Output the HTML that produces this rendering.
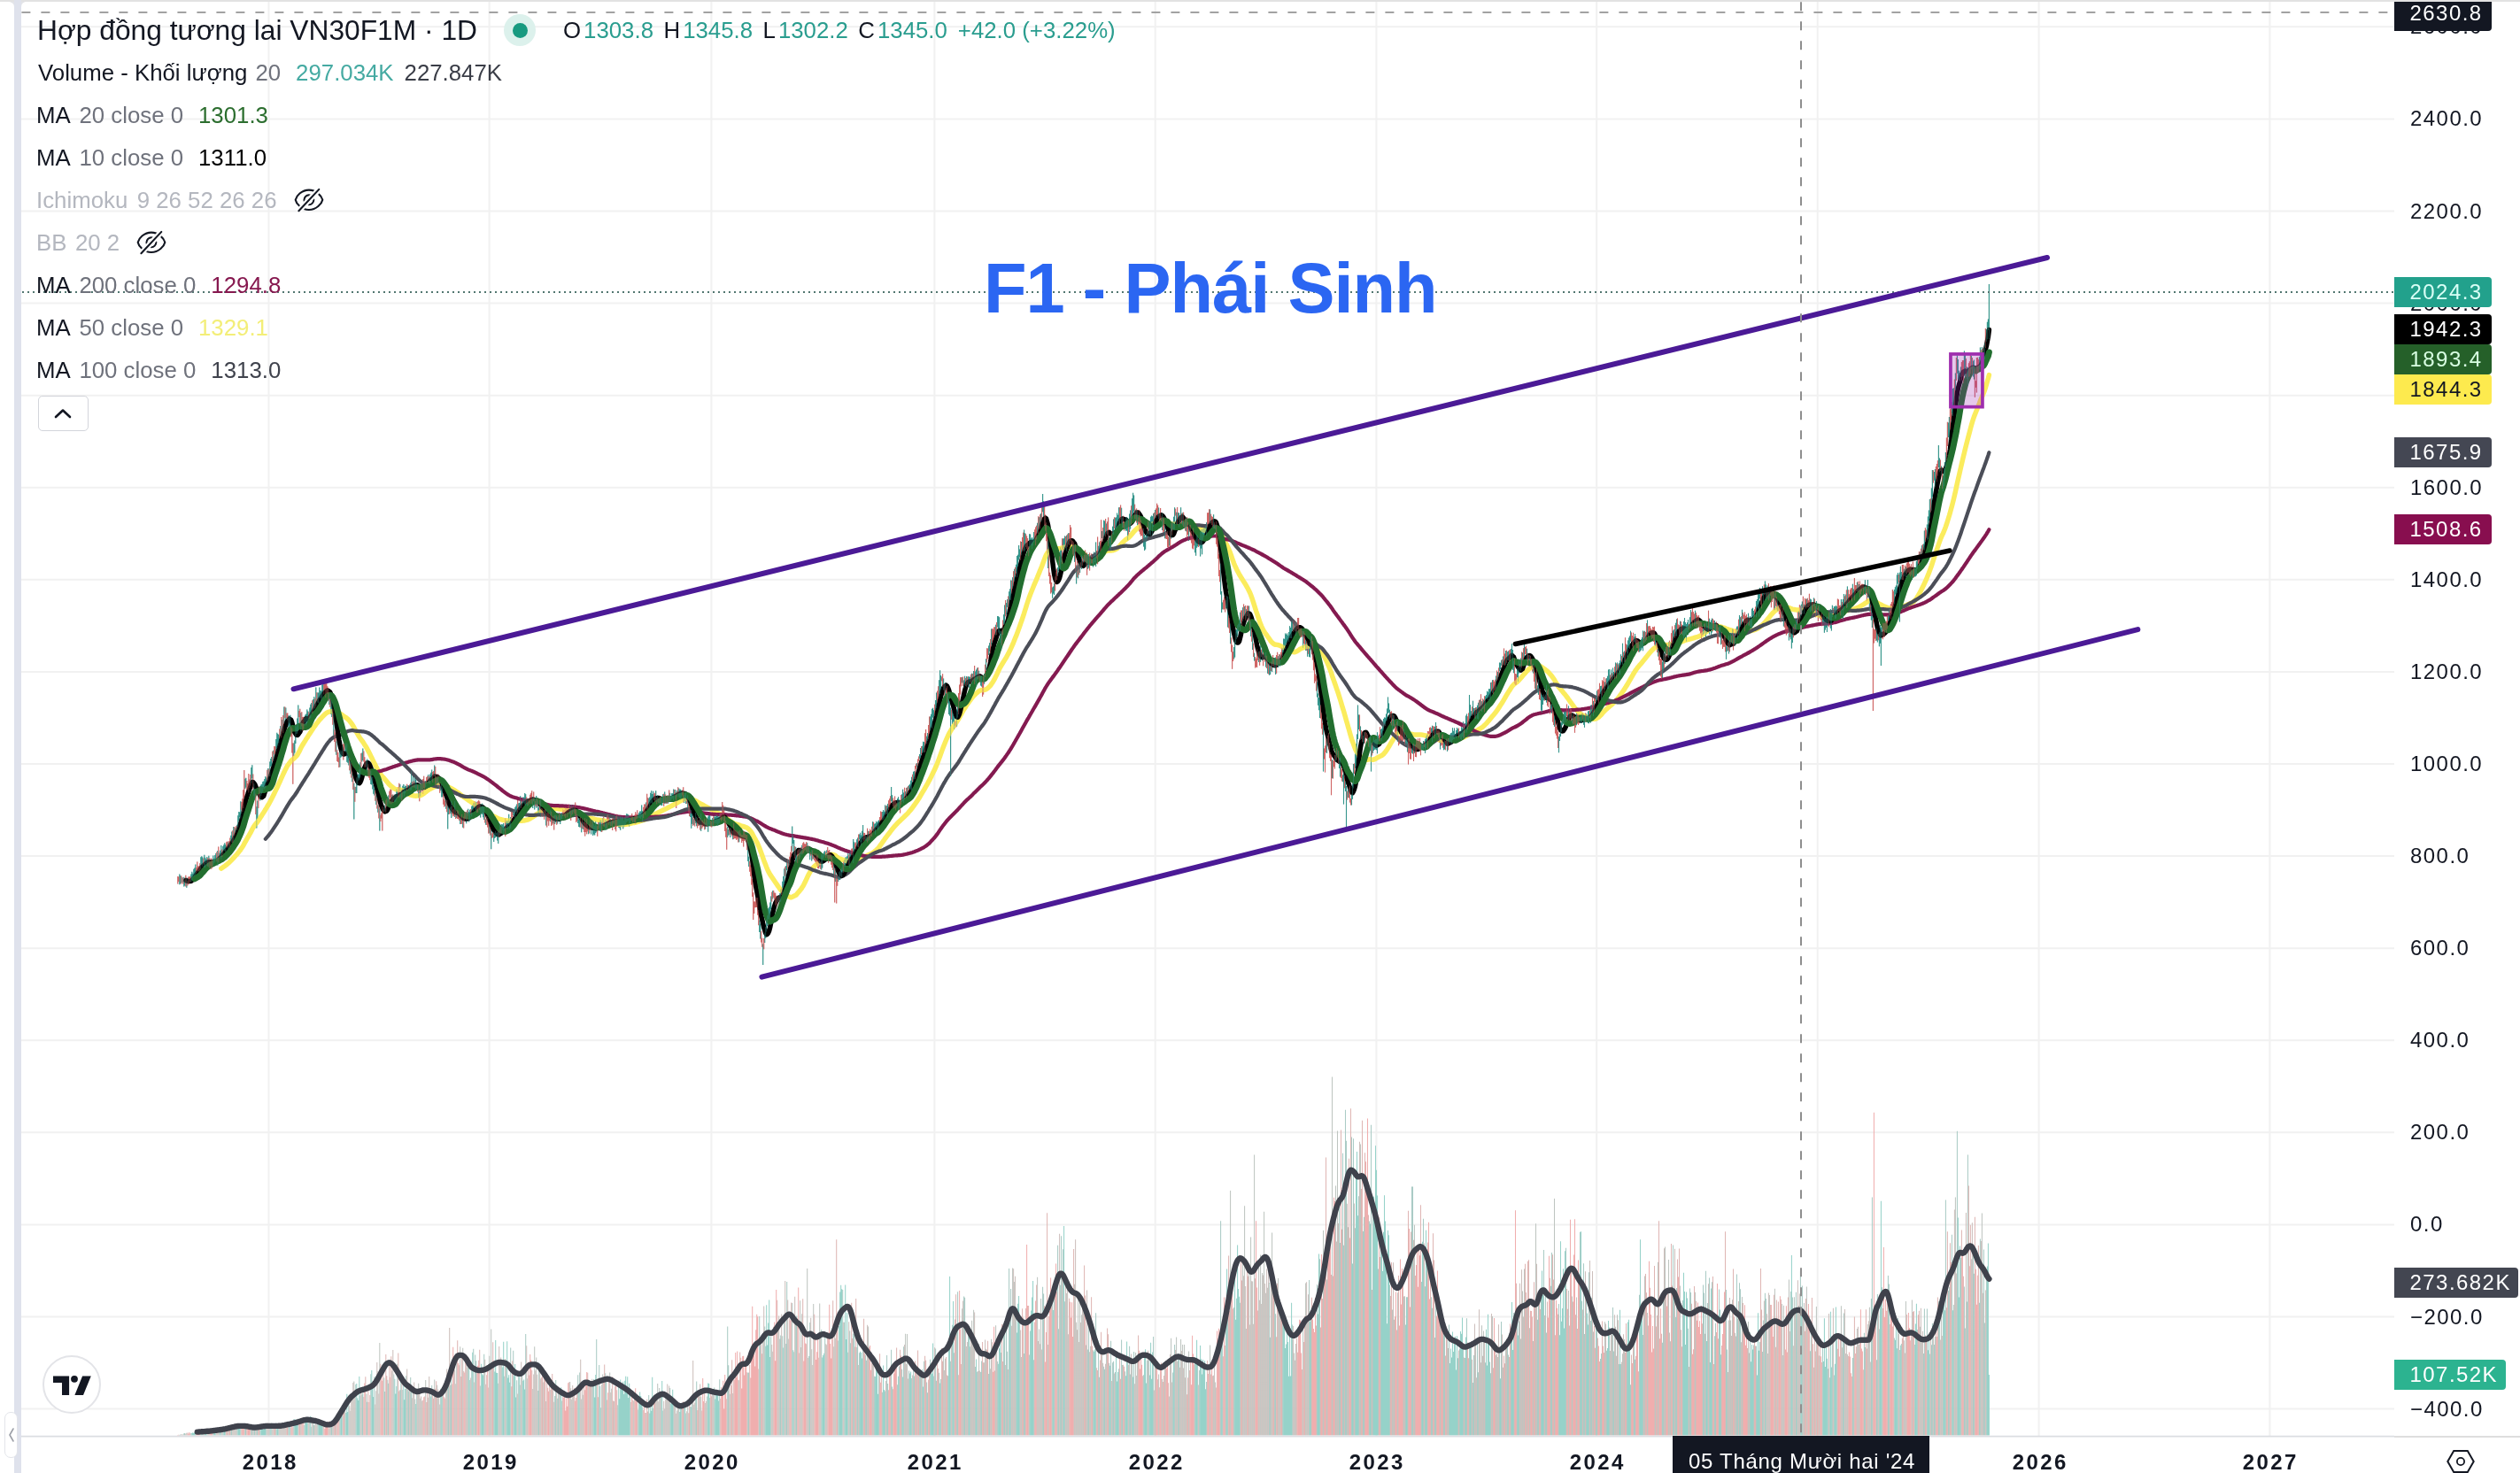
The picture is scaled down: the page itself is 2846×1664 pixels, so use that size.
<!DOCTYPE html>
<html lang="vi">
<head>
<meta charset="utf-8">
<title>Hợp đồng tương lai VN30F1M · 1D</title>
<style>
html,body{margin:0;padding:0;background:#fff;}
body{width:2846px;height:1664px;position:relative;overflow:hidden;font-family:"Liberation Sans",sans-serif;color:#131722;}
.abs{position:absolute;}
.legend,.ax,.lab,.yr,.big,.dt{will-change:transform;}
.topbar{left:0;top:0;width:2846px;height:2px;background:#e2e2e2;}
.leftband{left:16px;top:0;width:8px;height:1664px;background:#dfe2ec;}
svg.chart{position:absolute;left:0;top:0;}
.legend{position:absolute;left:43px;white-space:nowrap;font-size:25.8px;line-height:30px;height:30px;color:#131722;}
.legend span{display:inline-block;}
.g{color:#6f727c;}
.h{color:#b4b7bf;}
.title{font-size:31.75px;}
.ax{position:absolute;left:2721.5px;font-size:24px;line-height:28px;height:28px;letter-spacing:1.45px;color:#131722;white-space:nowrap;}
.lab{position:absolute;left:2704px;width:110px;height:34px;border-radius:0 4px 4px 0;font-size:24px;line-height:34px;letter-spacing:1.45px;color:#fff;white-space:nowrap;box-sizing:border-box;padding-left:17.5px;}
.yr{position:absolute;top:1638px;width:120px;margin-left:-60px;text-align:center;font-size:24px;line-height:28px;font-weight:bold;letter-spacing:2.4px;text-indent:2.4px;color:#131722;}
.big{position:absolute;left:1111.4px;top:281.2px;font-size:79.5px;line-height:90px;font-weight:bold;color:#2b66f2;white-space:nowrap;letter-spacing:-1px;}
</style>
</head>
<body>
<div class="abs topbar"></div>
<div class="abs leftband"></div>
<svg class="abs" style="left:0;top:0;" width="40" height="10" viewBox="0 0 40 10"><path d="M8 1.800Q16 2 16 8V1.800ZM31 1.800Q24 2 24 8V1.800Z" fill="#e3e4e8"/></svg>
<svg class="chart" width="2846" height="1664" viewBox="0 0 2846 1664">
<path d="M303.5 2V1622M552.6 2V1622M803.4 2V1622M1055.4 2V1622M1304.7 2V1622M1554.4 2V1622M1803.2 2V1622M2052.7 2V1622M2302.6 2V1622M2563.4 2V1622M24 1591.6H2704M24 1487.5H2704M24 1383.4H2704M24 1279.3H2704M24 1175.3H2704M24 1071.2H2704M24 967.1H2704M24 863.0H2704M24 758.9H2704M24 654.8H2704M24 550.7H2704M24 446.7H2704M24 342.6H2704M24 238.5H2704M24 134.4H2704M24 30.3H2704" stroke="#f1f1f1" stroke-width="2" fill="none"/>
<g>
<path d="M216.8 1621.5V1619.1M217.8 1621.5V1618.3M218.8 1621.5V1619.0M219.8 1621.5V1618.0M227.8 1621.5V1617.2M231.8 1621.5V1617.8M232.8 1621.5V1617.5M241.8 1621.5V1616.8M242.8 1621.5V1616.0M248.8 1621.5V1616.7M252.8 1621.5V1615.4M253.8 1621.5V1616.1M268.8 1621.5V1610.3M269.8 1621.5V1610.9M270.8 1621.5V1613.1M294.8 1621.5V1613.6M295.8 1621.5V1613.1M296.8 1621.5V1614.5M297.8 1621.5V1614.8M298.8 1621.5V1610.2M299.8 1621.5V1613.0M305.8 1621.5V1612.8M312.8 1621.5V1614.3M313.8 1621.5V1612.7M326.8 1621.5V1611.9M332.8 1621.5V1602.9M333.8 1621.5V1604.0M334.8 1621.5V1608.1M335.8 1621.5V1608.9M344.8 1621.5V1606.9M345.8 1621.5V1602.6M346.8 1621.5V1606.1M350.8 1621.5V1599.7M359.8 1621.5V1604.7M360.8 1621.5V1608.1M361.8 1621.5V1605.9M362.8 1621.5V1610.2M363.8 1621.5V1607.3M384.8 1621.5V1598.3M385.8 1621.5V1600.1M390.8 1621.5V1596.0M391.8 1621.5V1574.7M392.8 1621.5V1595.1M402.8 1621.5V1562.9M403.8 1621.5V1579.4M404.8 1621.5V1582.0M405.8 1621.5V1555.1M419.8 1621.5V1548.0M420.8 1621.5V1562.9M421.8 1621.5V1578.1M445.8 1621.5V1557.7M446.8 1621.5V1574.6M447.8 1621.5V1566.0M455.8 1621.5V1562.2M456.7 1621.5V1581.3M457.7 1621.5V1568.9M469.7 1621.5V1585.9M486.7 1621.5V1577.5M498.7 1621.5V1574.7M529.7 1621.5V1539.7M533.7 1621.5V1527.8M543.7 1621.5V1540.7M544.7 1621.5V1552.6M545.7 1621.5V1553.5M558.7 1621.5V1549.4M559.7 1621.5V1514.1M560.7 1621.5V1550.8M561.7 1621.5V1550.9M567.7 1621.5V1544.5M568.7 1621.5V1515.7M572.7 1621.5V1515.2M573.7 1621.5V1556.4M574.7 1621.5V1553.3M575.7 1621.5V1561.7M580.7 1621.5V1554.3M581.7 1621.5V1541.1M582.7 1621.5V1578.6M586.7 1621.5V1554.3M590.7 1621.5V1559.8M591.7 1621.5V1558.6M592.7 1621.5V1569.5M633.7 1621.5V1567.3M653.7 1621.5V1570.8M670.7 1621.5V1558.1M671.7 1621.5V1578.5M672.7 1621.5V1553.0M677.7 1621.5V1566.1M698.7 1621.5V1565.4M699.7 1621.5V1580.2M700.7 1621.5V1558.5M701.7 1621.5V1568.7M702.7 1621.5V1564.9M703.7 1621.5V1560.8M704.7 1621.5V1575.0M705.7 1621.5V1559.7M706.7 1621.5V1554.7M707.7 1621.5V1566.7M708.7 1621.5V1555.3M709.7 1621.5V1578.9M710.7 1621.5V1562.8M721.7 1621.5V1581.5M722.7 1621.5V1572.4M723.7 1621.5V1576.9M724.7 1621.5V1580.9M733.7 1621.5V1596.6M734.7 1621.5V1583.4M735.7 1621.5V1593.8M736.7 1621.5V1555.7M747.7 1621.5V1559.9M757.7 1621.5V1585.5M758.7 1621.5V1578.5M759.7 1621.5V1569.8M767.7 1621.5V1595.1M768.7 1621.5V1591.5M773.7 1621.5V1586.8M780.7 1621.5V1589.2M799.7 1621.5V1562.4M800.7 1621.5V1562.9M807.7 1621.5V1580.4M808.7 1621.5V1576.1M809.7 1621.5V1572.6M810.7 1621.5V1574.1M811.7 1621.5V1582.6M864.7 1621.5V1520.7M865.7 1621.5V1474.3M866.7 1621.5V1519.6M867.7 1621.5V1494.4M868.7 1621.5V1468.4M869.7 1621.5V1533.1M884.7 1621.5V1522.5M895.7 1621.5V1525.2M928.7 1621.5V1533.5M929.7 1621.5V1531.1M930.7 1621.5V1528.8M947.7 1621.5V1497.9M948.7 1621.5V1459.6M949.7 1621.5V1451.8M950.7 1621.5V1456.3M954.7 1621.5V1451.6M955.7 1621.5V1513.0M956.7 1621.5V1483.0M971.6 1621.5V1526.8M972.6 1621.5V1527.9M973.6 1621.5V1534.5M988.6 1621.5V1555.0M989.6 1621.5V1535.3M990.6 1621.5V1540.8M991.6 1621.5V1574.8M997.6 1621.5V1542.5M998.6 1621.5V1569.9M1014.6 1621.5V1554.8M1019.6 1621.5V1555.4M1027.6 1621.5V1551.6M1028.6 1621.5V1549.6M1042.6 1621.5V1566.4M1051.6 1621.5V1551.2M1052.6 1621.5V1551.7M1053.6 1621.5V1517.5M1061.6 1621.5V1562.4M1071.6 1621.5V1513.7M1072.6 1621.5V1442.0M1076.6 1621.5V1470.0M1094.6 1621.5V1498.2M1102.6 1621.5V1535.4M1127.6 1621.5V1540.7M1128.6 1621.5V1523.2M1129.6 1621.5V1515.0M1140.6 1621.5V1494.0M1148.6 1621.5V1505.4M1149.6 1621.5V1472.7M1150.6 1621.5V1463.9M1163.6 1621.5V1503.4M1164.6 1621.5V1480.5M1165.6 1621.5V1465.6M1166.6 1621.5V1446.9M1189.6 1621.5V1480.1M1201.6 1621.5V1384.9M1235.6 1621.5V1526.7M1236.6 1621.5V1524.4M1253.6 1621.5V1542.8M1260.6 1621.5V1526.5M1261.6 1621.5V1560.4M1262.6 1621.5V1550.1M1271.6 1621.5V1554.3M1272.6 1621.5V1515.5M1279.6 1621.5V1555.6M1292.6 1621.5V1533.9M1293.6 1621.5V1524.3M1294.6 1621.5V1562.6M1298.6 1621.5V1553.4M1299.6 1621.5V1516.7M1300.6 1621.5V1557.8M1301.6 1621.5V1527.5M1325.6 1621.5V1533.3M1350.6 1621.5V1535.7M1351.6 1621.5V1513.7M1355.6 1621.5V1520.1M1356.6 1621.5V1535.2M1357.6 1621.5V1552.4M1358.6 1621.5V1535.9M1359.6 1621.5V1545.2M1360.6 1621.5V1537.2M1361.6 1621.5V1569.2M1379.6 1621.5V1498.4M1385.6 1621.5V1433.6M1394.6 1621.5V1428.3M1395.6 1621.5V1490.7M1396.6 1621.5V1466.8M1397.6 1621.5V1406.4M1398.6 1621.5V1456.1M1399.6 1621.5V1464.8M1449.6 1621.5V1495.5M1450.6 1621.5V1489.6M1451.6 1621.5V1523.1M1452.6 1621.5V1518.5M1453.6 1621.5V1491.1M1454.6 1621.5V1515.9M1455.6 1621.5V1554.8M1456.6 1621.5V1508.5M1457.6 1621.5V1554.6M1458.6 1621.5V1471.7M1479.5 1621.5V1492.8M1488.5 1621.5V1484.4M1489.5 1621.5V1416.6M1527.5 1621.5V1427.5M1531.5 1621.5V1324.5M1532.5 1621.5V1300.9M1533.5 1621.5V1373.3M1547.5 1621.5V1382.6M1551.5 1621.5V1351.7M1552.5 1621.5V1375.8M1553.5 1621.5V1294.2M1554.5 1621.5V1321.8M1555.5 1621.5V1350.5M1560.5 1621.5V1403.6M1561.5 1621.5V1435.9M1562.5 1621.5V1391.7M1563.5 1621.5V1350.3M1564.5 1621.5V1379.6M1565.5 1621.5V1420.7M1566.5 1621.5V1495.2M1567.5 1621.5V1389.9M1568.5 1621.5V1395.2M1588.5 1621.5V1465.3M1606.5 1621.5V1402.7M1610.5 1621.5V1389.8M1637.5 1621.5V1539.9M1638.5 1621.5V1523.5M1639.5 1621.5V1533.4M1640.5 1621.5V1504.6M1641.5 1621.5V1527.0M1642.5 1621.5V1516.8M1643.5 1621.5V1509.8M1644.5 1621.5V1547.5M1645.5 1621.5V1509.3M1649.5 1621.5V1504.1M1650.5 1621.5V1506.8M1651.5 1621.5V1488.4M1655.5 1621.5V1510.5M1660.5 1621.5V1517.2M1678.5 1621.5V1501.8M1679.5 1621.5V1542.4M1680.5 1621.5V1484.8M1681.5 1621.5V1516.9M1682.5 1621.5V1538.4M1694.5 1621.5V1557.3M1707.5 1621.5V1470.9M1708.5 1621.5V1525.0M1714.5 1621.5V1508.5M1741.5 1621.5V1435.6M1742.5 1621.5V1462.5M1761.5 1621.5V1508.3M1762.5 1621.5V1402.3M1763.5 1621.5V1492.8M1764.5 1621.5V1477.9M1765.5 1621.5V1433.3M1766.5 1621.5V1500.4M1767.5 1621.5V1413.3M1785.5 1621.5V1391.2M1792.5 1621.5V1483.4M1793.5 1621.5V1496.6M1815.5 1621.5V1523.0M1816.5 1621.5V1492.1M1829.5 1621.5V1479.7M1838.5 1621.5V1493.6M1839.5 1621.5V1490.7M1840.5 1621.5V1520.3M1852.5 1621.5V1400.2M1853.5 1621.5V1485.8M1854.5 1621.5V1473.8M1901.5 1621.5V1437.7M1902.5 1621.5V1459.0M1903.5 1621.5V1519.0M1904.5 1621.5V1459.4M1905.5 1621.5V1466.5M1927.5 1621.5V1515.1M1931.5 1621.5V1538.9M1932.5 1621.5V1455.5M1942.5 1621.5V1479.4M1977.5 1621.5V1538.2M1978.5 1621.5V1518.9M1979.5 1621.5V1524.6M1984.5 1621.5V1553.6M1985.5 1621.5V1483.2M1986.5 1621.5V1525.7M2023.4 1621.5V1418.1M2034.4 1621.5V1479.0M2059.4 1621.5V1538.1M2060.4 1621.5V1489.2M2061.4 1621.5V1544.0M2062.4 1621.5V1522.8M2063.4 1621.5V1534.7M2067.4 1621.5V1481.8M2068.4 1621.5V1544.5M2072.4 1621.5V1540.7M2073.4 1621.5V1476.4M2123.4 1621.5V1474.1M2124.4 1621.5V1356.8M2140.4 1621.5V1513.8M2141.4 1621.5V1495.9M2142.4 1621.5V1523.2M2146.4 1621.5V1519.8M2163.4 1621.5V1495.5M2164.4 1621.5V1472.8M2177.4 1621.5V1525.2M2178.4 1621.5V1514.0M2195.4 1621.5V1463.7M2196.4 1621.5V1480.2M2205.4 1621.5V1480.3M2211.4 1621.5V1375.4M2212.4 1621.5V1465.5M2213.4 1621.5V1407.5M2244.4 1621.5V1430.5M2245.4 1621.5V1404.6M2246.4 1621.5V1553.0" stroke="#96d2c9" stroke-width="1.04" fill="none"/>
<path d="M202.8 1621.5V1621.0M203.8 1621.5V1620.6M207.8 1621.5V1619.3M208.8 1621.5V1619.1M215.8 1621.5V1618.8M220.8 1621.5V1616.9M226.8 1621.5V1617.7M228.8 1621.5V1617.3M230.8 1621.5V1617.2M233.8 1621.5V1616.4M240.8 1621.5V1616.1M243.8 1621.5V1617.3M247.8 1621.5V1616.6M249.8 1621.5V1614.2M251.8 1621.5V1614.4M254.8 1621.5V1616.4M260.8 1621.5V1612.3M261.8 1621.5V1612.9M267.8 1621.5V1610.8M271.8 1621.5V1611.6M276.8 1621.5V1612.5M277.8 1621.5V1609.8M283.8 1621.5V1612.0M284.8 1621.5V1614.3M286.8 1621.5V1614.3M287.8 1621.5V1612.5M289.8 1621.5V1610.3M290.8 1621.5V1613.5M293.8 1621.5V1615.7M300.8 1621.5V1614.4M304.8 1621.5V1609.6M306.8 1621.5V1607.5M311.8 1621.5V1607.5M314.8 1621.5V1610.7M325.8 1621.5V1611.0M327.8 1621.5V1610.5M331.8 1621.5V1603.3M336.8 1621.5V1602.4M343.8 1621.5V1610.1M347.8 1621.5V1606.1M349.8 1621.5V1605.0M351.8 1621.5V1611.8M353.8 1621.5V1603.4M354.8 1621.5V1610.1M358.8 1621.5V1608.4M364.8 1621.5V1605.1M373.8 1621.5V1611.0M374.8 1621.5V1604.4M383.8 1621.5V1594.3M386.8 1621.5V1599.0M389.8 1621.5V1594.3M393.8 1621.5V1581.7M401.8 1621.5V1564.1M406.8 1621.5V1576.6M408.8 1621.5V1575.3M409.8 1621.5V1573.4M413.8 1621.5V1574.8M414.8 1621.5V1583.7M418.8 1621.5V1552.3M422.8 1621.5V1555.3M433.8 1621.5V1556.4M434.8 1621.5V1572.0M437.8 1621.5V1558.7M438.8 1621.5V1562.8M444.8 1621.5V1552.6M448.8 1621.5V1540.7M451.8 1621.5V1570.3M452.8 1621.5V1554.1M454.8 1621.5V1570.1M458.7 1621.5V1554.2M460.7 1621.5V1569.7M461.7 1621.5V1571.5M463.7 1621.5V1556.0M464.7 1621.5V1565.1M468.7 1621.5V1580.4M470.7 1621.5V1568.4M485.7 1621.5V1570.5M487.7 1621.5V1564.9M497.7 1621.5V1568.7M499.7 1621.5V1566.7M505.7 1621.5V1565.9M506.7 1621.5V1552.9M508.7 1621.5V1564.8M509.7 1621.5V1555.5M528.7 1621.5V1538.3M530.7 1621.5V1559.1M532.7 1621.5V1539.7M534.7 1621.5V1523.8M536.7 1621.5V1530.4M537.7 1621.5V1537.3M542.7 1621.5V1565.4M546.7 1621.5V1529.8M557.7 1621.5V1543.5M562.7 1621.5V1562.8M566.7 1621.5V1539.2M569.7 1621.5V1554.8M571.7 1621.5V1541.1M576.7 1621.5V1522.5M579.7 1621.5V1525.7M583.7 1621.5V1559.2M585.7 1621.5V1551.8M587.7 1621.5V1564.6M589.7 1621.5V1547.7M593.7 1621.5V1507.1M607.7 1621.5V1571.1M608.7 1621.5V1539.4M626.7 1621.5V1577.0M627.7 1621.5V1558.9M629.7 1621.5V1579.7M630.7 1621.5V1573.4M632.7 1621.5V1571.0M634.7 1621.5V1582.6M652.7 1621.5V1553.2M654.7 1621.5V1550.5M669.7 1621.5V1565.0M673.7 1621.5V1512.9M676.7 1621.5V1542.1M678.7 1621.5V1590.2M683.7 1621.5V1551.3M684.7 1621.5V1558.3M697.7 1621.5V1587.3M711.7 1621.5V1571.4M720.7 1621.5V1592.6M725.7 1621.5V1589.5M732.7 1621.5V1576.0M737.7 1621.5V1590.9M746.7 1621.5V1576.8M748.7 1621.5V1593.4M756.7 1621.5V1567.9M760.7 1621.5V1583.0M766.7 1621.5V1584.9M769.7 1621.5V1590.1M772.7 1621.5V1587.6M774.7 1621.5V1596.6M779.7 1621.5V1589.0M781.7 1621.5V1575.8M785.7 1621.5V1577.1M786.7 1621.5V1560.5M798.7 1621.5V1577.4M801.7 1621.5V1579.0M806.7 1621.5V1567.5M812.7 1621.5V1558.3M821.7 1621.5V1498.6M822.7 1621.5V1542.3M844.7 1621.5V1550.7M845.7 1621.5V1550.5M857.7 1621.5V1486.9M858.7 1621.5V1513.7M863.7 1621.5V1498.5M870.7 1621.5V1510.3M880.7 1621.5V1512.5M881.7 1621.5V1508.5M883.7 1621.5V1509.3M885.7 1621.5V1494.3M887.7 1621.5V1518.1M888.7 1621.5V1448.0M894.7 1621.5V1471.9M896.7 1621.5V1527.2M898.7 1621.5V1494.3M899.7 1621.5V1486.6M913.7 1621.5V1532.1M914.7 1621.5V1493.9M927.7 1621.5V1501.9M931.7 1621.5V1505.1M946.7 1621.5V1514.6M951.7 1621.5V1457.0M953.7 1621.5V1493.8M957.7 1621.5V1527.8M959.7 1621.5V1503.4M960.7 1621.5V1517.3M963.7 1621.5V1506.4M964.7 1621.5V1507.2M967.7 1621.5V1522.1M968.6 1621.5V1509.0M970.6 1621.5V1528.2M974.6 1621.5V1521.0M977.6 1621.5V1530.7M978.6 1621.5V1536.7M987.6 1621.5V1554.8M992.6 1621.5V1548.2M996.6 1621.5V1572.8M999.6 1621.5V1571.4M1001.6 1621.5V1530.9M1002.6 1621.5V1563.1M1006.6 1621.5V1524.8M1007.6 1621.5V1566.6M1013.6 1621.5V1564.2M1015.6 1621.5V1543.5M1018.6 1621.5V1546.8M1020.6 1621.5V1521.2M1026.6 1621.5V1548.5M1029.6 1621.5V1557.0M1031.6 1621.5V1547.2M1032.6 1621.5V1554.4M1038.6 1621.5V1550.8M1039.6 1621.5V1554.2M1041.6 1621.5V1546.8M1043.6 1621.5V1537.8M1046.6 1621.5V1561.4M1047.6 1621.5V1573.3M1050.6 1621.5V1535.7M1054.6 1621.5V1554.5M1056.6 1621.5V1523.6M1057.6 1621.5V1559.8M1060.6 1621.5V1550.8M1062.6 1621.5V1557.9M1070.6 1621.5V1554.2M1073.6 1621.5V1537.7M1075.6 1621.5V1496.8M1077.6 1621.5V1528.2M1080.6 1621.5V1502.2M1081.6 1621.5V1459.2M1088.6 1621.5V1464.6M1089.6 1621.5V1465.7M1093.6 1621.5V1507.6M1095.6 1621.5V1521.3M1101.6 1621.5V1543.9M1103.6 1621.5V1549.7M1107.6 1621.5V1550.0M1108.6 1621.5V1537.4M1116.6 1621.5V1552.1M1117.6 1621.5V1531.3M1126.6 1621.5V1538.0M1130.6 1621.5V1528.0M1133.6 1621.5V1506.8M1134.6 1621.5V1504.6M1136.6 1621.5V1491.2M1137.6 1621.5V1526.7M1139.6 1621.5V1433.0M1141.6 1621.5V1455.9M1147.6 1621.5V1478.1M1151.6 1621.5V1488.3M1156.6 1621.5V1528.9M1157.6 1621.5V1496.2M1162.6 1621.5V1530.6M1167.6 1621.5V1536.2M1177.6 1621.5V1453.7M1178.6 1621.5V1461.6M1188.6 1621.5V1459.7M1190.6 1621.5V1462.3M1194.6 1621.5V1406.7M1195.6 1621.5V1501.2M1197.6 1621.5V1451.7M1198.6 1621.5V1396.2M1200.6 1621.5V1411.3M1202.6 1621.5V1470.2M1228.6 1621.5V1524.6M1229.6 1621.5V1492.4M1234.6 1621.5V1525.3M1237.6 1621.5V1483.3M1240.6 1621.5V1514.4M1241.6 1621.5V1555.8M1246.6 1621.5V1543.7M1247.6 1621.5V1546.8M1252.6 1621.5V1539.7M1254.6 1621.5V1514.7M1256.6 1621.5V1539.2M1257.6 1621.5V1537.7M1259.6 1621.5V1550.1M1263.6 1621.5V1546.3M1266.6 1621.5V1513.5M1267.6 1621.5V1542.1M1270.6 1621.5V1549.3M1273.6 1621.5V1535.6M1275.6 1621.5V1520.7M1276.6 1621.5V1552.4M1278.6 1621.5V1541.1M1280.6 1621.5V1527.0M1291.6 1621.5V1553.2M1295.6 1621.5V1536.7M1297.6 1621.5V1534.2M1302.6 1621.5V1510.0M1324.6 1621.5V1550.5M1326.6 1621.5V1519.1M1330.6 1621.5V1529.1M1331.6 1621.5V1529.2M1349.6 1621.5V1533.6M1352.6 1621.5V1538.9M1354.6 1621.5V1548.1M1362.6 1621.5V1561.1M1378.6 1621.5V1379.3M1380.6 1621.5V1492.0M1384.6 1621.5V1485.7M1386.6 1621.5V1478.6M1393.6 1621.5V1477.0M1400.6 1621.5V1471.7M1433.6 1621.5V1448.9M1434.6 1621.5V1510.8M1439.6 1621.5V1449.6M1440.6 1621.5V1484.3M1448.6 1621.5V1485.5M1459.6 1621.5V1496.5M1478.6 1621.5V1445.9M1480.5 1621.5V1485.2M1487.5 1621.5V1451.1M1490.5 1621.5V1422.3M1512.5 1621.5V1360.2M1513.5 1621.5V1404.1M1516.5 1621.5V1302.7M1517.5 1621.5V1406.8M1519.5 1621.5V1253.8M1520.5 1621.5V1288.7M1526.5 1621.5V1284.4M1528.5 1621.5V1286.3M1530.5 1621.5V1387.2M1534.5 1621.5V1351.3M1539.5 1621.5V1391.0M1540.5 1621.5V1374.8M1546.5 1621.5V1379.5M1548.5 1621.5V1270.8M1550.5 1621.5V1356.7M1556.5 1621.5V1433.5M1559.5 1621.5V1406.4M1569.5 1621.5V1451.2M1587.5 1621.5V1496.6M1589.5 1621.5V1465.3M1594.5 1621.5V1340.4M1595.5 1621.5V1340.4M1605.5 1621.5V1448.1M1607.5 1621.5V1376.8M1609.5 1621.5V1453.2M1611.5 1621.5V1418.5M1616.5 1621.5V1465.3M1617.5 1621.5V1477.8M1620.5 1621.5V1510.9M1621.5 1621.5V1452.2M1630.5 1621.5V1506.6M1631.5 1621.5V1493.1M1636.5 1621.5V1496.5M1646.5 1621.5V1534.3M1648.5 1621.5V1523.5M1652.5 1621.5V1520.5M1654.5 1621.5V1534.1M1656.5 1621.5V1489.2M1659.5 1621.5V1517.2M1661.5 1621.5V1521.4M1663.5 1621.5V1561.9M1664.5 1621.5V1531.1M1668.5 1621.5V1518.0M1669.5 1621.5V1550.3M1677.5 1621.5V1539.3M1683.5 1621.5V1551.3M1693.5 1621.5V1525.2M1695.5 1621.5V1493.1M1702.5 1621.5V1515.0M1703.5 1621.5V1530.6M1706.5 1621.5V1515.7M1709.5 1621.5V1483.0M1713.5 1621.5V1485.0M1715.5 1621.5V1492.4M1736.5 1621.5V1490.7M1737.5 1621.5V1473.3M1740.5 1621.5V1467.5M1743.5 1621.5V1412.1M1745.5 1621.5V1457.9M1746.5 1621.5V1505.5M1751.5 1621.5V1452.7M1752.5 1621.5V1415.1M1760.5 1621.5V1472.9M1768.5 1621.5V1409.7M1784.5 1621.5V1391.7M1786.5 1621.5V1469.8M1788.5 1621.5V1427.2M1789.5 1621.5V1507.0M1791.5 1621.5V1457.2M1794.5 1621.5V1437.2M1796.5 1621.5V1491.9M1797.5 1621.5V1466.0M1802.5 1621.5V1500.6M1803.5 1621.5V1501.3M1807.5 1621.5V1534.9M1808.5 1621.5V1528.9M1814.5 1621.5V1525.8M1817.5 1621.5V1499.4M1821.5 1621.5V1477.1M1822.5 1621.5V1526.4M1828.5 1621.5V1541.1M1830.5 1621.5V1540.9M1837.5 1621.5V1518.1M1841.5 1621.5V1564.2M1845.5 1621.5V1511.5M1846.5 1621.5V1535.8M1851.5 1621.5V1462.8M1855.5 1621.5V1508.0M1877.5 1621.5V1516.7M1878.5 1621.5V1462.0M1889.5 1621.5V1406.4M1890.5 1621.5V1456.4M1892.5 1621.5V1487.9M1893.5 1621.5V1455.0M1900.5 1621.5V1469.0M1906.5 1621.5V1500.8M1908.5 1621.5V1455.5M1909.5 1621.5V1459.9M1923.5 1621.5V1451.6M1924.5 1621.5V1460.5M1926.5 1621.5V1435.8M1928.5 1621.5V1471.9M1930.5 1621.5V1443.4M1933.5 1621.5V1448.2M1936.5 1621.5V1509.2M1937.5 1621.5V1494.8M1941.5 1621.5V1456.5M1943.5 1621.5V1530.2M1949.5 1621.5V1457.0M1950.5 1621.5V1524.6M1961.5 1621.5V1439.4M1962.5 1621.5V1489.6M1964.5 1621.5V1449.3M1965.5 1621.5V1456.2M1976.5 1621.5V1505.2M1980.5 1621.5V1519.4M1983.5 1621.5V1520.4M1987.5 1621.5V1516.0M1990.5 1621.5V1527.1M1991.4 1621.5V1491.5M1993.4 1621.5V1460.7M1994.4 1621.5V1467.0M2022.4 1621.5V1459.1M2024.4 1621.5V1465.6M2028.4 1621.5V1459.7M2029.4 1621.5V1483.4M2033.4 1621.5V1436.0M2035.4 1621.5V1452.5M2044.4 1621.5V1526.3M2045.4 1621.5V1493.1M2058.4 1621.5V1523.2M2064.4 1621.5V1546.3M2066.4 1621.5V1556.3M2069.4 1621.5V1514.0M2071.4 1621.5V1553.5M2074.4 1621.5V1507.6M2081.4 1621.5V1511.2M2082.4 1621.5V1483.6M2092.4 1621.5V1534.1M2093.4 1621.5V1515.8M2105.4 1621.5V1505.8M2106.4 1621.5V1521.9M2113.4 1621.5V1467.0M2114.4 1621.5V1352.4M2119.4 1621.5V1536.3M2120.4 1621.5V1462.0M2122.4 1621.5V1501.6M2125.4 1621.5V1454.3M2132.4 1621.5V1440.9M2133.4 1621.5V1450.5M2139.4 1621.5V1511.6M2143.4 1621.5V1489.1M2145.4 1621.5V1525.0M2147.4 1621.5V1518.1M2162.4 1621.5V1518.9M2165.4 1621.5V1501.9M2172.4 1621.5V1529.0M2173.4 1621.5V1478.5M2176.4 1621.5V1478.4M2179.4 1621.5V1529.6M2181.4 1621.5V1519.2M2182.4 1621.5V1495.0M2184.4 1621.5V1518.9M2185.4 1621.5V1509.9M2189.4 1621.5V1470.0M2190.4 1621.5V1482.0M2194.4 1621.5V1463.5M2197.4 1621.5V1355.4M2200.4 1621.5V1458.1M2201.4 1621.5V1453.8M2204.4 1621.5V1394.8M2206.4 1621.5V1474.1M2210.4 1621.5V1277.7M2214.4 1621.5V1421.1M2218.4 1621.5V1453.6M2219.4 1621.5V1500.5M2221.4 1621.5V1470.6M2222.4 1621.5V1304.6M2228.4 1621.5V1414.8M2229.4 1621.5V1438.8M2235.4 1621.5V1471.7M2236.4 1621.5V1399.4M2240.4 1621.5V1411.4M2241.4 1621.5V1494.4M2243.4 1621.5V1440.4" stroke="#aacbc5" stroke-width="1.04" fill="none"/>
<path d="M205.8 1621.5V1620.4M210.8 1621.5V1618.7M235.8 1621.5V1617.8M245.8 1621.5V1615.7M257.8 1621.5V1612.1M263.8 1621.5V1612.9M265.8 1621.5V1608.3M302.8 1621.5V1610.8M308.8 1621.5V1613.8M316.8 1621.5V1608.5M318.8 1621.5V1606.9M320.8 1621.5V1610.0M322.8 1621.5V1610.8M339.8 1621.5V1608.3M356.8 1621.5V1602.6M371.8 1621.5V1613.6M376.8 1621.5V1611.2M379.8 1621.5V1602.3M395.8 1621.5V1593.7M397.8 1621.5V1580.6M399.8 1621.5V1560.5M424.8 1621.5V1571.3M426.8 1621.5V1548.9M428.8 1621.5V1517.1M442.8 1621.5V1548.8M466.7 1621.5V1568.4M472.7 1621.5V1562.7M474.7 1621.5V1579.7M476.7 1621.5V1582.6M480.7 1621.5V1559.0M483.7 1621.5V1578.8M490.7 1621.5V1558.6M493.7 1621.5V1564.7M495.7 1621.5V1576.1M503.7 1621.5V1558.3M513.7 1621.5V1547.5M515.7 1621.5V1539.6M519.7 1621.5V1521.2M522.7 1621.5V1522.7M526.7 1621.5V1540.6M548.7 1621.5V1563.7M552.7 1621.5V1531.8M554.7 1621.5V1501.4M564.7 1621.5V1537.1M595.7 1621.5V1557.2M601.7 1621.5V1569.1M603.7 1621.5V1521.2M605.7 1621.5V1533.4M610.7 1621.5V1557.6M613.7 1621.5V1561.4M616.7 1621.5V1583.1M621.7 1621.5V1570.1M624.7 1621.5V1565.9M643.7 1621.5V1561.1M645.7 1621.5V1580.8M647.7 1621.5V1577.1M656.7 1621.5V1580.5M658.7 1621.5V1575.7M664.7 1621.5V1561.0M667.7 1621.5V1563.7M680.7 1621.5V1552.5M688.7 1621.5V1550.6M690.7 1621.5V1568.7M693.7 1621.5V1583.1M715.7 1621.5V1582.5M729.7 1621.5V1596.0M740.7 1621.5V1583.9M742.7 1621.5V1562.9M744.7 1621.5V1568.0M750.7 1621.5V1591.4M752.7 1621.5V1580.3M754.7 1621.5V1576.3M762.7 1621.5V1582.2M764.7 1621.5V1593.4M776.7 1621.5V1584.0M783.7 1621.5V1586.8M789.7 1621.5V1577.2M791.7 1621.5V1577.7M796.7 1621.5V1585.1M804.7 1621.5V1572.7M824.7 1621.5V1574.8M827.7 1621.5V1573.9M834.7 1621.5V1559.2M861.7 1621.5V1515.3M872.7 1621.5V1526.7M878.7 1621.5V1493.9M890.7 1621.5V1512.4M903.7 1621.5V1469.2M905.7 1621.5V1484.2M911.7 1621.5V1433.0M916.7 1621.5V1524.3M918.7 1621.5V1473.0M925.7 1621.5V1472.4M933.7 1621.5V1519.2M941.7 1621.5V1521.2M943.7 1621.5V1511.7M980.6 1621.5V1498.6M985.6 1621.5V1534.4M1022.6 1621.5V1506.8M1024.6 1621.5V1507.1M1035.6 1621.5V1550.6M1065.6 1621.5V1524.2M1067.6 1621.5V1534.7M1086.6 1621.5V1478.2M1091.6 1621.5V1521.0M1097.6 1621.5V1491.7M1099.6 1621.5V1479.8M1105.6 1621.5V1518.2M1111.6 1621.5V1539.3M1113.6 1621.5V1523.8M1119.6 1621.5V1512.8M1124.6 1621.5V1497.3M1143.6 1621.5V1432.4M1145.6 1621.5V1448.1M1153.6 1621.5V1532.9M1171.6 1621.5V1442.8M1173.6 1621.5V1501.6M1175.6 1621.5V1466.9M1183.6 1621.5V1519.1M1204.6 1621.5V1461.0M1206.6 1621.5V1507.2M1213.6 1621.5V1450.7M1215.6 1621.5V1493.8M1217.6 1621.5V1459.1M1219.6 1621.5V1463.8M1221.6 1621.5V1485.3M1223.6 1621.5V1477.7M1226.6 1621.5V1519.5M1231.6 1621.5V1520.8M1244.6 1621.5V1530.6M1249.6 1621.5V1526.6M1282.6 1621.5V1528.1M1284.6 1621.5V1530.9M1304.6 1621.5V1538.9M1308.6 1621.5V1552.5M1312.6 1621.5V1557.9M1315.6 1621.5V1546.1M1320.6 1621.5V1577.5M1322.6 1621.5V1511.8M1328.6 1621.5V1510.5M1333.6 1621.5V1512.9M1335.6 1621.5V1519.0M1337.6 1621.5V1518.9M1339.6 1621.5V1532.7M1342.6 1621.5V1526.4M1366.6 1621.5V1519.5M1370.6 1621.5V1553.7M1372.6 1621.5V1561.5M1389.6 1621.5V1344.9M1403.6 1621.5V1426.7M1405.6 1621.5V1362.3M1407.6 1621.5V1501.0M1410.6 1621.5V1437.7M1412.6 1621.5V1397.6M1414.6 1621.5V1447.4M1416.6 1621.5V1304.6M1421.6 1621.5V1431.4M1423.6 1621.5V1417.6M1425.6 1621.5V1438.0M1427.6 1621.5V1368.8M1429.6 1621.5V1460.8M1431.6 1621.5V1454.7M1436.6 1621.5V1392.6M1443.6 1621.5V1444.1M1445.6 1621.5V1472.3M1461.6 1621.5V1528.4M1463.6 1621.5V1518.0M1471.6 1621.5V1501.9M1474.6 1621.5V1449.6M1476.6 1621.5V1488.1M1494.5 1621.5V1389.9M1498.5 1621.5V1445.6M1504.5 1621.5V1216.4M1508.5 1621.5V1339.5M1510.5 1621.5V1277.6M1522.5 1621.5V1386.3M1536.5 1621.5V1292.4M1572.5 1621.5V1479.6M1574.5 1621.5V1490.7M1578.5 1621.5V1460.3M1585.5 1621.5V1464.4M1597.5 1621.5V1383.7M1626.5 1621.5V1484.3M1634.5 1621.5V1514.1M1666.5 1621.5V1514.8M1671.5 1621.5V1512.3M1673.5 1621.5V1497.3M1675.5 1621.5V1503.4M1685.5 1621.5V1486.9M1689.5 1621.5V1530.7M1691.5 1621.5V1532.9M1697.5 1621.5V1544.7M1700.5 1621.5V1521.6M1717.5 1621.5V1512.5M1719.5 1621.5V1458.5M1721.5 1621.5V1433.5M1724.5 1621.5V1472.7M1727.5 1621.5V1500.3M1731.5 1621.5V1515.1M1734.5 1621.5V1382.2M1755.5 1621.5V1353.9M1771.5 1621.5V1458.0M1775.5 1621.5V1464.5M1780.5 1621.5V1465.6M1799.5 1621.5V1504.5M1812.5 1621.5V1493.2M1819.5 1621.5V1501.4M1824.5 1621.5V1498.7M1826.5 1621.5V1485.3M1832.5 1621.5V1529.2M1834.5 1621.5V1512.9M1857.5 1621.5V1441.6M1860.5 1621.5V1483.0M1869.5 1621.5V1470.2M1872.5 1621.5V1425.7M1880.5 1621.5V1408.5M1884.5 1621.5V1423.0M1886.5 1621.5V1515.2M1897.5 1621.5V1452.5M1914.5 1621.5V1459.8M1952.5 1621.5V1491.5M1954.5 1621.5V1491.4M1956.5 1621.5V1468.2M1959.5 1621.5V1505.7M1967.5 1621.5V1465.1M1974.5 1621.5V1493.0M1996.4 1621.5V1528.9M1998.4 1621.5V1463.0M2004.4 1621.5V1455.7M2007.4 1621.5V1489.8M2012.4 1621.5V1472.9M2014.4 1621.5V1474.7M2020.4 1621.5V1445.6M2026.4 1621.5V1465.2M2031.4 1621.5V1474.9M2037.4 1621.5V1471.9M2040.4 1621.5V1453.4M2048.4 1621.5V1544.8M2051.4 1621.5V1476.0M2054.4 1621.5V1531.4M2079.4 1621.5V1475.3M2084.4 1621.5V1529.1M2086.4 1621.5V1529.9M2097.4 1621.5V1501.1M2099.4 1621.5V1519.1M2109.4 1621.5V1495.9M2111.4 1621.5V1476.8M2150.4 1621.5V1514.2M2152.4 1621.5V1470.1M2159.4 1621.5V1468.6M2168.4 1621.5V1498.8M2170.4 1621.5V1510.1M2192.4 1621.5V1461.4M2208.4 1621.5V1352.4M2226.4 1621.5V1422.3M2238.4 1621.5V1370.6" stroke="#bec5c0" stroke-width="1.04" fill="none"/>
<path d="M200.8 1621.5V1621.1M212.8 1621.5V1619.6M213.8 1621.5V1618.1M222.8 1621.5V1617.9M223.8 1621.5V1616.3M224.8 1621.5V1618.3M237.8 1621.5V1617.3M238.8 1621.5V1616.5M273.8 1621.5V1613.3M274.8 1621.5V1611.3M279.8 1621.5V1610.7M280.8 1621.5V1613.1M281.8 1621.5V1611.1M329.8 1621.5V1607.5M341.8 1621.5V1608.0M366.8 1621.5V1614.0M367.8 1621.5V1607.8M368.8 1621.5V1609.6M369.8 1621.5V1612.0M381.8 1621.5V1605.0M411.8 1621.5V1562.5M416.8 1621.5V1584.0M430.8 1621.5V1553.5M431.8 1621.5V1559.7M440.8 1621.5V1555.7M478.7 1621.5V1578.2M501.7 1621.5V1578.3M511.7 1621.5V1521.8M517.7 1621.5V1540.1M524.7 1621.5V1550.5M539.7 1621.5V1542.7M540.7 1621.5V1536.8M550.7 1621.5V1544.7M597.7 1621.5V1553.6M598.7 1621.5V1529.9M599.7 1621.5V1536.6M618.7 1621.5V1567.7M619.7 1621.5V1571.7M636.7 1621.5V1578.5M637.7 1621.5V1576.8M638.7 1621.5V1593.4M639.7 1621.5V1579.7M640.7 1621.5V1588.7M641.7 1621.5V1562.2M649.7 1621.5V1582.4M650.7 1621.5V1579.0M660.7 1621.5V1570.2M661.7 1621.5V1564.4M662.7 1621.5V1550.1M686.7 1621.5V1573.2M695.7 1621.5V1560.7M713.7 1621.5V1576.7M717.7 1621.5V1568.2M718.7 1621.5V1582.8M727.7 1621.5V1587.6M793.7 1621.5V1556.9M794.7 1621.5V1583.1M814.7 1621.5V1567.1M815.7 1621.5V1572.9M816.7 1621.5V1559.7M817.7 1621.5V1591.4M818.7 1621.5V1553.1M819.7 1621.5V1572.0M829.7 1621.5V1558.6M830.7 1621.5V1527.9M831.7 1621.5V1556.0M832.7 1621.5V1526.6M836.7 1621.5V1533.8M837.7 1621.5V1568.5M838.7 1621.5V1532.1M839.7 1621.5V1531.8M840.7 1621.5V1553.4M841.7 1621.5V1539.8M842.7 1621.5V1538.5M847.7 1621.5V1556.5M848.7 1621.5V1532.6M849.7 1621.5V1475.7M850.7 1621.5V1525.5M851.7 1621.5V1527.0M852.7 1621.5V1543.5M853.7 1621.5V1502.2M854.7 1621.5V1484.7M855.7 1621.5V1487.2M874.7 1621.5V1493.6M875.7 1621.5V1537.3M876.7 1621.5V1457.1M892.7 1621.5V1491.4M901.7 1621.5V1454.6M907.7 1621.5V1537.6M908.7 1621.5V1499.5M909.7 1621.5V1517.4M920.7 1621.5V1505.6M921.7 1621.5V1536.0M922.7 1621.5V1527.2M923.7 1621.5V1508.3M935.7 1621.5V1507.9M936.7 1621.5V1473.7M937.7 1621.5V1518.1M938.7 1621.5V1534.4M939.7 1621.5V1512.2M982.6 1621.5V1520.0M983.6 1621.5V1547.8M994.6 1621.5V1561.7M1004.6 1621.5V1546.1M1009.6 1621.5V1551.4M1010.6 1621.5V1538.8M1011.6 1621.5V1538.0M1083.6 1621.5V1458.0M1084.6 1621.5V1501.6M1121.6 1621.5V1549.8M1122.6 1621.5V1498.8M1159.6 1621.5V1406.1M1160.6 1621.5V1475.0M1169.6 1621.5V1469.4M1180.6 1621.5V1538.5M1181.6 1621.5V1505.1M1185.6 1621.5V1480.7M1186.6 1621.5V1443.6M1192.6 1621.5V1427.4M1208.6 1621.5V1470.8M1209.6 1621.5V1488.5M1210.6 1621.5V1471.2M1211.6 1621.5V1510.0M1286.6 1621.5V1525.7M1287.6 1621.5V1546.5M1288.6 1621.5V1536.0M1289.6 1621.5V1541.7M1306.6 1621.5V1542.0M1310.6 1621.5V1546.4M1317.6 1621.5V1546.1M1318.6 1621.5V1542.5M1344.6 1621.5V1537.3M1345.6 1621.5V1564.3M1346.6 1621.5V1508.8M1347.6 1621.5V1529.5M1364.6 1621.5V1551.9M1368.6 1621.5V1542.9M1374.6 1621.5V1503.4M1375.6 1621.5V1532.2M1376.6 1621.5V1500.8M1382.6 1621.5V1465.6M1391.6 1621.5V1438.4M1418.6 1621.5V1379.3M1419.6 1621.5V1454.4M1465.6 1621.5V1527.7M1466.6 1621.5V1506.0M1467.6 1621.5V1490.8M1468.6 1621.5V1491.5M1469.6 1621.5V1528.4M1482.5 1621.5V1490.6M1483.5 1621.5V1500.9M1484.5 1621.5V1505.0M1485.5 1621.5V1482.5M1492.5 1621.5V1416.9M1496.5 1621.5V1437.8M1500.5 1621.5V1394.5M1501.5 1621.5V1413.4M1502.5 1621.5V1383.4M1506.5 1621.5V1352.8M1524.5 1621.5V1398.4M1542.5 1621.5V1312.3M1543.5 1621.5V1332.7M1544.5 1621.5V1263.4M1576.5 1621.5V1459.4M1580.5 1621.5V1497.5M1581.5 1621.5V1422.4M1582.5 1621.5V1473.5M1583.5 1621.5V1433.0M1591.5 1621.5V1387.9M1592.5 1621.5V1476.6M1599.5 1621.5V1428.9M1600.5 1621.5V1409.7M1601.5 1621.5V1453.8M1602.5 1621.5V1407.2M1603.5 1621.5V1418.2M1613.5 1621.5V1380.7M1614.5 1621.5V1467.4M1623.5 1621.5V1435.6M1624.5 1621.5V1476.6M1628.5 1621.5V1495.9M1687.5 1621.5V1489.0M1711.5 1621.5V1367.3M1729.5 1621.5V1481.1M1748.5 1621.5V1488.5M1749.5 1621.5V1418.8M1757.5 1621.5V1468.8M1758.5 1621.5V1477.7M1773.5 1621.5V1377.7M1777.5 1621.5V1417.4M1778.5 1621.5V1377.2M1782.5 1621.5V1423.5M1805.5 1621.5V1520.5M1810.5 1621.5V1520.6M1843.5 1621.5V1539.9M1848.5 1621.5V1509.8M1849.5 1621.5V1504.7M1862.5 1621.5V1424.8M1863.5 1621.5V1454.8M1864.5 1621.5V1485.1M1865.5 1621.5V1527.6M1866.5 1621.5V1498.1M1867.5 1621.5V1523.5M1874.5 1621.5V1512.3M1875.5 1621.5V1478.3M1882.5 1621.5V1475.5M1895.5 1621.5V1442.5M1911.5 1621.5V1529.7M1912.5 1621.5V1524.3M1916.5 1621.5V1491.8M1917.5 1621.5V1471.6M1918.5 1621.5V1498.9M1919.5 1621.5V1492.3M1920.5 1621.5V1506.9M1921.5 1621.5V1475.0M1939.5 1621.5V1450.1M1945.5 1621.5V1506.9M1946.5 1621.5V1490.3M1947.5 1621.5V1459.5M1969.5 1621.5V1486.5M1970.5 1621.5V1474.2M1971.5 1621.5V1519.8M1972.5 1621.5V1510.8M2000.4 1621.5V1474.1M2001.4 1621.5V1495.1M2002.4 1621.5V1510.0M2009.4 1621.5V1490.1M2010.4 1621.5V1464.3M2016.4 1621.5V1524.6M2017.4 1621.5V1475.3M2018.4 1621.5V1527.6M2042.4 1621.5V1472.9M2056.4 1621.5V1532.2M2076.4 1621.5V1512.4M2077.4 1621.5V1532.6M2088.4 1621.5V1527.6M2089.4 1621.5V1532.4M2090.4 1621.5V1551.3M2095.4 1621.5V1529.1M2101.4 1621.5V1479.3M2102.4 1621.5V1523.4M2103.4 1621.5V1526.6M2116.4 1621.5V1256.8M2117.4 1621.5V1498.5M2127.4 1621.5V1409.1M2128.4 1621.5V1488.0M2129.4 1621.5V1467.7M2130.4 1621.5V1480.7M2135.4 1621.5V1482.7M2136.4 1621.5V1480.6M2137.4 1621.5V1498.4M2154.4 1621.5V1506.1M2155.4 1621.5V1483.1M2156.4 1621.5V1500.1M2157.4 1621.5V1514.3M2187.4 1621.5V1509.9M2216.4 1621.5V1413.0M2224.4 1621.5V1430.3M2231.4 1621.5V1433.7M2232.4 1621.5V1473.8M2233.4 1621.5V1440.8" stroke="#f0aeae" stroke-width="1.04" fill="none"/>
<path d="M201.8 1621.5V1620.8M211.8 1621.5V1618.5M214.8 1621.5V1619.3M221.8 1621.5V1617.5M225.8 1621.5V1616.6M236.8 1621.5V1617.4M239.8 1621.5V1616.1M255.8 1621.5V1613.2M256.8 1621.5V1613.1M258.8 1621.5V1610.5M259.8 1621.5V1612.6M272.8 1621.5V1612.1M275.8 1621.5V1612.1M278.8 1621.5V1613.6M282.8 1621.5V1612.1M291.8 1621.5V1612.2M292.8 1621.5V1615.0M309.8 1621.5V1611.5M310.8 1621.5V1612.8M323.8 1621.5V1610.6M324.8 1621.5V1610.8M328.8 1621.5V1612.5M330.8 1621.5V1612.3M337.8 1621.5V1606.0M338.8 1621.5V1604.3M340.8 1621.5V1601.5M342.8 1621.5V1604.7M365.8 1621.5V1608.0M370.8 1621.5V1605.8M377.8 1621.5V1606.5M378.8 1621.5V1604.6M380.8 1621.5V1598.2M382.8 1621.5V1597.5M387.8 1621.5V1586.9M388.8 1621.5V1584.6M410.8 1621.5V1577.9M412.8 1621.5V1555.2M415.8 1621.5V1569.4M417.8 1621.5V1575.9M429.8 1621.5V1540.8M432.8 1621.5V1542.6M435.8 1621.5V1530.1M436.8 1621.5V1554.2M439.8 1621.5V1538.3M441.8 1621.5V1532.2M449.8 1621.5V1528.6M450.8 1621.5V1571.4M477.7 1621.5V1581.8M479.7 1621.5V1577.4M481.7 1621.5V1584.1M482.7 1621.5V1573.3M488.7 1621.5V1573.9M489.7 1621.5V1579.7M491.7 1621.5V1568.8M492.7 1621.5V1560.3M500.7 1621.5V1573.0M502.7 1621.5V1579.7M510.7 1621.5V1563.4M512.7 1621.5V1537.1M516.7 1621.5V1514.3M518.7 1621.5V1542.2M520.7 1621.5V1555.0M521.7 1621.5V1533.5M523.7 1621.5V1549.0M525.7 1621.5V1532.8M538.7 1621.5V1550.9M541.7 1621.5V1524.7M549.7 1621.5V1553.3M551.7 1621.5V1567.4M555.7 1621.5V1539.5M556.7 1621.5V1516.3M577.7 1621.5V1566.3M578.7 1621.5V1537.5M596.7 1621.5V1538.4M600.7 1621.5V1548.1M611.7 1621.5V1555.9M612.7 1621.5V1547.2M614.7 1621.5V1549.3M615.7 1621.5V1558.8M617.7 1621.5V1560.8M620.7 1621.5V1557.7M622.7 1621.5V1558.6M623.7 1621.5V1551.9M635.7 1621.5V1578.2M642.7 1621.5V1561.5M648.7 1621.5V1567.9M651.7 1621.5V1567.2M659.7 1621.5V1566.1M663.7 1621.5V1550.8M665.7 1621.5V1564.8M666.7 1621.5V1563.6M674.7 1621.5V1560.7M675.7 1621.5V1578.2M681.7 1621.5V1555.4M682.7 1621.5V1541.6M685.7 1621.5V1581.4M687.7 1621.5V1557.6M691.7 1621.5V1555.3M692.7 1621.5V1582.4M694.7 1621.5V1566.2M696.7 1621.5V1570.2M712.7 1621.5V1584.1M714.7 1621.5V1581.6M716.7 1621.5V1577.6M719.7 1621.5V1579.7M726.7 1621.5V1593.0M728.7 1621.5V1596.1M730.7 1621.5V1580.8M731.7 1621.5V1594.4M738.7 1621.5V1581.6M739.7 1621.5V1582.3M770.7 1621.5V1590.1M771.7 1621.5V1583.3M777.7 1621.5V1596.3M778.7 1621.5V1582.7M787.7 1621.5V1592.9M788.7 1621.5V1575.6M792.7 1621.5V1593.6M795.7 1621.5V1573.2M802.7 1621.5V1567.7M803.7 1621.5V1577.3M813.7 1621.5V1579.9M820.7 1621.5V1580.3M825.7 1621.5V1565.1M826.7 1621.5V1536.3M828.7 1621.5V1558.2M833.7 1621.5V1558.7M835.7 1621.5V1527.4M843.7 1621.5V1550.3M846.7 1621.5V1542.0M856.7 1621.5V1546.4M859.7 1621.5V1518.9M860.7 1621.5V1529.3M873.7 1621.5V1498.8M877.7 1621.5V1468.8M891.7 1621.5V1489.6M893.7 1621.5V1471.6M900.7 1621.5V1489.8M902.7 1621.5V1528.4M906.7 1621.5V1467.2M910.7 1621.5V1518.3M919.7 1621.5V1484.8M924.7 1621.5V1533.8M934.7 1621.5V1505.3M940.7 1621.5V1469.3M944.7 1621.5V1400.2M945.7 1621.5V1489.6M961.7 1621.5V1471.7M962.7 1621.5V1511.9M965.7 1621.5V1521.5M966.7 1621.5V1466.9M975.6 1621.5V1489.8M976.6 1621.5V1529.3M981.6 1621.5V1521.8M984.6 1621.5V1539.7M993.6 1621.5V1529.2M995.6 1621.5V1550.4M1003.6 1621.5V1570.2M1005.6 1621.5V1548.6M1008.6 1621.5V1569.3M1012.6 1621.5V1522.6M1016.6 1621.5V1524.7M1017.6 1621.5V1531.4M1033.6 1621.5V1537.5M1034.6 1621.5V1550.9M1036.6 1621.5V1525.5M1037.6 1621.5V1547.4M1044.6 1621.5V1531.7M1045.6 1621.5V1536.8M1048.6 1621.5V1558.5M1049.6 1621.5V1548.7M1058.6 1621.5V1532.6M1059.6 1621.5V1545.9M1063.6 1621.5V1522.9M1064.6 1621.5V1537.8M1068.6 1621.5V1533.0M1069.6 1621.5V1553.5M1078.6 1621.5V1490.4M1079.6 1621.5V1462.2M1082.6 1621.5V1553.3M1085.6 1621.5V1540.9M1109.6 1621.5V1515.9M1110.6 1621.5V1539.2M1114.6 1621.5V1524.7M1115.6 1621.5V1514.8M1120.6 1621.5V1516.3M1123.6 1621.5V1548.4M1131.6 1621.5V1496.1M1132.6 1621.5V1538.1M1154.6 1621.5V1478.3M1155.6 1621.5V1488.6M1158.6 1621.5V1478.0M1161.6 1621.5V1475.0M1168.6 1621.5V1493.5M1170.6 1621.5V1451.4M1179.6 1621.5V1475.2M1182.6 1621.5V1370.3M1184.6 1621.5V1487.1M1187.6 1621.5V1462.6M1191.6 1621.5V1463.8M1193.6 1621.5V1459.2M1207.6 1621.5V1466.7M1212.6 1621.5V1411.0M1224.6 1621.5V1429.5M1225.6 1621.5V1463.6M1232.6 1621.5V1465.3M1233.6 1621.5V1520.4M1238.6 1621.5V1545.3M1239.6 1621.5V1547.9M1242.6 1621.5V1536.6M1243.6 1621.5V1504.8M1250.6 1621.5V1500.4M1251.6 1621.5V1507.3M1264.6 1621.5V1533.8M1265.6 1621.5V1557.8M1268.6 1621.5V1541.7M1269.6 1621.5V1543.8M1285.6 1621.5V1508.4M1290.6 1621.5V1554.3M1305.6 1621.5V1539.2M1307.6 1621.5V1558.3M1309.6 1621.5V1567.3M1311.6 1621.5V1539.4M1313.6 1621.5V1560.9M1314.6 1621.5V1554.0M1316.6 1621.5V1544.2M1319.6 1621.5V1562.3M1340.6 1621.5V1575.2M1341.6 1621.5V1556.2M1343.6 1621.5V1547.9M1348.6 1621.5V1541.3M1363.6 1621.5V1537.1M1365.6 1621.5V1542.6M1367.6 1621.5V1552.5M1369.6 1621.5V1554.2M1373.6 1621.5V1567.5M1377.6 1621.5V1520.4M1381.6 1621.5V1532.3M1383.6 1621.5V1520.0M1387.6 1621.5V1418.6M1388.6 1621.5V1480.8M1390.6 1621.5V1457.2M1392.6 1621.5V1478.5M1401.6 1621.5V1425.5M1402.6 1621.5V1446.4M1408.6 1621.5V1435.2M1409.6 1621.5V1441.7M1417.6 1621.5V1444.2M1420.6 1621.5V1480.4M1437.6 1621.5V1445.2M1438.6 1621.5V1439.0M1441.6 1621.5V1510.3M1442.6 1621.5V1449.7M1446.6 1621.5V1476.1M1447.6 1621.5V1491.3M1464.6 1621.5V1511.8M1470.6 1621.5V1547.0M1472.6 1621.5V1516.1M1473.6 1621.5V1486.7M1481.5 1621.5V1465.7M1486.5 1621.5V1497.6M1491.5 1621.5V1499.4M1493.5 1621.5V1467.0M1495.5 1621.5V1421.7M1497.5 1621.5V1307.6M1499.5 1621.5V1403.1M1503.5 1621.5V1440.0M1505.5 1621.5V1441.6M1507.5 1621.5V1357.1M1514.5 1621.5V1276.5M1515.5 1621.5V1388.7M1523.5 1621.5V1308.8M1525.5 1621.5V1252.3M1537.5 1621.5V1342.9M1538.5 1621.5V1265.7M1541.5 1621.5V1302.3M1545.5 1621.5V1372.6M1557.5 1621.5V1375.2M1558.5 1621.5V1420.1M1570.5 1621.5V1464.1M1571.5 1621.5V1426.0M1575.5 1621.5V1487.3M1577.5 1621.5V1502.4M1579.5 1621.5V1441.0M1584.5 1621.5V1443.4M1590.5 1621.5V1367.7M1593.5 1621.5V1391.6M1598.5 1621.5V1441.0M1604.5 1621.5V1361.3M1612.5 1621.5V1403.5M1615.5 1621.5V1445.3M1618.5 1621.5V1393.3M1619.5 1621.5V1423.4M1622.5 1621.5V1486.8M1625.5 1621.5V1488.5M1627.5 1621.5V1482.0M1629.5 1621.5V1505.6M1632.5 1621.5V1531.6M1633.5 1621.5V1509.8M1657.5 1621.5V1516.7M1658.5 1621.5V1534.3M1686.5 1621.5V1545.2M1688.5 1621.5V1522.0M1698.5 1621.5V1531.5M1699.5 1621.5V1540.3M1704.5 1621.5V1533.0M1705.5 1621.5V1495.5M1710.5 1621.5V1498.4M1712.5 1621.5V1449.8M1722.5 1621.5V1427.7M1723.5 1621.5V1459.9M1725.5 1621.5V1424.8M1726.5 1621.5V1423.2M1728.5 1621.5V1480.7M1730.5 1621.5V1487.5M1732.5 1621.5V1448.2M1733.5 1621.5V1475.6M1738.5 1621.5V1459.4M1739.5 1621.5V1479.1M1747.5 1621.5V1470.6M1750.5 1621.5V1443.8M1753.5 1621.5V1417.2M1754.5 1621.5V1445.5M1756.5 1621.5V1508.2M1759.5 1621.5V1484.8M1769.5 1621.5V1456.0M1770.5 1621.5V1478.7M1772.5 1621.5V1497.6M1774.5 1621.5V1436.3M1776.5 1621.5V1470.5M1779.5 1621.5V1485.2M1781.5 1621.5V1500.9M1783.5 1621.5V1445.4M1800.5 1621.5V1498.0M1801.5 1621.5V1522.7M1804.5 1621.5V1511.6M1806.5 1621.5V1538.0M1809.5 1621.5V1492.6M1811.5 1621.5V1527.9M1835.5 1621.5V1528.0M1836.5 1621.5V1495.0M1842.5 1621.5V1530.4M1844.5 1621.5V1514.6M1847.5 1621.5V1531.7M1850.5 1621.5V1549.2M1858.5 1621.5V1438.9M1859.5 1621.5V1460.3M1861.5 1621.5V1497.4M1868.5 1621.5V1430.1M1870.5 1621.5V1498.4M1871.5 1621.5V1485.9M1873.5 1621.5V1379.3M1876.5 1621.5V1506.7M1881.5 1621.5V1462.4M1883.5 1621.5V1455.8M1887.5 1621.5V1404.9M1888.5 1621.5V1452.6M1894.5 1621.5V1422.4M1896.5 1621.5V1410.6M1898.5 1621.5V1502.3M1899.5 1621.5V1521.2M1910.5 1621.5V1472.8M1913.5 1621.5V1453.1M1915.5 1621.5V1469.7M1922.5 1621.5V1495.3M1934.5 1621.5V1442.1M1935.5 1621.5V1541.0M1938.5 1621.5V1504.9M1940.5 1621.5V1512.2M1944.5 1621.5V1520.1M1948.5 1621.5V1391.2M1957.5 1621.5V1433.4M1958.5 1621.5V1487.6M1968.5 1621.5V1472.0M1973.5 1621.5V1523.1M1981.5 1621.5V1513.5M1982.5 1621.5V1520.4M1988.5 1621.5V1433.0M1989.5 1621.5V1479.4M1999.4 1621.5V1473.9M2003.4 1621.5V1462.7M2005.4 1621.5V1521.7M2006.4 1621.5V1468.5M2008.4 1621.5V1470.6M2011.4 1621.5V1468.0M2015.4 1621.5V1497.0M2019.4 1621.5V1465.5M2038.4 1621.5V1503.8M2039.4 1621.5V1467.1M2041.4 1621.5V1496.8M2043.4 1621.5V1486.4M2046.4 1621.5V1465.9M2047.4 1621.5V1518.2M2049.4 1621.5V1505.4M2050.4 1621.5V1526.4M2052.4 1621.5V1516.2M2053.4 1621.5V1516.8M2055.4 1621.5V1513.8M2057.4 1621.5V1539.1M2075.4 1621.5V1523.8M2078.4 1621.5V1509.6M2087.4 1621.5V1532.1M2091.4 1621.5V1555.0M2094.4 1621.5V1487.4M2096.4 1621.5V1521.2M2100.4 1621.5V1517.5M2104.4 1621.5V1547.2M2107.4 1621.5V1479.2M2108.4 1621.5V1523.4M2115.4 1621.5V1500.5M2118.4 1621.5V1493.4M2126.4 1621.5V1478.1M2131.4 1621.5V1472.3M2134.4 1621.5V1496.0M2138.4 1621.5V1491.5M2148.4 1621.5V1511.8M2149.4 1621.5V1506.0M2153.4 1621.5V1485.1M2158.4 1621.5V1506.1M2160.4 1621.5V1482.0M2161.4 1621.5V1481.1M2166.4 1621.5V1485.2M2167.4 1621.5V1480.8M2174.4 1621.5V1508.4M2175.4 1621.5V1512.8M2186.4 1621.5V1503.0M2188.4 1621.5V1465.5M2198.4 1621.5V1477.2M2199.4 1621.5V1391.3M2202.4 1621.5V1404.2M2203.4 1621.5V1425.7M2215.4 1621.5V1389.4M2217.4 1621.5V1441.8M2223.4 1621.5V1339.6M2225.4 1621.5V1383.7M2230.4 1621.5V1374.8M2234.4 1621.5V1406.9" stroke="#dfb6b4" stroke-width="1.04" fill="none"/>
<path d="M204.8 1621.5V1620.3M206.8 1621.5V1620.4M209.8 1621.5V1619.7M229.8 1621.5V1617.1M234.8 1621.5V1616.9M244.8 1621.5V1618.5M246.8 1621.5V1617.4M250.8 1621.5V1616.5M262.8 1621.5V1612.2M264.8 1621.5V1613.7M266.8 1621.5V1614.9M285.8 1621.5V1614.1M288.8 1621.5V1611.2M301.8 1621.5V1607.5M303.8 1621.5V1611.9M307.8 1621.5V1614.2M315.8 1621.5V1609.8M317.8 1621.5V1610.2M319.8 1621.5V1611.7M321.8 1621.5V1608.0M348.8 1621.5V1601.4M352.8 1621.5V1603.0M355.8 1621.5V1609.6M357.8 1621.5V1609.4M372.8 1621.5V1605.3M375.8 1621.5V1608.6M394.8 1621.5V1588.2M396.8 1621.5V1578.6M398.8 1621.5V1561.9M400.8 1621.5V1578.2M407.8 1621.5V1572.8M423.8 1621.5V1586.6M425.8 1621.5V1538.9M427.8 1621.5V1574.6M443.8 1621.5V1525.0M453.8 1621.5V1553.8M459.7 1621.5V1546.5M462.7 1621.5V1563.9M465.7 1621.5V1579.2M467.7 1621.5V1561.6M471.7 1621.5V1570.1M473.7 1621.5V1572.7M475.7 1621.5V1577.4M484.7 1621.5V1554.9M494.7 1621.5V1569.4M496.7 1621.5V1586.4M504.7 1621.5V1546.4M507.7 1621.5V1500.0M514.7 1621.5V1563.2M527.7 1621.5V1544.4M531.7 1621.5V1556.5M535.7 1621.5V1561.5M547.7 1621.5V1535.7M553.7 1621.5V1547.8M563.7 1621.5V1520.9M565.7 1621.5V1533.4M570.7 1621.5V1535.0M584.7 1621.5V1574.5M588.7 1621.5V1538.4M594.7 1621.5V1520.2M602.7 1621.5V1552.4M604.7 1621.5V1548.3M606.7 1621.5V1552.7M609.7 1621.5V1542.5M625.7 1621.5V1583.7M628.7 1621.5V1573.7M631.7 1621.5V1567.5M644.7 1621.5V1568.2M646.7 1621.5V1565.1M655.7 1621.5V1535.7M657.7 1621.5V1566.5M668.7 1621.5V1557.7M679.7 1621.5V1564.1M689.7 1621.5V1572.9M741.7 1621.5V1574.2M743.7 1621.5V1583.2M745.7 1621.5V1576.0M749.7 1621.5V1582.7M751.7 1621.5V1580.4M753.7 1621.5V1563.4M755.7 1621.5V1565.4M761.7 1621.5V1583.7M763.7 1621.5V1596.7M765.7 1621.5V1586.0M775.7 1621.5V1594.2M782.7 1621.5V1537.1M784.7 1621.5V1584.5M790.7 1621.5V1563.5M797.7 1621.5V1582.8M805.7 1621.5V1572.5M823.7 1621.5V1555.0M862.7 1621.5V1475.5M871.7 1621.5V1519.1M879.7 1621.5V1486.6M882.7 1621.5V1484.5M886.7 1621.5V1447.1M889.7 1621.5V1468.5M897.7 1621.5V1464.8M904.7 1621.5V1522.1M912.7 1621.5V1534.1M915.7 1621.5V1488.7M917.7 1621.5V1541.9M926.7 1621.5V1508.8M932.7 1621.5V1518.3M942.7 1621.5V1504.6M952.7 1621.5V1493.7M958.7 1621.5V1493.3M969.6 1621.5V1542.0M979.6 1621.5V1496.8M986.6 1621.5V1537.6M1000.6 1621.5V1560.0M1021.6 1621.5V1519.1M1023.6 1621.5V1540.9M1025.6 1621.5V1557.6M1030.6 1621.5V1553.4M1040.6 1621.5V1553.9M1055.6 1621.5V1522.2M1066.6 1621.5V1548.0M1074.6 1621.5V1518.6M1087.6 1621.5V1469.5M1090.6 1621.5V1502.9M1092.6 1621.5V1516.0M1096.6 1621.5V1511.0M1098.6 1621.5V1508.3M1100.6 1621.5V1482.5M1104.6 1621.5V1548.9M1106.6 1621.5V1548.4M1112.6 1621.5V1513.4M1118.6 1621.5V1546.2M1125.6 1621.5V1518.4M1135.6 1621.5V1541.9M1138.6 1621.5V1547.1M1142.6 1621.5V1497.7M1144.6 1621.5V1433.2M1146.6 1621.5V1441.7M1152.6 1621.5V1502.6M1172.6 1621.5V1515.1M1174.6 1621.5V1518.3M1176.6 1621.5V1524.4M1196.6 1621.5V1393.7M1199.6 1621.5V1442.5M1203.6 1621.5V1450.0M1205.6 1621.5V1449.4M1214.6 1621.5V1400.2M1216.6 1621.5V1502.2M1218.6 1621.5V1516.0M1220.6 1621.5V1494.1M1222.6 1621.5V1468.8M1227.6 1621.5V1457.6M1230.6 1621.5V1527.2M1245.6 1621.5V1539.8M1248.6 1621.5V1540.8M1255.6 1621.5V1560.0M1258.6 1621.5V1551.4M1274.6 1621.5V1541.7M1277.6 1621.5V1529.5M1281.6 1621.5V1563.3M1283.6 1621.5V1553.9M1296.6 1621.5V1525.8M1303.6 1621.5V1570.5M1321.6 1621.5V1530.1M1323.6 1621.5V1561.6M1327.6 1621.5V1525.0M1329.6 1621.5V1538.0M1332.6 1621.5V1544.8M1334.6 1621.5V1526.1M1336.6 1621.5V1545.6M1338.6 1621.5V1556.3M1353.6 1621.5V1564.5M1371.6 1621.5V1543.2M1404.6 1621.5V1441.3M1406.6 1621.5V1453.0M1411.6 1621.5V1496.5M1413.6 1621.5V1447.3M1415.6 1621.5V1495.7M1422.6 1621.5V1468.8M1424.6 1621.5V1472.9M1426.6 1621.5V1440.4M1428.6 1621.5V1450.1M1430.6 1621.5V1433.5M1432.6 1621.5V1428.9M1435.6 1621.5V1449.1M1444.6 1621.5V1464.7M1460.6 1621.5V1498.0M1462.6 1621.5V1536.8M1475.6 1621.5V1448.3M1477.6 1621.5V1462.2M1509.5 1621.5V1402.5M1511.5 1621.5V1381.9M1518.5 1621.5V1338.4M1521.5 1621.5V1359.8M1529.5 1621.5V1359.4M1535.5 1621.5V1289.7M1549.5 1621.5V1456.9M1573.5 1621.5V1426.3M1586.5 1621.5V1464.3M1596.5 1621.5V1400.7M1608.5 1621.5V1404.5M1635.5 1621.5V1523.1M1647.5 1621.5V1525.6M1653.5 1621.5V1533.5M1662.5 1621.5V1535.8M1665.5 1621.5V1495.5M1667.5 1621.5V1556.2M1670.5 1621.5V1479.2M1672.5 1621.5V1539.3M1674.5 1621.5V1531.8M1676.5 1621.5V1516.0M1684.5 1621.5V1484.1M1690.5 1621.5V1529.0M1692.5 1621.5V1496.3M1696.5 1621.5V1507.4M1701.5 1621.5V1513.0M1716.5 1621.5V1449.8M1718.5 1621.5V1434.3M1720.5 1621.5V1487.4M1735.5 1621.5V1427.8M1744.5 1621.5V1485.9M1787.5 1621.5V1479.6M1790.5 1621.5V1436.2M1795.5 1621.5V1424.1M1798.5 1621.5V1436.1M1813.5 1621.5V1495.6M1818.5 1621.5V1526.0M1820.5 1621.5V1507.7M1823.5 1621.5V1485.3M1825.5 1621.5V1531.8M1827.5 1621.5V1491.3M1831.5 1621.5V1538.5M1833.5 1621.5V1507.2M1856.5 1621.5V1480.1M1879.5 1621.5V1410.3M1885.5 1621.5V1505.5M1891.5 1621.5V1410.8M1907.5 1621.5V1544.0M1925.5 1621.5V1506.8M1929.5 1621.5V1450.2M1951.5 1621.5V1550.0M1953.5 1621.5V1465.9M1955.5 1621.5V1509.0M1960.5 1621.5V1509.6M1963.5 1621.5V1470.0M1966.5 1621.5V1516.3M1975.5 1621.5V1528.4M1992.4 1621.5V1469.5M1995.4 1621.5V1484.3M1997.4 1621.5V1460.4M2013.4 1621.5V1531.1M2021.4 1621.5V1503.9M2025.4 1621.5V1520.2M2027.4 1621.5V1480.1M2030.4 1621.5V1446.2M2032.4 1621.5V1461.5M2036.4 1621.5V1479.7M2065.4 1621.5V1483.9M2070.4 1621.5V1477.7M2080.4 1621.5V1522.3M2083.4 1621.5V1478.9M2085.4 1621.5V1510.4M2098.4 1621.5V1498.7M2110.4 1621.5V1492.3M2112.4 1621.5V1538.4M2121.4 1621.5V1474.6M2144.4 1621.5V1507.1M2151.4 1621.5V1528.5M2169.4 1621.5V1477.7M2171.4 1621.5V1503.8M2180.4 1621.5V1511.3M2183.4 1621.5V1510.1M2191.4 1621.5V1513.4M2193.4 1621.5V1509.1M2207.4 1621.5V1366.4M2209.4 1621.5V1438.4M2220.4 1621.5V1369.9M2227.4 1621.5V1381.3M2237.4 1621.5V1401.9M2239.4 1621.5V1460.7M2242.4 1621.5V1457.6" stroke="#cdbfbc" stroke-width="1.04" fill="none"/>
</g>
<path d="M222.8 1617.6L223.8 1617.6L224.8 1617.5L225.8 1617.4L226.8 1617.4L227.8 1617.3L228.8 1617.2L229.8 1617.1L230.8 1617.1L231.8 1617.0L232.8 1616.9L233.8 1616.8L234.8 1616.7L235.8 1616.7L236.8 1616.6L237.8 1616.5L238.8 1616.4L239.8 1616.3L240.8 1616.1L241.8 1616.0L242.8 1615.9L243.8 1615.8L244.8 1615.7L245.8 1615.5L246.8 1615.4L247.8 1615.3L248.8 1615.2L249.8 1615.0L250.8 1614.9L251.8 1614.7L252.8 1614.5L253.8 1614.3L254.8 1614.1L255.8 1613.8L256.8 1613.6L257.8 1613.4L258.8 1613.1L259.8 1612.9L260.8 1612.7L261.8 1612.4L262.8 1612.2L263.8 1612.0L264.8 1611.7L265.8 1611.5L266.8 1611.3L267.8 1611.2L268.8 1611.0L269.8 1610.9L270.8 1610.9L271.8 1610.9L272.8 1610.9L273.8 1610.9L274.8 1610.9L275.8 1610.9L276.8 1611.0L277.8 1611.1L278.8 1611.2L279.8 1611.4L280.8 1611.6L281.8 1611.8L282.8 1612.0L283.8 1612.2L284.8 1612.4L285.8 1612.5L286.8 1612.5L287.8 1612.6L288.8 1612.5L289.8 1612.4L290.8 1612.3L291.8 1612.1L292.8 1612.0L293.8 1611.8L294.8 1611.7L295.8 1611.5L296.8 1611.4L297.8 1611.2L298.8 1611.1L299.8 1611.0L300.8 1610.9L301.8 1610.9L302.8 1610.9L303.8 1610.9L304.8 1610.9L305.8 1610.9L306.8 1610.9L307.8 1610.9L308.8 1610.9L309.8 1610.9L310.8 1610.9L311.8 1610.9L312.8 1610.9L313.8 1610.9L314.8 1610.8L315.8 1610.8L316.8 1610.7L317.8 1610.6L318.8 1610.4L319.8 1610.3L320.8 1610.1L321.8 1609.9L322.8 1609.6L323.8 1609.4L324.8 1609.2L325.8 1609.0L326.8 1608.8L327.8 1608.6L328.8 1608.3L329.8 1608.1L330.8 1607.9L331.8 1607.7L332.8 1607.4L333.8 1607.2L334.8 1606.9L335.8 1606.6L336.8 1606.3L337.8 1606.0L338.8 1605.7L339.8 1605.4L340.8 1605.0L341.8 1604.7L342.8 1604.4L343.8 1604.1L344.8 1604.0L345.8 1603.8L346.8 1603.8L347.8 1603.8L348.8 1603.9L349.8 1604.0L350.8 1604.2L351.8 1604.3L352.8 1604.5L353.8 1604.6L354.8 1604.8L355.8 1605.0L356.8 1605.2L357.8 1605.5L358.8 1605.8L359.8 1606.1L360.8 1606.5L361.8 1606.9L362.8 1607.3L363.8 1607.6L364.8 1608.0L365.8 1608.4L366.8 1608.8L367.8 1609.1L368.8 1609.3L369.8 1609.4L370.8 1609.4L371.8 1609.4L372.8 1609.2L373.8 1608.9L374.8 1608.5L375.8 1608.0L376.8 1607.2L377.8 1606.2L378.8 1605.1L379.8 1603.7L380.8 1602.2L381.8 1600.6L382.8 1599.0L383.8 1597.4L384.8 1595.8L385.8 1594.1L386.8 1592.5L387.8 1590.9L388.8 1589.2L389.8 1587.5L390.8 1585.9L391.8 1584.3L392.8 1582.8L393.8 1581.4L394.8 1580.1L395.8 1579.0L396.8 1577.9L397.8 1577.0L398.8 1576.2L399.8 1575.3L400.8 1574.4L401.8 1573.6L402.8 1572.9L403.8 1572.2L404.8 1571.7L405.8 1571.2L406.8 1570.8L407.8 1570.4L408.8 1570.2L409.8 1569.9L410.8 1569.6L411.8 1569.3L412.8 1568.9L413.8 1568.6L414.8 1568.2L415.8 1567.8L416.8 1567.3L417.8 1566.8L418.8 1566.3L419.8 1565.8L420.8 1565.2L421.8 1564.3L422.8 1563.3L423.8 1562.0L424.8 1560.6L425.8 1559.0L426.8 1557.1L427.8 1555.3L428.8 1553.5L429.8 1551.7L430.8 1549.9L431.8 1548.1L432.8 1546.3L433.8 1544.5L434.8 1542.9L435.8 1541.6L436.8 1540.6L437.8 1539.9L438.8 1539.5L439.8 1539.3L440.8 1539.6L441.8 1540.3L442.8 1541.1L443.8 1542.1L444.8 1543.3L445.8 1544.7L446.8 1546.2L447.8 1547.8L448.8 1549.5L449.8 1551.1L450.8 1552.8L451.8 1554.5L452.8 1556.2L453.8 1557.8L454.8 1559.3L455.8 1560.7L456.7 1561.9L457.7 1562.9L458.7 1563.9L459.7 1564.7L460.7 1565.5L461.7 1566.3L462.7 1567.1L463.7 1567.9L464.7 1568.7L465.7 1569.5L466.7 1570.3L467.7 1570.9L468.7 1571.5L469.7 1571.8L470.7 1572.0L471.7 1572.0L472.7 1571.9L473.7 1571.6L474.7 1571.3L475.7 1571.0L476.7 1570.7L477.7 1570.5L478.7 1570.4L479.7 1570.4L480.7 1570.4L481.7 1570.5L482.7 1570.7L483.7 1570.9L484.7 1571.1L485.7 1571.4L486.7 1571.7L487.7 1572.1L488.7 1572.6L489.7 1573.2L490.7 1573.8L491.7 1574.5L492.7 1575.2L493.7 1575.5L494.7 1575.7L495.7 1575.5L496.7 1575.1L497.7 1574.5L498.7 1573.5L499.7 1572.3L500.7 1570.9L501.7 1569.2L502.7 1567.3L503.7 1565.1L504.7 1562.6L505.7 1559.9L506.7 1556.9L507.7 1553.8L508.7 1550.7L509.7 1547.5L510.7 1544.4L511.7 1541.3L512.7 1538.6L513.7 1536.3L514.7 1534.5L515.7 1533.0L516.7 1531.8L517.7 1531.2L518.7 1531.0L519.7 1530.9L520.7 1530.9L521.7 1531.1L522.7 1531.4L523.7 1532.1L524.7 1533.0L525.7 1534.2L526.7 1535.5L527.7 1537.1L528.7 1538.8L529.7 1540.6L530.7 1542.1L531.7 1543.4L532.7 1544.4L533.7 1545.3L534.7 1545.9L535.7 1546.4L536.7 1546.9L537.7 1547.4L538.7 1547.7L539.7 1547.9L540.7 1548.1L541.7 1548.1L542.7 1548.1L543.7 1547.9L544.7 1547.8L545.7 1547.6L546.7 1547.4L547.7 1547.0L548.7 1546.6L549.7 1546.2L550.7 1545.6L551.7 1545.0L552.7 1544.4L553.7 1543.7L554.7 1543.1L555.7 1542.4L556.7 1541.8L557.7 1541.2L558.7 1540.7L559.7 1540.1L560.7 1539.7L561.7 1539.4L562.7 1539.2L563.7 1539.0L564.7 1539.0L565.7 1539.0L566.7 1539.1L567.7 1539.3L568.7 1539.4L569.7 1539.6L570.7 1539.9L571.7 1540.3L572.7 1541.0L573.7 1541.8L574.7 1542.8L575.7 1544.0L576.7 1545.4L577.7 1546.7L578.7 1547.8L579.7 1548.8L580.7 1549.7L581.7 1550.3L582.7 1550.9L583.7 1551.2L584.7 1551.6L585.7 1551.9L586.7 1551.9L587.7 1551.8L588.7 1551.3L589.7 1550.7L590.7 1549.8L591.7 1548.7L592.7 1547.3L593.7 1546.0L594.7 1544.8L595.7 1543.7L596.7 1542.9L597.7 1542.2L598.7 1541.8L599.7 1541.5L600.7 1541.4L601.7 1541.4L602.7 1541.4L603.7 1541.4L604.7 1541.5L605.7 1541.9L606.7 1542.4L607.7 1543.1L608.7 1544.0L609.7 1545.1L610.7 1546.4L611.7 1547.8L612.7 1549.3L613.7 1550.7L614.7 1552.1L615.7 1553.6L616.7 1555.1L617.7 1556.6L618.7 1558.1L619.7 1559.6L620.7 1561.0L621.7 1562.3L622.7 1563.5L623.7 1564.7L624.7 1565.7L625.7 1566.7L626.7 1567.5L627.7 1568.3L628.7 1569.2L629.7 1569.9L630.7 1570.7L631.7 1571.4L632.7 1572.1L633.7 1572.7L634.7 1573.3L635.7 1573.9L636.7 1574.4L637.7 1575.0L638.7 1575.5L639.7 1575.9L640.7 1576.1L641.7 1576.1L642.7 1576.0L643.7 1575.7L644.7 1575.3L645.7 1574.7L646.7 1574.1L647.7 1573.6L648.7 1573.0L649.7 1572.3L650.7 1571.5L651.7 1570.7L652.7 1569.8L653.7 1568.8L654.7 1567.7L655.7 1566.5L656.7 1565.4L657.7 1564.2L658.7 1563.2L659.7 1562.4L660.7 1561.9L661.7 1561.6L662.7 1561.6L663.7 1561.9L664.7 1562.4L665.7 1562.9L666.7 1563.2L667.7 1563.3L668.7 1563.3L669.7 1563.1L670.7 1562.8L671.7 1562.3L672.7 1561.9L673.7 1561.5L674.7 1561.1L675.7 1560.7L676.7 1560.3L677.7 1559.9L678.7 1559.6L679.7 1559.3L680.7 1559.0L681.7 1558.7L682.7 1558.4L683.7 1558.1L684.7 1557.9L685.7 1557.8L686.7 1557.8L687.7 1558.0L688.7 1558.3L689.7 1558.7L690.7 1559.2L691.7 1559.7L692.7 1560.3L693.7 1560.9L694.7 1561.5L695.7 1562.1L696.7 1562.6L697.7 1563.2L698.7 1563.8L699.7 1564.5L700.7 1565.1L701.7 1565.7L702.7 1566.3L703.7 1567.0L704.7 1567.6L705.7 1568.2L706.7 1568.9L707.7 1569.6L708.7 1570.3L709.7 1571.1L710.7 1571.9L711.7 1572.7L712.7 1573.5L713.7 1574.4L714.7 1575.3L715.7 1576.1L716.7 1577.0L717.7 1577.8L718.7 1578.7L719.7 1579.5L720.7 1580.3L721.7 1581.2L722.7 1582.0L723.7 1582.8L724.7 1583.7L725.7 1584.4L726.7 1585.1L727.7 1585.8L728.7 1586.4L729.7 1587.0L730.7 1587.3L731.7 1587.3L732.7 1587.0L733.7 1586.5L734.7 1585.6L735.7 1584.6L736.7 1583.2L737.7 1581.9L738.7 1580.7L739.7 1579.6L740.7 1578.6L741.7 1577.8L742.7 1577.1L743.7 1576.5L744.7 1575.9L745.7 1575.4L746.7 1575.0L747.7 1574.8L748.7 1574.8L749.7 1575.0L750.7 1575.4L751.7 1576.0L752.7 1576.7L753.7 1577.5L754.7 1578.2L755.7 1579.0L756.7 1579.8L757.7 1580.6L758.7 1581.5L759.7 1582.3L760.7 1583.2L761.7 1584.2L762.7 1585.1L763.7 1586.0L764.7 1586.8L765.7 1587.4L766.7 1587.9L767.7 1588.2L768.7 1588.3L769.7 1588.2L770.7 1587.9L771.7 1587.6L772.7 1587.2L773.7 1586.9L774.7 1586.5L775.7 1586.0L776.7 1585.3L777.7 1584.6L778.7 1583.7L779.7 1582.8L780.7 1581.7L781.7 1580.5L782.7 1579.4L783.7 1578.2L784.7 1577.1L785.7 1576.2L786.7 1575.3L787.7 1574.5L788.7 1573.8L789.7 1573.2L790.7 1572.8L791.7 1572.3L792.7 1571.9L793.7 1571.5L794.7 1571.1L795.7 1570.8L796.7 1570.7L797.7 1570.6L798.7 1570.6L799.7 1570.8L800.7 1571.0L801.7 1571.3L802.7 1571.6L803.7 1571.9L804.7 1572.1L805.7 1572.4L806.7 1572.6L807.7 1572.8L808.7 1573.0L809.7 1573.2L810.7 1573.4L811.7 1573.5L812.7 1573.6L813.7 1573.8L814.7 1573.7L815.7 1573.3L816.7 1572.5L817.7 1571.3L818.7 1569.7L819.7 1567.8L820.7 1565.6L821.7 1563.4L822.7 1561.5L823.7 1559.7L824.7 1558.1L825.7 1556.7L826.7 1555.5L827.7 1554.4L828.7 1553.2L829.7 1551.9L830.7 1550.6L831.7 1549.1L832.7 1547.6L833.7 1546.0L834.7 1544.5L835.7 1543.1L836.7 1542.1L837.7 1541.3L838.7 1540.8L839.7 1540.6L840.7 1540.7L841.7 1540.7L842.7 1540.3L843.7 1539.4L844.7 1538.1L845.7 1536.2L846.7 1534.0L847.7 1531.3L848.7 1528.3L849.7 1525.8L850.7 1523.5L851.7 1521.6L852.7 1520.0L853.7 1518.8L854.7 1517.8L855.7 1517.2L856.7 1516.5L857.7 1515.7L858.7 1514.8L859.7 1513.7L860.7 1512.5L861.7 1511.1L862.7 1509.6L863.7 1508.2L864.7 1507.0L865.7 1506.2L866.7 1505.6L867.7 1505.4L868.7 1505.5L869.7 1505.9L870.7 1506.0L871.7 1505.9L872.7 1505.5L873.7 1504.7L874.7 1503.7L875.7 1502.5L876.7 1500.9L877.7 1499.4L878.7 1497.9L879.7 1496.5L880.7 1495.2L881.7 1494.0L882.7 1492.8L883.7 1491.6L884.7 1490.5L885.7 1489.4L886.7 1488.3L887.7 1487.1L888.7 1486.0L889.7 1485.2L890.7 1484.8L891.7 1484.8L892.7 1485.2L893.7 1486.0L894.7 1487.2L895.7 1488.7L896.7 1490.2L897.7 1491.5L898.7 1492.6L899.7 1493.6L900.7 1494.4L901.7 1495.0L902.7 1495.7L903.7 1496.8L904.7 1498.1L905.7 1499.8L906.7 1501.9L907.7 1503.8L908.7 1505.5L909.7 1506.7L910.7 1507.4L911.7 1507.5L912.7 1507.4L913.7 1507.0L914.7 1506.7L915.7 1506.8L916.7 1507.3L917.7 1508.0L918.7 1509.0L919.7 1509.8L920.7 1510.3L921.7 1510.5L922.7 1510.4L923.7 1510.0L924.7 1509.3L925.7 1508.5L926.7 1507.9L927.7 1507.5L928.7 1507.2L929.7 1507.2L930.7 1507.3L931.7 1507.7L932.7 1508.0L933.7 1508.4L934.7 1508.8L935.7 1509.2L936.7 1509.5L937.7 1509.5L938.7 1508.9L939.7 1507.8L940.7 1506.2L941.7 1504.1L942.7 1501.5L943.7 1498.3L944.7 1495.2L945.7 1492.0L946.7 1489.2L947.7 1486.6L948.7 1484.4L949.7 1482.6L950.7 1481.0L951.7 1479.8L952.7 1478.9L953.7 1478.1L954.7 1477.2L955.7 1476.4L956.7 1475.9L957.7 1476.1L958.7 1477.0L959.7 1478.7L960.7 1481.1L961.7 1484.3L962.7 1488.1L963.7 1492.1L964.7 1496.1L965.7 1499.9L966.7 1503.5L967.7 1506.7L968.6 1509.6L969.6 1512.0L970.6 1514.2L971.6 1516.1L972.6 1517.7L973.6 1519.1L974.6 1520.4L975.6 1521.7L976.6 1523.1L977.6 1524.4L978.6 1525.7L979.6 1527.1L980.6 1528.4L981.6 1529.7L982.6 1531.1L983.6 1532.4L984.6 1533.7L985.6 1535.1L986.6 1536.6L987.6 1538.2L988.6 1539.8L989.6 1541.5L990.6 1543.3L991.6 1545.1L992.6 1546.9L993.6 1548.7L994.6 1550.2L995.6 1551.4L996.6 1552.4L997.6 1553.0L998.6 1553.3L999.6 1553.4L1000.6 1553.2L1001.6 1552.9L1002.6 1552.3L1003.6 1551.6L1004.6 1550.7L1005.6 1549.5L1006.6 1548.2L1007.6 1546.7L1008.6 1545.1L1009.6 1543.7L1010.6 1542.4L1011.6 1541.3L1012.6 1540.3L1013.6 1539.5L1014.6 1538.8L1015.6 1538.3L1016.6 1537.7L1017.6 1537.1L1018.6 1536.6L1019.6 1536.0L1020.6 1535.5L1021.6 1534.9L1022.6 1534.6L1023.6 1534.6L1024.6 1534.9L1025.6 1535.5L1026.6 1536.4L1027.6 1537.6L1028.6 1539.1L1029.6 1540.7L1030.6 1542.1L1031.6 1543.5L1032.6 1544.8L1033.6 1545.9L1034.6 1547.0L1035.6 1547.9L1036.6 1548.8L1037.6 1549.7L1038.6 1550.6L1039.6 1551.4L1040.6 1552.3L1041.6 1553.1L1042.6 1553.5L1043.6 1553.7L1044.6 1553.5L1045.6 1553.0L1046.6 1552.2L1047.6 1551.1L1048.6 1549.8L1049.6 1548.4L1050.6 1547.1L1051.6 1545.7L1052.6 1544.2L1053.6 1542.7L1054.6 1541.2L1055.6 1539.6L1056.6 1538.0L1057.6 1536.3L1058.6 1534.6L1059.6 1533.0L1060.6 1531.6L1061.6 1530.2L1062.6 1529.1L1063.6 1528.0L1064.6 1527.1L1065.6 1526.4L1066.6 1525.7L1067.6 1525.0L1068.6 1524.2L1069.6 1523.1L1070.6 1521.6L1071.6 1519.8L1072.6 1517.7L1073.6 1515.2L1074.6 1512.4L1075.6 1509.4L1076.6 1506.7L1077.6 1504.4L1078.6 1502.4L1079.6 1500.8L1080.6 1499.5L1081.6 1498.6L1082.6 1498.0L1083.6 1497.4L1084.6 1496.8L1085.6 1496.3L1086.6 1495.9L1087.6 1495.8L1088.6 1496.1L1089.6 1496.7L1090.6 1497.7L1091.6 1499.0L1092.6 1500.7L1093.6 1502.5L1094.6 1504.4L1095.6 1506.2L1096.6 1508.1L1097.6 1510.1L1098.6 1512.1L1099.6 1514.1L1100.6 1516.2L1101.6 1518.4L1102.6 1520.5L1103.6 1522.7L1104.6 1524.7L1105.6 1526.3L1106.6 1527.6L1107.6 1528.5L1108.6 1529.1L1109.6 1529.3L1110.6 1529.3L1111.6 1529.4L1112.6 1529.6L1113.6 1530.0L1114.6 1530.5L1115.6 1531.3L1116.6 1531.9L1117.6 1532.2L1118.6 1531.9L1119.6 1531.2L1120.6 1530.0L1121.6 1528.3L1122.6 1526.2L1123.6 1523.8L1124.6 1521.5L1125.6 1519.2L1126.6 1517.0L1127.6 1514.7L1128.6 1512.6L1129.6 1510.5L1130.6 1508.4L1131.6 1506.4L1132.6 1504.4L1133.6 1502.4L1134.6 1500.2L1135.6 1497.8L1136.6 1495.1L1137.6 1492.2L1138.6 1489.0L1139.6 1485.6L1140.6 1482.6L1141.6 1480.3L1142.6 1478.8L1143.6 1478.2L1144.6 1478.5L1145.6 1479.6L1146.6 1481.5L1147.6 1483.7L1148.6 1485.6L1149.6 1487.4L1150.6 1488.9L1151.6 1490.3L1152.6 1491.4L1153.6 1492.4L1154.6 1493.2L1155.6 1493.8L1156.6 1494.2L1157.6 1494.3L1158.6 1494.2L1159.6 1493.9L1160.6 1493.3L1161.6 1492.5L1162.6 1491.6L1163.6 1490.7L1164.6 1489.8L1165.6 1489.0L1166.6 1488.1L1167.6 1487.4L1168.6 1486.8L1169.6 1486.4L1170.6 1486.2L1171.6 1486.2L1172.6 1486.3L1173.6 1486.6L1174.6 1486.9L1175.6 1487.3L1176.6 1487.3L1177.6 1486.9L1178.6 1486.1L1179.6 1485.0L1180.6 1483.5L1181.6 1481.6L1182.6 1479.3L1183.6 1477.0L1184.6 1474.6L1185.6 1472.1L1186.6 1469.4L1187.6 1466.5L1188.6 1463.4L1189.6 1460.1L1190.6 1456.5L1191.6 1453.0L1192.6 1449.6L1193.6 1446.5L1194.6 1443.5L1195.6 1441.0L1196.6 1439.4L1197.6 1438.7L1198.6 1438.6L1199.6 1439.1L1200.6 1440.4L1201.6 1442.2L1202.6 1444.4L1203.6 1446.6L1204.6 1448.7L1205.6 1450.8L1206.6 1452.9L1207.6 1454.7L1208.6 1456.4L1209.6 1457.7L1210.6 1458.8L1211.6 1459.7L1212.6 1460.3L1213.6 1460.6L1214.6 1460.8L1215.6 1461.3L1216.6 1462.0L1217.6 1463.0L1218.6 1464.2L1219.6 1465.7L1220.6 1467.4L1221.6 1469.4L1222.6 1471.5L1223.6 1473.7L1224.6 1476.1L1225.6 1478.6L1226.6 1481.2L1227.6 1484.0L1228.6 1487.0L1229.6 1490.0L1230.6 1493.1L1231.6 1496.3L1232.6 1499.6L1233.6 1503.1L1234.6 1506.6L1235.6 1510.2L1236.6 1513.6L1237.6 1516.6L1238.6 1519.2L1239.6 1521.5L1240.6 1523.4L1241.6 1525.0L1242.6 1526.0L1243.6 1526.6L1244.6 1527.1L1245.6 1527.2L1246.6 1527.1L1247.6 1526.8L1248.6 1526.2L1249.6 1525.7L1250.6 1525.4L1251.6 1525.3L1252.6 1525.3L1253.6 1525.6L1254.6 1526.0L1255.6 1526.6L1256.6 1527.2L1257.6 1527.9L1258.6 1528.6L1259.6 1529.2L1260.6 1529.7L1261.6 1530.3L1262.6 1530.8L1263.6 1531.3L1264.6 1531.7L1265.6 1532.1L1266.6 1532.6L1267.6 1533.0L1268.6 1533.4L1269.6 1533.9L1270.6 1534.3L1271.6 1534.8L1272.6 1535.2L1273.6 1535.7L1274.6 1536.2L1275.6 1536.7L1276.6 1537.2L1277.6 1537.7L1278.6 1537.9L1279.6 1537.9L1280.6 1537.7L1281.6 1537.3L1282.6 1536.7L1283.6 1535.8L1284.6 1534.8L1285.6 1533.8L1286.6 1532.9L1287.6 1532.1L1288.6 1531.5L1289.6 1531.0L1290.6 1530.7L1291.6 1530.6L1292.6 1530.7L1293.6 1530.8L1294.6 1531.0L1295.6 1531.2L1296.6 1531.6L1297.6 1532.1L1298.6 1532.8L1299.6 1533.6L1300.6 1534.6L1301.6 1535.8L1302.6 1537.0L1303.6 1538.3L1304.6 1539.5L1305.6 1540.8L1306.6 1542.0L1307.6 1543.2L1308.6 1544.0L1309.6 1544.5L1310.6 1544.8L1311.6 1544.7L1312.6 1544.4L1313.6 1543.7L1314.6 1542.9L1315.6 1542.1L1316.6 1541.3L1317.6 1540.4L1318.6 1539.7L1319.6 1538.9L1320.6 1538.1L1321.6 1537.4L1322.6 1536.7L1323.6 1535.9L1324.6 1535.2L1325.6 1534.5L1326.6 1533.8L1327.6 1533.2L1328.6 1532.8L1329.6 1532.6L1330.6 1532.5L1331.6 1532.6L1332.6 1532.9L1333.6 1533.3L1334.6 1533.7L1335.6 1534.2L1336.6 1534.6L1337.6 1535.0L1338.6 1535.3L1339.6 1535.6L1340.6 1535.8L1341.6 1536.0L1342.6 1536.1L1343.6 1536.1L1344.6 1536.1L1345.6 1536.1L1346.6 1536.2L1347.6 1536.3L1348.6 1536.5L1349.6 1536.9L1350.6 1537.3L1351.6 1537.8L1352.6 1538.5L1353.6 1539.1L1354.6 1539.8L1355.6 1540.5L1356.6 1541.1L1357.6 1541.8L1358.6 1542.5L1359.6 1543.1L1360.6 1543.6L1361.6 1544.1L1362.6 1544.3L1363.6 1544.5L1364.6 1544.5L1365.6 1544.4L1366.6 1544.2L1367.6 1543.8L1368.6 1542.9L1369.6 1541.6L1370.6 1539.8L1371.6 1537.7L1372.6 1535.1L1373.6 1532.0L1374.6 1528.8L1375.6 1525.3L1376.6 1521.6L1377.6 1517.7L1378.6 1513.6L1379.6 1509.2L1380.6 1504.6L1381.6 1499.8L1382.6 1494.9L1383.6 1489.8L1384.6 1484.6L1385.6 1479.1L1386.6 1473.5L1387.6 1467.8L1388.6 1461.8L1389.6 1455.9L1390.6 1450.4L1391.6 1445.2L1392.6 1440.5L1393.6 1436.1L1394.6 1432.2L1395.6 1428.7L1396.6 1426.2L1397.6 1424.1L1398.6 1422.7L1399.6 1421.7L1400.6 1421.3L1401.6 1421.5L1402.6 1422.1L1403.6 1422.9L1404.6 1423.9L1405.6 1425.1L1406.6 1426.6L1407.6 1428.3L1408.6 1430.2L1409.6 1432.3L1410.6 1434.4L1411.6 1435.8L1412.6 1436.6L1413.6 1436.8L1414.6 1436.5L1415.6 1435.5L1416.6 1434.0L1417.6 1432.2L1418.6 1430.6L1419.6 1429.2L1420.6 1427.9L1421.6 1426.8L1422.6 1425.9L1423.6 1425.1L1424.6 1424.1L1425.6 1422.9L1426.6 1421.4L1427.6 1420.4L1428.6 1420.0L1429.6 1420.2L1430.6 1421.0L1431.6 1422.7L1432.6 1425.2L1433.6 1428.9L1434.6 1433.0L1435.6 1437.6L1436.6 1442.4L1437.6 1447.5L1438.6 1452.5L1439.6 1457.3L1440.6 1461.8L1441.6 1465.8L1442.6 1469.3L1443.6 1472.4L1444.6 1475.2L1445.6 1478.0L1446.6 1480.8L1447.6 1483.6L1448.6 1486.4L1449.6 1489.2L1450.6 1492.0L1451.6 1494.8L1452.6 1497.5L1453.6 1499.9L1454.6 1502.1L1455.6 1504.0L1456.6 1505.6L1457.6 1507.0L1458.6 1508.0L1459.6 1508.6L1460.6 1508.8L1461.6 1508.7L1462.6 1508.3L1463.6 1507.6L1464.6 1506.5L1465.6 1505.3L1466.6 1504.0L1467.6 1502.6L1468.6 1501.1L1469.6 1499.4L1470.6 1497.6L1471.6 1495.8L1472.6 1494.0L1473.6 1492.5L1474.6 1491.3L1475.6 1490.3L1476.6 1489.5L1477.6 1489.0L1478.6 1488.4L1479.5 1487.5L1480.5 1486.3L1481.5 1484.7L1482.5 1482.9L1483.5 1480.7L1484.5 1478.2L1485.5 1475.7L1486.5 1473.2L1487.5 1470.3L1488.5 1467.0L1489.5 1463.4L1490.5 1459.5L1491.5 1455.2L1492.5 1450.4L1493.5 1445.1L1494.5 1439.4L1495.5 1433.3L1496.5 1427.0L1497.5 1420.5L1498.5 1414.1L1499.5 1407.9L1500.5 1402.0L1501.5 1396.6L1502.5 1391.5L1503.5 1386.9L1504.5 1382.7L1505.5 1378.6L1506.5 1374.6L1507.5 1370.7L1508.5 1367.0L1509.5 1363.8L1510.5 1361.0L1511.5 1358.7L1512.5 1356.7L1513.5 1355.2L1514.5 1354.2L1515.5 1352.9L1516.5 1350.9L1517.5 1348.0L1518.5 1344.3L1519.5 1339.8L1520.5 1335.4L1521.5 1331.1L1522.5 1327.3L1523.5 1324.5L1524.5 1322.7L1525.5 1321.8L1526.5 1321.9L1527.5 1322.4L1528.5 1323.2L1529.5 1324.3L1530.5 1325.7L1531.5 1327.3L1532.5 1328.6L1533.5 1329.3L1534.5 1329.4L1535.5 1329.0L1536.5 1328.6L1537.5 1328.3L1538.5 1328.4L1539.5 1329.3L1540.5 1330.8L1541.5 1333.2L1542.5 1336.3L1543.5 1339.5L1544.5 1342.8L1545.5 1346.0L1546.5 1349.3L1547.5 1352.5L1548.5 1355.8L1549.5 1359.2L1550.5 1362.6L1551.5 1366.1L1552.5 1369.7L1553.5 1373.5L1554.5 1377.6L1555.5 1381.9L1556.5 1386.4L1557.5 1391.1L1558.5 1395.9L1559.5 1400.5L1560.5 1404.8L1561.5 1408.8L1562.5 1412.6L1563.5 1416.1L1564.5 1419.3L1565.5 1422.7L1566.5 1426.2L1567.5 1430.0L1568.5 1434.1L1569.5 1437.9L1570.5 1441.6L1571.5 1445.0L1572.5 1447.9L1573.5 1450.3L1574.5 1452.3L1575.5 1453.5L1576.5 1454.5L1577.5 1455.0L1578.5 1454.9L1579.5 1454.4L1580.5 1453.3L1581.5 1451.6L1582.5 1449.8L1583.5 1447.7L1584.5 1445.5L1585.5 1443.1L1586.5 1440.6L1587.5 1438.0L1588.5 1435.2L1589.5 1432.3L1590.5 1429.2L1591.5 1426.0L1592.5 1423.0L1593.5 1420.3L1594.5 1418.0L1595.5 1416.0L1596.5 1414.4L1597.5 1413.0L1598.5 1412.0L1599.5 1411.2L1600.5 1410.3L1601.5 1409.5L1602.5 1408.7L1603.5 1408.3L1604.5 1408.3L1605.5 1408.7L1606.5 1409.5L1607.5 1410.8L1608.5 1412.4L1609.5 1414.4L1610.5 1416.7L1611.5 1419.4L1612.5 1422.5L1613.5 1426.1L1614.5 1430.1L1615.5 1434.5L1616.5 1439.3L1617.5 1444.0L1618.5 1448.7L1619.5 1453.1L1620.5 1457.5L1621.5 1461.6L1622.5 1465.8L1623.5 1470.1L1624.5 1474.7L1625.5 1479.4L1626.5 1484.2L1627.5 1488.6L1628.5 1492.8L1629.5 1496.5L1630.5 1499.7L1631.5 1502.4L1632.5 1504.6L1633.5 1506.4L1634.5 1508.0L1635.5 1509.5L1636.5 1510.7L1637.5 1511.8L1638.5 1512.7L1639.5 1513.3L1640.5 1513.8L1641.5 1514.2L1642.5 1514.7L1643.5 1515.1L1644.5 1515.5L1645.5 1516.1L1646.5 1516.7L1647.5 1517.4L1648.5 1518.2L1649.5 1519.0L1650.5 1519.9L1651.5 1520.6L1652.5 1521.2L1653.5 1521.5L1654.5 1521.6L1655.5 1521.5L1656.5 1521.2L1657.5 1520.8L1658.5 1520.4L1659.5 1519.9L1660.5 1519.5L1661.5 1519.1L1662.5 1518.6L1663.5 1518.0L1664.5 1517.5L1665.5 1516.9L1666.5 1516.3L1667.5 1515.6L1668.5 1514.9L1669.5 1514.3L1670.5 1513.7L1671.5 1513.3L1672.5 1513.0L1673.5 1512.9L1674.5 1512.9L1675.5 1513.0L1676.5 1513.3L1677.5 1513.6L1678.5 1513.9L1679.5 1514.2L1680.5 1514.5L1681.5 1515.0L1682.5 1515.7L1683.5 1516.5L1684.5 1517.4L1685.5 1518.5L1686.5 1519.8L1687.5 1521.1L1688.5 1522.4L1689.5 1523.6L1690.5 1524.5L1691.5 1525.1L1692.5 1525.3L1693.5 1525.3L1694.5 1524.9L1695.5 1524.2L1696.5 1523.4L1697.5 1522.6L1698.5 1521.7L1699.5 1520.7L1700.5 1519.6L1701.5 1518.4L1702.5 1517.0L1703.5 1515.6L1704.5 1514.1L1705.5 1512.4L1706.5 1510.2L1707.5 1507.4L1708.5 1504.1L1709.5 1500.1L1710.5 1496.0L1711.5 1491.8L1712.5 1487.8L1713.5 1484.4L1714.5 1481.6L1715.5 1479.4L1716.5 1478.0L1717.5 1477.0L1718.5 1476.2L1719.5 1475.6L1720.5 1475.2L1721.5 1474.9L1722.5 1474.7L1723.5 1474.2L1724.5 1473.5L1725.5 1472.5L1726.5 1471.2L1727.5 1470.4L1728.5 1470.1L1729.5 1470.3L1730.5 1471.2L1731.5 1472.3L1732.5 1473.2L1733.5 1473.8L1734.5 1473.4L1735.5 1472.2L1736.5 1470.0L1737.5 1467.0L1738.5 1463.7L1739.5 1461.1L1740.5 1459.2L1741.5 1457.9L1742.5 1457.4L1743.5 1457.5L1744.5 1458.4L1745.5 1459.8L1746.5 1461.1L1747.5 1462.2L1748.5 1463.1L1749.5 1463.9L1750.5 1464.5L1751.5 1464.9L1752.5 1465.1L1753.5 1465.3L1754.5 1465.2L1755.5 1464.8L1756.5 1464.1L1757.5 1463.2L1758.5 1462.0L1759.5 1460.5L1760.5 1458.8L1761.5 1457.2L1762.5 1455.5L1763.5 1453.6L1764.5 1451.5L1765.5 1449.2L1766.5 1446.7L1767.5 1444.2L1768.5 1441.8L1769.5 1439.5L1770.5 1437.4L1771.5 1435.6L1772.5 1434.1L1773.5 1433.2L1774.5 1432.8L1775.5 1433.0L1776.5 1433.6L1777.5 1434.8L1778.5 1436.5L1779.5 1438.5L1780.5 1440.5L1781.5 1442.4L1782.5 1444.2L1783.5 1445.9L1784.5 1447.4L1785.5 1448.8L1786.5 1450.3L1787.5 1452.0L1788.5 1453.9L1789.5 1455.9L1790.5 1458.2L1791.5 1460.7L1792.5 1463.3L1793.5 1466.1L1794.5 1469.0L1795.5 1471.9L1796.5 1474.9L1797.5 1478.0L1798.5 1481.1L1799.5 1484.3L1800.5 1487.3L1801.5 1490.2L1802.5 1493.0L1803.5 1495.5L1804.5 1497.9L1805.5 1500.1L1806.5 1501.8L1807.5 1503.3L1808.5 1504.4L1809.5 1505.3L1810.5 1505.9L1811.5 1506.2L1812.5 1506.2L1813.5 1506.2L1814.5 1506.0L1815.5 1505.8L1816.5 1505.4L1817.5 1504.9L1818.5 1504.3L1819.5 1503.8L1820.5 1503.5L1821.5 1503.6L1822.5 1504.0L1823.5 1504.8L1824.5 1505.9L1825.5 1507.3L1826.5 1508.9L1827.5 1510.6L1828.5 1512.3L1829.5 1514.1L1830.5 1515.9L1831.5 1517.8L1832.5 1519.7L1833.5 1521.3L1834.5 1522.5L1835.5 1523.3L1836.5 1523.6L1837.5 1523.6L1838.5 1523.2L1839.5 1522.4L1840.5 1521.4L1841.5 1520.0L1842.5 1518.2L1843.5 1516.0L1844.5 1513.5L1845.5 1510.5L1846.5 1507.1L1847.5 1503.5L1848.5 1499.8L1849.5 1496.1L1850.5 1492.2L1851.5 1488.3L1852.5 1484.7L1853.5 1481.4L1854.5 1478.6L1855.5 1476.2L1856.5 1474.3L1857.5 1472.8L1858.5 1471.8L1859.5 1470.9L1860.5 1470.0L1861.5 1469.2L1862.5 1468.4L1863.5 1467.9L1864.5 1467.7L1865.5 1467.9L1866.5 1468.4L1867.5 1469.2L1868.5 1470.3L1869.5 1471.7L1870.5 1472.7L1871.5 1473.2L1872.5 1473.2L1873.5 1472.6L1874.5 1471.4L1875.5 1469.7L1876.5 1467.5L1877.5 1465.2L1878.5 1463.2L1879.5 1461.5L1880.5 1460.1L1881.5 1459.1L1882.5 1458.4L1883.5 1458.0L1884.5 1457.8L1885.5 1457.7L1886.5 1457.5L1887.5 1457.4L1888.5 1457.7L1889.5 1458.5L1890.5 1459.9L1891.5 1461.9L1892.5 1464.4L1893.5 1467.4L1894.5 1470.7L1895.5 1473.6L1896.5 1476.0L1897.5 1478.0L1898.5 1479.6L1899.5 1480.6L1900.5 1481.2L1901.5 1481.7L1902.5 1482.2L1903.5 1482.7L1904.5 1483.2L1905.5 1483.7L1906.5 1484.1L1907.5 1484.3L1908.5 1484.3L1909.5 1484.2L1910.5 1484.0L1911.5 1483.5L1912.5 1482.9L1913.5 1482.3L1914.5 1481.7L1915.5 1481.0L1916.5 1480.4L1917.5 1479.8L1918.5 1479.3L1919.5 1479.0L1920.5 1478.8L1921.5 1478.8L1922.5 1479.0L1923.5 1479.3L1924.5 1479.8L1925.5 1480.3L1926.5 1480.8L1927.5 1481.3L1928.5 1481.8L1929.5 1482.3L1930.5 1482.8L1931.5 1483.4L1932.5 1484.1L1933.5 1484.8L1934.5 1485.6L1935.5 1486.4L1936.5 1487.3L1937.5 1488.1L1938.5 1489.0L1939.5 1489.9L1940.5 1490.8L1941.5 1491.6L1942.5 1492.1L1943.5 1492.0L1944.5 1491.5L1945.5 1490.6L1946.5 1489.2L1947.5 1487.3L1948.5 1485.0L1949.5 1482.7L1950.5 1480.3L1951.5 1478.5L1952.5 1477.3L1953.5 1476.6L1954.5 1476.4L1955.5 1476.7L1956.5 1477.6L1957.5 1479.0L1958.5 1480.3L1959.5 1481.5L1960.5 1482.6L1961.5 1483.5L1962.5 1484.3L1963.5 1485.0L1964.5 1485.9L1965.5 1487.1L1966.5 1488.8L1967.5 1490.9L1968.5 1493.5L1969.5 1496.6L1970.5 1499.9L1971.5 1503.0L1972.5 1505.6L1973.5 1507.7L1974.5 1509.5L1975.5 1510.8L1976.5 1511.6L1977.5 1512.3L1978.5 1512.9L1979.5 1513.4L1980.5 1513.6L1981.5 1513.4L1982.5 1513.0L1983.5 1512.2L1984.5 1511.1L1985.5 1509.8L1986.5 1508.3L1987.5 1506.8L1988.5 1505.3L1989.5 1504.0L1990.5 1502.8L1991.4 1501.6L1992.4 1500.6L1993.4 1499.7L1994.4 1498.9L1995.4 1498.1L1996.4 1497.3L1997.4 1496.6L1998.4 1495.8L1999.4 1495.0L2000.4 1494.2L2001.4 1493.5L2002.4 1493.0L2003.4 1492.6L2004.4 1492.4L2005.4 1492.5L2006.4 1492.7L2007.4 1493.1L2008.4 1493.7L2009.4 1494.3L2010.4 1494.8L2011.4 1495.4L2012.4 1495.7L2013.4 1495.8L2014.4 1495.5L2015.4 1494.9L2016.4 1494.1L2017.4 1492.9L2018.4 1491.4L2019.4 1489.8L2020.4 1488.2L2021.4 1486.7L2022.4 1485.1L2023.4 1483.8L2024.4 1482.7L2025.4 1481.8L2026.4 1481.1L2027.4 1480.6L2028.4 1480.3L2029.4 1480.1L2030.4 1479.9L2031.4 1479.9L2032.4 1480.0L2033.4 1480.5L2034.4 1481.1L2035.4 1482.1L2036.4 1483.2L2037.4 1484.7L2038.4 1486.3L2039.4 1487.9L2040.4 1489.7L2041.4 1491.5L2042.4 1493.5L2043.4 1495.5L2044.4 1497.6L2045.4 1499.8L2046.4 1501.9L2047.4 1504.0L2048.4 1506.0L2049.4 1507.8L2050.4 1509.6L2051.4 1511.2L2052.4 1512.8L2053.4 1514.3L2054.4 1515.8L2055.4 1517.2L2056.4 1518.3L2057.4 1519.1L2058.4 1519.6L2059.4 1519.8L2060.4 1519.8L2061.4 1519.5L2062.4 1519.0L2063.4 1518.5L2064.4 1517.9L2065.4 1517.3L2066.4 1516.5L2067.4 1515.7L2068.4 1514.7L2069.4 1513.7L2070.4 1512.5L2071.4 1511.3L2072.4 1510.4L2073.4 1509.7L2074.4 1509.3L2075.4 1509.1L2076.4 1509.2L2077.4 1509.5L2078.4 1510.1L2079.4 1510.7L2080.4 1511.4L2081.4 1512.0L2082.4 1512.7L2083.4 1513.5L2084.4 1514.2L2085.4 1515.0L2086.4 1515.8L2087.4 1516.4L2088.4 1516.9L2089.4 1517.1L2090.4 1517.2L2091.4 1517.1L2092.4 1516.9L2093.4 1516.4L2094.4 1516.0L2095.4 1515.6L2096.4 1515.2L2097.4 1514.8L2098.4 1514.4L2099.4 1514.2L2100.4 1514.0L2101.4 1513.8L2102.4 1513.7L2103.4 1513.7L2104.4 1513.7L2105.4 1513.7L2106.4 1513.7L2107.4 1513.7L2108.4 1513.7L2109.4 1513.7L2110.4 1513.5L2111.4 1511.9L2112.4 1508.8L2113.4 1504.5L2114.4 1499.9L2115.4 1495.0L2116.4 1489.8L2117.4 1484.6L2118.4 1480.5L2119.4 1477.5L2120.4 1475.4L2121.4 1473.3L2122.4 1471.0L2123.4 1468.7L2124.4 1466.4L2125.4 1464.0L2126.4 1462.1L2127.4 1460.6L2128.4 1459.5L2129.4 1458.9L2130.4 1459.3L2131.4 1460.9L2132.4 1463.7L2133.4 1467.2L2134.4 1471.3L2135.4 1475.6L2136.4 1480.0L2137.4 1484.0L2138.4 1487.4L2139.4 1490.3L2140.4 1492.5L2141.4 1494.2L2142.4 1496.0L2143.4 1497.7L2144.4 1499.5L2145.4 1501.2L2146.4 1502.9L2147.4 1504.3L2148.4 1505.3L2149.4 1506.1L2150.4 1506.6L2151.4 1506.9L2152.4 1506.8L2153.4 1506.5L2154.4 1506.2L2155.4 1505.9L2156.4 1505.6L2157.4 1505.5L2158.4 1505.5L2159.4 1505.7L2160.4 1506.0L2161.4 1506.5L2162.4 1507.2L2163.4 1508.0L2164.4 1508.9L2165.4 1509.7L2166.4 1510.6L2167.4 1511.4L2168.4 1512.0L2169.4 1512.6L2170.4 1512.9L2171.4 1513.1L2172.4 1513.2L2173.4 1513.1L2174.4 1513.0L2175.4 1512.8L2176.4 1512.5L2177.4 1512.0L2178.4 1511.3L2179.4 1510.4L2180.4 1509.2L2181.4 1507.7L2182.4 1506.1L2183.4 1504.3L2184.4 1502.2L2185.4 1499.8L2186.4 1497.1L2187.4 1494.0L2188.4 1490.7L2189.4 1487.0L2190.4 1483.0L2191.4 1478.8L2192.4 1474.6L2193.4 1470.3L2194.4 1466.0L2195.4 1461.5L2196.4 1457.4L2197.4 1453.6L2198.4 1450.2L2199.4 1447.1L2200.4 1444.4L2201.4 1442.0L2202.4 1440.0L2203.4 1438.0L2204.4 1436.0L2205.4 1433.7L2206.4 1431.1L2207.4 1428.3L2208.4 1425.1L2209.4 1422.1L2210.4 1419.5L2211.4 1417.3L2212.4 1415.8L2213.4 1415.0L2214.4 1415.0L2215.4 1415.4L2216.4 1415.7L2217.4 1415.5L2218.4 1414.8L2219.4 1413.7L2220.4 1412.1L2221.4 1410.4L2222.4 1408.9L2223.4 1408.0L2224.4 1407.5L2225.4 1407.5L2226.4 1408.1L2227.4 1409.3L2228.4 1411.0L2229.4 1413.1L2230.4 1415.4L2231.4 1418.0L2232.4 1420.5L2233.4 1423.0L2234.4 1425.3L2235.4 1427.3L2236.4 1428.9L2237.4 1430.2L2238.4 1431.4L2239.4 1432.8L2240.4 1434.4L2241.4 1436.1L2242.4 1438.0L2243.4 1440.1L2244.4 1441.9L2245.4 1443.5L2246.4 1444.7" stroke="#3f424c" stroke-width="6.4" fill="none" stroke-linejoin="round" stroke-linecap="round"/>
<path d="M202.8 987.4V999.3M203.8 989.2V998.2M205.8 991.2V997.0M207.8 990.8V1001.6M208.8 994.4V1000.4M210.8 991.5V1002.7M215.8 987.6V997.0M216.8 984.8V994.8M217.8 986.8V991.0M218.8 981.8V989.5M219.8 980.4V989.5M220.8 976.6V988.1M226.8 968.3V981.8M227.8 967.2V977.3M228.8 968.5V979.1M230.8 965.7V980.1M231.8 968.7V979.9M232.8 970.6V975.1M233.8 968.1V978.1M235.8 966.8V979.7M240.8 966.5V977.8M241.8 969.7V975.2M242.8 966.1V973.7M243.8 963.9V971.1M245.8 961.1V977.4M247.8 963.5V968.7M248.8 960.7V968.0M249.8 955.1V970.5M251.8 956.1V964.6M252.8 954.3V960.5M253.8 952.3V961.4M254.8 954.3V962.3M257.8 951.2V958.7M260.8 943.8V950.3M261.8 939.6V952.2M263.8 934.1V950.6M265.8 935.2V940.4M267.8 931.7V937.5M268.8 921.3V934.5M269.8 917.0V927.1M270.8 917.4V923.0M271.8 905.2V924.5M276.8 879.7V891.0M277.8 878.8V889.6M283.8 867.0V884.7M284.8 864.2V879.3M286.8 885.3V899.2M287.8 891.6V903.6M289.8 911.2V935.4M290.8 904.5V925.1M293.8 888.0V904.5M294.8 886.4V899.0M295.8 885.7V895.7M296.8 883.1V894.6M297.8 882.4V890.8M298.8 880.1V891.6M299.8 877.1V889.9M300.8 878.5V884.1M302.8 867.9V881.4M304.8 860.4V877.2M305.8 857.0V866.1M306.8 855.0V865.0M308.8 847.7V860.0M311.8 835.0V849.3M312.8 827.7V845.0M313.8 829.0V842.7M314.8 830.1V839.6M316.8 820.0V830.3M318.8 813.0V826.3M320.8 798.5V817.1M322.8 799.5V813.2M325.8 808.1V821.6M326.8 809.1V819.9M327.8 807.8V827.6M331.8 839.5V854.2M332.8 836.4V850.6M333.8 819.0V840.0M334.8 820.7V829.1M335.8 811.6V828.6M336.8 796.5V825.1M339.8 805.3V826.2M343.8 810.8V819.7M344.8 807.6V815.9M345.8 806.5V819.5M346.8 801.4V816.7M347.8 803.4V815.2M349.8 799.6V811.9M350.8 795.7V811.2M351.8 794.1V805.9M353.8 789.9V802.2M354.8 787.0V800.9M356.8 776.4V797.7M358.8 782.5V793.7M359.8 782.4V794.3M360.8 776.6V789.0M361.8 779.9V788.1M362.8 780.7V791.8M363.8 773.5V788.8M364.8 768.6V780.9M371.8 783.3V796.1M373.8 790.5V806.9M374.8 792.6V810.1M376.8 805.6V830.8M379.8 837.4V852.8M383.8 849.3V866.5M384.8 847.3V855.8M385.8 848.4V854.7M386.8 841.9V853.6M389.8 839.4V848.8M390.8 841.8V850.1M391.8 839.6V860.8M392.8 850.5V861.7M393.8 854.2V864.4M395.8 860.1V874.3M397.8 873.7V883.3M399.8 884.7V925.5M401.8 888.9V896.1M402.8 878.3V895.9M403.8 874.5V887.3M404.8 874.8V881.9M405.8 869.2V881.1M406.8 861.3V878.6M408.8 850.5V860.5M409.8 845.5V859.0M413.8 859.0V866.8M414.8 857.6V872.3M418.8 870.8V886.0M419.8 877.1V886.5M420.8 877.7V891.4M421.8 887.1V896.7M422.8 890.9V898.5M424.8 898.4V909.1M426.8 909.5V917.8M428.8 913.4V938.4M433.8 911.8V916.9M434.8 909.4V916.6M437.8 901.2V909.7M438.8 898.4V905.6M442.8 897.7V906.0M444.8 898.5V904.4M445.8 897.6V906.3M446.8 897.8V905.8M447.8 891.4V903.7M448.8 893.5V900.8M451.8 886.0V901.6M452.8 892.7V902.9M454.8 887.8V900.8M455.8 886.0V896.4M456.7 889.1V899.9M457.7 887.6V896.3M458.7 888.1V892.7M460.7 887.2V890.6M461.7 886.9V892.8M463.7 884.4V892.9M464.7 870.4V892.3M466.7 876.9V889.4M468.7 877.7V890.2M469.7 880.7V892.2M470.7 884.8V891.5M472.7 886.9V901.1M474.7 886.5V899.5M476.7 883.9V892.8M480.7 882.0V889.0M483.7 875.0V884.7M485.7 874.7V885.9M486.7 872.7V880.9M487.7 869.6V882.0M490.7 864.5V877.2M493.7 878.9V885.0M495.7 883.1V890.6M497.7 888.2V893.2M498.7 885.9V900.4M499.7 889.6V900.2M503.7 903.0V913.8M505.7 910.2V936.4M506.7 911.4V920.0M508.7 911.5V918.7M509.7 904.5V923.9M513.7 904.8V922.9M515.7 918.1V924.1M519.7 921.5V931.0M522.7 924.2V934.7M526.7 916.9V930.3M528.7 913.8V921.6M529.7 917.0V928.4M530.7 914.7V926.8M532.7 910.7V922.5M533.7 909.6V915.5M534.7 907.2V916.4M536.7 907.1V915.3M537.7 905.8V915.1M542.7 908.5V923.6M543.7 911.3V918.9M544.7 907.7V920.0M545.7 911.2V923.3M546.7 911.7V926.1M548.7 925.4V931.8M552.7 930.9V941.3M554.7 936.6V959.2M557.7 940.3V950.9M558.7 941.0V946.9M559.7 938.8V945.9M560.7 941.1V943.8M561.7 940.1V949.6M562.7 939.6V953.1M564.7 930.9V943.5M566.7 931.1V941.2M567.7 931.4V937.8M568.7 930.0V941.9M569.7 933.4V938.6M571.7 927.2V936.5M572.7 927.1V934.1M573.7 927.0V937.0M574.7 919.8V932.0M575.7 927.5V937.4M576.7 922.9V935.7M579.7 915.7V921.1M580.7 915.8V922.7M581.7 911.9V923.7M582.7 910.6V916.9M583.7 908.4V920.0M585.7 907.3V914.8M586.7 906.9V915.3M587.7 899.3V912.7M589.7 904.7V910.1M590.7 900.5V908.0M591.7 900.7V906.9M592.7 895.9V908.8M593.7 897.2V910.1M595.7 901.9V910.7M601.7 900.1V913.0M603.7 901.2V914.5M605.7 899.0V912.7M607.7 904.1V919.6M608.7 912.3V919.5M610.7 903.3V922.5M613.7 915.2V922.1M616.7 914.4V932.5M621.7 915.3V928.2M624.7 922.5V930.3M626.7 920.5V930.9M627.7 920.6V929.0M629.7 923.1V930.4M630.7 921.3V926.6M632.7 920.0V931.0M633.7 920.1V925.2M634.7 918.0V925.4M643.7 908.9V919.2M645.7 908.9V921.2M647.7 909.9V917.4M652.7 920.8V930.1M653.7 925.5V934.1M654.7 924.0V934.5M656.7 928.3V940.2M658.7 928.1V936.9M664.7 935.0V942.2M667.7 931.6V942.4M669.7 926.5V943.9M670.7 930.8V942.4M671.7 932.8V943.4M672.7 927.5V941.1M673.7 932.3V939.5M676.7 929.0V935.3M677.7 926.7V938.8M678.7 926.3V939.5M680.7 924.3V932.7M683.7 926.2V936.4M684.7 927.1V937.6M688.7 923.6V929.9M690.7 926.1V933.0M693.7 923.6V930.7M697.7 923.2V933.1M698.7 925.2V934.7M699.7 926.3V935.4M700.7 922.0V937.7M701.7 924.4V933.5M702.7 922.3V933.7M703.7 923.3V936.3M704.7 926.8V934.1M705.7 923.0V932.4M706.7 921.2V931.3M707.7 919.3V928.9M708.7 919.7V927.9M709.7 920.6V927.3M710.7 923.4V933.6M711.7 922.9V929.9M715.7 922.7V928.4M720.7 919.9V923.7M721.7 918.0V923.8M722.7 916.4V924.3M723.7 916.5V925.0M724.7 909.4V922.7M725.7 916.2V928.3M729.7 906.4V913.4M732.7 901.8V908.6M733.7 900.4V911.1M734.7 895.7V907.6M735.7 893.2V906.7M736.7 896.9V907.8M737.7 893.8V901.7M740.7 893.3V905.5M742.7 898.4V905.9M744.7 902.4V907.8M746.7 900.6V910.0M747.7 901.2V910.0M748.7 897.2V906.6M750.7 894.6V908.0M752.7 900.9V907.8M754.7 898.4V907.5M756.7 895.8V905.2M757.7 899.2V904.7M758.7 896.3V902.7M759.7 896.3V901.9M760.7 891.5V904.3M762.7 891.9V902.5M764.7 892.9V900.2M766.7 890.4V900.5M767.7 891.7V901.4M768.7 891.7V903.9M769.7 893.6V900.9M772.7 898.1V907.0M773.7 895.7V904.8M774.7 894.4V908.0M776.7 898.4V913.5M779.7 917.6V923.0M780.7 914.9V935.8M781.7 919.0V930.8M783.7 925.3V931.8M785.7 917.9V930.1M786.7 922.9V933.2M789.7 926.3V932.6M791.7 918.9V938.8M796.7 929.3V936.4M798.7 925.3V933.1M799.7 922.6V939.7M800.7 921.0V931.4M801.7 920.9V932.7M804.7 924.1V933.2M806.7 921.1V929.9M807.7 923.0V932.7M808.7 920.0V929.7M809.7 920.5V931.3M810.7 921.6V932.8M811.7 922.7V930.7M812.7 919.1V929.7M821.7 933.7V945.9M822.7 937.0V943.8M824.7 935.0V946.1M827.7 938.5V948.2M834.7 939.6V951.3M844.7 951.3V973.1M845.7 967.8V979.1M857.7 1039.5V1052.9M858.7 1043.4V1060.5M861.7 1066.4V1090.1M863.7 1053.6V1064.9M864.7 1046.9V1059.7M865.7 1038.5V1052.5M866.7 1034.2V1046.1M867.7 1026.3V1038.2M868.7 1024.5V1038.8M869.7 1019.5V1034.4M870.7 1012.4V1027.2M872.7 1006.2V1015.5M878.7 1012.5V1019.3M880.7 1009.2V1018.5M881.7 1004.7V1018.6M883.7 995.8V1009.4M884.7 989.9V1003.5M885.7 981.3V998.6M887.7 978.1V991.3M888.7 974.9V983.1M890.7 970.9V977.7M894.7 933.6V961.5M895.7 943.7V953.0M896.7 948.9V966.4M898.7 957.0V972.4M899.7 965.6V974.3M903.7 958.4V968.6M905.7 954.7V965.6M911.7 952.3V963.2M913.7 955.7V963.9M914.7 961.5V971.2M916.7 960.0V972.6M918.7 966.3V970.3M925.7 971.6V979.2M927.7 964.5V982.4M928.7 965.1V980.5M929.7 964.6V970.0M930.7 962.3V968.5M931.7 961.1V966.6M933.7 960.4V967.0M941.7 975.8V988.5M943.7 980.7V996.1M946.7 990.7V995.9M947.7 984.9V994.0M948.7 983.9V994.1M949.7 982.6V989.6M950.7 980.2V991.3M951.7 976.3V985.8M953.7 971.1V979.1M954.7 968.6V979.5M955.7 968.5V973.5M956.7 967.3V975.7M957.7 964.2V971.6M959.7 963.0V980.5M960.7 961.1V967.8M963.7 947.9V975.0M964.7 951.2V962.4M967.7 948.3V956.3M968.6 946.4V956.7M970.6 942.6V948.3M971.6 940.7V951.5M972.6 943.6V955.3M973.6 938.7V951.2M974.6 932.1V948.4M977.6 943.1V949.3M978.6 944.9V950.2M980.6 938.8V950.1M985.6 928.2V938.7M987.6 930.7V937.9M988.6 930.2V942.9M989.6 927.7V934.9M990.6 928.9V936.1M991.6 927.5V938.0M992.6 926.5V936.7M996.6 917.0V926.3M997.6 914.9V925.9M998.6 916.8V924.4M999.6 909.4V920.8M1001.6 909.9V919.7M1002.6 907.9V923.5M1006.6 889.1V905.2M1007.6 898.2V907.6M1013.6 902.0V910.5M1014.6 900.2V914.8M1015.6 903.4V912.8M1018.6 897.2V906.0M1019.6 891.7V905.1M1020.6 895.4V906.9M1022.6 894.0V899.2M1024.6 889.4V896.9M1026.6 887.0V891.5M1027.6 885.7V890.7M1028.6 881.7V892.4M1029.6 877.7V892.8M1031.6 871.8V883.2M1032.6 871.2V880.3M1035.6 862.1V866.4M1038.6 852.0V857.2M1039.6 845.0V855.7M1041.6 842.7V851.2M1042.6 837.8V850.1M1043.6 838.3V850.0M1046.6 831.7V840.2M1047.6 828.0V837.0M1050.6 809.4V825.5M1051.6 806.8V821.6M1052.6 800.7V822.9M1053.6 799.8V810.6M1054.6 802.3V809.3M1056.6 791.1V802.7M1057.6 782.5V800.1M1060.6 768.2V787.0M1061.6 757.2V784.0M1062.6 763.0V779.3M1065.6 766.4V779.6M1067.6 771.0V786.4M1070.6 783.5V794.2M1071.6 790.9V807.1M1072.6 793.1V808.5M1073.6 799.4V876.7M1075.6 802.1V817.8M1076.6 805.8V815.4M1077.6 809.0V824.1M1080.6 801.7V820.5M1081.6 797.6V810.6M1086.6 765.3V771.2M1088.6 768.5V777.2M1089.6 763.8V773.6M1091.6 764.0V775.8M1093.6 764.3V775.2M1094.6 764.4V776.7M1095.6 764.8V770.5M1097.6 760.7V773.0M1099.6 758.1V768.6M1101.6 758.6V770.3M1102.6 756.6V775.3M1103.6 754.6V767.8M1105.6 757.8V764.9M1107.6 763.3V774.5M1108.6 763.0V775.5M1111.6 761.0V772.7M1113.6 744.2V756.7M1116.6 729.4V740.1M1117.6 726.2V735.9M1119.6 710.6V728.3M1124.6 705.7V717.9M1126.6 696.0V708.6M1127.6 696.3V714.5M1128.6 697.3V716.0M1129.6 712.4V726.1M1130.6 713.1V734.5M1133.6 694.2V705.0M1134.6 683.6V705.4M1136.6 681.0V694.5M1137.6 677.1V685.8M1139.6 668.3V685.8M1140.6 665.2V676.3M1141.6 655.5V678.1M1143.6 652.2V664.0M1145.6 642.8V657.2M1147.6 637.7V646.3M1148.6 628.0V652.2M1149.6 626.7V640.0M1150.6 616.0V632.6M1151.6 620.5V629.5M1153.6 612.1V627.3M1156.6 598.6V623.0M1157.6 602.2V621.7M1162.6 603.2V624.5M1163.6 603.6V616.0M1164.6 608.4V616.2M1165.6 606.9V619.9M1166.6 608.7V616.4M1167.6 601.0V612.6M1171.6 590.8V602.1M1173.6 584.2V598.2M1175.6 580.1V589.9M1177.6 558.1V578.3M1178.6 566.3V583.5M1183.6 611.2V642.0M1188.6 663.6V675.7M1189.6 662.6V670.6M1190.6 658.7V671.9M1194.6 641.0V649.9M1195.6 633.3V645.1M1197.6 618.3V643.6M1198.6 620.5V635.2M1200.6 608.5V620.4M1201.6 608.3V619.1M1202.6 605.5V621.3M1204.6 604.7V622.5M1206.6 602.3V614.9M1213.6 616.4V634.8M1215.6 638.6V659.5M1217.6 637.6V653.3M1219.6 635.4V647.0M1221.6 626.8V643.0M1223.6 629.4V635.6M1226.6 626.7V640.5M1228.6 626.2V642.8M1229.6 625.9V641.5M1231.6 628.1V639.0M1234.6 629.2V640.6M1235.6 623.6V637.9M1236.6 626.8V635.2M1237.6 612.5V639.9M1240.6 616.8V628.9M1241.6 612.4V627.3M1244.6 600.0V607.9M1246.6 587.7V609.2M1247.6 588.6V605.1M1249.6 591.5V602.7M1252.6 606.6V613.9M1253.6 609.1V619.1M1254.6 604.9V622.2M1256.6 594.7V603.1M1257.6 586.4V603.9M1259.6 584.8V597.4M1260.6 584.5V597.5M1261.6 579.6V595.9M1262.6 581.7V588.6M1263.6 573.2V594.2M1266.6 573.8V591.0M1267.6 584.4V596.3M1270.6 592.2V597.8M1271.6 585.6V599.7M1272.6 583.9V599.4M1273.6 585.3V610.3M1275.6 580.6V601.1M1276.6 576.4V597.4M1278.6 563.1V586.2M1279.6 556.8V581.7M1280.6 559.5V577.7M1282.6 575.7V587.4M1284.6 577.0V593.3M1291.6 596.8V617.6M1292.6 604.0V621.9M1293.6 606.6V620.6M1294.6 603.0V611.5M1295.6 599.5V609.5M1297.6 588.5V606.4M1298.6 589.7V603.5M1299.6 583.7V605.8M1300.6 582.6V591.3M1301.6 583.3V604.3M1302.6 579.9V595.0M1304.6 576.0V585.2M1308.6 573.4V586.5M1312.6 579.7V599.1M1315.6 592.8V608.2M1320.6 606.1V616.4M1322.6 591.1V608.6M1324.6 589.4V598.0M1325.6 583.8V598.3M1326.6 573.3V597.8M1328.6 578.8V591.9M1330.6 579.1V587.1M1331.6 579.5V595.6M1333.6 573.3V590.4M1335.6 579.2V593.5M1337.6 589.9V596.9M1339.6 584.8V600.3M1342.6 593.1V611.1M1349.6 611.0V624.2M1350.6 609.3V627.8M1351.6 603.6V618.7M1352.6 604.8V617.3M1354.6 607.7V616.7M1355.6 601.0V628.5M1356.6 597.9V619.5M1357.6 598.4V626.2M1358.6 597.0V609.8M1359.6 596.1V606.5M1360.6 596.3V603.6M1361.6 594.1V601.3M1362.6 590.2V605.3M1366.6 575.5V591.7M1370.6 581.3V597.0M1372.6 592.5V598.1M1378.6 636.5V671.5M1379.6 668.1V692.0M1380.6 680.6V688.2M1384.6 677.9V687.4M1385.6 673.1V686.1M1386.6 673.9V708.4M1389.6 704.4V727.2M1393.6 731.0V744.4M1394.6 723.2V742.5M1395.6 711.4V727.3M1396.6 711.0V722.1M1397.6 706.3V718.6M1398.6 704.6V713.2M1399.6 701.4V708.4M1400.6 691.8V712.7M1403.6 686.3V702.1M1405.6 685.0V695.9M1407.6 688.2V698.9M1410.6 684.6V703.7M1412.6 702.0V718.9M1414.6 714.1V733.9M1416.6 737.8V746.6M1421.6 735.6V748.1M1423.6 729.3V747.8M1425.6 732.2V746.2M1427.6 737.6V745.3M1429.6 736.8V753.6M1431.6 746.1V760.8M1433.6 748.3V762.7M1434.6 752.1V761.9M1436.6 743.1V759.1M1439.6 744.3V754.1M1440.6 742.6V762.0M1443.6 741.2V754.0M1445.6 739.4V752.7M1448.6 732.1V741.0M1449.6 721.4V737.1M1450.6 721.8V730.0M1451.6 715.5V733.3M1452.6 716.8V727.0M1453.6 715.4V725.5M1454.6 717.8V723.7M1455.6 714.1V725.2M1456.6 707.2V720.8M1457.6 709.0V720.9M1458.6 702.1V721.1M1459.6 700.8V712.2M1461.6 703.6V711.9M1463.6 702.5V718.0M1471.6 712.7V731.8M1474.6 723.4V734.7M1476.6 726.0V741.7M1478.6 731.2V742.1M1479.5 725.2V742.6M1480.5 718.4V733.0M1487.5 770.6V787.5M1488.5 783.4V796.8M1489.5 788.0V802.2M1490.5 787.8V811.0M1494.5 818.6V871.6M1498.5 834.6V851.0M1504.5 858.1V879.2M1508.5 852.3V860.8M1510.5 846.8V852.9M1512.5 856.8V868.0M1513.5 855.7V877.5M1516.5 875.5V883.2M1517.5 872.4V908.6M1519.5 883.2V893.9M1520.5 888.1V934.0M1522.5 891.2V901.1M1526.5 897.2V909.4M1527.5 885.2V902.7M1528.5 863.0V890.6M1530.5 851.4V867.8M1531.5 840.4V865.4M1532.5 829.4V850.7M1533.5 796.6V835.0M1534.5 807.5V823.9M1536.5 820.4V835.9M1539.5 831.0V838.2M1540.5 826.8V840.0M1546.5 833.4V844.2M1547.5 830.3V847.9M1548.5 838.9V871.6M1550.5 837.7V850.7M1551.5 832.4V848.1M1552.5 836.0V846.7M1553.5 834.7V846.4M1554.5 834.9V847.3M1555.5 827.3V851.2M1556.5 831.3V838.5M1559.5 824.1V831.3M1560.5 822.9V837.2M1561.5 819.8V832.7M1562.5 812.0V825.5M1563.5 810.5V818.4M1564.5 810.8V820.1M1565.5 806.4V814.9M1566.5 800.4V813.9M1567.5 787.4V806.1M1568.5 794.5V805.0M1569.5 801.8V811.8M1572.5 806.2V825.2M1574.5 808.0V822.1M1578.5 814.0V837.4M1585.5 823.6V835.4M1587.5 832.1V841.8M1588.5 830.2V842.0M1589.5 834.7V849.5M1594.5 844.9V850.6M1595.5 840.3V851.5M1597.5 840.9V850.9M1605.5 840.2V847.3M1606.5 840.2V845.9M1607.5 837.1V847.6M1609.5 835.0V850.8M1610.5 831.8V845.3M1611.5 829.9V838.0M1616.5 822.6V827.1M1617.5 819.7V838.5M1620.5 820.7V831.4M1621.5 815.9V829.5M1626.5 834.2V846.5M1630.5 837.9V847.3M1631.5 836.4V846.5M1634.5 835.5V848.8M1636.5 834.0V838.5M1637.5 829.8V840.8M1638.5 828.3V838.0M1639.5 827.8V840.9M1640.5 822.3V836.3M1641.5 825.8V835.1M1642.5 822.5V834.8M1643.5 829.1V833.0M1644.5 825.1V834.1M1645.5 821.9V829.9M1646.5 823.5V829.8M1648.5 826.0V832.3M1649.5 825.7V835.1M1650.5 821.3V836.0M1651.5 822.4V832.2M1652.5 815.3V834.7M1654.5 817.1V828.0M1655.5 808.6V819.8M1656.5 806.4V827.6M1659.5 785.1V815.4M1660.5 796.2V811.9M1661.5 803.2V808.9M1663.5 791.7V807.8M1664.5 800.1V807.6M1666.5 799.3V811.9M1668.5 796.8V811.9M1669.5 793.8V812.6M1671.5 790.6V802.9M1673.5 792.2V803.9M1675.5 790.5V800.4M1677.5 786.6V796.9M1678.5 785.1V790.1M1679.5 780.7V789.1M1680.5 781.7V791.2M1681.5 778.2V788.0M1682.5 778.2V791.1M1683.5 771.1V788.5M1685.5 768.2V782.8M1689.5 763.5V777.8M1691.5 758.9V767.7M1693.5 748.6V758.3M1694.5 748.7V755.9M1695.5 745.7V751.7M1697.5 741.6V751.7M1700.5 735.0V750.9M1702.5 736.3V745.9M1703.5 735.4V746.2M1706.5 732.9V744.3M1707.5 727.3V739.6M1708.5 733.9V756.8M1709.5 746.8V760.2M1713.5 754.5V765.2M1714.5 756.6V770.1M1715.5 744.6V760.5M1717.5 743.5V758.3M1719.5 737.2V746.4M1721.5 723.9V742.5M1724.5 732.7V747.1M1727.5 739.9V747.1M1731.5 749.7V760.5M1734.5 759.9V779.2M1736.5 774.2V782.3M1737.5 767.5V784.8M1740.5 782.4V802.4M1741.5 785.5V805.2M1742.5 787.4V795.9M1743.5 784.5V791.2M1745.5 784.6V790.2M1746.5 773.7V793.6M1751.5 796.5V803.3M1752.5 795.1V806.1M1755.5 808.4V820.8M1760.5 832.1V850.2M1761.5 829.2V837.1M1762.5 816.8V832.1M1763.5 815.7V826.9M1764.5 813.1V819.3M1765.5 807.8V816.9M1766.5 803.7V818.9M1767.5 803.6V813.1M1768.5 802.8V815.9M1771.5 797.6V813.1M1775.5 806.5V817.0M1780.5 805.5V819.2M1784.5 809.8V815.5M1785.5 808.6V816.9M1786.5 805.6V816.7M1788.5 807.4V818.7M1789.5 808.4V821.8M1791.5 806.2V815.1M1792.5 807.7V813.4M1793.5 803.6V817.1M1794.5 803.0V817.2M1796.5 796.8V816.4M1797.5 796.3V807.1M1799.5 791.9V809.1M1802.5 787.1V792.6M1803.5 780.6V790.8M1807.5 774.9V784.0M1808.5 774.8V789.7M1812.5 770.6V778.8M1814.5 766.2V773.8M1815.5 763.8V778.3M1816.5 756.6V778.1M1817.5 756.1V769.6M1819.5 756.4V769.0M1821.5 754.6V766.6M1822.5 759.0V764.7M1824.5 748.6V760.6M1826.5 748.5V761.4M1828.5 749.1V759.2M1829.5 746.3V762.3M1830.5 739.3V751.4M1832.5 726.8V750.9M1834.5 735.6V748.0M1837.5 728.6V742.2M1838.5 723.4V738.1M1839.5 720.6V731.8M1840.5 718.4V733.0M1841.5 712.7V724.7M1845.5 719.5V724.9M1846.5 716.1V726.5M1851.5 728.3V736.4M1852.5 724.9V735.5M1853.5 722.2V734.4M1854.5 720.0V732.3M1855.5 712.5V735.2M1857.5 712.8V725.8M1860.5 700.4V718.3M1869.5 722.7V729.9M1872.5 732.8V741.5M1877.5 747.5V765.9M1878.5 738.2V758.2M1880.5 733.2V749.8M1884.5 725.5V743.1M1886.5 725.7V739.4M1889.5 712.4V726.5M1890.5 711.1V718.0M1892.5 703.7V718.8M1893.5 699.4V718.6M1897.5 701.7V715.2M1900.5 706.0V717.9M1901.5 701.9V721.6M1902.5 698.0V718.8M1903.5 703.0V716.9M1904.5 705.1V724.6M1905.5 703.3V714.1M1906.5 700.1V717.1M1908.5 697.2V709.4M1909.5 689.1V709.9M1914.5 689.8V705.4M1923.5 710.8V717.0M1924.5 704.8V716.0M1926.5 708.8V719.9M1927.5 702.1V715.2M1928.5 706.9V713.2M1930.5 698.8V716.5M1931.5 704.3V711.8M1932.5 700.4V717.8M1933.5 698.6V714.5M1936.5 700.9V712.3M1937.5 703.1V712.9M1941.5 708.6V717.3M1942.5 706.2V720.3M1943.5 714.0V728.2M1949.5 729.2V744.8M1950.5 730.5V736.1M1952.5 717.6V738.6M1954.5 714.8V728.1M1956.5 710.4V727.4M1959.5 714.5V729.4M1961.5 707.8V716.4M1962.5 707.4V721.8M1964.5 694.9V716.7M1965.5 697.3V708.2M1967.5 688.8V705.1M1974.5 692.8V706.7M1976.5 696.0V708.2M1977.5 699.0V709.3M1978.5 687.7V709.7M1979.5 686.8V697.1M1980.5 690.0V698.0M1983.5 679.0V697.2M1984.5 676.9V686.0M1985.5 668.1V687.8M1986.5 671.2V696.5M1987.5 663.9V676.2M1990.5 662.3V673.1M1991.4 666.3V680.3M1993.4 656.5V671.3M1994.4 660.5V678.1M1996.4 661.5V677.0M1998.4 664.0V676.2M2004.4 670.4V689.2M2007.4 676.9V690.3M2012.4 690.5V702.1M2014.4 694.6V707.5M2020.4 706.3V723.5M2022.4 710.7V722.2M2023.4 715.3V732.5M2024.4 708.4V726.0M2026.4 705.0V715.4M2028.4 700.1V712.5M2029.4 700.0V706.0M2031.4 690.1V698.2M2033.4 686.4V698.6M2034.4 682.8V695.7M2035.4 679.6V693.4M2037.4 682.8V693.6M2040.4 676.5V686.2M2044.4 676.6V691.5M2045.4 677.2V690.7M2048.4 675.4V684.9M2051.4 679.0V694.5M2054.4 682.7V697.4M2058.4 696.5V706.4M2059.4 694.0V705.5M2060.4 696.8V714.8M2061.4 698.8V711.5M2062.4 697.5V708.9M2063.4 696.4V714.1M2064.4 697.2V706.3M2066.4 691.5V701.8M2067.4 687.9V709.8M2068.4 691.1V712.6M2069.4 683.8V697.0M2071.4 684.9V692.5M2072.4 685.3V699.1M2073.4 684.1V698.7M2074.4 685.0V692.4M2079.4 677.1V695.3M2081.4 676.9V700.4M2082.4 671.0V688.6M2084.4 671.6V683.1M2086.4 662.4V686.2M2092.4 659.7V674.9M2093.4 665.5V674.1M2097.4 657.7V668.4M2099.4 660.1V668.0M2105.4 661.5V667.2M2106.4 655.2V671.9M2109.4 655.1V675.1M2111.4 665.2V690.4M2113.4 683.8V700.6M2114.4 691.9V708.9M2119.4 709.5V723.6M2120.4 715.9V725.4M2122.4 714.3V730.3M2123.4 706.0V726.7M2124.4 708.4V751.9M2125.4 709.0V718.3M2132.4 695.0V701.1M2133.4 687.4V700.9M2139.4 666.1V682.5M2140.4 663.2V671.6M2141.4 661.5V671.9M2142.4 649.4V670.1M2143.4 647.1V659.4M2145.4 646.8V702.5M2146.4 639.8V655.0M2147.4 646.0V654.6M2150.4 642.8V651.1M2152.4 640.3V652.4M2159.4 645.2V655.0M2162.4 640.8V651.5M2163.4 642.7V651.2M2164.4 634.0V650.2M2165.4 631.4V642.7M2168.4 623.5V632.6M2170.4 616.3V633.0M2172.4 614.5V621.2M2173.4 599.5V621.6M2176.4 592.5V610.5M2177.4 583.6V609.1M2178.4 576.4V588.6M2179.4 563.9V585.3M2181.4 551.4V576.8M2182.4 530.9V561.2M2184.4 533.1V542.7M2185.4 530.1V550.1M2189.4 503.0V528.0M2190.4 517.6V533.4M2192.4 526.4V536.9M2194.4 538.8V555.0M2195.4 529.0V549.2M2196.4 522.0V542.4M2197.4 510.9V527.7M2200.4 477.5V493.9M2201.4 471.0V497.2M2204.4 454.2V467.0M2205.4 438.9V470.1M2206.4 438.3V459.2M2208.4 421.5V441.0M2210.4 401.4V421.8M2211.4 405.9V428.5M2212.4 418.7V430.0M2213.4 420.9V430.6M2214.4 414.5V425.9M2218.4 396.5V424.6M2219.4 399.2V425.9M2221.4 414.4V428.1M2222.4 415.2V435.8M2226.4 401.9V417.4M2228.4 407.8V425.5M2229.4 406.5V428.5M2235.4 403.2V417.4M2236.4 392.5V413.8M2238.4 392.1V413.8M2240.4 394.1V407.9M2241.4 387.7V406.1M2243.4 372.0V385.9M2244.4 363.7V383.3M2245.4 360.6V373.0M2246.4 321.0V383.1" stroke="#35968c" stroke-width="1.1" fill="none"/>
<path d="M200.8 990.1V998.6M201.8 990.4V995.9M204.8 989.4V998.4M206.8 991.4V998.8M209.8 988.7V1001.4M211.8 995.4V1000.5M212.8 990.4V999.0M213.8 990.4V998.1M214.8 989.9V996.1M221.8 980.1V986.3M222.8 973.4V984.1M223.8 978.4V984.7M224.8 978.4V984.0M225.8 975.2V983.4M229.8 969.7V976.5M234.8 968.9V978.9M236.8 969.3V981.2M237.8 972.9V978.4M238.8 969.4V981.7M239.8 971.7V979.7M244.8 962.6V973.3M246.8 956.5V974.4M250.8 959.6V968.2M255.8 951.2V958.0M256.8 950.5V956.9M258.8 950.0V955.3M259.8 946.6V957.1M262.8 938.3V952.0M264.8 933.9V944.3M266.8 932.9V937.4M272.8 906.0V914.7M273.8 902.2V917.0M274.8 892.3V913.0M275.8 870.0V901.1M278.8 882.0V892.3M279.8 885.1V892.5M280.8 874.1V895.5M281.8 880.5V890.2M282.8 874.9V887.6M285.8 874.6V891.4M288.8 896.6V920.1M291.8 896.6V913.1M292.8 888.8V902.7M301.8 869.7V882.7M303.8 868.5V877.2M307.8 848.7V860.2M309.8 843.1V852.2M310.8 843.2V850.6M315.8 823.4V833.8M317.8 810.0V833.4M319.8 808.0V828.2M321.8 798.4V811.1M323.8 805.5V811.2M324.8 805.6V813.5M328.8 820.6V832.3M329.8 822.6V850.4M330.8 839.6V885.8M337.8 803.1V810.1M338.8 800.7V818.1M340.8 804.3V820.5M341.8 810.0V825.9M342.8 809.8V823.6M348.8 804.3V812.0M352.8 791.3V805.9M355.8 789.1V799.9M357.8 782.3V792.4M365.8 769.2V784.5M366.8 772.0V780.1M367.8 772.2V788.0M368.8 767.8V783.2M369.8 775.3V783.6M370.8 777.8V791.4M372.8 789.7V798.7M375.8 800.8V818.8M377.8 824.4V838.0M378.8 827.5V849.3M380.8 847.2V860.1M381.8 850.0V860.9M382.8 855.6V867.0M387.8 840.5V858.5M388.8 839.6V846.9M394.8 855.8V870.3M396.8 862.5V878.6M398.8 877.4V892.1M400.8 888.7V905.8M407.8 851.0V866.6M410.8 848.4V860.4M411.8 855.2V866.7M412.8 859.4V866.5M415.8 863.4V877.2M416.8 868.0V878.7M417.8 868.7V881.2M423.8 892.6V904.8M425.8 901.5V913.5M427.8 909.6V924.4M429.8 920.7V927.9M430.8 918.4V924.6M431.8 911.1V938.4M432.8 914.5V918.6M435.8 903.8V918.0M436.8 902.1V909.2M439.8 893.7V907.7M440.8 891.5V900.8M441.8 892.0V908.4M443.8 897.6V907.1M449.8 889.1V901.4M450.8 884.8V900.2M453.8 891.1V904.5M459.7 885.7V893.6M462.7 886.2V890.9M465.7 882.9V889.4M467.7 882.5V889.5M471.7 886.7V894.6M473.7 892.1V905.2M475.7 885.3V895.2M477.7 880.0V896.9M478.7 876.7V890.2M479.7 882.6V892.8M481.7 877.9V885.0M482.7 876.8V881.9M484.7 877.1V884.5M488.7 871.9V883.9M489.7 870.9V876.8M491.7 865.9V886.6M492.7 876.3V884.8M494.7 874.3V888.8M496.7 883.9V895.7M500.7 896.6V908.7M501.7 903.0V911.6M502.7 904.5V910.4M504.7 903.8V917.3M507.7 912.8V919.8M510.7 911.1V919.8M511.7 914.6V922.3M512.7 913.5V921.6M514.7 915.4V925.1M516.7 915.0V924.9M517.7 916.3V925.3M518.7 920.3V927.0M520.7 922.4V931.0M521.7 919.8V930.8M523.7 922.5V935.5M524.7 917.7V927.5M525.7 916.9V925.1M527.7 915.3V926.2M531.7 914.1V919.8M535.7 905.0V912.0M538.7 906.4V918.1M539.7 905.3V917.7M540.7 904.1V913.4M541.7 905.5V915.2M547.7 918.7V929.4M549.7 921.9V931.9M550.7 924.2V934.5M551.7 928.6V941.6M553.7 933.9V943.5M555.7 941.4V946.8M556.7 940.4V946.1M563.7 937.4V945.9M565.7 933.9V941.7M570.7 924.3V944.7M577.7 916.5V928.0M578.7 917.4V923.0M584.7 904.0V917.8M588.7 903.6V912.7M594.7 900.5V908.3M596.7 902.1V909.6M597.7 902.2V906.7M598.7 897.8V908.1M599.7 895.8V904.1M600.7 893.2V907.9M602.7 894.5V905.3M604.7 904.6V910.8M606.7 902.3V911.3M609.7 903.9V917.7M611.7 912.9V922.1M612.7 913.5V922.5M614.7 915.3V925.7M615.7 913.7V921.2M617.7 918.4V934.4M618.7 917.7V927.4M619.7 918.4V932.7M620.7 920.6V927.2M622.7 916.7V933.0M623.7 921.6V931.8M625.7 921.5V937.5M628.7 921.4V931.8M631.7 918.5V926.0M635.7 914.2V922.1M636.7 915.0V920.3M637.7 914.6V922.4M638.7 911.9V924.4M639.7 912.9V917.9M640.7 913.5V923.4M641.7 910.5V916.6M642.7 908.8V919.7M644.7 910.9V927.0M646.7 911.4V919.9M648.7 912.1V918.9M649.7 906.6V921.9M650.7 914.6V929.1M651.7 919.9V927.7M655.7 923.0V934.6M657.7 924.7V935.9M659.7 929.0V940.0M660.7 924.1V944.6M661.7 929.9V939.9M662.7 925.3V942.3M663.7 932.4V939.3M665.7 931.1V941.3M666.7 925.5V937.4M668.7 927.3V936.3M674.7 933.1V944.8M675.7 928.3V937.4M679.7 928.5V939.9M681.7 922.6V933.5M682.7 927.9V933.8M685.7 920.7V935.6M686.7 920.2V929.7M687.7 923.1V932.1M689.7 925.0V933.5M691.7 924.8V938.0M692.7 924.0V930.5M694.7 924.4V936.9M695.7 922.1V939.3M696.7 919.8V934.1M712.7 921.1V926.9M713.7 919.0V927.0M714.7 921.8V929.2M716.7 920.7V929.3M717.7 917.2V930.8M718.7 919.7V925.3M719.7 915.2V924.5M726.7 911.8V924.2M727.7 908.6V918.7M728.7 908.5V920.5M730.7 896.8V914.9M731.7 901.2V913.5M738.7 896.5V904.0M739.7 895.7V906.1M741.7 900.9V908.5M743.7 901.7V906.9M745.7 899.2V907.1M749.7 896.8V910.8M751.7 897.6V907.7M753.7 898.5V907.8M755.7 892.6V905.7M761.7 892.1V898.2M763.7 894.7V913.0M765.7 889.3V897.1M770.7 892.4V898.6M771.7 889.2V906.2M775.7 901.8V908.0M777.7 906.7V918.4M778.7 910.2V922.1M782.7 923.3V932.7M784.7 924.6V933.4M787.7 923.8V935.4M788.7 926.7V933.1M790.7 924.2V937.4M792.7 926.5V936.1M793.7 926.8V934.3M794.7 928.7V933.3M795.7 924.6V937.3M797.7 924.7V934.0M802.7 927.0V933.4M803.7 928.0V934.4M805.7 922.4V932.7M813.7 917.7V925.8M814.7 918.3V927.8M815.7 906.1V926.2M816.7 909.7V921.5M817.7 915.3V928.1M818.7 920.8V938.9M819.7 927.1V945.8M820.7 935.5V959.7M823.7 934.8V942.7M825.7 935.9V942.7M826.7 938.1V944.6M828.7 929.6V948.0M829.7 937.3V947.1M830.7 938.2V947.3M831.7 938.7V948.9M832.7 940.1V947.6M833.7 938.7V951.5M835.7 937.8V947.3M836.7 941.4V947.2M837.7 943.1V952.1M838.7 943.1V950.1M839.7 938.7V956.5M840.7 938.9V949.9M841.7 941.9V946.9M842.7 943.1V950.9M843.7 943.0V960.2M846.7 972.9V984.7M847.7 977.3V989.9M848.7 979.6V999.6M849.7 993.0V1012.9M850.7 1008.2V1039.0M851.7 1018.4V1031.9M852.7 1018.4V1025.2M853.7 1014.1V1025.0M854.7 1014.0V1024.9M855.7 1014.1V1033.8M856.7 1028.0V1045.2M859.7 1051.7V1064.6M860.7 1059.7V1069.8M862.7 1059.9V1072.2M871.7 1007.7V1018.6M873.7 1005.9V1013.9M874.7 1008.5V1016.2M875.7 1008.8V1022.4M876.7 1011.8V1024.3M877.7 1013.2V1021.8M879.7 1012.0V1018.9M882.7 1003.2V1011.1M886.7 979.3V989.4M889.7 970.8V981.4M891.7 967.7V977.9M892.7 962.8V974.7M893.7 955.8V968.4M897.7 956.1V970.0M900.7 960.6V975.1M901.7 959.6V965.7M902.7 959.2V970.8M904.7 956.9V964.8M906.7 952.4V964.5M907.7 951.3V963.3M908.7 953.2V961.0M909.7 953.5V960.1M910.7 951.1V962.3M912.7 955.2V963.6M915.7 962.8V966.6M917.7 960.5V970.6M919.7 963.8V971.9M920.7 969.0V973.4M921.7 964.0V976.1M922.7 966.9V978.0M923.7 965.4V981.0M924.7 972.3V981.3M926.7 973.7V981.8M932.7 962.5V968.9M934.7 956.9V969.5M935.7 961.0V974.7M936.7 960.1V970.4M937.7 964.1V970.2M938.7 965.1V976.8M939.7 968.2V980.2M940.7 972.8V982.9M942.7 981.4V1019.4M944.7 987.9V1020.5M945.7 992.5V1000.7M952.7 972.4V985.8M958.7 965.4V976.9M961.7 958.8V966.4M962.7 958.4V965.8M965.7 952.6V957.8M966.7 951.4V959.8M969.6 942.5V957.2M975.6 940.8V950.3M976.6 941.1V948.6M979.6 935.8V951.6M981.6 939.1V949.2M982.6 936.6V947.3M983.6 938.1V944.4M984.6 933.8V945.1M986.6 928.7V939.4M993.6 923.1V929.3M994.6 916.5V927.3M995.6 917.3V926.7M1000.6 910.6V919.9M1003.6 904.2V915.1M1004.6 902.2V912.1M1005.6 899.2V909.3M1008.6 901.5V911.0M1009.6 904.2V913.7M1010.6 899.5V912.9M1011.6 904.5V915.5M1012.6 906.9V911.6M1016.6 903.7V918.6M1017.6 897.9V908.7M1021.6 889.8V903.1M1023.6 889.9V901.3M1025.6 887.9V895.8M1030.6 874.8V882.3M1033.6 865.0V880.4M1034.6 862.7V868.4M1036.6 857.5V865.2M1037.6 854.4V859.9M1040.6 843.0V851.9M1044.6 828.2V849.8M1045.6 823.9V840.3M1048.6 819.0V835.2M1049.6 809.6V828.8M1055.6 795.7V808.9M1058.6 780.4V794.3M1059.6 775.3V789.4M1063.6 764.5V769.2M1064.6 761.2V775.8M1066.6 773.0V785.4M1068.6 776.9V783.0M1069.6 775.0V795.3M1074.6 801.9V812.8M1078.6 814.6V819.7M1079.6 814.5V821.6M1082.6 782.9V806.9M1083.6 773.5V792.6M1084.6 765.3V784.4M1085.6 764.9V775.2M1087.6 764.6V774.7M1090.6 765.9V775.1M1092.6 764.6V773.7M1096.6 761.8V772.2M1098.6 761.1V769.7M1100.6 752.1V773.0M1104.6 753.9V767.3M1106.6 761.2V770.1M1109.6 769.7V787.1M1110.6 763.5V784.5M1112.6 750.7V764.8M1114.6 732.3V748.3M1115.6 732.6V744.3M1118.6 721.9V738.3M1120.6 710.0V725.4M1121.6 710.8V722.8M1122.6 708.5V719.9M1123.6 708.2V716.4M1125.6 703.0V717.2M1131.6 711.6V729.1M1132.6 700.6V717.1M1135.6 678.1V696.2M1138.6 673.6V687.9M1142.6 655.7V670.6M1144.6 645.2V662.3M1146.6 640.8V649.9M1152.6 611.4V632.9M1154.6 607.1V623.1M1155.6 601.7V621.7M1158.6 603.2V617.9M1159.6 605.5V620.0M1160.6 608.0V621.9M1161.6 617.0V628.3M1168.6 598.2V609.5M1169.6 595.5V616.2M1170.6 593.7V609.5M1172.6 583.2V603.2M1174.6 581.3V597.3M1176.6 568.3V588.4M1179.6 568.9V593.1M1180.6 581.4V599.5M1181.6 590.3V611.2M1182.6 601.9V625.3M1184.6 625.9V651.1M1185.6 646.8V659.4M1186.6 649.7V670.4M1187.6 658.1V669.2M1191.6 651.3V667.5M1192.6 645.6V655.8M1193.6 642.4V655.1M1196.6 628.5V639.3M1199.6 608.3V637.0M1203.6 605.9V619.4M1205.6 603.5V617.8M1207.6 602.2V616.2M1208.6 593.1V611.4M1209.6 595.7V614.6M1210.6 610.2V616.8M1211.6 611.0V626.5M1212.6 612.5V627.7M1214.6 614.6V645.9M1216.6 633.8V652.2M1218.6 637.2V649.2M1220.6 635.3V641.6M1222.6 628.1V638.9M1224.6 627.0V635.5M1225.6 621.6V635.1M1227.6 624.5V649.8M1230.6 624.5V644.6M1232.6 625.4V636.4M1233.6 628.8V636.4M1238.6 621.9V630.7M1239.6 606.6V637.3M1242.6 611.1V623.1M1243.6 587.2V621.6M1245.6 595.9V612.1M1248.6 586.1V606.4M1250.6 589.3V603.9M1251.6 584.6V616.7M1255.6 599.9V613.4M1258.6 584.3V596.9M1264.6 573.1V593.3M1265.6 570.6V586.7M1268.6 582.8V596.0M1269.6 589.4V599.5M1274.6 587.6V605.4M1277.6 571.2V592.9M1281.6 569.7V586.2M1283.6 574.4V590.5M1285.6 584.4V592.6M1286.6 575.9V600.4M1287.6 584.6V603.6M1288.6 587.6V605.8M1289.6 593.5V605.0M1290.6 597.0V611.1M1296.6 588.4V602.9M1303.6 579.0V592.7M1305.6 574.4V584.8M1306.6 568.7V581.1M1307.6 570.7V583.4M1309.6 579.5V589.8M1310.6 573.9V587.6M1311.6 583.5V589.1M1313.6 583.9V601.2M1314.6 585.9V600.4M1316.6 601.1V608.4M1317.6 601.6V608.9M1318.6 600.1V617.9M1319.6 606.4V620.1M1321.6 599.5V617.3M1323.6 589.8V604.6M1327.6 574.7V582.4M1329.6 572.9V592.8M1332.6 582.6V591.9M1334.6 579.8V592.0M1336.6 578.7V595.2M1338.6 585.6V599.5M1340.6 584.3V608.7M1341.6 589.9V603.9M1343.6 593.2V600.8M1344.6 592.9V610.2M1345.6 600.0V613.6M1346.6 606.6V619.5M1347.6 596.4V620.4M1348.6 608.4V616.2M1353.6 608.8V618.1M1363.6 579.3V595.7M1364.6 579.2V592.0M1365.6 575.3V591.5M1367.6 580.7V590.9M1368.6 583.2V593.1M1369.6 583.9V594.8M1371.6 590.2V597.1M1373.6 588.9V614.8M1374.6 600.8V617.6M1375.6 607.2V631.2M1376.6 625.9V650.9M1377.6 643.9V657.3M1381.6 677.8V688.5M1382.6 674.4V688.3M1383.6 675.7V691.5M1387.6 695.7V709.5M1388.6 698.1V714.9M1390.6 720.2V736.6M1391.6 728.7V755.8M1392.6 736.2V746.9M1401.6 689.6V702.8M1402.6 689.5V707.0M1404.6 682.5V699.4M1406.6 684.0V701.0M1408.6 684.3V696.0M1409.6 684.4V701.5M1411.6 693.2V711.3M1413.6 711.4V724.7M1415.6 726.8V742.1M1417.6 742.0V754.5M1418.6 743.8V753.4M1419.6 733.2V754.1M1420.6 736.8V746.0M1422.6 735.7V751.7M1424.6 733.8V742.1M1426.6 737.6V752.2M1428.6 740.7V747.6M1430.6 740.7V755.0M1432.6 749.4V761.4M1435.6 747.7V757.9M1437.6 740.0V752.3M1438.6 744.4V753.6M1441.6 740.0V760.7M1442.6 736.8V752.3M1444.6 739.0V750.4M1446.6 736.7V744.3M1447.6 731.6V744.8M1460.6 701.0V713.8M1462.6 701.3V713.2M1464.6 703.7V713.7M1465.6 698.1V710.9M1466.6 697.9V715.4M1467.6 709.5V718.3M1468.6 709.5V719.8M1469.6 709.4V719.7M1470.6 712.6V719.5M1472.6 713.2V727.1M1473.6 715.5V729.7M1475.6 724.0V735.0M1477.6 731.0V738.7M1481.5 718.9V739.3M1482.5 724.2V745.5M1483.5 738.4V757.2M1484.5 748.4V771.8M1485.5 761.6V769.6M1486.5 763.5V780.4M1491.5 796.5V811.6M1492.5 805.5V823.2M1493.5 816.7V829.8M1495.5 845.6V857.4M1496.5 842.4V872.6M1497.5 833.6V849.9M1499.5 830.8V840.9M1500.5 828.1V845.8M1501.5 839.0V856.2M1502.5 849.7V859.7M1503.5 852.2V898.2M1505.5 858.9V879.6M1506.5 859.4V866.2M1507.5 853.0V868.4M1509.5 845.0V858.6M1511.5 847.9V862.0M1514.5 866.4V879.0M1515.5 869.0V882.6M1518.5 875.8V890.2M1521.5 893.7V903.5M1523.5 889.6V901.4M1524.5 887.5V906.6M1525.5 902.1V909.4M1529.5 862.4V873.9M1535.5 807.4V826.1M1537.5 824.9V834.8M1538.5 826.6V838.5M1541.5 827.2V839.7M1542.5 826.6V833.9M1543.5 828.0V834.2M1544.5 829.8V838.8M1545.5 836.1V843.5M1549.5 839.2V853.4M1557.5 829.7V836.7M1558.5 821.3V837.5M1570.5 804.1V810.6M1571.5 803.6V819.5M1573.5 807.2V820.3M1575.5 817.7V830.7M1576.5 821.3V829.4M1577.5 815.4V833.4M1579.5 830.9V842.2M1580.5 831.8V840.5M1581.5 819.7V837.2M1582.5 821.6V836.5M1583.5 819.0V837.6M1584.5 814.5V837.2M1586.5 827.4V841.4M1590.5 834.7V863.5M1591.5 834.2V850.9M1592.5 838.9V857.4M1593.5 842.2V857.8M1596.5 840.1V859.9M1598.5 841.2V855.1M1599.5 835.3V855.2M1600.5 837.3V847.2M1601.5 834.2V846.5M1602.5 837.5V847.6M1603.5 833.9V848.4M1604.5 840.3V853.3M1608.5 837.6V844.0M1612.5 825.9V845.8M1613.5 826.3V829.6M1614.5 821.9V832.5M1615.5 821.6V832.2M1618.5 820.2V827.8M1619.5 820.8V834.1M1622.5 820.1V829.4M1623.5 825.0V830.2M1624.5 824.8V832.9M1625.5 824.6V839.0M1627.5 836.8V842.5M1628.5 830.5V841.5M1629.5 829.2V844.8M1632.5 836.9V847.3M1633.5 834.5V843.1M1635.5 833.9V847.3M1647.5 822.5V833.5M1653.5 819.1V833.7M1657.5 809.2V824.2M1658.5 805.5V820.8M1662.5 798.4V808.7M1665.5 799.9V811.4M1667.5 799.0V806.7M1670.5 790.8V804.9M1672.5 784.2V803.2M1674.5 789.2V801.2M1676.5 786.2V804.7M1684.5 770.7V781.4M1686.5 767.9V784.2M1687.5 769.8V780.2M1688.5 767.8V779.5M1690.5 757.5V769.3M1692.5 754.4V764.8M1696.5 744.9V754.0M1698.5 732.4V751.0M1699.5 738.6V752.0M1701.5 734.7V748.8M1704.5 734.6V746.9M1705.5 733.7V747.0M1710.5 743.5V772.4M1711.5 761.1V773.9M1712.5 761.5V773.6M1716.5 750.0V753.7M1718.5 736.6V754.3M1720.5 732.2V745.3M1722.5 731.1V739.1M1723.5 729.8V739.9M1725.5 737.7V751.9M1726.5 740.0V746.1M1728.5 740.8V751.1M1729.5 744.1V755.5M1730.5 750.7V758.6M1732.5 751.8V770.1M1733.5 759.4V778.0M1735.5 755.5V779.1M1738.5 777.7V789.9M1739.5 778.0V791.0M1744.5 786.6V791.5M1747.5 780.2V797.2M1748.5 778.3V798.8M1749.5 786.9V792.6M1750.5 787.8V806.5M1753.5 797.6V815.5M1754.5 803.4V818.9M1756.5 814.6V828.5M1757.5 820.8V830.8M1758.5 816.4V834.4M1759.5 826.6V845.1M1769.5 795.6V808.9M1770.5 802.6V813.5M1772.5 803.7V813.9M1773.5 800.2V811.6M1774.5 801.1V814.7M1776.5 808.7V818.7M1777.5 805.9V817.8M1778.5 809.8V827.8M1779.5 809.4V821.7M1781.5 806.3V817.5M1782.5 806.5V818.9M1783.5 810.1V817.2M1787.5 805.4V812.8M1790.5 805.6V815.3M1795.5 802.2V811.2M1798.5 787.6V805.1M1800.5 788.4V804.7M1801.5 789.1V792.9M1804.5 778.9V791.5M1805.5 778.5V794.6M1806.5 771.8V786.8M1809.5 768.3V785.5M1810.5 769.6V777.8M1811.5 764.9V782.9M1813.5 766.6V775.6M1818.5 762.5V771.4M1820.5 760.5V768.6M1823.5 753.3V767.2M1825.5 749.4V766.3M1827.5 750.4V757.6M1831.5 740.9V748.2M1833.5 736.7V742.0M1835.5 720.3V747.4M1836.5 727.4V736.7M1842.5 714.5V724.8M1843.5 718.2V730.3M1844.5 714.8V735.4M1847.5 719.1V727.8M1848.5 721.8V732.1M1849.5 722.9V732.1M1850.5 723.8V736.6M1856.5 713.4V726.5M1858.5 713.9V724.6M1859.5 704.1V723.1M1861.5 707.6V719.7M1862.5 707.2V715.0M1863.5 707.3V715.7M1864.5 709.8V718.5M1865.5 711.4V721.9M1866.5 708.0V720.9M1867.5 708.6V725.0M1868.5 707.7V728.5M1870.5 726.6V732.6M1871.5 725.6V736.9M1873.5 735.4V746.1M1874.5 736.8V751.1M1875.5 744.3V764.3M1876.5 744.4V767.0M1879.5 739.5V755.3M1881.5 731.0V746.0M1882.5 726.7V738.9M1883.5 731.1V742.4M1885.5 723.7V736.7M1887.5 715.2V731.0M1888.5 707.5V727.3M1891.5 706.2V720.9M1894.5 698.5V710.4M1895.5 705.6V711.5M1896.5 706.2V716.6M1898.5 702.1V715.5M1899.5 705.6V716.7M1907.5 705.0V711.3M1910.5 691.4V703.4M1911.5 686.9V707.4M1912.5 691.2V701.5M1913.5 693.5V707.4M1915.5 692.0V708.9M1916.5 694.8V705.0M1917.5 696.4V709.3M1918.5 694.9V708.1M1919.5 702.0V712.6M1920.5 702.3V716.3M1921.5 702.9V722.8M1922.5 707.0V718.1M1925.5 704.2V714.7M1929.5 689.7V713.3M1934.5 698.9V713.1M1935.5 700.8V709.9M1938.5 702.4V714.5M1939.5 704.5V727.1M1940.5 708.5V727.3M1944.5 713.8V727.4M1945.5 723.3V732.9M1946.5 721.7V730.7M1947.5 717.1V730.8M1948.5 717.9V736.2M1951.5 725.8V734.9M1953.5 722.8V736.3M1955.5 717.7V725.6M1957.5 711.1V734.5M1958.5 717.2V729.2M1960.5 710.3V718.3M1963.5 699.7V716.6M1966.5 696.2V706.2M1968.5 692.0V699.1M1969.5 694.5V704.2M1970.5 691.4V713.2M1971.5 695.7V703.8M1972.5 694.1V706.4M1973.5 697.9V704.1M1975.5 698.0V706.5M1981.5 688.4V696.6M1982.5 685.4V692.6M1988.5 665.9V683.2M1989.5 669.8V687.4M1992.4 660.6V671.8M1995.4 664.7V674.7M1997.4 659.1V678.3M1999.4 662.0V672.9M2000.4 662.4V686.3M2001.4 667.7V679.9M2002.4 664.9V675.4M2003.4 661.5V689.4M2005.4 667.5V684.5M2006.4 673.9V688.4M2008.4 683.3V689.9M2009.4 683.2V693.7M2010.4 682.8V700.9M2011.4 682.4V702.4M2013.4 686.9V700.2M2015.4 702.4V708.8M2016.4 701.1V714.3M2017.4 698.9V717.6M2018.4 706.8V715.9M2019.4 708.4V714.5M2021.4 709.7V719.7M2025.4 707.7V720.2M2027.4 705.4V714.2M2030.4 691.0V705.1M2032.4 683.2V703.3M2036.4 673.7V688.8M2038.4 675.8V686.0M2039.4 676.7V687.6M2041.4 675.7V686.3M2042.4 678.3V686.0M2043.4 670.8V684.7M2046.4 680.0V689.7M2047.4 679.9V695.1M2049.4 676.4V689.7M2050.4 684.6V697.2M2052.4 687.2V692.8M2053.4 684.3V701.8M2055.4 693.8V698.7M2056.4 695.3V700.6M2057.4 692.3V707.2M2065.4 691.7V708.2M2070.4 686.9V694.3M2075.4 676.4V694.0M2076.4 677.2V690.2M2077.4 683.9V691.6M2078.4 683.7V695.4M2080.4 679.9V689.4M2083.4 673.4V683.0M2085.4 666.4V686.9M2087.4 666.3V681.3M2088.4 671.2V680.6M2089.4 666.3V674.9M2090.4 664.4V677.8M2091.4 664.3V679.6M2094.4 652.9V678.2M2095.4 661.1V670.5M2096.4 661.0V668.2M2098.4 656.8V669.2M2100.4 656.6V675.0M2101.4 660.9V671.1M2102.4 659.7V668.2M2103.4 659.8V664.9M2104.4 660.1V672.2M2107.4 661.1V670.6M2108.4 665.1V679.1M2110.4 662.9V673.8M2112.4 683.6V695.1M2115.4 699.7V803.1M2116.4 710.5V726.6M2117.4 711.1V721.4M2118.4 712.1V724.0M2121.4 716.1V723.3M2126.4 703.5V722.2M2127.4 704.3V719.6M2128.4 703.9V719.6M2129.4 703.3V712.0M2130.4 701.7V714.8M2131.4 695.0V710.3M2134.4 688.1V695.4M2135.4 682.3V699.3M2136.4 679.9V694.2M2137.4 666.0V687.3M2138.4 667.9V685.5M2144.4 649.0V658.1M2148.4 638.0V655.0M2149.4 638.0V655.2M2151.4 638.7V646.7M2153.4 636.4V648.4M2154.4 630.7V646.7M2155.4 631.1V646.8M2156.4 636.8V649.3M2157.4 639.8V651.4M2158.4 637.3V649.3M2160.4 634.4V651.6M2161.4 641.1V652.3M2166.4 632.0V637.2M2167.4 623.1V638.8M2169.4 619.7V628.7M2171.4 614.9V625.1M2174.4 596.2V610.9M2175.4 598.6V607.2M2180.4 563.3V579.0M2183.4 531.3V545.5M2186.4 527.1V540.2M2187.4 524.1V544.4M2188.4 520.3V537.7M2191.4 519.5V531.9M2193.4 527.7V552.0M2198.4 494.5V520.2M2199.4 476.8V504.1M2202.4 462.2V485.0M2203.4 449.5V474.4M2207.4 428.6V458.0M2209.4 404.0V429.9M2215.4 409.0V429.5M2216.4 407.1V425.3M2217.4 406.9V432.9M2220.4 404.9V425.8M2223.4 410.2V425.8M2224.4 408.2V425.2M2225.4 400.8V422.3M2227.4 404.0V422.9M2230.4 416.3V448.8M2231.4 430.2V437.8M2232.4 404.0V443.6M2233.4 403.7V420.9M2234.4 405.9V421.0M2237.4 395.2V418.3M2239.4 393.8V407.8M2242.4 371.0V393.1" stroke="#cf6565" stroke-width="1.1" fill="none"/>
<path d="M249.8 981.1L250.8 980.5L251.8 979.8L252.8 979.1L253.8 978.4L254.8 977.6L255.8 976.9L256.8 976.0L257.8 975.1L258.8 974.3L259.8 973.3L260.8 972.3L261.8 971.3L262.8 970.2L263.8 969.2L264.8 968.1L265.8 966.9L266.8 965.9L267.8 964.8L268.8 963.6L269.8 962.3L270.8 961.1L271.8 959.6L272.8 958.2L273.8 956.7L274.8 955.1L275.8 953.2L276.8 951.4L277.8 949.6L278.8 947.9L279.8 946.2L280.8 944.5L281.8 942.7L282.8 940.9L283.8 938.9L284.8 936.9L285.8 935.2L286.8 933.5L287.8 932.0L288.8 930.8L289.8 929.7L290.8 928.4L291.8 927.0L292.8 925.5L293.8 924.0L294.8 922.4L295.8 920.9L296.8 919.3L297.8 917.8L298.8 916.2L299.8 914.5L300.8 912.9L301.8 911.2L302.8 909.5L303.8 907.8L304.8 906.0L305.8 904.1L306.8 902.2L307.8 900.2L308.8 898.2L309.8 896.2L310.8 894.1L311.8 892.1L312.8 889.9L313.8 887.9L314.8 885.7L315.8 883.5L316.8 881.3L317.8 879.0L318.8 876.9L319.8 874.7L320.8 872.5L321.8 870.4L322.8 868.4L323.8 866.5L324.8 864.7L325.8 863.4L326.8 862.0L327.8 860.8L328.8 859.5L329.8 858.5L330.8 857.7L331.8 857.0L332.8 856.1L333.8 855.1L334.8 854.1L335.8 852.8L336.8 851.0L337.8 849.2L338.8 847.2L339.8 845.0L340.8 843.2L341.8 841.4L342.8 839.9L343.8 838.2L344.8 836.6L345.8 834.9L346.8 833.5L347.8 831.8L348.8 830.3L349.8 828.8L350.8 827.2L351.8 825.7L352.8 824.1L353.8 822.6L354.8 821.2L355.8 819.8L356.8 818.4L357.8 817.1L358.8 815.9L359.8 814.6L360.8 813.3L361.8 812.2L362.8 811.2L363.8 810.0L364.8 809.0L365.8 808.0L366.8 807.0L367.8 806.2L368.8 805.4L369.8 804.8L370.8 804.4L371.8 804.1L372.8 803.8L373.8 803.7L374.8 803.6L375.8 803.5L376.8 803.9L377.8 804.0L378.8 804.4L379.8 804.6L380.8 804.7L381.8 804.9L382.8 805.4L383.8 806.0L384.8 806.5L385.8 807.1L386.8 808.1L387.8 808.8L388.8 809.4L389.8 810.1L390.8 810.7L391.8 811.5L392.8 812.4L393.8 813.3L394.8 814.4L395.8 815.7L396.8 817.0L397.8 818.4L398.8 820.0L399.8 821.9L400.8 823.8L401.8 825.7L402.8 827.4L403.8 829.1L404.8 830.8L405.8 832.5L406.8 834.0L407.8 835.4L408.8 836.7L409.8 838.0L410.8 839.6L411.8 841.2L412.8 842.7L413.8 844.4L414.8 846.2L415.8 848.1L416.8 850.1L417.8 852.0L418.8 854.1L419.8 856.1L420.8 858.2L421.8 860.2L422.8 862.2L423.8 864.2L424.8 866.2L425.8 868.1L426.8 869.8L427.8 871.5L428.8 873.1L429.8 874.6L430.8 875.9L431.8 877.1L432.8 878.1L433.8 879.3L434.8 880.6L435.8 881.7L436.8 882.8L437.8 884.0L438.8 885.2L439.8 886.2L440.8 887.2L441.8 888.2L442.8 889.0L443.8 889.8L444.8 890.5L445.8 891.1L446.8 891.6L447.8 891.9L448.8 892.1L449.8 892.0L450.8 892.0L451.8 892.0L452.8 892.3L453.8 892.6L454.8 892.8L455.8 893.2L456.7 893.7L457.7 894.4L458.7 895.1L459.7 895.9L460.7 896.5L461.7 897.0L462.7 897.6L463.7 898.1L464.7 898.3L465.7 898.6L466.7 898.8L467.7 899.0L468.7 899.1L469.7 899.2L470.7 899.1L471.7 899.1L472.7 899.1L473.7 899.0L474.7 898.6L475.7 898.2L476.7 897.8L477.7 897.1L478.7 896.3L479.7 895.5L480.7 894.8L481.7 894.0L482.7 893.3L483.7 892.6L484.7 891.9L485.7 891.4L486.7 890.8L487.7 890.3L488.7 889.7L489.7 889.3L490.7 888.7L491.7 888.3L492.7 887.9L493.7 887.6L494.7 887.3L495.7 886.9L496.7 886.7L497.7 886.6L498.7 886.6L499.7 886.7L500.7 887.0L501.7 887.2L502.7 887.4L503.7 887.7L504.7 888.1L505.7 888.7L506.7 889.1L507.7 889.6L508.7 890.1L509.7 890.7L510.7 891.2L511.7 891.8L512.7 892.4L513.7 893.0L514.7 893.7L515.7 894.4L516.7 895.1L517.7 895.8L518.7 896.6L519.7 897.4L520.7 898.2L521.7 899.0L522.7 899.6L523.7 900.2L524.7 900.9L525.7 901.6L526.7 902.2L527.7 903.0L528.7 903.7L529.7 904.4L530.7 905.1L531.7 905.8L532.7 906.4L533.7 907.1L534.7 907.7L535.7 908.3L536.7 909.1L537.7 909.6L538.7 910.4L539.7 911.2L540.7 911.9L541.7 912.5L542.7 913.2L543.7 913.8L544.7 914.4L545.7 915.0L546.7 915.6L547.7 916.4L548.7 917.1L549.7 917.6L550.7 918.2L551.7 918.7L552.7 919.3L553.7 919.9L554.7 920.6L555.7 921.1L556.7 921.6L557.7 922.1L558.7 922.6L559.7 923.2L560.7 923.7L561.7 924.2L562.7 924.7L563.7 925.1L564.7 925.4L565.7 925.8L566.7 926.0L567.7 926.2L568.7 926.5L569.7 926.7L570.7 926.8L571.7 926.8L572.7 926.9L573.7 927.0L574.7 927.1L575.7 927.3L576.7 927.4L577.7 927.4L578.7 927.4L579.7 927.3L580.7 927.4L581.7 927.3L582.7 927.4L583.7 927.3L584.7 927.3L585.7 927.4L586.7 927.3L587.7 927.3L588.7 927.3L589.7 927.2L590.7 927.1L591.7 927.0L592.7 926.7L593.7 926.5L594.7 926.3L595.7 926.1L596.7 925.7L597.7 925.3L598.7 924.7L599.7 924.1L600.7 923.6L601.7 922.9L602.7 922.2L603.7 921.6L604.7 920.8L605.7 920.1L606.7 919.4L607.7 918.8L608.7 918.2L609.7 917.6L610.7 917.1L611.7 916.6L612.7 916.1L613.7 915.7L614.7 915.4L615.7 914.9L616.7 914.8L617.7 914.6L618.7 914.3L619.7 914.1L620.7 913.9L621.7 913.7L622.7 913.6L623.7 913.6L624.7 913.4L625.7 913.3L626.7 913.4L627.7 913.4L628.7 913.5L629.7 913.6L630.7 913.8L631.7 913.9L632.7 914.1L633.7 914.3L634.7 914.4L635.7 914.6L636.7 914.7L637.7 915.0L638.7 915.1L639.7 915.3L640.7 915.5L641.7 915.7L642.7 915.9L643.7 916.2L644.7 916.4L645.7 916.6L646.7 916.8L647.7 917.0L648.7 917.3L649.7 917.7L650.7 918.0L651.7 918.4L652.7 918.9L653.7 919.4L654.7 919.8L655.7 920.3L656.7 920.8L657.7 921.2L658.7 921.6L659.7 922.0L660.7 922.4L661.7 922.7L662.7 923.0L663.7 923.3L664.7 923.8L665.7 924.1L666.7 924.2L667.7 924.5L668.7 924.6L669.7 924.9L670.7 925.2L671.7 925.5L672.7 925.7L673.7 925.9L674.7 926.1L675.7 926.2L676.7 926.3L677.7 926.4L678.7 926.6L679.7 926.8L680.7 926.9L681.7 927.1L682.7 927.2L683.7 927.4L684.7 927.7L685.7 927.9L686.7 928.0L687.7 928.1L688.7 928.4L689.7 928.6L690.7 929.0L691.7 929.3L692.7 929.5L693.7 929.8L694.7 930.1L695.7 930.3L696.7 930.6L697.7 930.8L698.7 931.2L699.7 931.3L700.7 931.5L701.7 931.5L702.7 931.5L703.7 931.6L704.7 931.5L705.7 931.4L706.7 931.3L707.7 931.1L708.7 930.9L709.7 930.8L710.7 930.6L711.7 930.4L712.7 930.2L713.7 929.9L714.7 929.6L715.7 929.5L716.7 929.4L717.7 929.2L718.7 928.9L719.7 928.6L720.7 928.3L721.7 928.0L722.7 927.7L723.7 927.3L724.7 927.0L725.7 926.7L726.7 926.4L727.7 926.1L728.7 925.6L729.7 925.2L730.7 924.7L731.7 924.2L732.7 923.7L733.7 923.2L734.7 922.5L735.7 922.1L736.7 921.5L737.7 921.0L738.7 920.5L739.7 919.8L740.7 919.3L741.7 918.8L742.7 918.3L743.7 917.8L744.7 917.3L745.7 916.9L746.7 916.3L747.7 915.8L748.7 915.3L749.7 914.8L750.7 914.3L751.7 913.9L752.7 913.4L753.7 912.8L754.7 912.3L755.7 911.7L756.7 911.2L757.7 910.8L758.7 910.3L759.7 909.7L760.7 909.2L761.7 908.6L762.7 908.1L763.7 907.6L764.7 907.0L765.7 906.3L766.7 905.7L767.7 905.1L768.7 904.7L769.7 904.1L770.7 903.6L771.7 903.2L772.7 902.8L773.7 902.4L774.7 902.0L775.7 901.8L776.7 901.6L777.7 901.5L778.7 901.7L779.7 901.9L780.7 902.3L781.7 902.7L782.7 903.2L783.7 903.7L784.7 904.2L785.7 904.7L786.7 905.3L787.7 905.9L788.7 906.5L789.7 907.1L790.7 907.7L791.7 908.2L792.7 908.7L793.7 909.3L794.7 909.8L795.7 910.4L796.7 910.9L797.7 911.5L798.7 912.0L799.7 912.5L800.7 913.0L801.7 913.5L802.7 914.1L803.7 914.6L804.7 915.1L805.7 915.7L806.7 916.2L807.7 916.7L808.7 917.2L809.7 917.7L810.7 918.3L811.7 918.9L812.7 919.4L813.7 919.9L814.7 920.5L815.7 920.9L816.7 921.3L817.7 921.9L818.7 922.6L819.7 923.4L820.7 924.4L821.7 925.2L822.7 925.9L823.7 926.8L824.7 927.5L825.7 928.2L826.7 928.9L827.7 929.5L828.7 930.0L829.7 930.4L830.7 930.8L831.7 931.1L832.7 931.4L833.7 931.8L834.7 932.0L835.7 932.4L836.7 932.8L837.7 933.1L838.7 933.5L839.7 933.7L840.7 934.0L841.7 934.3L842.7 934.7L843.7 935.1L844.7 935.9L845.7 936.8L846.7 937.8L847.7 938.9L848.7 940.3L849.7 941.9L850.7 943.9L851.7 945.8L852.7 947.6L853.7 949.5L854.7 951.3L855.7 953.3L856.7 955.6L857.7 958.0L858.7 960.7L859.7 963.4L860.7 966.2L861.7 969.1L862.7 971.9L863.7 974.5L864.7 977.1L865.7 979.7L866.7 982.1L867.7 984.2L868.7 986.2L869.7 987.9L870.7 989.4L871.7 990.9L872.7 992.2L873.7 993.7L874.7 995.2L875.7 996.7L876.7 998.2L877.7 999.6L878.7 1001.1L879.7 1002.5L880.7 1004.0L881.7 1005.3L882.7 1006.6L883.7 1007.6L884.7 1008.6L885.7 1009.5L886.7 1010.3L887.7 1011.0L888.7 1011.5L889.7 1012.2L890.7 1012.7L891.7 1013.3L892.7 1013.7L893.7 1013.7L894.7 1013.3L895.7 1012.8L896.7 1012.3L897.7 1011.8L898.7 1011.3L899.7 1010.5L900.7 1009.1L901.7 1007.9L902.7 1006.8L903.7 1005.5L904.7 1004.4L905.7 1002.9L906.7 1001.3L907.7 999.6L908.7 997.6L909.7 995.5L910.7 993.3L911.7 991.1L912.7 989.0L913.7 987.1L914.7 985.4L915.7 983.8L916.7 982.3L917.7 981.1L918.7 979.8L919.7 978.7L920.7 977.8L921.7 977.0L922.7 976.2L923.7 975.5L924.7 974.8L925.7 974.1L926.7 973.2L927.7 972.4L928.7 971.4L929.7 970.4L930.7 969.4L931.7 968.5L932.7 967.7L933.7 967.0L934.7 966.4L935.7 966.0L936.7 965.6L937.7 965.4L938.7 965.3L939.7 965.3L940.7 965.4L941.7 965.6L942.7 966.1L943.7 966.8L944.7 967.7L945.7 968.6L946.7 969.3L947.7 969.8L948.7 970.2L949.7 970.5L950.7 970.9L951.7 971.3L952.7 971.5L953.7 971.8L954.7 972.1L955.7 972.4L956.7 972.5L957.7 972.7L958.7 973.0L959.7 973.2L960.7 973.4L961.7 973.5L962.7 973.5L963.7 973.4L964.7 973.2L965.7 973.1L966.7 972.9L967.7 972.6L968.6 972.3L969.6 971.8L970.6 971.3L971.6 970.7L972.6 970.3L973.6 969.6L974.6 968.9L975.6 968.3L976.6 967.7L977.6 967.2L978.6 966.8L979.6 966.3L980.6 966.0L981.6 965.5L982.6 965.0L983.6 964.6L984.6 964.0L985.6 963.4L986.6 962.7L987.6 962.0L988.6 961.2L989.6 960.3L990.6 959.4L991.6 958.4L992.6 957.2L993.6 955.8L994.6 954.4L995.6 953.0L996.6 951.6L997.6 950.2L998.6 948.8L999.6 947.3L1000.6 946.0L1001.6 944.6L1002.6 943.3L1003.6 942.0L1004.6 940.7L1005.6 939.4L1006.6 938.0L1007.6 936.7L1008.6 935.5L1009.6 934.3L1010.6 933.2L1011.6 932.1L1012.6 931.0L1013.6 930.0L1014.6 928.9L1015.6 928.0L1016.6 927.1L1017.6 926.1L1018.6 925.1L1019.6 924.2L1020.6 923.3L1021.6 922.3L1022.6 921.3L1023.6 920.4L1024.6 919.4L1025.6 918.3L1026.6 917.1L1027.6 915.9L1028.6 914.8L1029.6 913.5L1030.6 912.2L1031.6 910.8L1032.6 909.5L1033.6 908.0L1034.6 906.6L1035.6 905.2L1036.6 903.6L1037.6 902.1L1038.6 900.6L1039.6 898.9L1040.6 897.2L1041.6 895.4L1042.6 893.8L1043.6 892.1L1044.6 890.3L1045.6 888.6L1046.6 886.9L1047.6 885.1L1048.6 883.2L1049.6 881.4L1050.6 879.4L1051.6 877.5L1052.6 875.4L1053.6 873.3L1054.6 871.3L1055.6 869.2L1056.6 867.0L1057.6 864.7L1058.6 862.3L1059.6 859.6L1060.6 856.9L1061.6 854.2L1062.6 851.4L1063.6 848.6L1064.6 845.9L1065.6 843.2L1066.6 840.7L1067.6 838.2L1068.6 835.8L1069.6 833.5L1070.6 831.3L1071.6 829.3L1072.6 827.4L1073.6 825.7L1074.6 824.0L1075.6 822.3L1076.6 820.8L1077.6 819.4L1078.6 818.0L1079.6 816.7L1080.6 815.3L1081.6 813.8L1082.6 812.1L1083.6 810.4L1084.6 808.5L1085.6 806.6L1086.6 804.8L1087.6 803.1L1088.6 801.4L1089.6 799.9L1090.6 798.4L1091.6 796.8L1092.6 795.3L1093.6 794.0L1094.6 792.6L1095.6 791.2L1096.6 789.9L1097.6 788.6L1098.6 787.3L1099.6 786.2L1100.6 785.1L1101.6 784.2L1102.6 783.3L1103.6 782.4L1104.6 781.5L1105.6 780.8L1106.6 780.2L1107.6 779.9L1108.6 779.6L1109.6 779.6L1110.6 779.6L1111.6 779.4L1112.6 779.1L1113.6 778.7L1114.6 778.1L1115.6 777.4L1116.6 776.4L1117.6 775.5L1118.6 774.4L1119.6 772.9L1120.6 771.5L1121.6 769.9L1122.6 768.1L1123.6 766.3L1124.6 764.3L1125.6 762.3L1126.6 760.1L1127.6 757.8L1128.6 755.8L1129.6 753.8L1130.6 752.2L1131.6 750.5L1132.6 748.8L1133.6 747.2L1134.6 745.6L1135.6 744.0L1136.6 742.3L1137.6 740.5L1138.6 738.7L1139.6 736.7L1140.6 734.7L1141.6 732.6L1142.6 730.4L1143.6 728.1L1144.6 725.8L1145.6 723.3L1146.6 720.8L1147.6 718.4L1148.6 715.8L1149.6 713.1L1150.6 710.4L1151.6 707.6L1152.6 704.6L1153.6 701.9L1154.6 698.9L1155.6 695.8L1156.6 692.8L1157.6 689.5L1158.6 686.4L1159.6 683.0L1160.6 680.0L1161.6 677.1L1162.6 674.2L1163.6 671.5L1164.6 668.9L1165.6 666.4L1166.6 664.0L1167.6 661.5L1168.6 659.1L1169.6 656.9L1170.6 654.5L1171.6 652.1L1172.6 649.5L1173.6 647.1L1174.6 644.6L1175.6 642.2L1176.6 639.7L1177.6 637.0L1178.6 634.3L1179.6 631.6L1180.6 628.9L1181.6 626.7L1182.6 625.1L1183.6 623.6L1184.6 622.7L1185.6 622.0L1186.6 621.6L1187.6 621.3L1188.6 621.0L1189.6 621.0L1190.6 620.8L1191.6 620.6L1192.6 620.4L1193.6 620.2L1194.6 620.0L1195.6 619.8L1196.6 619.6L1197.6 619.4L1198.6 619.1L1199.6 618.9L1200.6 618.6L1201.6 618.3L1202.6 618.1L1203.6 618.0L1204.6 617.9L1205.6 618.1L1206.6 618.0L1207.6 617.9L1208.6 617.8L1209.6 617.8L1210.6 617.7L1211.6 617.6L1212.6 618.0L1213.6 618.3L1214.6 618.8L1215.6 619.5L1216.6 620.3L1217.6 620.9L1218.6 621.6L1219.6 622.3L1220.6 623.1L1221.6 623.8L1222.6 624.7L1223.6 625.5L1224.6 626.4L1225.6 627.3L1226.6 628.6L1227.6 629.8L1228.6 630.8L1229.6 631.7L1230.6 632.6L1231.6 633.1L1232.6 633.3L1233.6 633.3L1234.6 633.0L1235.6 632.6L1236.6 631.9L1237.6 631.0L1238.6 630.2L1239.6 629.3L1240.6 628.5L1241.6 627.8L1242.6 627.2L1243.6 626.3L1244.6 625.5L1245.6 624.8L1246.6 624.1L1247.6 623.5L1248.6 622.9L1249.6 622.5L1250.6 622.1L1251.6 622.0L1252.6 622.1L1253.6 622.1L1254.6 622.1L1255.6 621.9L1256.6 621.7L1257.6 621.5L1258.6 621.1L1259.6 620.7L1260.6 620.2L1261.6 619.6L1262.6 618.8L1263.6 617.9L1264.6 616.7L1265.6 615.4L1266.6 614.2L1267.6 613.1L1268.6 612.1L1269.6 611.2L1270.6 610.3L1271.6 609.4L1272.6 608.8L1273.6 608.1L1274.6 607.4L1275.6 606.4L1276.6 605.3L1277.6 604.2L1278.6 603.1L1279.6 601.8L1280.6 600.5L1281.6 599.5L1282.6 598.5L1283.6 597.5L1284.6 596.6L1285.6 595.8L1286.6 595.1L1287.6 594.5L1288.6 593.9L1289.6 593.4L1290.6 593.1L1291.6 592.9L1292.6 592.8L1293.6 593.0L1294.6 593.0L1295.6 593.0L1296.6 592.9L1297.6 593.0L1298.6 593.0L1299.6 592.8L1300.6 592.6L1301.6 592.3L1302.6 591.8L1303.6 591.2L1304.6 590.6L1305.6 590.1L1306.6 589.6L1307.6 589.3L1308.6 589.2L1309.6 589.0L1310.6 588.9L1311.6 588.9L1312.6 589.1L1313.6 589.3L1314.6 589.6L1315.6 590.1L1316.6 590.3L1317.6 590.7L1318.6 591.1L1319.6 591.5L1320.6 591.8L1321.6 592.1L1322.6 592.2L1323.6 592.0L1324.6 592.2L1325.6 592.2L1326.6 592.1L1327.6 592.2L1328.6 592.3L1329.6 592.7L1330.6 593.0L1331.6 593.2L1332.6 593.3L1333.6 593.2L1334.6 593.2L1335.6 593.1L1336.6 593.0L1337.6 593.2L1338.6 593.1L1339.6 592.9L1340.6 592.6L1341.6 592.5L1342.6 592.2L1343.6 592.0L1344.6 591.9L1345.6 592.2L1346.6 592.5L1347.6 592.7L1348.6 593.0L1349.6 593.6L1350.6 594.1L1351.6 594.5L1352.6 595.1L1353.6 595.6L1354.6 596.3L1355.6 597.0L1356.6 597.7L1357.6 598.3L1358.6 598.6L1359.6 599.0L1360.6 599.3L1361.6 599.5L1362.6 599.5L1363.6 599.5L1364.6 599.2L1365.6 598.8L1366.6 598.5L1367.6 598.1L1368.6 597.6L1369.6 597.1L1370.6 596.8L1371.6 596.6L1372.6 596.5L1373.6 596.7L1374.6 597.0L1375.6 597.8L1376.6 599.2L1377.6 600.5L1378.6 602.3L1379.6 604.3L1380.6 606.3L1381.6 608.1L1382.6 610.0L1383.6 612.1L1384.6 614.0L1385.6 615.9L1386.6 618.0L1387.6 620.2L1388.6 622.5L1389.6 625.1L1390.6 628.0L1391.6 630.9L1392.6 633.7L1393.6 636.5L1394.6 638.9L1395.6 641.0L1396.6 643.2L1397.6 645.2L1398.6 647.0L1399.6 648.8L1400.6 650.5L1401.6 652.2L1402.6 653.8L1403.6 655.4L1404.6 657.0L1405.6 658.5L1406.6 660.1L1407.6 661.9L1408.6 663.7L1409.6 665.4L1410.6 667.4L1411.6 669.5L1412.6 672.0L1413.6 674.7L1414.6 677.6L1415.6 680.7L1416.6 683.9L1417.6 687.1L1418.6 690.3L1419.6 693.2L1420.6 696.2L1421.6 699.2L1422.6 702.1L1423.6 704.8L1424.6 707.3L1425.6 709.6L1426.6 711.5L1427.6 713.4L1428.6 714.9L1429.6 716.2L1430.6 717.5L1431.6 719.0L1432.6 720.4L1433.6 721.8L1434.6 723.3L1435.6 724.7L1436.6 725.7L1437.6 726.7L1438.6 727.5L1439.6 728.0L1440.6 728.3L1441.6 728.3L1442.6 728.4L1443.6 728.6L1444.6 729.0L1445.6 729.4L1446.6 729.9L1447.6 730.5L1448.6 731.0L1449.6 731.4L1450.6 732.0L1451.6 732.5L1452.6 733.1L1453.6 733.7L1454.6 734.3L1455.6 734.8L1456.6 735.2L1457.6 735.7L1458.6 736.1L1459.6 736.4L1460.6 736.6L1461.6 736.7L1462.6 736.5L1463.6 736.2L1464.6 735.8L1465.6 735.1L1466.6 734.5L1467.6 733.8L1468.6 733.1L1469.6 732.6L1470.6 732.1L1471.6 731.7L1472.6 731.2L1473.6 731.0L1474.6 730.7L1475.6 730.4L1476.6 730.2L1477.6 730.1L1478.6 730.1L1479.5 729.7L1480.5 729.1L1481.5 728.6L1482.5 728.4L1483.5 728.4L1484.5 728.5L1485.5 728.8L1486.5 729.4L1487.5 730.1L1488.5 730.9L1489.5 731.9L1490.5 732.9L1491.5 734.1L1492.5 735.6L1493.5 737.1L1494.5 739.2L1495.5 741.4L1496.5 743.5L1497.5 745.5L1498.5 747.6L1499.5 749.8L1500.5 752.1L1501.5 754.7L1502.5 757.3L1503.5 760.2L1504.5 763.3L1505.5 766.3L1506.5 769.2L1507.5 772.0L1508.5 774.9L1509.5 777.8L1510.5 780.6L1511.5 783.7L1512.5 786.8L1513.5 790.0L1514.5 793.3L1515.5 796.7L1516.5 800.1L1517.5 803.3L1518.5 806.8L1519.5 810.3L1520.5 813.9L1521.5 817.3L1522.5 820.9L1523.5 824.3L1524.5 827.9L1525.5 831.4L1526.5 834.8L1527.5 837.8L1528.5 840.3L1529.5 843.1L1530.5 845.9L1531.5 848.2L1532.5 850.0L1533.5 851.3L1534.5 852.3L1535.5 853.4L1536.5 854.4L1537.5 855.4L1538.5 856.2L1539.5 856.9L1540.5 857.5L1541.5 858.0L1542.5 858.2L1543.5 858.4L1544.5 858.2L1545.5 857.9L1546.5 857.8L1547.5 857.8L1548.5 857.9L1549.5 858.2L1550.5 858.2L1551.5 858.0L1552.5 857.7L1553.5 857.2L1554.5 856.6L1555.5 856.0L1556.5 855.4L1557.5 855.0L1558.5 854.4L1559.5 853.9L1560.5 853.5L1561.5 852.8L1562.5 851.9L1563.5 850.7L1564.5 849.6L1565.5 848.2L1566.5 846.7L1567.5 845.1L1568.5 843.5L1569.5 841.8L1570.5 840.0L1571.5 838.4L1572.5 836.8L1573.5 835.1L1574.5 833.4L1575.5 831.7L1576.5 830.2L1577.5 829.0L1578.5 828.3L1579.5 827.7L1580.5 827.2L1581.5 826.8L1582.5 826.8L1583.5 826.9L1584.5 827.2L1585.5 827.4L1586.5 827.6L1587.5 827.7L1588.5 827.8L1589.5 828.0L1590.5 828.3L1591.5 828.5L1592.5 828.9L1593.5 829.2L1594.5 829.5L1595.5 829.6L1596.5 829.8L1597.5 829.9L1598.5 829.9L1599.5 829.9L1600.5 829.9L1601.5 829.9L1602.5 829.9L1603.5 829.9L1604.5 829.9L1605.5 830.1L1606.5 830.2L1607.5 830.4L1608.5 830.6L1609.5 830.9L1610.5 831.0L1611.5 831.3L1612.5 831.5L1613.5 831.8L1614.5 832.1L1615.5 832.4L1616.5 832.8L1617.5 833.4L1618.5 833.8L1619.5 834.2L1620.5 834.6L1621.5 834.8L1622.5 835.1L1623.5 835.4L1624.5 835.6L1625.5 835.8L1626.5 836.1L1627.5 836.4L1628.5 836.5L1629.5 836.6L1630.5 836.7L1631.5 837.0L1632.5 837.2L1633.5 837.5L1634.5 837.8L1635.5 837.8L1636.5 837.8L1637.5 837.7L1638.5 837.7L1639.5 837.4L1640.5 837.2L1641.5 837.0L1642.5 836.6L1643.5 836.2L1644.5 835.8L1645.5 835.5L1646.5 835.0L1647.5 834.7L1648.5 834.3L1649.5 834.0L1650.5 833.7L1651.5 833.4L1652.5 833.0L1653.5 832.7L1654.5 832.1L1655.5 831.5L1656.5 831.1L1657.5 830.6L1658.5 829.9L1659.5 829.3L1660.5 828.8L1661.5 828.2L1662.5 827.6L1663.5 827.1L1664.5 826.6L1665.5 826.2L1666.5 825.8L1667.5 825.4L1668.5 825.0L1669.5 824.3L1670.5 823.8L1671.5 823.2L1672.5 822.5L1673.5 821.9L1674.5 821.2L1675.5 820.3L1676.5 819.4L1677.5 818.4L1678.5 817.4L1679.5 816.3L1680.5 815.1L1681.5 814.0L1682.5 812.8L1683.5 811.6L1684.5 810.3L1685.5 809.1L1686.5 807.9L1687.5 806.7L1688.5 805.5L1689.5 804.2L1690.5 802.8L1691.5 801.4L1692.5 799.9L1693.5 798.4L1694.5 796.8L1695.5 795.3L1696.5 793.7L1697.5 792.1L1698.5 790.3L1699.5 788.6L1700.5 786.8L1701.5 785.1L1702.5 783.5L1703.5 781.9L1704.5 780.3L1705.5 778.9L1706.5 777.2L1707.5 775.6L1708.5 774.5L1709.5 773.3L1710.5 772.5L1711.5 771.8L1712.5 771.1L1713.5 770.3L1714.5 769.3L1715.5 768.3L1716.5 767.2L1717.5 766.1L1718.5 764.9L1719.5 763.7L1720.5 762.5L1721.5 761.4L1722.5 760.3L1723.5 759.0L1724.5 758.0L1725.5 757.0L1726.5 756.0L1727.5 755.2L1728.5 754.3L1729.5 753.7L1730.5 753.1L1731.5 752.5L1732.5 752.1L1733.5 752.0L1734.5 751.8L1735.5 751.8L1736.5 751.9L1737.5 752.0L1738.5 752.2L1739.5 752.5L1740.5 753.1L1741.5 753.8L1742.5 754.5L1743.5 755.2L1744.5 755.9L1745.5 756.7L1746.5 757.6L1747.5 758.2L1748.5 759.2L1749.5 760.2L1750.5 761.4L1751.5 762.6L1752.5 763.8L1753.5 765.1L1754.5 766.5L1755.5 768.0L1756.5 769.8L1757.5 771.5L1758.5 773.0L1759.5 774.9L1760.5 776.3L1761.5 777.5L1762.5 778.7L1763.5 779.8L1764.5 780.9L1765.5 782.2L1766.5 783.4L1767.5 784.6L1768.5 785.9L1769.5 787.2L1770.5 788.5L1771.5 790.0L1772.5 791.4L1773.5 792.9L1774.5 794.1L1775.5 795.5L1776.5 796.9L1777.5 798.3L1778.5 799.7L1779.5 800.9L1780.5 802.1L1781.5 803.2L1782.5 804.3L1783.5 805.0L1784.5 806.0L1785.5 806.7L1786.5 807.4L1787.5 808.0L1788.5 808.5L1789.5 809.1L1790.5 809.5L1791.5 809.8L1792.5 810.3L1793.5 810.7L1794.5 811.1L1795.5 811.5L1796.5 811.6L1797.5 812.0L1798.5 812.2L1799.5 812.3L1800.5 812.2L1801.5 812.0L1802.5 811.8L1803.5 811.3L1804.5 810.7L1805.5 810.1L1806.5 809.2L1807.5 808.3L1808.5 807.3L1809.5 806.0L1810.5 804.8L1811.5 803.7L1812.5 802.7L1813.5 801.8L1814.5 800.9L1815.5 800.0L1816.5 799.1L1817.5 798.3L1818.5 797.4L1819.5 796.6L1820.5 795.7L1821.5 794.7L1822.5 793.9L1823.5 792.9L1824.5 792.0L1825.5 790.9L1826.5 789.6L1827.5 788.4L1828.5 787.2L1829.5 785.8L1830.5 784.5L1831.5 783.1L1832.5 781.5L1833.5 780.1L1834.5 778.6L1835.5 777.0L1836.5 775.4L1837.5 773.9L1838.5 772.1L1839.5 770.4L1840.5 768.7L1841.5 766.9L1842.5 765.1L1843.5 763.5L1844.5 761.7L1845.5 760.0L1846.5 758.4L1847.5 756.9L1848.5 755.5L1849.5 754.1L1850.5 752.9L1851.5 751.7L1852.5 750.6L1853.5 749.4L1854.5 748.2L1855.5 746.9L1856.5 745.7L1857.5 744.5L1858.5 743.2L1859.5 741.9L1860.5 740.7L1861.5 739.4L1862.5 738.2L1863.5 737.1L1864.5 735.9L1865.5 734.8L1866.5 733.9L1867.5 732.9L1868.5 732.1L1869.5 731.5L1870.5 730.8L1871.5 730.2L1872.5 729.7L1873.5 729.4L1874.5 729.2L1875.5 729.1L1876.5 729.1L1877.5 729.1L1878.5 728.9L1879.5 728.9L1880.5 728.8L1881.5 728.6L1882.5 728.5L1883.5 728.4L1884.5 728.3L1885.5 728.2L1886.5 728.1L1887.5 727.8L1888.5 727.7L1889.5 727.5L1890.5 727.3L1891.5 727.1L1892.5 726.8L1893.5 726.4L1894.5 726.1L1895.5 725.9L1896.5 725.7L1897.5 725.4L1898.5 725.1L1899.5 724.8L1900.5 724.3L1901.5 724.0L1902.5 723.5L1903.5 723.3L1904.5 722.9L1905.5 722.7L1906.5 722.4L1907.5 722.2L1908.5 721.9L1909.5 721.8L1910.5 721.4L1911.5 721.1L1912.5 720.8L1913.5 720.5L1914.5 720.2L1915.5 719.9L1916.5 719.6L1917.5 719.3L1918.5 718.9L1919.5 718.5L1920.5 718.0L1921.5 717.6L1922.5 717.1L1923.5 716.6L1924.5 715.7L1925.5 714.9L1926.5 714.1L1927.5 713.2L1928.5 712.5L1929.5 711.7L1930.5 711.1L1931.5 710.5L1932.5 710.0L1933.5 709.3L1934.5 708.9L1935.5 708.4L1936.5 708.0L1937.5 707.8L1938.5 707.5L1939.5 707.6L1940.5 707.5L1941.5 707.6L1942.5 707.8L1943.5 708.1L1944.5 708.4L1945.5 708.8L1946.5 709.1L1947.5 709.3L1948.5 709.7L1949.5 710.2L1950.5 710.6L1951.5 710.9L1952.5 711.3L1953.5 711.6L1954.5 711.8L1955.5 712.1L1956.5 712.5L1957.5 712.7L1958.5 713.1L1959.5 713.4L1960.5 713.7L1961.5 714.0L1962.5 714.3L1963.5 714.5L1964.5 714.5L1965.5 714.6L1966.5 714.6L1967.5 714.5L1968.5 714.4L1969.5 714.2L1970.5 714.1L1971.5 713.8L1972.5 713.5L1973.5 713.2L1974.5 713.1L1975.5 713.0L1976.5 712.8L1977.5 712.6L1978.5 712.3L1979.5 712.1L1980.5 711.8L1981.5 711.5L1982.5 711.1L1983.5 710.7L1984.5 710.2L1985.5 709.7L1986.5 709.0L1987.5 708.2L1988.5 707.6L1989.5 706.6L1990.5 705.8L1991.4 704.9L1992.4 703.9L1993.4 702.9L1994.4 701.7L1995.4 700.6L1996.4 699.3L1997.4 698.3L1998.4 697.0L1999.4 695.6L2000.4 694.4L2001.4 693.3L2002.4 692.2L2003.4 691.3L2004.4 690.3L2005.4 689.6L2006.4 688.7L2007.4 688.1L2008.4 687.3L2009.4 686.8L2010.4 686.4L2011.4 686.1L2012.4 685.7L2013.4 685.5L2014.4 685.6L2015.4 685.6L2016.4 685.6L2017.4 686.0L2018.4 686.3L2019.4 686.4L2020.4 686.7L2021.4 687.0L2022.4 687.4L2023.4 687.9L2024.4 688.2L2025.4 688.4L2026.4 688.5L2027.4 688.7L2028.4 688.9L2029.4 689.0L2030.4 689.0L2031.4 689.1L2032.4 689.1L2033.4 689.3L2034.4 689.5L2035.4 689.5L2036.4 689.8L2037.4 690.1L2038.4 690.2L2039.4 690.3L2040.4 690.5L2041.4 690.8L2042.4 691.1L2043.4 691.4L2044.4 691.8L2045.4 692.0L2046.4 692.5L2047.4 692.7L2048.4 693.0L2049.4 693.4L2050.4 693.7L2051.4 694.1L2052.4 694.5L2053.4 694.7L2054.4 695.1L2055.4 695.5L2056.4 695.8L2057.4 696.0L2058.4 696.3L2059.4 696.5L2060.4 696.8L2061.4 696.9L2062.4 697.2L2063.4 697.3L2064.4 697.2L2065.4 697.1L2066.4 696.9L2067.4 696.6L2068.4 696.3L2069.4 695.9L2070.4 695.4L2071.4 694.9L2072.4 694.4L2073.4 693.7L2074.4 693.2L2075.4 692.7L2076.4 692.2L2077.4 691.8L2078.4 691.5L2079.4 691.1L2080.4 690.9L2081.4 690.7L2082.4 690.4L2083.4 690.2L2084.4 690.0L2085.4 689.8L2086.4 689.6L2087.4 689.5L2088.4 689.3L2089.4 689.1L2090.4 689.0L2091.4 688.7L2092.4 688.5L2093.4 688.3L2094.4 687.8L2095.4 687.5L2096.4 687.0L2097.4 686.6L2098.4 686.2L2099.4 685.7L2100.4 685.2L2101.4 684.7L2102.4 684.1L2103.4 683.5L2104.4 682.9L2105.4 682.2L2106.4 681.5L2107.4 680.9L2108.4 680.2L2109.4 679.5L2110.4 678.8L2111.4 678.6L2112.4 678.3L2113.4 678.3L2114.4 678.3L2115.4 678.8L2116.4 679.2L2117.4 679.4L2118.4 679.9L2119.4 680.4L2120.4 681.0L2121.4 681.6L2122.4 682.1L2123.4 682.6L2124.4 683.2L2125.4 683.7L2126.4 684.3L2127.4 684.7L2128.4 685.1L2129.4 685.6L2130.4 686.0L2131.4 686.3L2132.4 686.7L2133.4 686.9L2134.4 687.2L2135.4 687.5L2136.4 687.6L2137.4 687.6L2138.4 687.6L2139.4 687.6L2140.4 687.5L2141.4 687.5L2142.4 687.1L2143.4 686.8L2144.4 686.6L2145.4 686.3L2146.4 686.0L2147.4 685.8L2148.4 685.4L2149.4 685.1L2150.4 684.7L2151.4 684.3L2152.4 683.9L2153.4 683.5L2154.4 682.9L2155.4 682.6L2156.4 682.1L2157.4 681.6L2158.4 681.2L2159.4 680.8L2160.4 680.3L2161.4 679.4L2162.4 678.5L2163.4 677.4L2164.4 676.1L2165.4 674.3L2166.4 672.7L2167.4 671.0L2168.4 669.2L2169.4 667.4L2170.4 665.3L2171.4 663.3L2172.4 661.2L2173.4 659.1L2174.4 656.9L2175.4 654.7L2176.4 652.3L2177.4 649.8L2178.4 647.3L2179.4 644.6L2180.4 641.9L2181.4 639.1L2182.4 635.9L2183.4 632.9L2184.4 629.8L2185.4 626.8L2186.4 623.9L2187.4 621.0L2188.4 618.0L2189.4 615.0L2190.4 612.1L2191.4 609.3L2192.4 606.9L2193.4 604.7L2194.4 602.6L2195.4 600.2L2196.4 597.8L2197.4 595.1L2198.4 592.2L2199.4 589.0L2200.4 585.8L2201.4 582.5L2202.4 578.9L2203.4 575.3L2204.4 571.7L2205.4 567.9L2206.4 563.9L2207.4 559.7L2208.4 555.3L2209.4 550.7L2210.4 546.1L2211.4 541.7L2212.4 537.3L2213.4 532.8L2214.4 528.5L2215.4 524.1L2216.4 519.8L2217.4 515.7L2218.4 511.6L2219.4 507.3L2220.4 503.3L2221.4 499.5L2222.4 495.6L2223.4 491.7L2224.4 488.0L2225.4 484.1L2226.4 480.4L2227.4 477.0L2228.4 473.8L2229.4 470.8L2230.4 468.2L2231.4 465.7L2232.4 463.3L2233.4 460.7L2234.4 458.2L2235.4 455.7L2236.4 453.0L2237.4 450.6L2238.4 448.3L2239.4 445.9L2240.4 443.6L2241.4 440.8L2242.4 437.8L2243.4 434.3L2244.4 430.8L2245.4 427.5L2246.4 423.6" stroke="#fbec5d" stroke-width="5.5" fill="none" stroke-linejoin="round" stroke-linecap="round"/>
<path d="M424.8 872.4L425.8 872.1L426.8 871.8L427.8 871.5L428.8 871.2L429.8 871.0L430.8 870.7L431.8 870.4L432.8 870.1L433.8 869.8L434.8 869.5L435.8 869.2L436.8 868.9L437.8 868.5L438.8 868.1L439.8 867.8L440.8 867.4L441.8 867.0L442.8 866.7L443.8 866.3L444.8 866.0L445.8 865.7L446.8 865.3L447.8 865.0L448.8 864.7L449.8 864.3L450.8 864.0L451.8 863.6L452.8 863.3L453.8 863.0L454.8 862.7L455.8 862.4L456.7 862.1L457.7 861.8L458.7 861.5L459.7 861.2L460.7 860.9L461.7 860.6L462.7 860.3L463.7 860.1L464.7 859.8L465.7 859.6L466.7 859.3L467.7 859.1L468.7 858.9L469.7 858.7L470.7 858.6L471.7 858.4L472.7 858.4L473.7 858.3L474.7 858.3L475.7 858.3L476.7 858.4L477.7 858.3L478.7 858.3L479.7 858.3L480.7 858.3L481.7 858.3L482.7 858.3L483.7 858.3L484.7 858.3L485.7 858.3L486.7 858.2L487.7 858.1L488.7 857.9L489.7 857.6L490.7 857.5L491.7 857.3L492.7 857.3L493.7 857.2L494.7 857.2L495.7 857.2L496.7 857.2L497.7 857.2L498.7 857.3L499.7 857.4L500.7 857.5L501.7 857.6L502.7 857.8L503.7 858.0L504.7 858.2L505.7 858.5L506.7 858.8L507.7 859.1L508.7 859.5L509.7 859.8L510.7 860.2L511.7 860.5L512.7 860.9L513.7 861.4L514.7 861.8L515.7 862.3L516.7 862.8L517.7 863.3L518.7 863.8L519.7 864.4L520.7 865.0L521.7 865.6L522.7 866.2L523.7 866.8L524.7 867.3L525.7 867.9L526.7 868.4L527.7 868.9L528.7 869.4L529.7 869.8L530.7 870.1L531.7 870.5L532.7 870.8L533.7 871.3L534.7 871.7L535.7 872.1L536.7 872.7L537.7 873.2L538.7 873.7L539.7 874.2L540.7 874.6L541.7 875.1L542.7 875.6L543.7 876.1L544.7 876.6L545.7 877.2L546.7 877.7L547.7 878.3L548.7 878.9L549.7 879.6L550.7 880.2L551.7 880.9L552.7 881.6L553.7 882.3L554.7 883.1L555.7 883.8L556.7 884.6L557.7 885.4L558.7 886.1L559.7 886.9L560.7 887.7L561.7 888.5L562.7 889.3L563.7 890.1L564.7 890.9L565.7 891.7L566.7 892.5L567.7 893.3L568.7 894.1L569.7 894.8L570.7 895.6L571.7 896.3L572.7 897.0L573.7 897.6L574.7 898.2L575.7 898.8L576.7 899.3L577.7 899.7L578.7 900.1L579.7 900.5L580.7 900.8L581.7 901.1L582.7 901.3L583.7 901.6L584.7 901.9L585.7 902.2L586.7 902.5L587.7 902.8L588.7 903.1L589.7 903.4L590.7 903.7L591.7 904.0L592.7 904.2L593.7 904.4L594.7 904.6L595.7 904.8L596.7 904.9L597.7 905.0L598.7 905.1L599.7 905.1L600.7 905.2L601.7 905.2L602.7 905.3L603.7 905.4L604.7 905.6L605.7 905.7L606.7 906.0L607.7 906.2L608.7 906.5L609.7 906.8L610.7 907.1L611.7 907.4L612.7 907.7L613.7 908.0L614.7 908.2L615.7 908.4L616.7 908.7L617.7 908.9L618.7 909.1L619.7 909.3L620.7 909.5L621.7 909.7L622.7 909.8L623.7 909.9L624.7 910.0L625.7 910.1L626.7 910.2L627.7 910.2L628.7 910.2L629.7 910.2L630.7 910.2L631.7 910.3L632.7 910.3L633.7 910.3L634.7 910.4L635.7 910.4L636.7 910.5L637.7 910.6L638.7 910.6L639.7 910.7L640.7 910.8L641.7 910.9L642.7 910.9L643.7 911.0L644.7 911.1L645.7 911.1L646.7 911.2L647.7 911.3L648.7 911.4L649.7 911.5L650.7 911.7L651.7 911.8L652.7 912.0L653.7 912.1L654.7 912.3L655.7 912.5L656.7 912.7L657.7 912.9L658.7 913.1L659.7 913.4L660.7 913.6L661.7 913.8L662.7 914.0L663.7 914.3L664.7 914.6L665.7 914.8L666.7 915.0L667.7 915.3L668.7 915.5L669.7 915.8L670.7 916.0L671.7 916.2L672.7 916.5L673.7 916.7L674.7 916.9L675.7 917.1L676.7 917.3L677.7 917.6L678.7 917.8L679.7 918.0L680.7 918.3L681.7 918.5L682.7 918.8L683.7 919.0L684.7 919.3L685.7 919.5L686.7 919.8L687.7 920.0L688.7 920.3L689.7 920.6L690.7 920.9L691.7 921.1L692.7 921.3L693.7 921.6L694.7 921.8L695.7 922.0L696.7 922.2L697.7 922.4L698.7 922.5L699.7 922.7L700.7 922.8L701.7 922.9L702.7 923.0L703.7 923.1L704.7 923.2L705.7 923.2L706.7 923.3L707.7 923.3L708.7 923.3L709.7 923.4L710.7 923.4L711.7 923.5L712.7 923.5L713.7 923.5L714.7 923.5L715.7 923.6L716.7 923.6L717.7 923.6L718.7 923.6L719.7 923.6L720.7 923.5L721.7 923.5L722.7 923.5L723.7 923.4L724.7 923.4L725.7 923.4L726.7 923.4L727.7 923.3L728.7 923.3L729.7 923.2L730.7 923.2L731.7 923.1L732.7 923.1L733.7 923.0L734.7 923.0L735.7 923.0L736.7 922.9L737.7 922.9L738.7 922.8L739.7 922.7L740.7 922.7L741.7 922.7L742.7 922.6L743.7 922.6L744.7 922.5L745.7 922.4L746.7 922.4L747.7 922.2L748.7 922.1L749.7 922.0L750.7 921.8L751.7 921.7L752.7 921.5L753.7 921.3L754.7 921.1L755.7 920.9L756.7 920.7L757.7 920.5L758.7 920.3L759.7 920.0L760.7 919.8L761.7 919.6L762.7 919.3L763.7 919.1L764.7 918.9L765.7 918.7L766.7 918.5L767.7 918.3L768.7 918.1L769.7 917.9L770.7 917.7L771.7 917.6L772.7 917.4L773.7 917.3L774.7 917.2L775.7 917.0L776.7 916.9L777.7 916.9L778.7 916.9L779.7 916.9L780.7 916.9L781.7 917.0L782.7 917.1L783.7 917.2L784.7 917.2L785.7 917.3L786.7 917.4L787.7 917.5L788.7 917.6L789.7 917.7L790.7 917.9L791.7 918.0L792.7 918.1L793.7 918.3L794.7 918.4L795.7 918.5L796.7 918.7L797.7 918.8L798.7 918.9L799.7 919.1L800.7 919.2L801.7 919.3L802.7 919.5L803.7 919.6L804.7 919.7L805.7 919.8L806.7 919.9L807.7 919.9L808.7 920.0L809.7 920.1L810.7 920.1L811.7 920.1L812.7 920.2L813.7 920.2L814.7 920.2L815.7 920.2L816.7 920.1L817.7 920.2L818.7 920.2L819.7 920.3L820.7 920.4L821.7 920.5L822.7 920.5L823.7 920.6L824.7 920.7L825.7 920.7L826.7 920.8L827.7 920.9L828.7 921.0L829.7 921.1L830.7 921.2L831.7 921.3L832.7 921.4L833.7 921.5L834.7 921.6L835.7 921.8L836.7 921.9L837.7 922.0L838.7 922.2L839.7 922.3L840.7 922.5L841.7 922.6L842.7 922.8L843.7 923.0L844.7 923.3L845.7 923.6L846.7 923.9L847.7 924.3L848.7 924.7L849.7 925.1L850.7 925.7L851.7 926.2L852.7 926.6L853.7 927.1L854.7 927.5L855.7 928.0L856.7 928.6L857.7 929.1L858.7 929.8L859.7 930.4L860.7 931.1L861.7 931.7L862.7 932.4L863.7 933.0L864.7 933.5L865.7 934.1L866.7 934.6L867.7 935.1L868.7 935.6L869.7 936.0L870.7 936.4L871.7 936.8L872.7 937.2L873.7 937.5L874.7 937.9L875.7 938.3L876.7 938.8L877.7 939.2L878.7 939.6L879.7 940.0L880.7 940.4L881.7 940.8L882.7 941.2L883.7 941.6L884.7 941.9L885.7 942.2L886.7 942.5L887.7 942.7L888.7 943.0L889.7 943.2L890.7 943.4L891.7 943.7L892.7 943.8L893.7 944.0L894.7 944.1L895.7 944.2L896.7 944.3L897.7 944.5L898.7 944.7L899.7 944.9L900.7 945.1L901.7 945.3L902.7 945.4L903.7 945.6L904.7 945.8L905.7 945.9L906.7 946.1L907.7 946.3L908.7 946.4L909.7 946.6L910.7 946.7L911.7 946.9L912.7 947.1L913.7 947.3L914.7 947.5L915.7 947.7L916.7 947.8L917.7 948.1L918.7 948.3L919.7 948.5L920.7 948.8L921.7 949.1L922.7 949.3L923.7 949.6L924.7 949.9L925.7 950.2L926.7 950.5L927.7 950.8L928.7 951.0L929.7 951.3L930.7 951.6L931.7 951.9L932.7 952.2L933.7 952.5L934.7 952.8L935.7 953.1L936.7 953.5L937.7 953.8L938.7 954.2L939.7 954.6L940.7 955.0L941.7 955.4L942.7 955.8L943.7 956.2L944.7 956.7L945.7 957.1L946.7 957.6L947.7 958.0L948.7 958.4L949.7 958.9L950.7 959.2L951.7 959.6L952.7 960.0L953.7 960.4L954.7 960.7L955.7 961.1L956.7 961.4L957.7 961.7L958.7 962.1L959.7 962.4L960.7 962.8L961.7 963.1L962.7 963.4L963.7 963.7L964.7 964.0L965.7 964.4L966.7 964.7L967.7 964.9L968.6 965.2L969.6 965.5L970.6 965.7L971.6 965.9L972.6 966.2L973.6 966.4L974.6 966.6L975.6 966.8L976.6 967.0L977.6 967.2L978.6 967.3L979.6 967.4L980.6 967.5L981.6 967.6L982.6 967.7L983.6 967.7L984.6 967.8L985.6 967.8L986.6 967.9L987.6 967.9L988.6 967.9L989.6 967.9L990.6 967.9L991.6 967.9L992.6 967.9L993.6 967.9L994.6 967.8L995.6 967.8L996.6 967.7L997.6 967.7L998.6 967.6L999.6 967.6L1000.6 967.5L1001.6 967.4L1002.6 967.3L1003.6 967.2L1004.6 967.1L1005.6 967.0L1006.6 966.9L1007.6 966.8L1008.6 966.7L1009.6 966.6L1010.6 966.5L1011.6 966.4L1012.6 966.3L1013.6 966.3L1014.6 966.2L1015.6 966.2L1016.6 966.1L1017.6 966.0L1018.6 965.8L1019.6 965.7L1020.6 965.4L1021.6 965.2L1022.6 965.0L1023.6 964.8L1024.6 964.6L1025.6 964.3L1026.6 964.0L1027.6 963.8L1028.6 963.5L1029.6 963.2L1030.6 962.9L1031.6 962.5L1032.6 962.2L1033.6 961.8L1034.6 961.4L1035.6 961.0L1036.6 960.6L1037.6 960.1L1038.6 959.6L1039.6 959.2L1040.6 958.7L1041.6 958.2L1042.6 957.7L1043.6 957.1L1044.6 956.4L1045.6 955.7L1046.6 955.0L1047.6 954.2L1048.6 953.4L1049.6 952.4L1050.6 951.4L1051.6 950.3L1052.6 949.3L1053.6 948.2L1054.6 947.1L1055.6 946.0L1056.6 944.7L1057.6 943.4L1058.6 942.1L1059.6 940.7L1060.6 939.2L1061.6 937.7L1062.6 936.2L1063.6 934.8L1064.6 933.4L1065.6 932.0L1066.6 930.8L1067.6 929.5L1068.6 928.2L1069.6 927.0L1070.6 925.9L1071.6 924.8L1072.6 923.8L1073.6 922.8L1074.6 921.8L1075.6 920.7L1076.6 919.7L1077.6 918.7L1078.6 917.7L1079.6 916.8L1080.6 915.7L1081.6 914.7L1082.6 913.6L1083.6 912.5L1084.6 911.4L1085.6 910.3L1086.6 909.2L1087.6 908.2L1088.6 907.1L1089.6 906.1L1090.6 905.1L1091.6 904.1L1092.6 903.1L1093.6 902.2L1094.6 901.3L1095.6 900.4L1096.6 899.4L1097.6 898.4L1098.6 897.4L1099.6 896.3L1100.6 895.4L1101.6 894.4L1102.6 893.4L1103.6 892.4L1104.6 891.4L1105.6 890.4L1106.6 889.4L1107.6 888.5L1108.6 887.6L1109.6 886.7L1110.6 885.8L1111.6 884.8L1112.6 883.8L1113.6 882.7L1114.6 881.6L1115.6 880.4L1116.6 879.3L1117.6 878.1L1118.6 876.9L1119.6 875.6L1120.6 874.3L1121.6 873.1L1122.6 871.8L1123.6 870.5L1124.6 869.1L1125.6 867.8L1126.6 866.4L1127.6 865.1L1128.6 863.8L1129.6 862.6L1130.6 861.4L1131.6 860.2L1132.6 858.8L1133.6 857.6L1134.6 856.2L1135.6 854.8L1136.6 853.4L1137.6 851.9L1138.6 850.5L1139.6 849.0L1140.6 847.4L1141.6 845.8L1142.6 844.2L1143.6 842.5L1144.6 840.8L1145.6 839.0L1146.6 837.3L1147.6 835.5L1148.6 833.8L1149.6 832.0L1150.6 830.2L1151.6 828.5L1152.6 826.7L1153.6 824.9L1154.6 823.1L1155.6 821.3L1156.6 819.5L1157.6 817.7L1158.6 815.9L1159.6 814.1L1160.6 812.4L1161.6 810.7L1162.6 808.9L1163.6 807.2L1164.6 805.5L1165.6 803.8L1166.6 802.0L1167.6 800.3L1168.6 798.6L1169.6 796.9L1170.6 795.1L1171.6 793.4L1172.6 791.6L1173.6 789.9L1174.6 788.1L1175.6 786.3L1176.6 784.4L1177.6 782.5L1178.6 780.7L1179.6 778.9L1180.6 777.1L1181.6 775.5L1182.6 773.9L1183.6 772.3L1184.6 770.9L1185.6 769.5L1186.6 768.1L1187.6 766.8L1188.6 765.4L1189.6 764.1L1190.6 762.8L1191.6 761.4L1192.6 760.0L1193.6 758.6L1194.6 757.2L1195.6 755.7L1196.6 754.3L1197.6 752.8L1198.6 751.4L1199.6 749.9L1200.6 748.4L1201.6 746.9L1202.6 745.4L1203.6 743.9L1204.6 742.4L1205.6 741.0L1206.6 739.5L1207.6 738.0L1208.6 736.5L1209.6 735.0L1210.6 733.5L1211.6 732.1L1212.6 730.7L1213.6 729.3L1214.6 727.9L1215.6 726.6L1216.6 725.3L1217.6 724.0L1218.6 722.7L1219.6 721.4L1220.6 720.1L1221.6 718.8L1222.6 717.5L1223.6 716.1L1224.6 714.8L1225.6 713.5L1226.6 712.3L1227.6 711.0L1228.6 709.7L1229.6 708.5L1230.6 707.2L1231.6 706.0L1232.6 704.8L1233.6 703.6L1234.6 702.5L1235.6 701.3L1236.6 700.1L1237.6 699.0L1238.6 697.8L1239.6 696.7L1240.6 695.6L1241.6 694.5L1242.6 693.3L1243.6 692.1L1244.6 691.0L1245.6 689.8L1246.6 688.6L1247.6 687.4L1248.6 686.3L1249.6 685.2L1250.6 684.0L1251.6 683.0L1252.6 682.0L1253.6 681.1L1254.6 680.1L1255.6 679.1L1256.6 678.2L1257.6 677.2L1258.6 676.2L1259.6 675.3L1260.6 674.4L1261.6 673.4L1262.6 672.5L1263.6 671.6L1264.6 670.6L1265.6 669.7L1266.6 668.7L1267.6 667.7L1268.6 666.8L1269.6 665.8L1270.6 664.9L1271.6 663.8L1272.6 662.8L1273.6 661.8L1274.6 660.7L1275.6 659.6L1276.6 658.4L1277.6 657.2L1278.6 656.0L1279.6 654.7L1280.6 653.5L1281.6 652.4L1282.6 651.4L1283.6 650.4L1284.6 649.5L1285.6 648.6L1286.6 647.7L1287.6 646.8L1288.6 646.0L1289.6 645.1L1290.6 644.3L1291.6 643.5L1292.6 642.7L1293.6 641.9L1294.6 641.1L1295.6 640.2L1296.6 639.4L1297.6 638.5L1298.6 637.7L1299.6 636.8L1300.6 635.9L1301.6 635.1L1302.6 634.2L1303.6 633.3L1304.6 632.4L1305.6 631.5L1306.6 630.5L1307.6 629.6L1308.6 628.6L1309.6 627.6L1310.6 626.7L1311.6 625.8L1312.6 625.0L1313.6 624.2L1314.6 623.5L1315.6 622.8L1316.6 622.2L1317.6 621.6L1318.6 621.0L1319.6 620.5L1320.6 619.9L1321.6 619.4L1322.6 618.8L1323.6 618.2L1324.6 617.6L1325.6 617.0L1326.6 616.4L1327.6 615.8L1328.6 615.1L1329.6 614.5L1330.6 613.7L1331.6 613.1L1332.6 612.5L1333.6 611.9L1334.6 611.4L1335.6 610.9L1336.6 610.4L1337.6 610.0L1338.6 609.6L1339.6 609.1L1340.6 608.8L1341.6 608.4L1342.6 608.1L1343.6 607.8L1344.6 607.6L1345.6 607.4L1346.6 607.3L1347.6 607.1L1348.6 607.0L1349.6 606.9L1350.6 606.9L1351.6 606.8L1352.6 606.8L1353.6 606.7L1354.6 606.7L1355.6 606.7L1356.6 606.8L1357.6 606.7L1358.6 606.7L1359.6 606.6L1360.6 606.5L1361.6 606.4L1362.6 606.3L1363.6 606.2L1364.6 606.1L1365.6 605.9L1366.6 605.8L1367.6 605.7L1368.6 605.6L1369.6 605.5L1370.6 605.5L1371.6 605.5L1372.6 605.5L1373.6 605.6L1374.6 605.7L1375.6 606.0L1376.6 606.3L1377.6 606.7L1378.6 607.1L1379.6 607.6L1380.6 608.1L1381.6 608.5L1382.6 608.8L1383.6 609.0L1384.6 609.2L1385.6 609.3L1386.6 609.5L1387.6 609.7L1388.6 609.9L1389.6 610.2L1390.6 610.6L1391.6 611.0L1392.6 611.5L1393.6 611.9L1394.6 612.3L1395.6 612.7L1396.6 613.2L1397.6 613.6L1398.6 614.0L1399.6 614.4L1400.6 614.8L1401.6 615.3L1402.6 615.7L1403.6 616.1L1404.6 616.5L1405.6 616.9L1406.6 617.3L1407.6 617.7L1408.6 618.2L1409.6 618.5L1410.6 619.0L1411.6 619.4L1412.6 619.9L1413.6 620.3L1414.6 620.8L1415.6 621.2L1416.6 621.7L1417.6 622.2L1418.6 622.8L1419.6 623.3L1420.6 623.8L1421.6 624.3L1422.6 624.9L1423.6 625.4L1424.6 626.0L1425.6 626.5L1426.6 627.0L1427.6 627.6L1428.6 628.1L1429.6 628.7L1430.6 629.3L1431.6 629.9L1432.6 630.6L1433.6 631.2L1434.6 631.8L1435.6 632.4L1436.6 633.0L1437.6 633.6L1438.6 634.2L1439.6 634.9L1440.6 635.5L1441.6 636.1L1442.6 636.8L1443.6 637.5L1444.6 638.2L1445.6 638.9L1446.6 639.6L1447.6 640.3L1448.6 641.0L1449.6 641.7L1450.6 642.3L1451.6 642.9L1452.6 643.4L1453.6 644.0L1454.6 644.5L1455.6 645.1L1456.6 645.7L1457.6 646.3L1458.6 646.9L1459.6 647.5L1460.6 648.1L1461.6 648.7L1462.6 649.3L1463.6 649.9L1464.6 650.5L1465.6 651.2L1466.6 651.8L1467.6 652.4L1468.6 653.0L1469.6 653.6L1470.6 654.2L1471.6 654.9L1472.6 655.5L1473.6 656.1L1474.6 656.8L1475.6 657.5L1476.6 658.3L1477.6 659.1L1478.6 659.9L1479.5 660.7L1480.5 661.5L1481.5 662.2L1482.5 663.0L1483.5 663.9L1484.5 664.8L1485.5 665.6L1486.5 666.5L1487.5 667.5L1488.5 668.5L1489.5 669.5L1490.5 670.5L1491.5 671.4L1492.5 672.5L1493.5 673.5L1494.5 674.8L1495.5 676.0L1496.5 677.3L1497.5 678.5L1498.5 679.7L1499.5 680.9L1500.5 682.2L1501.5 683.5L1502.5 684.8L1503.5 686.2L1504.5 687.7L1505.5 689.2L1506.5 690.6L1507.5 692.0L1508.5 693.3L1509.5 694.7L1510.5 696.0L1511.5 697.4L1512.5 698.7L1513.5 700.1L1514.5 701.5L1515.5 702.8L1516.5 704.2L1517.5 705.6L1518.5 706.9L1519.5 708.3L1520.5 709.7L1521.5 711.2L1522.5 712.7L1523.5 714.2L1524.5 715.7L1525.5 717.3L1526.5 718.9L1527.5 720.5L1528.5 721.9L1529.5 723.3L1530.5 724.7L1531.5 726.0L1532.5 727.2L1533.5 728.4L1534.5 729.5L1535.5 730.7L1536.5 731.9L1537.5 733.1L1538.5 734.3L1539.5 735.5L1540.5 736.7L1541.5 737.8L1542.5 739.0L1543.5 740.1L1544.5 741.3L1545.5 742.4L1546.5 743.6L1547.5 744.7L1548.5 745.9L1549.5 747.0L1550.5 748.2L1551.5 749.3L1552.5 750.5L1553.5 751.6L1554.5 752.8L1555.5 753.9L1556.5 755.0L1557.5 756.1L1558.5 757.3L1559.5 758.4L1560.5 759.5L1561.5 760.7L1562.5 761.8L1563.5 762.9L1564.5 764.1L1565.5 765.2L1566.5 766.3L1567.5 767.3L1568.5 768.4L1569.5 769.5L1570.5 770.6L1571.5 771.6L1572.5 772.7L1573.5 773.8L1574.5 774.8L1575.5 775.8L1576.5 776.7L1577.5 777.6L1578.5 778.4L1579.5 779.2L1580.5 779.9L1581.5 780.6L1582.5 781.4L1583.5 782.1L1584.5 782.8L1585.5 783.6L1586.5 784.3L1587.5 785.0L1588.5 785.6L1589.5 786.2L1590.5 786.7L1591.5 787.2L1592.5 787.8L1593.5 788.3L1594.5 789.0L1595.5 789.6L1596.5 790.2L1597.5 790.9L1598.5 791.6L1599.5 792.3L1600.5 793.0L1601.5 793.8L1602.5 794.5L1603.5 795.2L1604.5 796.0L1605.5 796.8L1606.5 797.5L1607.5 798.3L1608.5 799.0L1609.5 799.8L1610.5 800.4L1611.5 801.1L1612.5 801.6L1613.5 802.2L1614.5 802.7L1615.5 803.1L1616.5 803.5L1617.5 803.9L1618.5 804.3L1619.5 804.7L1620.5 805.2L1621.5 805.6L1622.5 806.0L1623.5 806.4L1624.5 806.9L1625.5 807.3L1626.5 807.8L1627.5 808.3L1628.5 808.8L1629.5 809.3L1630.5 809.7L1631.5 810.2L1632.5 810.6L1633.5 811.0L1634.5 811.4L1635.5 811.9L1636.5 812.3L1637.5 812.7L1638.5 813.1L1639.5 813.6L1640.5 814.0L1641.5 814.4L1642.5 814.8L1643.5 815.3L1644.5 815.7L1645.5 816.1L1646.5 816.5L1647.5 817.0L1648.5 817.5L1649.5 818.0L1650.5 818.5L1651.5 819.0L1652.5 819.5L1653.5 820.0L1654.5 820.5L1655.5 820.9L1656.5 821.5L1657.5 822.0L1658.5 822.5L1659.5 823.0L1660.5 823.5L1661.5 824.0L1662.5 824.4L1663.5 824.9L1664.5 825.4L1665.5 825.9L1666.5 826.3L1667.5 826.8L1668.5 827.3L1669.5 827.7L1670.5 828.1L1671.5 828.4L1672.5 828.8L1673.5 829.2L1674.5 829.5L1675.5 829.8L1676.5 830.1L1677.5 830.4L1678.5 830.6L1679.5 830.9L1680.5 831.2L1681.5 831.5L1682.5 831.7L1683.5 831.8L1684.5 831.9L1685.5 831.9L1686.5 831.9L1687.5 831.9L1688.5 831.8L1689.5 831.7L1690.5 831.5L1691.5 831.2L1692.5 830.9L1693.5 830.6L1694.5 830.1L1695.5 829.6L1696.5 829.1L1697.5 828.6L1698.5 828.1L1699.5 827.7L1700.5 827.1L1701.5 826.6L1702.5 826.0L1703.5 825.4L1704.5 824.7L1705.5 824.1L1706.5 823.5L1707.5 822.9L1708.5 822.4L1709.5 821.9L1710.5 821.5L1711.5 821.0L1712.5 820.5L1713.5 820.0L1714.5 819.4L1715.5 818.8L1716.5 818.1L1717.5 817.5L1718.5 816.8L1719.5 816.0L1720.5 815.2L1721.5 814.4L1722.5 813.6L1723.5 812.8L1724.5 812.0L1725.5 811.2L1726.5 810.4L1727.5 809.7L1728.5 809.1L1729.5 808.6L1730.5 808.0L1731.5 807.6L1732.5 807.2L1733.5 807.0L1734.5 806.8L1735.5 806.5L1736.5 806.3L1737.5 806.0L1738.5 805.8L1739.5 805.6L1740.5 805.4L1741.5 805.2L1742.5 805.0L1743.5 804.8L1744.5 804.5L1745.5 804.3L1746.5 804.0L1747.5 803.7L1748.5 803.4L1749.5 803.2L1750.5 802.9L1751.5 802.7L1752.5 802.5L1753.5 802.4L1754.5 802.2L1755.5 802.1L1756.5 802.1L1757.5 802.0L1758.5 802.0L1759.5 802.1L1760.5 802.1L1761.5 802.2L1762.5 802.2L1763.5 802.2L1764.5 802.3L1765.5 802.3L1766.5 802.3L1767.5 802.4L1768.5 802.4L1769.5 802.4L1770.5 802.4L1771.5 802.4L1772.5 802.3L1773.5 802.3L1774.5 802.2L1775.5 802.2L1776.5 802.1L1777.5 802.1L1778.5 802.0L1779.5 801.9L1780.5 801.7L1781.5 801.7L1782.5 801.6L1783.5 801.5L1784.5 801.5L1785.5 801.4L1786.5 801.2L1787.5 801.1L1788.5 801.0L1789.5 800.8L1790.5 800.6L1791.5 800.5L1792.5 800.3L1793.5 800.1L1794.5 799.9L1795.5 799.7L1796.5 799.5L1797.5 799.3L1798.5 799.0L1799.5 798.8L1800.5 798.5L1801.5 798.3L1802.5 798.0L1803.5 797.7L1804.5 797.4L1805.5 797.1L1806.5 796.8L1807.5 796.5L1808.5 796.2L1809.5 795.9L1810.5 795.6L1811.5 795.3L1812.5 795.0L1813.5 794.7L1814.5 794.4L1815.5 794.2L1816.5 793.9L1817.5 793.6L1818.5 793.3L1819.5 793.0L1820.5 792.7L1821.5 792.3L1822.5 792.0L1823.5 791.7L1824.5 791.3L1825.5 790.9L1826.5 790.5L1827.5 790.1L1828.5 789.6L1829.5 789.2L1830.5 788.7L1831.5 788.2L1832.5 787.7L1833.5 787.2L1834.5 786.7L1835.5 786.1L1836.5 785.6L1837.5 785.1L1838.5 784.6L1839.5 784.1L1840.5 783.5L1841.5 783.0L1842.5 782.4L1843.5 781.9L1844.5 781.4L1845.5 780.9L1846.5 780.3L1847.5 779.8L1848.5 779.3L1849.5 778.8L1850.5 778.3L1851.5 777.8L1852.5 777.4L1853.5 776.9L1854.5 776.4L1855.5 776.0L1856.5 775.5L1857.5 775.0L1858.5 774.5L1859.5 774.0L1860.5 773.6L1861.5 773.1L1862.5 772.7L1863.5 772.2L1864.5 771.8L1865.5 771.4L1866.5 770.9L1867.5 770.5L1868.5 770.1L1869.5 769.7L1870.5 769.4L1871.5 769.1L1872.5 768.8L1873.5 768.5L1874.5 768.3L1875.5 768.1L1876.5 767.9L1877.5 767.7L1878.5 767.5L1879.5 767.3L1880.5 767.1L1881.5 766.9L1882.5 766.6L1883.5 766.4L1884.5 766.2L1885.5 765.9L1886.5 765.7L1887.5 765.4L1888.5 765.2L1889.5 764.9L1890.5 764.6L1891.5 764.4L1892.5 764.2L1893.5 763.9L1894.5 763.7L1895.5 763.5L1896.5 763.3L1897.5 763.2L1898.5 763.0L1899.5 762.8L1900.5 762.7L1901.5 762.6L1902.5 762.4L1903.5 762.3L1904.5 762.1L1905.5 761.9L1906.5 761.8L1907.5 761.6L1908.5 761.4L1909.5 761.1L1910.5 760.8L1911.5 760.4L1912.5 760.1L1913.5 759.8L1914.5 759.5L1915.5 759.2L1916.5 759.0L1917.5 758.8L1918.5 758.6L1919.5 758.4L1920.5 758.3L1921.5 758.1L1922.5 758.0L1923.5 757.9L1924.5 757.7L1925.5 757.6L1926.5 757.4L1927.5 757.3L1928.5 757.1L1929.5 756.8L1930.5 756.6L1931.5 756.4L1932.5 756.1L1933.5 755.7L1934.5 755.4L1935.5 755.1L1936.5 754.7L1937.5 754.4L1938.5 754.0L1939.5 753.6L1940.5 753.2L1941.5 752.8L1942.5 752.5L1943.5 752.1L1944.5 751.8L1945.5 751.5L1946.5 751.2L1947.5 750.9L1948.5 750.6L1949.5 750.3L1950.5 750.0L1951.5 749.7L1952.5 749.3L1953.5 748.9L1954.5 748.4L1955.5 747.9L1956.5 747.4L1957.5 746.9L1958.5 746.4L1959.5 745.8L1960.5 745.2L1961.5 744.6L1962.5 744.0L1963.5 743.5L1964.5 742.9L1965.5 742.3L1966.5 741.8L1967.5 741.3L1968.5 740.7L1969.5 740.2L1970.5 739.7L1971.5 739.1L1972.5 738.6L1973.5 738.0L1974.5 737.5L1975.5 737.0L1976.5 736.4L1977.5 735.8L1978.5 735.2L1979.5 734.6L1980.5 734.0L1981.5 733.4L1982.5 732.8L1983.5 732.1L1984.5 731.5L1985.5 730.8L1986.5 730.1L1987.5 729.4L1988.5 728.7L1989.5 728.0L1990.5 727.3L1991.4 726.6L1992.4 725.9L1993.4 725.2L1994.4 724.5L1995.4 723.8L1996.4 723.1L1997.4 722.5L1998.4 721.8L1999.4 721.2L2000.4 720.6L2001.4 720.0L2002.4 719.4L2003.4 718.9L2004.4 718.3L2005.4 717.8L2006.4 717.3L2007.4 716.9L2008.4 716.4L2009.4 716.0L2010.4 715.6L2011.4 715.2L2012.4 714.8L2013.4 714.4L2014.4 714.1L2015.4 713.7L2016.4 713.4L2017.4 713.2L2018.4 712.9L2019.4 712.6L2020.4 712.4L2021.4 712.2L2022.4 711.9L2023.4 711.8L2024.4 711.6L2025.4 711.3L2026.4 711.1L2027.4 710.9L2028.4 710.6L2029.4 710.4L2030.4 710.2L2031.4 709.9L2032.4 709.7L2033.4 709.4L2034.4 709.2L2035.4 708.9L2036.4 708.7L2037.4 708.5L2038.4 708.3L2039.4 708.0L2040.4 707.8L2041.4 707.6L2042.4 707.4L2043.4 707.2L2044.4 707.0L2045.4 706.8L2046.4 706.6L2047.4 706.4L2048.4 706.2L2049.4 706.0L2050.4 705.8L2051.4 705.6L2052.4 705.4L2053.4 705.2L2054.4 705.1L2055.4 705.0L2056.4 704.8L2057.4 704.7L2058.4 704.7L2059.4 704.6L2060.4 704.6L2061.4 704.5L2062.4 704.5L2063.4 704.4L2064.4 704.4L2065.4 704.3L2066.4 704.2L2067.4 704.1L2068.4 703.9L2069.4 703.8L2070.4 703.5L2071.4 703.3L2072.4 703.1L2073.4 702.9L2074.4 702.6L2075.4 702.2L2076.4 701.9L2077.4 701.6L2078.4 701.3L2079.4 701.0L2080.4 700.7L2081.4 700.4L2082.4 700.2L2083.4 699.9L2084.4 699.6L2085.4 699.3L2086.4 699.1L2087.4 698.9L2088.4 698.6L2089.4 698.4L2090.4 698.2L2091.4 698.0L2092.4 697.8L2093.4 697.7L2094.4 697.4L2095.4 697.2L2096.4 697.0L2097.4 696.7L2098.4 696.5L2099.4 696.2L2100.4 696.0L2101.4 695.7L2102.4 695.5L2103.4 695.3L2104.4 695.1L2105.4 694.8L2106.4 694.6L2107.4 694.4L2108.4 694.2L2109.4 694.1L2110.4 693.9L2111.4 693.9L2112.4 693.9L2113.4 693.9L2114.4 693.9L2115.4 694.0L2116.4 694.1L2117.4 694.1L2118.4 694.2L2119.4 694.2L2120.4 694.3L2121.4 694.3L2122.4 694.4L2123.4 694.4L2124.4 694.4L2125.4 694.4L2126.4 694.4L2127.4 694.4L2128.4 694.4L2129.4 694.4L2130.4 694.4L2131.4 694.4L2132.4 694.3L2133.4 694.3L2134.4 694.2L2135.4 694.1L2136.4 694.0L2137.4 693.8L2138.4 693.7L2139.4 693.4L2140.4 693.2L2141.4 693.0L2142.4 692.7L2143.4 692.4L2144.4 692.0L2145.4 691.6L2146.4 691.2L2147.4 690.8L2148.4 690.4L2149.4 690.0L2150.4 689.5L2151.4 689.1L2152.4 688.7L2153.4 688.2L2154.4 687.8L2155.4 687.4L2156.4 687.0L2157.4 686.7L2158.4 686.3L2159.4 685.9L2160.4 685.6L2161.4 685.2L2162.4 684.9L2163.4 684.6L2164.4 684.3L2165.4 683.9L2166.4 683.6L2167.4 683.3L2168.4 682.9L2169.4 682.5L2170.4 682.1L2171.4 681.7L2172.4 681.3L2173.4 680.9L2174.4 680.4L2175.4 679.9L2176.4 679.3L2177.4 678.7L2178.4 678.2L2179.4 677.6L2180.4 677.0L2181.4 676.3L2182.4 675.5L2183.4 674.8L2184.4 674.1L2185.4 673.4L2186.4 672.7L2187.4 672.0L2188.4 671.2L2189.4 670.5L2190.4 669.7L2191.4 669.1L2192.4 668.4L2193.4 667.8L2194.4 667.2L2195.4 666.5L2196.4 665.8L2197.4 665.0L2198.4 664.2L2199.4 663.3L2200.4 662.3L2201.4 661.3L2202.4 660.3L2203.4 659.2L2204.4 658.1L2205.4 657.0L2206.4 655.8L2207.4 654.5L2208.4 653.2L2209.4 651.8L2210.4 650.4L2211.4 649.1L2212.4 647.7L2213.4 646.4L2214.4 644.9L2215.4 643.5L2216.4 642.0L2217.4 640.6L2218.4 639.1L2219.4 637.6L2220.4 636.1L2221.4 634.7L2222.4 633.2L2223.4 631.7L2224.4 630.2L2225.4 628.6L2226.4 627.1L2227.4 625.7L2228.4 624.3L2229.4 622.9L2230.4 621.6L2231.4 620.3L2232.4 618.9L2233.4 617.5L2234.4 616.1L2235.4 614.8L2236.4 613.3L2237.4 612.0L2238.4 610.6L2239.4 609.2L2240.4 607.8L2241.4 606.3L2242.4 604.8L2243.4 603.3L2244.4 601.7L2245.4 600.1L2246.4 598.3" stroke="#841a50" stroke-width="4.2" fill="none" stroke-linejoin="round" stroke-linecap="round"/>
<path d="M299.8 947.8L300.8 946.7L301.8 945.5L302.8 944.3L303.8 943.1L304.8 941.8L305.8 940.5L306.8 939.1L307.8 937.7L308.8 936.2L309.8 934.7L310.8 933.2L311.8 931.7L312.8 930.1L313.8 928.5L314.8 926.9L315.8 925.2L316.8 923.6L317.8 921.9L318.8 920.3L319.8 918.5L320.8 916.8L321.8 915.0L322.8 913.3L323.8 911.6L324.8 909.9L325.8 908.3L326.8 906.7L327.8 905.2L328.8 903.7L329.8 902.4L330.8 901.1L331.8 899.8L332.8 898.5L333.8 897.0L334.8 895.5L335.8 894.0L336.8 892.3L337.8 890.6L338.8 889.0L339.8 887.4L340.8 885.8L341.8 884.2L342.8 882.7L343.8 881.1L344.8 879.5L345.8 877.9L346.8 876.4L347.8 874.8L348.8 873.3L349.8 871.6L350.8 870.0L351.8 868.4L352.8 866.8L353.8 865.2L354.8 863.6L355.8 862.0L356.8 860.3L357.8 858.6L358.8 857.0L359.8 855.4L360.8 853.7L361.8 852.1L362.8 850.6L363.8 848.9L364.8 847.4L365.8 845.8L366.8 844.2L367.8 842.6L368.8 841.1L369.8 839.8L370.8 838.4L371.8 837.3L372.8 836.1L373.8 835.1L374.8 834.2L375.8 833.5L376.8 832.9L377.8 832.4L378.8 832.0L379.8 831.5L380.8 831.2L381.8 831.0L382.8 830.8L383.8 830.6L384.8 830.3L385.8 830.0L386.8 829.5L387.8 829.0L388.8 828.3L389.8 827.6L390.8 826.9L391.8 826.5L392.8 826.1L393.8 825.8L394.8 825.5L395.8 825.3L396.8 825.2L397.8 825.1L398.8 825.2L399.8 825.4L400.8 825.5L401.8 825.7L402.8 825.8L403.8 825.8L404.8 826.0L405.8 826.1L406.8 826.2L407.8 826.2L408.8 826.3L409.8 826.3L410.8 826.4L411.8 826.7L412.8 826.9L413.8 827.2L414.8 827.6L415.8 828.0L416.8 828.5L417.8 829.1L418.8 829.8L419.8 830.5L420.8 831.3L421.8 832.2L422.8 833.0L423.8 834.0L424.8 834.9L425.8 835.8L426.8 836.8L427.8 837.7L428.8 838.8L429.8 839.6L430.8 840.3L431.8 841.0L432.8 841.8L433.8 842.7L434.8 843.6L435.8 844.4L436.8 845.4L437.8 846.4L438.8 847.3L439.8 848.1L440.8 849.0L441.8 849.8L442.8 850.7L443.8 851.6L444.8 852.5L445.8 853.4L446.8 854.3L447.8 855.2L448.8 856.1L449.8 857.0L450.8 857.9L451.8 858.8L452.8 859.9L453.8 860.8L454.8 861.8L455.8 862.8L456.7 863.9L457.7 864.9L458.7 865.9L459.7 867.0L460.7 868.0L461.7 869.1L462.7 870.1L463.7 871.2L464.7 872.3L465.7 873.4L466.7 874.4L467.7 875.5L468.7 876.6L469.7 877.6L470.7 878.7L471.7 879.6L472.7 880.7L473.7 881.6L474.7 882.4L475.7 883.2L476.7 883.8L477.7 884.3L478.7 884.7L479.7 885.1L480.7 885.3L481.7 885.6L482.7 885.7L483.7 886.0L484.7 886.3L485.7 886.6L486.7 886.8L487.7 887.1L488.7 887.5L489.7 887.7L490.7 888.0L491.7 888.2L492.7 888.4L493.7 888.7L494.7 888.9L495.7 889.0L496.7 889.2L497.7 889.3L498.7 889.4L499.7 889.4L500.7 889.5L501.7 889.6L502.7 889.8L503.7 890.1L504.7 890.5L505.7 890.9L506.7 891.4L507.7 892.0L508.7 892.6L509.7 893.3L510.7 893.9L511.7 894.4L512.7 895.0L513.7 895.5L514.7 896.0L515.7 896.5L516.7 897.0L517.7 897.4L518.7 897.8L519.7 898.3L520.7 898.7L521.7 899.0L522.7 899.4L523.7 899.6L524.7 899.8L525.7 899.9L526.7 900.0L527.7 900.0L528.7 900.0L529.7 900.0L530.7 899.9L531.7 899.9L532.7 899.9L533.7 899.9L534.7 899.8L535.7 899.9L536.7 899.9L537.7 900.0L538.7 900.1L539.7 900.2L540.7 900.3L541.7 900.4L542.7 900.6L543.7 900.7L544.7 900.8L545.7 901.0L546.7 901.2L547.7 901.5L548.7 901.8L549.7 902.2L550.7 902.6L551.7 903.0L552.7 903.4L553.7 903.8L554.7 904.3L555.7 904.9L556.7 905.3L557.7 905.9L558.7 906.4L559.7 906.9L560.7 907.5L561.7 908.0L562.7 908.5L563.7 909.1L564.7 909.6L565.7 910.1L566.7 910.6L567.7 911.0L568.7 911.6L569.7 912.1L570.7 912.5L571.7 912.9L572.7 913.2L573.7 913.6L574.7 914.0L575.7 914.4L576.7 914.8L577.7 915.2L578.7 915.5L579.7 915.9L580.7 916.2L581.7 916.6L582.7 916.9L583.7 917.2L584.7 917.5L585.7 917.9L586.7 918.2L587.7 918.5L588.7 918.8L589.7 919.2L590.7 919.5L591.7 919.8L592.7 920.0L593.7 920.2L594.7 920.4L595.7 920.5L596.7 920.7L597.7 920.8L598.7 920.9L599.7 920.9L600.7 920.9L601.7 920.8L602.7 920.8L603.7 920.8L604.7 920.7L605.7 920.6L606.7 920.5L607.7 920.4L608.7 920.4L609.7 920.4L610.7 920.4L611.7 920.4L612.7 920.4L613.7 920.4L614.7 920.4L615.7 920.3L616.7 920.4L617.7 920.4L618.7 920.4L619.7 920.4L620.7 920.4L621.7 920.3L622.7 920.2L623.7 920.3L624.7 920.3L625.7 920.3L626.7 920.4L627.7 920.4L628.7 920.5L629.7 920.5L630.7 920.6L631.7 920.6L632.7 920.7L633.7 920.8L634.7 920.9L635.7 921.0L636.7 921.0L637.7 921.2L638.7 921.2L639.7 921.2L640.7 921.3L641.7 921.3L642.7 921.3L643.7 921.3L644.7 921.3L645.7 921.3L646.7 921.2L647.7 921.1L648.7 921.0L649.7 920.9L650.7 920.8L651.7 920.7L652.7 920.6L653.7 920.5L654.7 920.3L655.7 920.2L656.7 920.1L657.7 920.0L658.7 919.9L659.7 919.8L660.7 919.7L661.7 919.6L662.7 919.5L663.7 919.5L664.7 919.6L665.7 919.5L666.7 919.5L667.7 919.5L668.7 919.5L669.7 919.5L670.7 919.5L671.7 919.6L672.7 919.7L673.7 919.7L674.7 919.8L675.7 919.8L676.7 919.8L677.7 919.9L678.7 920.1L679.7 920.2L680.7 920.3L681.7 920.5L682.7 920.7L683.7 920.9L684.7 921.1L685.7 921.2L686.7 921.4L687.7 921.6L688.7 921.7L689.7 922.0L690.7 922.2L691.7 922.5L692.7 922.7L693.7 923.0L694.7 923.2L695.7 923.4L696.7 923.7L697.7 923.9L698.7 924.2L699.7 924.5L700.7 924.8L701.7 925.0L702.7 925.2L703.7 925.5L704.7 925.7L705.7 925.9L706.7 926.1L707.7 926.2L708.7 926.3L709.7 926.4L710.7 926.5L711.7 926.6L712.7 926.6L713.7 926.6L714.7 926.7L715.7 926.8L716.7 926.8L717.7 926.8L718.7 926.8L719.7 926.8L720.7 926.7L721.7 926.7L722.7 926.7L723.7 926.6L724.7 926.6L725.7 926.5L726.7 926.4L727.7 926.3L728.7 926.1L729.7 926.0L730.7 925.8L731.7 925.6L732.7 925.5L733.7 925.3L734.7 925.1L735.7 925.0L736.7 924.7L737.7 924.5L738.7 924.4L739.7 924.2L740.7 924.1L741.7 924.0L742.7 923.9L743.7 923.8L744.7 923.7L745.7 923.6L746.7 923.5L747.7 923.3L748.7 923.2L749.7 923.1L750.7 922.9L751.7 922.7L752.7 922.4L753.7 922.2L754.7 921.9L755.7 921.6L756.7 921.2L757.7 920.9L758.7 920.6L759.7 920.3L760.7 919.9L761.7 919.5L762.7 919.2L763.7 918.7L764.7 918.3L765.7 917.9L766.7 917.5L767.7 917.1L768.7 916.8L769.7 916.4L770.7 916.0L771.7 915.6L772.7 915.2L773.7 914.8L774.7 914.5L775.7 914.2L776.7 914.0L777.7 913.8L778.7 913.7L779.7 913.6L780.7 913.5L781.7 913.5L782.7 913.5L783.7 913.4L784.7 913.4L785.7 913.4L786.7 913.4L787.7 913.4L788.7 913.5L789.7 913.5L790.7 913.5L791.7 913.5L792.7 913.5L793.7 913.6L794.7 913.5L795.7 913.6L796.7 913.6L797.7 913.7L798.7 913.6L799.7 913.7L800.7 913.6L801.7 913.7L802.7 913.7L803.7 913.7L804.7 913.7L805.7 913.7L806.7 913.7L807.7 913.7L808.7 913.7L809.7 913.7L810.7 913.7L811.7 913.7L812.7 913.7L813.7 913.7L814.7 913.7L815.7 913.6L816.7 913.5L817.7 913.5L818.7 913.6L819.7 913.8L820.7 914.0L821.7 914.2L822.7 914.4L823.7 914.6L824.7 914.8L825.7 915.0L826.7 915.2L827.7 915.5L828.7 915.8L829.7 916.2L830.7 916.5L831.7 916.9L832.7 917.3L833.7 917.7L834.7 918.1L835.7 918.6L836.7 919.0L837.7 919.5L838.7 920.0L839.7 920.4L840.7 920.8L841.7 921.3L842.7 921.7L843.7 922.2L844.7 922.9L845.7 923.6L846.7 924.4L847.7 925.2L848.7 926.1L849.7 927.2L850.7 928.5L851.7 929.6L852.7 930.8L853.7 932.0L854.7 933.2L855.7 934.5L856.7 935.9L857.7 937.4L858.7 938.9L859.7 940.5L860.7 942.2L861.7 944.0L862.7 945.6L863.7 947.2L864.7 948.8L865.7 950.3L866.7 951.7L867.7 953.0L868.7 954.4L869.7 955.7L870.7 956.9L871.7 958.0L872.7 959.1L873.7 960.3L874.7 961.3L875.7 962.4L876.7 963.5L877.7 964.6L878.7 965.5L879.7 966.5L880.7 967.4L881.7 968.2L882.7 969.0L883.7 969.7L884.7 970.3L885.7 970.9L886.7 971.5L887.7 972.0L888.7 972.5L889.7 973.0L890.7 973.4L891.7 973.8L892.7 974.2L893.7 974.4L894.7 974.6L895.7 974.8L896.7 975.0L897.7 975.4L898.7 975.8L899.7 976.2L900.7 976.5L901.7 976.8L902.7 977.2L903.7 977.5L904.7 977.8L905.7 978.1L906.7 978.4L907.7 978.8L908.7 979.1L909.7 979.5L910.7 979.7L911.7 980.1L912.7 980.4L913.7 980.8L914.7 981.2L915.7 981.7L916.7 982.2L917.7 982.6L918.7 983.0L919.7 983.3L920.7 983.6L921.7 983.9L922.7 984.2L923.7 984.6L924.7 985.0L925.7 985.4L926.7 985.7L927.7 986.0L928.7 986.2L929.7 986.5L930.7 986.7L931.7 986.9L932.7 987.1L933.7 987.3L934.7 987.5L935.7 987.7L936.7 988.0L937.7 988.2L938.7 988.4L939.7 988.7L940.7 989.1L941.7 989.5L942.7 989.9L943.7 990.3L944.7 990.5L945.7 990.7L946.7 990.8L947.7 990.8L948.7 990.7L949.7 990.5L950.7 990.0L951.7 989.6L952.7 989.2L953.7 988.7L954.7 988.2L955.7 987.6L956.7 986.9L957.7 986.1L958.7 985.3L959.7 984.4L960.7 983.3L961.7 982.3L962.7 981.3L963.7 980.3L964.7 979.3L965.7 978.5L966.7 977.6L967.7 976.8L968.6 976.0L969.6 975.2L970.6 974.5L971.6 973.9L972.6 973.3L973.6 972.5L974.6 971.9L975.6 971.2L976.6 970.4L977.6 969.8L978.6 969.1L979.6 968.4L980.6 967.7L981.6 967.0L982.6 966.4L983.6 965.8L984.6 965.2L985.6 964.7L986.6 964.2L987.6 963.7L988.6 963.2L989.6 962.8L990.6 962.4L991.6 962.0L992.6 961.6L993.6 961.3L994.6 961.1L995.6 960.8L996.6 960.4L997.6 960.0L998.6 959.5L999.6 958.9L1000.6 958.5L1001.6 958.0L1002.6 957.4L1003.6 956.9L1004.6 956.4L1005.6 955.9L1006.6 955.3L1007.6 954.7L1008.6 954.2L1009.6 953.8L1010.6 953.3L1011.6 952.8L1012.6 952.2L1013.6 951.7L1014.6 951.1L1015.6 950.6L1016.6 950.0L1017.6 949.3L1018.6 948.7L1019.6 948.0L1020.6 947.3L1021.6 946.5L1022.6 945.8L1023.6 945.0L1024.6 944.1L1025.6 943.3L1026.6 942.4L1027.6 941.5L1028.6 940.8L1029.6 939.9L1030.6 939.1L1031.6 938.2L1032.6 937.3L1033.6 936.3L1034.6 935.3L1035.6 934.3L1036.6 933.2L1037.6 932.1L1038.6 930.9L1039.6 929.6L1040.6 928.3L1041.6 926.9L1042.6 925.5L1043.6 924.0L1044.6 922.4L1045.6 920.8L1046.6 919.2L1047.6 917.6L1048.6 916.0L1049.6 914.3L1050.6 912.7L1051.6 911.1L1052.6 909.4L1053.6 907.7L1054.6 906.0L1055.6 904.3L1056.6 902.5L1057.6 900.7L1058.6 898.9L1059.6 897.0L1060.6 895.1L1061.6 893.1L1062.6 891.2L1063.6 889.3L1064.6 887.4L1065.6 885.6L1066.6 883.9L1067.6 882.2L1068.6 880.4L1069.6 878.8L1070.6 877.3L1071.6 875.8L1072.6 874.4L1073.6 873.0L1074.6 871.7L1075.6 870.3L1076.6 869.0L1077.6 867.7L1078.6 866.4L1079.6 865.1L1080.6 863.7L1081.6 862.3L1082.6 860.8L1083.6 859.2L1084.6 857.5L1085.6 855.9L1086.6 854.2L1087.6 852.6L1088.6 851.0L1089.6 849.4L1090.6 847.8L1091.6 846.1L1092.6 844.6L1093.6 843.0L1094.6 841.5L1095.6 839.9L1096.6 838.4L1097.6 836.8L1098.6 835.3L1099.6 833.8L1100.6 832.3L1101.6 830.8L1102.6 829.4L1103.6 827.9L1104.6 826.4L1105.6 825.0L1106.6 823.6L1107.6 822.3L1108.6 820.9L1109.6 819.6L1110.6 818.3L1111.6 816.8L1112.6 815.3L1113.6 813.6L1114.6 812.0L1115.6 810.3L1116.6 808.6L1117.6 806.8L1118.6 805.1L1119.6 803.2L1120.6 801.4L1121.6 799.6L1122.6 797.8L1123.6 796.0L1124.6 794.1L1125.6 792.3L1126.6 790.4L1127.6 788.6L1128.6 786.9L1129.6 785.3L1130.6 783.7L1131.6 782.1L1132.6 780.4L1133.6 778.8L1134.6 777.1L1135.6 775.3L1136.6 773.6L1137.6 771.8L1138.6 770.1L1139.6 768.3L1140.6 766.5L1141.6 764.7L1142.6 762.9L1143.6 761.0L1144.6 759.2L1145.6 757.3L1146.6 755.4L1147.6 753.5L1148.6 751.6L1149.6 749.7L1150.6 747.7L1151.6 745.9L1152.6 744.0L1153.6 742.1L1154.6 740.2L1155.6 738.3L1156.6 736.5L1157.6 734.7L1158.6 733.0L1159.6 731.3L1160.6 729.8L1161.6 728.3L1162.6 726.7L1163.6 725.1L1164.6 723.5L1165.6 721.9L1166.6 720.2L1167.6 718.5L1168.6 716.8L1169.6 714.9L1170.6 713.0L1171.6 711.0L1172.6 708.8L1173.6 706.7L1174.6 704.4L1175.6 702.2L1176.6 699.9L1177.6 697.4L1178.6 695.0L1179.6 692.7L1180.6 690.5L1181.6 688.6L1182.6 686.9L1183.6 685.4L1184.6 684.2L1185.6 683.0L1186.6 682.0L1187.6 680.9L1188.6 679.9L1189.6 678.8L1190.6 677.7L1191.6 676.6L1192.6 675.4L1193.6 674.1L1194.6 672.9L1195.6 671.6L1196.6 670.2L1197.6 668.9L1198.6 667.5L1199.6 666.0L1200.6 664.5L1201.6 663.0L1202.6 661.4L1203.6 660.0L1204.6 658.4L1205.6 656.9L1206.6 655.4L1207.6 653.7L1208.6 652.1L1209.6 650.4L1210.6 648.8L1211.6 647.4L1212.6 646.1L1213.6 644.9L1214.6 643.9L1215.6 642.9L1216.6 642.1L1217.6 641.2L1218.6 640.4L1219.6 639.6L1220.6 638.8L1221.6 638.0L1222.6 637.1L1223.6 636.3L1224.6 635.5L1225.6 634.8L1226.6 634.1L1227.6 633.4L1228.6 632.6L1229.6 631.6L1230.6 630.7L1231.6 629.9L1232.6 629.2L1233.6 628.5L1234.6 627.9L1235.6 627.3L1236.6 626.7L1237.6 626.1L1238.6 625.6L1239.6 625.1L1240.6 624.7L1241.6 624.2L1242.6 623.8L1243.6 623.2L1244.6 622.7L1245.6 622.3L1246.6 621.8L1247.6 621.4L1248.6 621.0L1249.6 620.7L1250.6 620.4L1251.6 620.2L1252.6 620.1L1253.6 620.1L1254.6 620.0L1255.6 620.0L1256.6 619.8L1257.6 619.7L1258.6 619.4L1259.6 619.2L1260.6 618.9L1261.6 618.6L1262.6 618.4L1263.6 618.1L1264.6 617.8L1265.6 617.4L1266.6 617.2L1267.6 617.0L1268.6 616.9L1269.6 616.8L1270.6 616.7L1271.6 616.6L1272.6 616.7L1273.6 616.8L1274.6 616.9L1275.6 616.9L1276.6 617.0L1277.6 617.0L1278.6 617.0L1279.6 616.8L1280.6 616.6L1281.6 616.3L1282.6 615.9L1283.6 615.4L1284.6 614.8L1285.6 614.2L1286.6 613.5L1287.6 612.7L1288.6 612.0L1289.6 611.4L1290.6 610.8L1291.6 610.4L1292.6 610.0L1293.6 609.6L1294.6 609.2L1295.6 608.9L1296.6 608.5L1297.6 608.2L1298.6 608.0L1299.6 607.7L1300.6 607.4L1301.6 607.2L1302.6 607.0L1303.6 606.6L1304.6 606.3L1305.6 606.0L1306.6 605.7L1307.6 605.4L1308.6 605.2L1309.6 604.9L1310.6 604.6L1311.6 604.2L1312.6 603.9L1313.6 603.6L1314.6 603.1L1315.6 602.7L1316.6 602.3L1317.6 601.9L1318.6 601.6L1319.6 601.4L1320.6 601.1L1321.6 600.8L1322.6 600.5L1323.6 600.1L1324.6 599.8L1325.6 599.3L1326.6 598.7L1327.6 598.2L1328.6 597.7L1329.6 597.3L1330.6 596.8L1331.6 596.3L1332.6 595.9L1333.6 595.4L1334.6 594.9L1335.6 594.5L1336.6 594.1L1337.6 593.8L1338.6 593.5L1339.6 593.2L1340.6 592.8L1341.6 592.7L1342.6 592.5L1343.6 592.5L1344.6 592.5L1345.6 592.6L1346.6 592.7L1347.6 592.8L1348.6 593.0L1349.6 593.2L1350.6 593.4L1351.6 593.4L1352.6 593.4L1353.6 593.4L1354.6 593.4L1355.6 593.5L1356.6 593.7L1357.6 593.8L1358.6 593.9L1359.6 594.0L1360.6 594.1L1361.6 594.2L1362.6 594.3L1363.6 594.4L1364.6 594.4L1365.6 594.4L1366.6 594.4L1367.6 594.4L1368.6 594.4L1369.6 594.3L1370.6 594.3L1371.6 594.4L1372.6 594.4L1373.6 594.4L1374.6 594.6L1375.6 595.0L1376.6 595.7L1377.6 596.4L1378.6 597.3L1379.6 598.5L1380.6 599.6L1381.6 600.6L1382.6 601.7L1383.6 602.7L1384.6 603.6L1385.6 604.5L1386.6 605.5L1387.6 606.7L1388.6 607.8L1389.6 609.0L1390.6 610.3L1391.6 611.7L1392.6 612.9L1393.6 614.2L1394.6 615.4L1395.6 616.6L1396.6 617.8L1397.6 618.9L1398.6 620.0L1399.6 621.2L1400.6 622.3L1401.6 623.4L1402.6 624.4L1403.6 625.5L1404.6 626.6L1405.6 627.8L1406.6 628.9L1407.6 630.1L1408.6 631.2L1409.6 632.2L1410.6 633.3L1411.6 634.5L1412.6 635.8L1413.6 637.1L1414.6 638.4L1415.6 639.8L1416.6 641.2L1417.6 642.6L1418.6 643.9L1419.6 645.2L1420.6 646.5L1421.6 647.9L1422.6 649.3L1423.6 650.7L1424.6 652.2L1425.6 653.7L1426.6 655.4L1427.6 657.0L1428.6 658.6L1429.6 660.2L1430.6 661.9L1431.6 663.5L1432.6 665.2L1433.6 667.0L1434.6 668.6L1435.6 670.3L1436.6 671.9L1437.6 673.4L1438.6 675.0L1439.6 676.6L1440.6 678.1L1441.6 679.6L1442.6 681.0L1443.6 682.5L1444.6 683.9L1445.6 685.2L1446.6 686.5L1447.6 687.8L1448.6 689.0L1449.6 690.1L1450.6 691.2L1451.6 692.4L1452.6 693.4L1453.6 694.5L1454.6 695.7L1455.6 696.7L1456.6 697.7L1457.6 698.8L1458.6 699.9L1459.6 700.9L1460.6 702.0L1461.6 703.1L1462.6 704.2L1463.6 705.5L1464.6 706.7L1465.6 707.9L1466.6 709.2L1467.6 710.4L1468.6 711.7L1469.6 712.9L1470.6 714.1L1471.6 715.4L1472.6 716.7L1473.6 717.9L1474.6 719.0L1475.6 720.0L1476.6 720.9L1477.6 721.8L1478.6 722.5L1479.5 722.9L1480.5 723.3L1481.5 723.8L1482.5 724.4L1483.5 725.1L1484.5 725.9L1485.5 726.8L1486.5 727.6L1487.5 728.4L1488.5 729.2L1489.5 729.9L1490.5 730.6L1491.5 731.2L1492.5 732.0L1493.5 732.9L1494.5 734.1L1495.5 735.4L1496.5 736.7L1497.5 738.0L1498.5 739.3L1499.5 740.6L1500.5 742.1L1501.5 743.6L1502.5 745.2L1503.5 746.9L1504.5 748.8L1505.5 750.6L1506.5 752.2L1507.5 753.8L1508.5 755.5L1509.5 757.1L1510.5 758.6L1511.5 760.2L1512.5 761.6L1513.5 763.1L1514.5 764.5L1515.5 765.9L1516.5 767.3L1517.5 768.6L1518.5 770.0L1519.5 771.5L1520.5 773.0L1521.5 774.5L1522.5 776.1L1523.5 777.7L1524.5 779.3L1525.5 780.9L1526.5 782.5L1527.5 784.0L1528.5 785.2L1529.5 786.4L1530.5 787.5L1531.5 788.4L1532.5 789.2L1533.5 789.8L1534.5 790.4L1535.5 791.1L1536.5 791.9L1537.5 792.7L1538.5 793.5L1539.5 794.4L1540.5 795.2L1541.5 796.1L1542.5 796.9L1543.5 797.8L1544.5 798.7L1545.5 799.7L1546.5 800.6L1547.5 801.7L1548.5 802.8L1549.5 804.0L1550.5 805.1L1551.5 806.3L1552.5 807.5L1553.5 808.7L1554.5 809.9L1555.5 811.1L1556.5 812.3L1557.5 813.5L1558.5 814.7L1559.5 815.9L1560.5 817.1L1561.5 818.2L1562.5 819.3L1563.5 820.3L1564.5 821.4L1565.5 822.5L1566.5 823.4L1567.5 824.2L1568.5 825.1L1569.5 826.1L1570.5 827.0L1571.5 827.9L1572.5 828.8L1573.5 829.7L1574.5 830.6L1575.5 831.6L1576.5 832.5L1577.5 833.4L1578.5 834.3L1579.5 835.4L1580.5 836.5L1581.5 837.5L1582.5 838.4L1583.5 839.1L1584.5 839.7L1585.5 840.4L1586.5 841.0L1587.5 841.5L1588.5 842.0L1589.5 842.5L1590.5 842.9L1591.5 843.2L1592.5 843.6L1593.5 843.8L1594.5 843.8L1595.5 843.8L1596.5 843.8L1597.5 843.8L1598.5 843.9L1599.5 844.0L1600.5 844.0L1601.5 843.9L1602.5 843.8L1603.5 843.5L1604.5 843.2L1605.5 843.0L1606.5 842.8L1607.5 842.7L1608.5 842.5L1609.5 842.4L1610.5 842.3L1611.5 842.0L1612.5 841.7L1613.5 841.3L1614.5 840.8L1615.5 840.3L1616.5 839.8L1617.5 839.2L1618.5 838.6L1619.5 838.0L1620.5 837.3L1621.5 836.6L1622.5 835.9L1623.5 835.2L1624.5 834.5L1625.5 833.8L1626.5 833.2L1627.5 832.7L1628.5 832.4L1629.5 832.2L1630.5 831.9L1631.5 831.9L1632.5 832.0L1633.5 832.2L1634.5 832.5L1635.5 832.6L1636.5 832.7L1637.5 832.7L1638.5 832.7L1639.5 832.7L1640.5 832.7L1641.5 832.7L1642.5 832.7L1643.5 832.7L1644.5 832.6L1645.5 832.5L1646.5 832.4L1647.5 832.3L1648.5 832.1L1649.5 832.0L1650.5 831.8L1651.5 831.6L1652.5 831.4L1653.5 831.3L1654.5 831.0L1655.5 830.8L1656.5 830.7L1657.5 830.5L1658.5 830.3L1659.5 830.1L1660.5 829.9L1661.5 829.7L1662.5 829.6L1663.5 829.5L1664.5 829.4L1665.5 829.3L1666.5 829.3L1667.5 829.4L1668.5 829.4L1669.5 829.3L1670.5 829.2L1671.5 829.0L1672.5 828.8L1673.5 828.6L1674.5 828.4L1675.5 828.1L1676.5 827.8L1677.5 827.4L1678.5 826.9L1679.5 826.4L1680.5 825.9L1681.5 825.5L1682.5 825.0L1683.5 824.6L1684.5 824.0L1685.5 823.5L1686.5 822.8L1687.5 822.2L1688.5 821.6L1689.5 820.8L1690.5 820.0L1691.5 819.2L1692.5 818.2L1693.5 817.3L1694.5 816.3L1695.5 815.4L1696.5 814.4L1697.5 813.4L1698.5 812.3L1699.5 811.3L1700.5 810.2L1701.5 809.2L1702.5 808.2L1703.5 807.3L1704.5 806.2L1705.5 805.2L1706.5 804.1L1707.5 803.1L1708.5 802.2L1709.5 801.3L1710.5 800.7L1711.5 800.0L1712.5 799.4L1713.5 798.7L1714.5 798.0L1715.5 797.3L1716.5 796.5L1717.5 795.7L1718.5 794.9L1719.5 794.0L1720.5 793.2L1721.5 792.3L1722.5 791.4L1723.5 790.4L1724.5 789.6L1725.5 788.7L1726.5 787.7L1727.5 786.8L1728.5 785.9L1729.5 785.0L1730.5 784.1L1731.5 783.2L1732.5 782.5L1733.5 781.8L1734.5 781.0L1735.5 780.4L1736.5 779.9L1737.5 779.3L1738.5 778.9L1739.5 778.4L1740.5 778.0L1741.5 777.6L1742.5 777.2L1743.5 776.8L1744.5 776.4L1745.5 776.0L1746.5 775.6L1747.5 775.2L1748.5 774.7L1749.5 774.4L1750.5 774.1L1751.5 773.8L1752.5 773.6L1753.5 773.5L1754.5 773.4L1755.5 773.5L1756.5 773.5L1757.5 773.6L1758.5 773.8L1759.5 774.1L1760.5 774.4L1761.5 774.7L1762.5 774.9L1763.5 775.0L1764.5 775.1L1765.5 775.3L1766.5 775.3L1767.5 775.4L1768.5 775.4L1769.5 775.5L1770.5 775.5L1771.5 775.7L1772.5 775.8L1773.5 775.9L1774.5 776.1L1775.5 776.2L1776.5 776.5L1777.5 776.7L1778.5 777.0L1779.5 777.3L1780.5 777.6L1781.5 777.8L1782.5 778.2L1783.5 778.5L1784.5 778.9L1785.5 779.3L1786.5 779.6L1787.5 780.0L1788.5 780.4L1789.5 780.8L1790.5 781.3L1791.5 781.8L1792.5 782.4L1793.5 782.9L1794.5 783.5L1795.5 784.1L1796.5 784.6L1797.5 785.1L1798.5 785.7L1799.5 786.3L1800.5 786.8L1801.5 787.3L1802.5 787.8L1803.5 788.2L1804.5 788.6L1805.5 789.0L1806.5 789.5L1807.5 789.9L1808.5 790.2L1809.5 790.5L1810.5 790.5L1811.5 790.6L1812.5 790.7L1813.5 790.8L1814.5 790.9L1815.5 791.1L1816.5 791.2L1817.5 791.4L1818.5 791.7L1819.5 791.9L1820.5 792.1L1821.5 792.4L1822.5 792.7L1823.5 792.9L1824.5 793.0L1825.5 793.2L1826.5 793.3L1827.5 793.3L1828.5 793.4L1829.5 793.4L1830.5 793.3L1831.5 793.2L1832.5 792.9L1833.5 792.6L1834.5 792.3L1835.5 791.9L1836.5 791.4L1837.5 790.9L1838.5 790.3L1839.5 789.8L1840.5 789.1L1841.5 788.3L1842.5 787.7L1843.5 787.1L1844.5 786.4L1845.5 785.7L1846.5 785.0L1847.5 784.5L1848.5 783.8L1849.5 783.2L1850.5 782.6L1851.5 781.8L1852.5 781.2L1853.5 780.3L1854.5 779.5L1855.5 778.5L1856.5 777.5L1857.5 776.4L1858.5 775.3L1859.5 773.9L1860.5 772.7L1861.5 771.5L1862.5 770.4L1863.5 769.4L1864.5 768.4L1865.5 767.4L1866.5 766.5L1867.5 765.6L1868.5 764.8L1869.5 764.0L1870.5 763.3L1871.5 762.5L1872.5 761.8L1873.5 761.2L1874.5 760.6L1875.5 760.0L1876.5 759.4L1877.5 758.7L1878.5 758.0L1879.5 757.3L1880.5 756.6L1881.5 755.9L1882.5 755.0L1883.5 754.3L1884.5 753.4L1885.5 752.6L1886.5 751.7L1887.5 750.8L1888.5 749.9L1889.5 748.9L1890.5 748.0L1891.5 747.0L1892.5 746.0L1893.5 744.9L1894.5 743.9L1895.5 742.9L1896.5 742.0L1897.5 741.2L1898.5 740.3L1899.5 739.4L1900.5 738.6L1901.5 737.9L1902.5 737.0L1903.5 736.3L1904.5 735.6L1905.5 734.8L1906.5 734.1L1907.5 733.4L1908.5 732.6L1909.5 731.8L1910.5 731.1L1911.5 730.3L1912.5 729.5L1913.5 728.8L1914.5 728.1L1915.5 727.4L1916.5 726.8L1917.5 726.1L1918.5 725.5L1919.5 725.0L1920.5 724.4L1921.5 723.9L1922.5 723.4L1923.5 723.0L1924.5 722.5L1925.5 722.0L1926.5 721.6L1927.5 721.2L1928.5 720.7L1929.5 720.3L1930.5 719.9L1931.5 719.6L1932.5 719.3L1933.5 718.9L1934.5 718.6L1935.5 718.3L1936.5 718.1L1937.5 717.8L1938.5 717.6L1939.5 717.5L1940.5 717.4L1941.5 717.4L1942.5 717.3L1943.5 717.2L1944.5 717.3L1945.5 717.3L1946.5 717.4L1947.5 717.4L1948.5 717.4L1949.5 717.5L1950.5 717.5L1951.5 717.5L1952.5 717.4L1953.5 717.4L1954.5 717.4L1955.5 717.4L1956.5 717.4L1957.5 717.4L1958.5 717.5L1959.5 717.6L1960.5 717.6L1961.5 717.6L1962.5 717.6L1963.5 717.5L1964.5 717.4L1965.5 717.2L1966.5 717.1L1967.5 716.9L1968.5 716.6L1969.5 716.4L1970.5 716.0L1971.5 715.7L1972.5 715.3L1973.5 714.9L1974.5 714.4L1975.5 713.9L1976.5 713.4L1977.5 712.9L1978.5 712.4L1979.5 711.9L1980.5 711.4L1981.5 711.0L1982.5 710.5L1983.5 710.0L1984.5 709.5L1985.5 709.0L1986.5 708.5L1987.5 708.0L1988.5 707.5L1989.5 707.1L1990.5 706.7L1991.4 706.2L1992.4 705.8L1993.4 705.5L1994.4 705.1L1995.4 704.7L1996.4 704.2L1997.4 703.8L1998.4 703.3L1999.4 702.9L2000.4 702.5L2001.4 702.1L2002.4 701.7L2003.4 701.4L2004.4 701.1L2005.4 700.8L2006.4 700.6L2007.4 700.4L2008.4 700.2L2009.4 700.1L2010.4 700.1L2011.4 700.1L2012.4 700.0L2013.4 700.0L2014.4 700.0L2015.4 700.1L2016.4 700.1L2017.4 700.2L2018.4 700.3L2019.4 700.3L2020.4 700.4L2021.4 700.4L2022.4 700.5L2023.4 700.6L2024.4 700.7L2025.4 700.7L2026.4 700.6L2027.4 700.6L2028.4 700.6L2029.4 700.6L2030.4 700.4L2031.4 700.3L2032.4 700.1L2033.4 700.0L2034.4 699.8L2035.4 699.6L2036.4 699.4L2037.4 699.1L2038.4 698.9L2039.4 698.5L2040.4 698.2L2041.4 697.9L2042.4 697.5L2043.4 697.1L2044.4 696.7L2045.4 696.3L2046.4 695.9L2047.4 695.5L2048.4 695.0L2049.4 694.5L2050.4 694.1L2051.4 693.7L2052.4 693.3L2053.4 693.0L2054.4 692.7L2055.4 692.5L2056.4 692.2L2057.4 692.1L2058.4 691.8L2059.4 691.7L2060.4 691.6L2061.4 691.5L2062.4 691.4L2063.4 691.4L2064.4 691.4L2065.4 691.3L2066.4 691.3L2067.4 691.3L2068.4 691.3L2069.4 691.1L2070.4 691.0L2071.4 691.0L2072.4 690.9L2073.4 690.8L2074.4 690.7L2075.4 690.5L2076.4 690.3L2077.4 690.2L2078.4 690.2L2079.4 690.0L2080.4 689.9L2081.4 689.9L2082.4 689.8L2083.4 689.7L2084.4 689.7L2085.4 689.6L2086.4 689.7L2087.4 689.8L2088.4 689.7L2089.4 689.7L2090.4 689.7L2091.4 689.8L2092.4 689.8L2093.4 689.8L2094.4 689.8L2095.4 689.8L2096.4 689.8L2097.4 689.7L2098.4 689.6L2099.4 689.6L2100.4 689.5L2101.4 689.4L2102.4 689.3L2103.4 689.1L2104.4 689.0L2105.4 688.8L2106.4 688.6L2107.4 688.4L2108.4 688.3L2109.4 688.0L2110.4 687.8L2111.4 687.8L2112.4 687.8L2113.4 687.8L2114.4 687.7L2115.4 687.9L2116.4 688.0L2117.4 688.0L2118.4 688.1L2119.4 688.1L2120.4 688.2L2121.4 688.2L2122.4 688.3L2123.4 688.2L2124.4 688.2L2125.4 688.2L2126.4 688.2L2127.4 688.2L2128.4 688.3L2129.4 688.3L2130.4 688.5L2131.4 688.5L2132.4 688.5L2133.4 688.6L2134.4 688.6L2135.4 688.6L2136.4 688.6L2137.4 688.5L2138.4 688.5L2139.4 688.3L2140.4 688.2L2141.4 688.1L2142.4 687.8L2143.4 687.6L2144.4 687.2L2145.4 686.9L2146.4 686.5L2147.4 686.2L2148.4 685.8L2149.4 685.4L2150.4 685.0L2151.4 684.5L2152.4 684.1L2153.4 683.6L2154.4 683.0L2155.4 682.4L2156.4 681.9L2157.4 681.3L2158.4 680.8L2159.4 680.3L2160.4 679.7L2161.4 679.1L2162.4 678.5L2163.4 678.0L2164.4 677.3L2165.4 676.7L2166.4 676.1L2167.4 675.4L2168.4 674.7L2169.4 674.1L2170.4 673.4L2171.4 672.6L2172.4 671.9L2173.4 671.1L2174.4 670.2L2175.4 669.4L2176.4 668.5L2177.4 667.5L2178.4 666.5L2179.4 665.4L2180.4 664.2L2181.4 663.0L2182.4 661.6L2183.4 660.2L2184.4 658.8L2185.4 657.4L2186.4 656.0L2187.4 654.6L2188.4 653.1L2189.4 651.6L2190.4 650.1L2191.4 648.7L2192.4 647.4L2193.4 646.1L2194.4 645.0L2195.4 643.6L2196.4 642.3L2197.4 640.8L2198.4 639.2L2199.4 637.5L2200.4 635.7L2201.4 633.8L2202.4 631.8L2203.4 629.8L2204.4 627.8L2205.4 625.6L2206.4 623.4L2207.4 621.1L2208.4 618.7L2209.4 616.2L2210.4 613.6L2211.4 611.0L2212.4 608.3L2213.4 605.6L2214.4 602.8L2215.4 599.7L2216.4 596.7L2217.4 593.8L2218.4 590.9L2219.4 587.9L2220.4 584.8L2221.4 581.9L2222.4 578.9L2223.4 575.9L2224.4 573.0L2225.4 569.9L2226.4 566.9L2227.4 564.0L2228.4 561.1L2229.4 558.3L2230.4 555.6L2231.4 553.0L2232.4 550.1L2233.4 547.3L2234.4 544.6L2235.4 541.8L2236.4 539.0L2237.4 536.4L2238.4 533.7L2239.4 531.0L2240.4 528.4L2241.4 525.6L2242.4 522.9L2243.4 520.1L2244.4 517.3L2245.4 514.4L2246.4 511.2" stroke="#4b4e58" stroke-width="4.2" fill="none" stroke-linejoin="round" stroke-linecap="round"/>
<path d="M209.8 994.5L210.8 995.0L211.8 995.3L212.8 995.5L213.8 995.5L214.8 995.4L215.8 995.3L216.8 994.5L217.8 993.4L218.8 992.2L219.8 991.1L220.8 989.5L221.8 988.0L222.8 986.5L223.8 985.4L224.8 984.1L225.8 982.6L226.8 981.1L227.8 979.8L228.8 978.9L229.8 978.0L230.8 977.1L231.8 976.1L232.8 975.4L233.8 974.6L234.8 974.3L235.8 973.8L236.8 974.0L237.8 974.1L238.8 974.0L239.8 973.9L240.8 974.1L241.8 974.0L242.8 973.6L243.8 973.3L244.8 972.8L245.8 971.9L246.8 971.2L247.8 970.1L248.8 968.9L249.8 968.1L250.8 966.9L251.8 965.4L252.8 964.4L253.8 963.2L254.8 961.6L255.8 960.8L256.8 959.3L257.8 958.1L258.8 957.3L259.8 955.4L260.8 954.0L261.8 952.7L262.8 951.2L263.8 949.3L264.8 947.6L265.8 945.6L266.8 944.0L267.8 942.0L268.8 939.0L269.8 936.3L270.8 933.4L271.8 930.0L272.8 926.5L273.8 923.0L274.8 919.1L275.8 914.0L276.8 908.5L277.8 903.8L278.8 900.3L279.8 897.4L280.8 894.0L281.8 891.4L282.8 888.6L283.8 885.6L284.8 883.4L285.8 883.6L286.8 884.8L287.8 886.0L288.8 888.5L289.8 891.2L290.8 893.7L291.8 895.4L292.8 896.9L293.8 898.9L294.8 900.2L295.8 900.7L296.8 900.0L297.8 899.1L298.8 896.0L299.8 892.2L300.8 889.2L301.8 886.6L302.8 884.4L303.8 882.4L304.8 879.7L305.8 876.5L306.8 873.7L307.8 870.3L308.8 867.0L309.8 863.7L310.8 860.4L311.8 857.2L312.8 853.4L313.8 849.4L314.8 846.3L315.8 842.8L316.8 839.5L317.8 835.8L318.8 832.6L319.8 829.2L320.8 825.1L321.8 821.4L322.8 818.8L323.8 816.1L324.8 814.1L325.8 813.3L326.8 812.1L327.8 812.8L328.8 813.3L329.8 816.2L330.8 820.2L331.8 824.4L332.8 827.3L333.8 828.9L334.8 830.2L335.8 830.4L336.8 829.7L337.8 828.0L338.8 826.9L339.8 824.0L340.8 821.1L341.8 817.7L342.8 815.4L343.8 814.3L344.8 812.8L345.8 811.6L346.8 812.3L347.8 812.2L348.8 811.7L349.8 810.9L350.8 809.2L351.8 807.7L352.8 805.8L353.8 804.3L354.8 802.5L355.8 800.9L356.8 798.5L357.8 796.5L358.8 794.9L359.8 792.9L360.8 791.1L361.8 789.6L362.8 788.5L363.8 786.6L364.8 785.2L365.8 783.8L366.8 782.5L367.8 781.7L368.8 780.3L369.8 780.0L370.8 780.3L371.8 781.2L372.8 782.0L373.8 784.4L374.8 787.2L375.8 791.0L376.8 796.4L377.8 801.7L378.8 808.3L379.8 815.0L380.8 821.8L381.8 828.5L382.8 835.4L383.8 840.6L384.8 845.0L385.8 848.4L386.8 850.6L387.8 851.9L388.8 851.9L389.8 851.6L390.8 850.9L391.8 850.6L392.8 850.3L393.8 850.8L394.8 852.2L395.8 854.3L396.8 856.9L397.8 860.4L398.8 864.8L399.8 870.1L400.8 874.7L401.8 878.4L402.8 880.9L403.8 883.0L404.8 884.4L405.8 884.8L406.8 883.7L407.8 881.4L408.8 878.2L409.8 873.4L410.8 870.0L411.8 867.1L412.8 864.8L413.8 862.9L414.8 862.0L415.8 861.8L416.8 862.7L417.8 864.8L418.8 867.3L419.8 870.6L420.8 873.6L421.8 876.4L422.8 879.8L423.8 883.9L424.8 887.4L425.8 891.3L426.8 895.0L427.8 898.9L428.8 903.3L429.8 907.3L430.8 910.4L431.8 912.7L432.8 914.9L433.8 915.9L434.8 916.9L435.8 916.3L436.8 916.0L437.8 914.5L438.8 912.2L439.8 909.6L440.8 907.5L441.8 906.1L442.8 904.5L443.8 903.2L444.8 901.7L445.8 901.5L446.8 900.8L447.8 899.9L448.8 899.5L449.8 899.2L450.8 898.4L451.8 897.8L452.8 897.6L453.8 897.1L454.8 896.2L455.8 894.9L456.7 894.3L457.7 894.0L458.7 893.2L459.7 892.8L460.7 892.6L461.7 892.0L462.7 891.0L463.7 890.2L464.7 889.5L465.7 889.2L466.7 888.2L467.7 887.8L468.7 887.1L469.7 886.9L470.7 886.9L471.7 886.8L472.7 887.6L473.7 888.4L474.7 888.9L475.7 889.3L476.7 889.7L477.7 889.0L478.7 889.4L479.7 889.1L480.7 888.5L481.7 887.6L482.7 885.9L483.7 884.3L484.7 883.4L485.7 882.1L486.7 880.9L487.7 880.7L488.7 879.5L489.7 878.4L490.7 877.1L491.7 877.2L492.7 877.4L493.7 877.8L494.7 878.3L495.7 879.1L496.7 880.5L497.7 881.7L498.7 883.9L499.7 886.4L500.7 889.8L501.7 892.4L502.7 895.1L503.7 897.7L504.7 900.4L505.7 903.6L506.7 906.3L507.7 908.8L508.7 911.0L509.7 912.6L510.7 913.8L511.7 915.1L512.7 916.1L513.7 917.0L514.7 917.7L515.7 918.0L516.7 918.2L517.7 918.8L518.7 919.5L519.7 920.8L520.7 921.6L521.7 922.5L522.7 923.7L523.7 924.4L524.7 924.7L525.7 925.0L526.7 925.2L527.7 924.8L528.7 924.5L529.7 924.0L530.7 923.1L531.7 921.7L532.7 920.0L533.7 918.9L534.7 917.5L535.7 916.0L536.7 915.1L537.7 914.0L538.7 913.1L539.7 912.1L540.7 911.3L541.7 910.9L542.7 911.2L543.7 911.2L544.7 911.7L545.7 912.5L546.7 913.3L547.7 915.3L548.7 917.2L549.7 918.8L550.7 921.0L551.7 923.4L552.7 925.7L553.7 928.3L554.7 931.1L555.7 933.8L556.7 935.9L557.7 937.4L558.7 938.8L559.7 940.2L560.7 941.4L561.7 942.4L562.7 942.7L563.7 942.7L564.7 942.0L565.7 941.5L566.7 940.5L567.7 939.6L568.7 939.0L569.7 938.4L570.7 937.4L571.7 935.8L572.7 934.7L573.7 933.7L574.7 933.2L575.7 932.6L576.7 931.9L577.7 930.7L578.7 928.9L579.7 927.3L580.7 925.7L581.7 924.1L582.7 922.4L583.7 920.5L584.7 918.7L585.7 916.6L586.7 915.1L587.7 913.6L588.7 912.5L589.7 911.2L590.7 910.0L591.7 909.2L592.7 908.0L593.7 907.2L594.7 906.6L595.7 905.8L596.7 905.1L597.7 905.0L598.7 904.1L599.7 903.6L600.7 903.3L601.7 903.2L602.7 903.2L603.7 903.7L604.7 903.8L605.7 904.0L606.7 904.4L607.7 905.2L608.7 906.7L609.7 907.6L610.7 909.1L611.7 910.5L612.7 912.3L613.7 913.4L614.7 914.5L615.7 915.8L616.7 917.6L617.7 918.4L618.7 919.5L619.7 920.6L620.7 921.2L621.7 921.5L622.7 921.9L623.7 923.0L624.7 923.5L625.7 924.6L626.7 924.7L627.7 925.0L628.7 924.9L629.7 925.1L630.7 925.1L631.7 925.3L632.7 924.9L633.7 924.3L634.7 923.8L635.7 922.6L636.7 921.8L637.7 921.4L638.7 920.4L639.7 919.7L640.7 918.7L641.7 917.7L642.7 917.3L643.7 916.5L644.7 916.3L645.7 915.8L646.7 915.5L647.7 914.9L648.7 915.0L649.7 915.3L650.7 915.9L651.7 917.2L652.7 918.2L653.7 919.7L654.7 921.1L655.7 922.9L656.7 924.6L657.7 926.2L658.7 928.1L659.7 929.3L660.7 930.9L661.7 931.7L662.7 932.4L663.7 933.3L664.7 934.1L665.7 934.4L666.7 934.4L667.7 934.8L668.7 934.8L669.7 935.4L670.7 935.2L671.7 935.4L672.7 935.9L673.7 935.6L674.7 935.4L675.7 935.3L676.7 935.1L677.7 934.6L678.7 934.9L679.7 934.3L680.7 933.9L681.7 933.3L682.7 932.5L683.7 931.9L684.7 931.6L685.7 931.0L686.7 930.4L687.7 930.1L688.7 929.0L689.7 929.0L690.7 928.9L691.7 928.7L692.7 928.3L693.7 928.3L694.7 928.2L695.7 928.0L696.7 928.5L697.7 928.6L698.7 929.1L699.7 928.8L700.7 928.6L701.7 928.4L702.7 928.4L703.7 928.6L704.7 928.3L705.7 928.6L706.7 928.0L707.7 927.5L708.7 926.9L709.7 926.7L710.7 926.4L711.7 926.3L712.7 925.9L713.7 925.2L714.7 924.7L715.7 924.7L716.7 924.9L717.7 925.0L718.7 924.6L719.7 924.3L720.7 923.8L721.7 923.4L722.7 923.3L723.7 922.7L724.7 922.4L725.7 921.5L726.7 920.4L727.7 919.5L728.7 918.4L729.7 917.0L730.7 915.7L731.7 914.2L732.7 912.7L733.7 911.3L734.7 909.1L735.7 907.5L736.7 905.7L737.7 904.3L738.7 903.3L739.7 902.3L740.7 901.8L741.7 901.6L742.7 901.4L743.7 901.4L744.7 901.8L745.7 901.9L746.7 902.6L747.7 902.9L748.7 903.3L749.7 903.6L750.7 903.8L751.7 903.7L752.7 903.6L753.7 903.4L754.7 903.3L755.7 902.8L756.7 902.5L757.7 902.2L758.7 901.7L759.7 901.5L760.7 900.7L761.7 900.0L762.7 899.6L763.7 899.1L764.7 898.4L765.7 897.8L766.7 897.2L767.7 896.8L768.7 896.5L769.7 896.2L770.7 896.0L771.7 896.4L772.7 896.6L773.7 896.6L774.7 897.5L775.7 898.7L776.7 899.9L777.7 901.5L778.7 903.8L779.7 906.1L780.7 909.1L781.7 911.9L782.7 914.8L783.7 917.9L784.7 920.1L785.7 922.3L786.7 924.3L787.7 926.0L788.7 927.1L789.7 928.2L790.7 929.0L791.7 928.9L792.7 928.9L793.7 929.4L794.7 929.8L795.7 930.5L796.7 930.8L797.7 930.8L798.7 930.8L799.7 930.6L800.7 930.1L801.7 930.4L802.7 930.3L803.7 930.2L804.7 929.6L805.7 929.1L806.7 928.7L807.7 928.4L808.7 927.5L809.7 927.3L810.7 927.4L811.7 926.8L812.7 926.1L813.7 925.4L814.7 925.3L815.7 923.9L816.7 922.8L817.7 922.7L818.7 923.5L819.7 924.8L820.7 926.4L821.7 927.8L822.7 929.5L823.7 931.3L824.7 932.7L825.7 935.3L826.7 937.8L827.7 939.8L828.7 940.8L829.7 941.1L830.7 941.0L831.7 941.6L832.7 941.9L833.7 942.5L834.7 942.9L835.7 943.3L836.7 943.6L837.7 943.8L838.7 944.6L839.7 944.9L840.7 945.1L841.7 945.0L842.7 945.4L843.7 946.3L844.7 949.0L845.7 952.2L846.7 956.0L847.7 960.0L848.7 964.9L849.7 971.4L850.7 979.8L851.7 987.7L852.7 995.0L853.7 1001.8L854.7 1006.5L855.7 1011.8L856.7 1017.8L857.7 1023.7L858.7 1029.5L859.7 1034.6L860.7 1038.6L861.7 1043.4L862.7 1047.6L863.7 1050.8L864.7 1054.1L865.7 1055.7L866.7 1055.2L867.7 1053.8L868.7 1051.4L869.7 1047.6L870.7 1042.4L871.7 1036.7L872.7 1031.3L873.7 1027.0L874.7 1023.3L875.7 1020.3L876.7 1018.4L877.7 1016.6L878.7 1015.0L879.7 1014.1L880.7 1014.1L881.7 1013.9L882.7 1013.6L883.7 1012.0L884.7 1010.1L885.7 1007.4L886.7 1004.1L887.7 1000.8L888.7 997.0L889.7 993.0L890.7 988.7L891.7 985.1L892.7 981.0L893.7 977.1L894.7 972.3L895.7 968.6L896.7 965.9L897.7 964.1L898.7 963.4L899.7 962.9L900.7 961.9L901.7 960.6L902.7 960.5L903.7 960.7L904.7 962.1L905.7 962.7L906.7 962.9L907.7 962.5L908.7 961.2L909.7 960.1L910.7 959.2L911.7 959.1L912.7 958.8L913.7 958.9L914.7 959.4L915.7 960.1L916.7 960.4L917.7 961.4L918.7 962.4L919.7 963.5L920.7 965.2L921.7 966.4L922.7 967.4L923.7 968.9L924.7 970.2L925.7 971.5L926.7 972.9L927.7 973.2L928.7 973.1L929.7 972.7L930.7 972.0L931.7 971.2L932.7 970.8L933.7 969.2L934.7 968.2L935.7 966.9L936.7 966.0L937.7 965.7L938.7 966.3L939.7 967.4L940.7 969.0L941.7 970.9L942.7 973.0L943.7 976.1L944.7 978.8L945.7 981.8L946.7 984.1L947.7 986.4L948.7 987.8L949.7 989.0L950.7 989.2L951.7 988.8L952.7 987.7L953.7 986.0L954.7 983.7L955.7 981.5L956.7 979.1L957.7 976.9L958.7 975.4L959.7 973.2L960.7 971.5L961.7 970.0L962.7 968.7L963.7 966.9L964.7 965.3L965.7 963.8L966.7 962.3L967.7 960.6L968.6 958.6L969.6 956.5L970.6 954.7L971.6 952.7L972.6 951.3L973.6 949.7L974.6 948.5L975.6 947.3L976.6 946.6L977.6 946.2L978.6 945.9L979.6 945.6L980.6 945.5L981.6 945.3L982.6 944.5L983.6 944.5L984.6 943.8L985.6 942.6L986.6 941.5L987.6 939.9L988.6 938.3L989.6 937.4L990.6 936.0L991.6 935.1L992.6 933.9L993.6 932.1L994.6 930.8L995.6 929.7L996.6 928.2L997.6 927.3L998.6 925.9L999.6 923.9L1000.6 922.3L1001.6 920.2L1002.6 918.5L1003.6 916.9L1004.6 915.2L1005.6 913.3L1006.6 911.5L1007.6 909.6L1008.6 908.6L1009.6 908.4L1010.6 907.4L1011.6 907.0L1012.6 906.7L1013.6 906.7L1014.6 906.4L1015.6 907.1L1016.6 907.5L1017.6 907.5L1018.6 906.7L1019.6 905.8L1020.6 905.3L1021.6 904.1L1022.6 903.1L1023.6 901.6L1024.6 900.6L1025.6 898.5L1026.6 896.7L1027.6 895.3L1028.6 894.3L1029.6 892.1L1030.6 889.9L1031.6 887.7L1032.6 885.4L1033.6 882.7L1034.6 879.8L1035.6 877.2L1036.6 874.2L1037.6 870.9L1038.6 867.3L1039.6 864.1L1040.6 860.9L1041.6 858.1L1042.6 855.1L1043.6 852.6L1044.6 849.6L1045.6 846.7L1046.6 844.4L1047.6 842.0L1048.6 839.2L1049.6 836.4L1050.6 833.8L1051.6 830.4L1052.6 826.7L1053.6 823.0L1054.6 820.1L1055.6 816.4L1056.6 812.4L1057.6 807.9L1058.6 803.9L1059.6 799.6L1060.6 794.9L1061.6 790.8L1062.6 786.6L1063.6 782.9L1064.6 779.6L1065.6 777.3L1066.6 775.7L1067.6 774.9L1068.6 774.2L1069.6 775.1L1070.6 777.0L1071.6 779.5L1072.6 783.3L1073.6 787.1L1074.6 791.0L1075.6 794.1L1076.6 797.4L1077.6 801.5L1078.6 805.4L1079.6 808.4L1080.6 809.9L1081.6 810.3L1082.6 808.6L1083.6 806.4L1084.6 802.5L1085.6 798.5L1086.6 793.9L1087.6 789.3L1088.6 784.6L1089.6 780.0L1090.6 776.4L1091.6 773.2L1092.6 771.5L1093.6 770.4L1094.6 769.9L1095.6 769.9L1096.6 770.1L1097.6 769.2L1098.6 768.7L1099.6 767.6L1100.6 767.1L1101.6 767.0L1102.6 766.6L1103.6 765.1L1104.6 764.6L1105.6 764.1L1106.6 763.7L1107.6 764.4L1108.6 765.0L1109.6 767.0L1110.6 767.5L1111.6 767.1L1112.6 765.8L1113.6 764.5L1114.6 762.5L1115.6 760.1L1116.6 757.0L1117.6 752.9L1118.6 748.2L1119.6 741.6L1120.6 736.7L1121.6 732.1L1122.6 728.2L1123.6 724.8L1124.6 722.0L1125.6 718.7L1126.6 715.7L1127.6 713.3L1128.6 712.3L1129.6 712.8L1130.6 713.3L1131.6 713.0L1132.6 711.9L1133.6 711.0L1134.6 709.2L1135.6 707.2L1136.6 705.3L1137.6 702.9L1138.6 699.4L1139.6 694.5L1140.6 688.8L1141.6 684.0L1142.6 679.5L1143.6 674.8L1144.6 670.6L1145.6 666.6L1146.6 662.5L1147.6 658.3L1148.6 653.9L1149.6 649.9L1150.6 645.6L1151.6 641.7L1152.6 638.0L1153.6 634.1L1154.6 630.4L1155.6 626.2L1156.6 623.4L1157.6 620.2L1158.6 618.1L1159.6 616.3L1160.6 615.6L1161.6 614.9L1162.6 613.6L1163.6 612.7L1164.6 612.6L1165.6 613.3L1166.6 613.0L1167.6 612.8L1168.6 612.0L1169.6 611.2L1170.6 609.1L1171.6 607.0L1172.6 604.8L1173.6 603.0L1174.6 600.2L1175.6 597.5L1176.6 594.1L1177.6 590.6L1178.6 588.1L1179.6 586.0L1180.6 585.2L1181.6 586.0L1182.6 589.5L1183.6 593.5L1184.6 599.9L1185.6 606.5L1186.6 615.0L1187.6 624.4L1188.6 633.1L1189.6 641.5L1190.6 648.6L1191.6 653.2L1192.6 656.1L1193.6 657.5L1194.6 656.9L1195.6 655.3L1196.6 652.7L1197.6 648.8L1198.6 644.4L1199.6 639.3L1200.6 634.6L1201.6 630.7L1202.6 626.6L1203.6 623.5L1204.6 620.1L1205.6 617.8L1206.6 615.2L1207.6 612.9L1208.6 611.2L1209.6 610.8L1210.6 610.8L1211.6 611.3L1212.6 612.8L1213.6 613.9L1214.6 617.1L1215.6 620.3L1216.6 624.3L1217.6 628.1L1218.6 631.2L1219.6 633.9L1220.6 636.4L1221.6 637.9L1222.6 638.6L1223.6 639.3L1224.6 638.1L1225.6 636.8L1226.6 635.7L1227.6 634.6L1228.6 634.2L1229.6 633.2L1230.6 632.5L1231.6 632.2L1232.6 632.2L1233.6 632.2L1234.6 632.8L1235.6 632.6L1236.6 631.5L1237.6 630.8L1238.6 630.0L1239.6 629.4L1240.6 628.4L1241.6 626.9L1242.6 625.5L1243.6 622.4L1244.6 619.2L1245.6 616.5L1246.6 613.6L1247.6 610.9L1248.6 608.0L1249.6 605.1L1250.6 602.6L1251.6 601.9L1252.6 601.3L1253.6 602.6L1254.6 603.2L1255.6 603.1L1256.6 603.5L1257.6 603.0L1258.6 602.1L1259.6 601.9L1260.6 601.2L1261.6 599.0L1262.6 596.1L1263.6 592.8L1264.6 590.2L1265.6 587.9L1266.6 586.6L1267.6 586.0L1268.6 586.2L1269.6 586.6L1270.6 587.0L1271.6 587.2L1272.6 588.6L1273.6 590.6L1274.6 591.3L1275.6 591.9L1276.6 591.4L1277.6 590.4L1278.6 589.2L1279.6 585.8L1280.6 583.4L1281.6 582.4L1282.6 580.8L1283.6 579.2L1284.6 578.9L1285.6 579.3L1286.6 580.6L1287.6 581.9L1288.6 584.0L1289.6 587.7L1290.6 591.0L1291.6 594.2L1292.6 597.3L1293.6 599.7L1294.6 601.5L1295.6 602.7L1296.6 602.5L1297.6 603.6L1298.6 603.6L1299.6 602.2L1300.6 600.5L1301.6 598.8L1302.6 596.2L1303.6 593.6L1304.6 590.9L1305.6 588.5L1306.6 586.8L1307.6 584.6L1308.6 583.1L1309.6 582.9L1310.6 582.6L1311.6 581.8L1312.6 582.4L1313.6 583.4L1314.6 585.1L1315.6 587.7L1316.6 590.4L1317.6 593.1L1318.6 595.7L1319.6 598.9L1320.6 601.6L1321.6 603.4L1322.6 604.4L1323.6 604.5L1324.6 604.4L1325.6 602.9L1326.6 600.3L1327.6 597.8L1328.6 595.0L1329.6 592.1L1330.6 589.2L1331.6 587.9L1332.6 586.2L1333.6 585.1L1334.6 584.2L1335.6 583.9L1336.6 585.2L1337.6 586.7L1338.6 588.0L1339.6 588.4L1340.6 589.3L1341.6 590.4L1342.6 591.7L1343.6 593.4L1344.6 595.1L1345.6 597.8L1346.6 599.7L1347.6 601.2L1348.6 603.1L1349.6 605.8L1350.6 608.0L1351.6 609.1L1352.6 610.7L1353.6 611.9L1354.6 612.6L1355.6 612.6L1356.6 613.1L1357.6 612.5L1358.6 611.5L1359.6 609.8L1360.6 608.3L1361.6 607.0L1362.6 604.8L1363.6 602.6L1364.6 599.7L1365.6 596.9L1366.6 593.9L1367.6 592.3L1368.6 590.6L1369.6 589.7L1370.6 589.1L1371.6 588.8L1372.6 589.1L1373.6 590.6L1374.6 593.6L1375.6 598.1L1376.6 604.1L1377.6 610.0L1378.6 618.3L1379.6 627.6L1380.6 636.7L1381.6 645.1L1382.6 654.0L1383.6 662.1L1384.6 669.0L1385.6 674.2L1386.6 679.3L1387.6 684.9L1388.6 689.0L1389.6 692.8L1390.6 697.8L1391.6 704.3L1392.6 710.0L1393.6 715.1L1394.6 719.4L1395.6 723.4L1396.6 725.4L1397.6 726.1L1398.6 725.8L1399.6 724.2L1400.6 720.4L1401.6 715.8L1402.6 711.1L1403.6 706.8L1404.6 703.1L1405.6 700.1L1406.6 697.7L1407.6 696.2L1408.6 694.7L1409.6 692.8L1410.6 692.9L1411.6 693.7L1412.6 696.0L1413.6 698.9L1414.6 702.9L1415.6 707.8L1416.6 712.8L1417.6 718.1L1418.6 723.6L1419.6 728.8L1420.6 733.0L1421.6 736.9L1422.6 739.5L1423.6 741.0L1424.6 742.1L1425.6 742.6L1426.6 742.4L1427.6 741.9L1428.6 741.6L1429.6 742.4L1430.6 743.4L1431.6 744.1L1432.6 745.4L1433.6 747.3L1434.6 748.7L1435.6 749.6L1436.6 750.2L1437.6 751.0L1438.6 751.6L1439.6 751.7L1440.6 751.7L1441.6 751.0L1442.6 749.9L1443.6 749.3L1444.6 748.2L1445.6 747.0L1446.6 746.4L1447.6 745.2L1448.6 743.6L1449.6 741.3L1450.6 739.0L1451.6 736.9L1452.6 734.6L1453.6 732.0L1454.6 729.8L1455.6 727.2L1456.6 724.3L1457.6 722.3L1458.6 719.9L1459.6 718.0L1460.6 716.2L1461.6 714.5L1462.6 712.9L1463.6 711.7L1464.6 710.2L1465.6 709.3L1466.6 709.2L1467.6 708.7L1468.6 708.7L1469.6 709.6L1470.6 710.3L1471.6 712.1L1472.6 713.4L1473.6 715.0L1474.6 716.8L1475.6 718.9L1476.6 721.1L1477.6 723.4L1478.6 726.4L1479.5 727.8L1480.5 728.3L1481.5 728.7L1482.5 731.1L1483.5 733.8L1484.5 737.7L1485.5 741.6L1486.5 746.0L1487.5 750.8L1488.5 755.9L1489.5 762.6L1490.5 770.9L1491.5 778.7L1492.5 786.2L1493.5 793.2L1494.5 801.5L1495.5 809.7L1496.5 816.7L1497.5 822.5L1498.5 827.3L1499.5 831.0L1500.5 834.9L1501.5 839.4L1502.5 843.0L1503.5 847.4L1504.5 850.4L1505.5 851.7L1506.5 853.2L1507.5 854.5L1508.5 856.3L1509.5 858.1L1510.5 858.6L1511.5 859.5L1512.5 860.1L1513.5 860.4L1514.5 860.0L1515.5 861.4L1516.5 863.3L1517.5 865.4L1518.5 868.2L1519.5 872.2L1520.5 876.9L1521.5 880.4L1522.5 884.0L1523.5 886.5L1524.5 889.8L1525.5 892.8L1526.5 894.7L1527.5 895.7L1528.5 894.1L1529.5 891.5L1530.5 888.0L1531.5 883.0L1532.5 876.7L1533.5 869.2L1534.5 859.8L1535.5 851.5L1536.5 844.2L1537.5 838.6L1538.5 835.0L1539.5 831.8L1540.5 828.9L1541.5 827.6L1542.5 827.2L1543.5 828.3L1544.5 830.9L1545.5 832.4L1546.5 833.6L1547.5 834.6L1548.5 835.9L1549.5 837.2L1550.5 838.4L1551.5 839.3L1552.5 840.6L1553.5 841.6L1554.5 842.3L1555.5 841.8L1556.5 841.2L1557.5 840.5L1558.5 838.8L1559.5 836.9L1560.5 835.4L1561.5 833.5L1562.5 830.8L1563.5 827.9L1564.5 824.9L1565.5 822.7L1566.5 819.7L1567.5 816.0L1568.5 813.4L1569.5 811.6L1570.5 809.4L1571.5 808.6L1572.5 808.4L1573.5 808.4L1574.5 808.9L1575.5 810.3L1576.5 812.4L1577.5 815.1L1578.5 818.1L1579.5 821.1L1580.5 823.9L1581.5 825.1L1582.5 827.1L1583.5 828.0L1584.5 828.9L1585.5 829.9L1586.5 831.1L1587.5 832.5L1588.5 832.8L1589.5 833.5L1590.5 834.4L1591.5 836.0L1592.5 837.7L1593.5 840.3L1594.5 842.4L1595.5 843.3L1596.5 844.4L1597.5 845.4L1598.5 846.5L1599.5 846.5L1600.5 846.2L1601.5 846.5L1602.5 845.3L1603.5 844.7L1604.5 844.3L1605.5 844.2L1606.5 843.6L1607.5 842.8L1608.5 842.4L1609.5 841.9L1610.5 841.1L1611.5 840.1L1612.5 838.9L1613.5 837.6L1614.5 836.0L1615.5 834.3L1616.5 832.7L1617.5 831.0L1618.5 829.3L1619.5 828.3L1620.5 827.3L1621.5 826.5L1622.5 826.3L1623.5 826.3L1624.5 826.2L1625.5 827.5L1626.5 829.0L1627.5 830.5L1628.5 831.6L1629.5 832.9L1630.5 834.5L1631.5 836.1L1632.5 837.5L1633.5 838.8L1634.5 840.0L1635.5 840.0L1636.5 839.5L1637.5 838.9L1638.5 838.7L1639.5 837.6L1640.5 836.9L1641.5 835.6L1642.5 834.7L1643.5 833.9L1644.5 832.5L1645.5 831.5L1646.5 830.4L1647.5 830.1L1648.5 829.8L1649.5 829.5L1650.5 828.6L1651.5 828.4L1652.5 827.3L1653.5 826.7L1654.5 825.9L1655.5 824.3L1656.5 823.9L1657.5 822.6L1658.5 820.3L1659.5 818.3L1660.5 816.5L1661.5 814.2L1662.5 812.3L1663.5 810.0L1664.5 808.6L1665.5 807.8L1666.5 806.2L1667.5 804.6L1668.5 804.5L1669.5 803.4L1670.5 802.7L1671.5 801.4L1672.5 800.7L1673.5 800.3L1674.5 799.1L1675.5 798.2L1676.5 796.9L1677.5 795.5L1678.5 793.7L1679.5 792.5L1680.5 791.0L1681.5 790.3L1682.5 789.2L1683.5 787.2L1684.5 785.6L1685.5 783.8L1686.5 781.9L1687.5 780.5L1688.5 779.3L1689.5 777.5L1690.5 775.4L1691.5 772.9L1692.5 770.1L1693.5 767.6L1694.5 765.1L1695.5 762.3L1696.5 759.7L1697.5 757.1L1698.5 753.8L1699.5 751.1L1700.5 748.4L1701.5 746.7L1702.5 745.2L1703.5 744.2L1704.5 743.3L1705.5 742.5L1706.5 741.3L1707.5 740.3L1708.5 741.4L1709.5 742.2L1710.5 745.2L1711.5 747.9L1712.5 750.3L1713.5 751.9L1714.5 753.7L1715.5 754.7L1716.5 756.4L1717.5 757.2L1718.5 756.3L1719.5 755.5L1720.5 752.7L1721.5 749.2L1722.5 746.4L1723.5 743.8L1724.5 742.4L1725.5 741.6L1726.5 740.8L1727.5 740.6L1728.5 741.0L1729.5 742.2L1730.5 743.8L1731.5 745.6L1732.5 748.5L1733.5 752.4L1734.5 754.5L1735.5 757.7L1736.5 761.1L1737.5 764.7L1738.5 768.7L1739.5 771.8L1740.5 775.4L1741.5 779.5L1742.5 782.0L1743.5 783.4L1744.5 785.8L1745.5 786.9L1746.5 788.2L1747.5 788.3L1748.5 788.6L1749.5 789.3L1750.5 790.1L1751.5 790.7L1752.5 791.7L1753.5 793.9L1754.5 796.2L1755.5 799.1L1756.5 802.5L1757.5 806.7L1758.5 810.6L1759.5 815.7L1760.5 819.4L1761.5 822.4L1762.5 824.8L1763.5 825.5L1764.5 825.9L1765.5 825.7L1766.5 824.2L1767.5 822.7L1768.5 820.5L1769.5 817.0L1770.5 813.9L1771.5 811.9L1772.5 810.2L1773.5 809.0L1774.5 808.3L1775.5 808.1L1776.5 808.5L1777.5 809.2L1778.5 809.9L1779.5 810.9L1780.5 811.6L1781.5 811.6L1782.5 812.6L1783.5 813.3L1784.5 813.8L1785.5 813.9L1786.5 813.6L1787.5 813.1L1788.5 813.1L1789.5 812.6L1790.5 812.4L1791.5 812.4L1792.5 812.0L1793.5 811.6L1794.5 811.3L1795.5 810.5L1796.5 809.4L1797.5 808.6L1798.5 807.0L1799.5 805.5L1800.5 803.6L1801.5 801.5L1802.5 799.3L1803.5 797.2L1804.5 794.5L1805.5 792.3L1806.5 790.1L1807.5 787.9L1808.5 786.2L1809.5 784.1L1810.5 782.4L1811.5 781.0L1812.5 779.3L1813.5 777.7L1814.5 776.6L1815.5 775.4L1816.5 773.9L1817.5 772.6L1818.5 770.9L1819.5 769.7L1820.5 768.6L1821.5 767.1L1822.5 766.3L1823.5 765.0L1824.5 763.7L1825.5 762.1L1826.5 761.0L1827.5 759.7L1828.5 758.7L1829.5 757.2L1830.5 755.2L1831.5 753.3L1832.5 750.9L1833.5 749.0L1834.5 747.0L1835.5 744.5L1836.5 742.4L1837.5 740.5L1838.5 737.7L1839.5 735.5L1840.5 733.4L1841.5 731.2L1842.5 729.6L1843.5 728.5L1844.5 726.6L1845.5 725.6L1846.5 724.6L1847.5 723.7L1848.5 723.8L1849.5 723.9L1850.5 725.0L1851.5 725.9L1852.5 726.9L1853.5 726.7L1854.5 727.2L1855.5 726.9L1856.5 726.7L1857.5 726.1L1858.5 724.9L1859.5 723.1L1860.5 721.3L1861.5 719.4L1862.5 717.5L1863.5 716.2L1864.5 715.1L1865.5 715.2L1866.5 714.7L1867.5 714.7L1868.5 715.6L1869.5 717.6L1870.5 719.1L1871.5 721.4L1872.5 723.8L1873.5 726.6L1874.5 730.0L1875.5 733.2L1876.5 737.3L1877.5 740.5L1878.5 742.5L1879.5 744.3L1880.5 745.0L1881.5 745.2L1882.5 745.0L1883.5 744.2L1884.5 742.4L1885.5 740.2L1886.5 737.3L1887.5 734.0L1888.5 731.8L1889.5 728.6L1890.5 726.2L1891.5 723.8L1892.5 721.1L1893.5 718.1L1894.5 715.6L1895.5 713.8L1896.5 712.4L1897.5 711.9L1898.5 710.6L1899.5 710.2L1900.5 710.0L1901.5 710.2L1902.5 710.1L1903.5 711.2L1904.5 711.3L1905.5 710.9L1906.5 710.4L1907.5 709.9L1908.5 709.2L1909.5 708.2L1910.5 706.7L1911.5 705.0L1912.5 704.2L1913.5 702.5L1914.5 701.9L1915.5 701.3L1916.5 700.8L1917.5 700.1L1918.5 700.3L1919.5 701.1L1920.5 702.1L1921.5 703.7L1922.5 705.1L1923.5 706.9L1924.5 707.3L1925.5 708.4L1926.5 709.6L1927.5 710.3L1928.5 710.9L1929.5 710.2L1930.5 710.6L1931.5 709.9L1932.5 709.4L1933.5 708.1L1934.5 708.1L1935.5 707.4L1936.5 707.0L1937.5 706.7L1938.5 706.6L1939.5 708.2L1940.5 708.4L1941.5 709.2L1942.5 710.1L1943.5 711.8L1944.5 713.6L1945.5 716.0L1946.5 717.6L1947.5 719.3L1948.5 721.7L1949.5 723.2L1950.5 725.2L1951.5 727.0L1952.5 727.8L1953.5 728.7L1954.5 728.3L1955.5 727.4L1956.5 727.5L1957.5 727.0L1958.5 726.2L1959.5 724.4L1960.5 722.4L1961.5 720.4L1962.5 719.2L1963.5 717.3L1964.5 715.2L1965.5 713.5L1966.5 711.4L1967.5 709.2L1968.5 706.5L1969.5 705.1L1970.5 704.0L1971.5 702.4L1972.5 701.1L1973.5 700.3L1974.5 700.5L1975.5 700.4L1976.5 700.5L1977.5 700.8L1978.5 700.4L1979.5 699.7L1980.5 699.0L1981.5 698.3L1982.5 697.3L1983.5 695.6L1984.5 693.2L1985.5 691.1L1986.5 688.0L1987.5 684.8L1988.5 683.3L1989.5 680.8L1990.5 678.5L1991.4 676.2L1992.4 674.0L1993.4 672.5L1994.4 671.5L1995.4 670.4L1996.4 669.4L1997.4 669.6L1998.4 668.5L1999.4 668.1L2000.4 668.3L2001.4 668.8L2002.4 669.2L2003.4 670.7L2004.4 671.4L2005.4 672.4L2006.4 674.4L2007.4 676.1L2008.4 678.1L2009.4 680.5L2010.4 682.1L2011.4 684.4L2012.4 686.8L2013.4 688.3L2014.4 691.3L2015.4 693.6L2016.4 695.9L2017.4 698.5L2018.4 701.1L2019.4 702.9L2020.4 705.6L2021.4 707.2L2022.4 709.9L2023.4 712.6L2024.4 713.5L2025.4 714.3L2026.4 714.9L2027.4 714.3L2028.4 713.4L2029.4 712.8L2030.4 710.5L2031.4 708.7L2032.4 705.8L2033.4 702.3L2034.4 699.6L2035.4 696.7L2036.4 694.2L2037.4 691.8L2038.4 689.8L2039.4 687.4L2040.4 686.1L2041.4 685.0L2042.4 683.8L2043.4 683.2L2044.4 683.0L2045.4 683.2L2046.4 683.2L2047.4 683.0L2048.4 682.8L2049.4 683.6L2050.4 684.3L2051.4 685.1L2052.4 686.1L2053.4 687.3L2054.4 688.3L2055.4 689.5L2056.4 690.6L2057.4 692.4L2058.4 694.4L2059.4 695.8L2060.4 697.7L2061.4 698.6L2062.4 700.3L2063.4 700.8L2064.4 701.5L2065.4 701.6L2066.4 701.5L2067.4 701.7L2068.4 701.0L2069.4 699.8L2070.4 698.3L2071.4 697.2L2072.4 696.1L2073.4 694.9L2074.4 693.7L2075.4 692.3L2076.4 691.3L2077.4 689.9L2078.4 689.4L2079.4 688.6L2080.4 688.1L2081.4 687.4L2082.4 685.7L2083.4 684.8L2084.4 683.7L2085.4 682.4L2086.4 681.5L2087.4 680.5L2088.4 678.8L2089.4 677.4L2090.4 676.5L2091.4 675.2L2092.4 674.4L2093.4 673.4L2094.4 672.0L2095.4 671.5L2096.4 669.9L2097.4 668.4L2098.4 667.3L2099.4 666.7L2100.4 665.7L2101.4 665.0L2102.4 664.1L2103.4 663.3L2104.4 663.4L2105.4 663.1L2106.4 663.4L2107.4 664.0L2108.4 664.6L2109.4 665.1L2110.4 665.6L2111.4 668.1L2112.4 671.3L2113.4 674.8L2114.4 678.7L2115.4 684.7L2116.4 689.7L2117.4 694.3L2118.4 699.1L2119.4 704.1L2120.4 709.3L2121.4 712.1L2122.4 715.1L2123.4 716.8L2124.4 718.0L2125.4 716.8L2126.4 716.8L2127.4 716.3L2128.4 715.4L2129.4 714.5L2130.4 713.1L2131.4 711.1L2132.4 708.5L2133.4 706.2L2134.4 703.7L2135.4 701.4L2136.4 698.0L2137.4 694.9L2138.4 691.6L2139.4 687.7L2140.4 683.9L2141.4 681.0L2142.4 676.7L2143.4 673.1L2144.4 669.2L2145.4 665.8L2146.4 662.3L2147.4 659.3L2148.4 656.3L2149.4 654.1L2150.4 651.7L2151.4 649.2L2152.4 648.1L2153.4 646.7L2154.4 645.1L2155.4 644.1L2156.4 643.8L2157.4 643.3L2158.4 643.6L2159.4 643.7L2160.4 643.4L2161.4 643.5L2162.4 643.9L2163.4 644.4L2164.4 644.5L2165.4 643.5L2166.4 642.5L2167.4 641.3L2168.4 639.0L2169.4 636.9L2170.4 634.6L2171.4 631.9L2172.4 628.9L2173.4 625.2L2174.4 621.9L2175.4 618.6L2176.4 614.9L2177.4 610.5L2178.4 606.2L2179.4 600.7L2180.4 595.7L2181.4 589.8L2182.4 581.7L2183.4 574.8L2184.4 568.2L2185.4 561.7L2186.4 555.8L2187.4 550.4L2188.4 544.4L2189.4 539.3L2190.4 534.5L2191.4 531.6L2192.4 531.1L2193.4 532.0L2194.4 532.6L2195.4 532.3L2196.4 531.1L2197.4 529.2L2198.4 526.8L2199.4 523.8L2200.4 519.8L2201.4 514.5L2202.4 507.9L2203.4 498.8L2204.4 490.1L2205.4 481.9L2206.4 473.8L2207.4 465.8L2208.4 458.7L2209.4 451.6L2210.4 444.1L2211.4 438.7L2212.4 434.9L2213.4 431.5L2214.4 427.7L2215.4 423.9L2216.4 421.4L2217.4 420.2L2218.4 419.6L2219.4 419.0L2220.4 420.0L2221.4 420.1L2222.4 419.6L2223.4 418.8L2224.4 418.1L2225.4 417.3L2226.4 416.2L2227.4 415.5L2228.4 415.3L2229.4 415.5L2230.4 417.0L2231.4 417.8L2232.4 416.5L2233.4 415.4L2234.4 414.8L2235.4 414.8L2236.4 413.5L2237.4 412.4L2238.4 410.2L2239.4 407.6L2240.4 403.8L2241.4 398.6L2242.4 394.7L2243.4 390.9L2244.4 385.5L2245.4 380.5L2246.4 372.6" stroke="#000000" stroke-width="5.5" fill="none" stroke-linejoin="round" stroke-linecap="round"/>
<path d="M219.8 992.8L220.8 992.2L221.8 991.7L222.8 991.0L223.8 990.4L224.8 989.7L225.8 988.9L226.8 987.8L227.8 986.6L228.8 985.6L229.8 984.5L230.8 983.3L231.8 982.1L232.8 980.9L233.8 980.0L234.8 979.2L235.8 978.2L236.8 977.5L237.8 976.9L238.8 976.4L239.8 976.0L240.8 975.6L241.8 975.1L242.8 974.5L243.8 974.0L244.8 973.5L245.8 972.8L246.8 972.6L247.8 972.1L248.8 971.4L249.8 971.0L250.8 970.5L251.8 969.7L252.8 969.0L253.8 968.3L254.8 967.2L255.8 966.3L256.8 965.3L257.8 964.1L258.8 963.1L259.8 961.8L260.8 960.5L261.8 959.1L262.8 957.8L263.8 956.3L264.8 954.6L265.8 953.2L266.8 951.6L267.8 950.0L268.8 948.1L269.8 945.9L270.8 943.7L271.8 941.3L272.8 938.9L273.8 936.1L274.8 933.4L275.8 929.8L276.8 926.2L277.8 922.9L278.8 919.7L279.8 916.9L280.8 913.7L281.8 910.7L282.8 907.5L283.8 904.3L284.8 901.3L285.8 898.8L286.8 896.6L287.8 894.9L288.8 894.4L289.8 894.3L290.8 893.8L291.8 893.4L292.8 892.7L293.8 892.3L294.8 891.8L295.8 892.1L296.8 892.4L297.8 892.5L298.8 892.3L299.8 891.7L300.8 891.4L301.8 891.0L302.8 890.6L303.8 890.6L304.8 890.0L305.8 888.6L306.8 886.8L307.8 884.7L308.8 881.5L309.8 877.9L310.8 874.8L311.8 871.9L312.8 868.9L313.8 865.9L314.8 863.0L315.8 859.7L316.8 856.6L317.8 853.0L318.8 849.8L319.8 846.4L320.8 842.7L321.8 839.3L322.8 836.1L323.8 832.8L324.8 830.2L325.8 828.1L326.8 825.8L327.8 824.3L328.8 823.0L329.8 822.7L330.8 822.6L331.8 822.9L332.8 823.0L333.8 822.5L334.8 822.2L335.8 821.9L336.8 820.9L337.8 820.4L338.8 820.1L339.8 820.1L340.8 820.7L341.8 821.1L342.8 821.3L343.8 821.6L344.8 821.5L345.8 821.0L346.8 821.0L347.8 820.1L348.8 819.3L349.8 817.4L350.8 815.1L351.8 812.7L352.8 810.6L353.8 809.3L354.8 807.7L355.8 806.3L356.8 805.4L357.8 804.4L358.8 803.3L359.8 801.9L360.8 800.2L361.8 798.7L362.8 797.2L363.8 795.4L364.8 793.9L365.8 792.4L366.8 790.5L367.8 789.1L368.8 787.6L369.8 786.5L370.8 785.7L371.8 785.4L372.8 785.3L373.8 785.5L374.8 786.2L375.8 787.4L376.8 789.5L377.8 791.7L378.8 794.3L379.8 797.5L380.8 801.1L381.8 804.8L382.8 808.7L383.8 812.5L384.8 816.1L385.8 819.7L386.8 823.5L387.8 826.8L388.8 830.1L389.8 833.3L390.8 836.4L391.8 839.6L392.8 842.8L393.8 845.7L394.8 848.6L395.8 851.4L396.8 853.7L397.8 856.2L398.8 858.3L399.8 860.8L400.8 862.8L401.8 864.5L402.8 865.6L403.8 866.9L404.8 868.3L405.8 869.6L406.8 870.3L407.8 870.9L408.8 871.5L409.8 871.8L410.8 872.3L411.8 872.8L412.8 872.9L413.8 873.0L414.8 873.2L415.8 873.3L416.8 873.2L417.8 873.1L418.8 872.8L419.8 872.0L420.8 871.8L421.8 871.8L422.8 872.3L423.8 873.4L424.8 874.7L425.8 876.5L426.8 878.8L427.8 881.9L428.8 885.3L429.8 889.0L430.8 892.0L431.8 894.6L432.8 897.3L433.8 899.9L434.8 902.2L435.8 903.8L436.8 905.5L437.8 906.7L438.8 907.8L439.8 908.5L440.8 908.9L441.8 909.4L442.8 909.7L443.8 909.6L444.8 909.3L445.8 908.9L446.8 908.4L447.8 907.2L448.8 905.9L449.8 904.4L450.8 902.9L451.8 901.9L452.8 901.1L453.8 900.1L454.8 898.9L455.8 898.2L456.7 897.5L457.7 896.9L458.7 896.4L459.7 896.0L460.7 895.5L461.7 894.9L462.7 894.3L463.7 893.7L464.7 892.9L465.7 892.0L466.7 891.2L467.7 890.9L468.7 890.2L469.7 889.8L470.7 889.8L471.7 889.4L472.7 889.3L473.7 889.3L474.7 889.2L475.7 889.2L476.7 888.9L477.7 888.4L478.7 888.2L479.7 888.0L480.7 887.7L481.7 887.2L482.7 886.8L483.7 886.3L484.7 886.2L485.7 885.7L486.7 885.3L487.7 884.8L488.7 884.4L489.7 883.7L490.7 882.8L491.7 882.4L492.7 881.6L493.7 881.1L494.7 880.9L495.7 880.6L496.7 880.7L497.7 881.2L498.7 881.7L499.7 882.4L500.7 883.5L501.7 884.8L502.7 886.2L503.7 887.8L504.7 889.3L505.7 891.4L506.7 893.4L507.7 895.3L508.7 897.4L509.7 899.5L510.7 901.8L511.7 903.8L512.7 905.6L513.7 907.3L514.7 909.0L515.7 910.8L516.7 912.2L517.7 913.8L518.7 915.2L519.7 916.7L520.7 917.7L521.7 918.8L522.7 919.9L523.7 920.7L524.7 921.2L525.7 921.5L526.7 921.7L527.7 921.8L528.7 922.0L529.7 922.4L530.7 922.3L531.7 922.1L532.7 921.9L533.7 921.6L534.7 921.1L535.7 920.5L536.7 920.2L537.7 919.4L538.7 918.8L539.7 918.0L540.7 917.2L541.7 916.3L542.7 915.6L543.7 915.0L544.7 914.6L545.7 914.3L546.7 914.2L547.7 914.7L548.7 915.1L549.7 915.4L550.7 916.2L551.7 917.1L552.7 918.4L553.7 919.7L554.7 921.4L555.7 923.2L556.7 924.6L557.7 926.4L558.7 928.0L559.7 929.5L560.7 931.2L561.7 932.9L562.7 934.2L563.7 935.5L564.7 936.5L565.7 937.7L566.7 938.2L567.7 938.5L568.7 938.9L569.7 939.3L570.7 939.4L571.7 939.1L572.7 938.7L573.7 938.2L574.7 937.6L575.7 937.0L576.7 936.2L577.7 935.1L578.7 933.9L579.7 932.8L580.7 931.5L581.7 930.0L582.7 928.6L583.7 927.1L584.7 925.9L585.7 924.6L586.7 923.5L587.7 922.2L588.7 920.7L589.7 919.2L590.7 917.8L591.7 916.6L592.7 915.2L593.7 913.9L594.7 912.6L595.7 911.2L596.7 910.1L597.7 909.3L598.7 908.3L599.7 907.4L600.7 906.7L601.7 906.2L602.7 905.6L603.7 905.5L604.7 905.2L605.7 904.9L606.7 904.7L607.7 905.1L608.7 905.4L609.7 905.6L610.7 906.2L611.7 906.9L612.7 907.8L613.7 908.5L614.7 909.2L615.7 909.9L616.7 911.0L617.7 911.8L618.7 913.1L619.7 914.1L620.7 915.2L621.7 916.0L622.7 917.1L623.7 918.2L624.7 919.0L625.7 920.2L626.7 921.2L627.7 921.7L628.7 922.2L629.7 922.9L630.7 923.2L631.7 923.4L632.7 923.4L633.7 923.6L634.7 923.6L635.7 923.6L636.7 923.3L637.7 923.2L638.7 922.6L639.7 922.4L640.7 921.9L641.7 921.5L642.7 921.1L643.7 920.4L644.7 920.0L645.7 919.2L646.7 918.6L647.7 918.2L648.7 917.7L649.7 917.5L650.7 917.3L651.7 917.5L652.7 917.8L653.7 918.1L654.7 918.7L655.7 919.4L656.7 920.1L657.7 920.6L658.7 921.5L659.7 922.3L660.7 923.4L661.7 924.5L662.7 925.3L663.7 926.5L664.7 927.6L665.7 928.6L666.7 929.5L667.7 930.5L668.7 931.5L669.7 932.3L670.7 933.1L671.7 933.6L672.7 934.1L673.7 934.5L674.7 934.7L675.7 934.8L676.7 934.8L677.7 934.7L678.7 934.8L679.7 934.8L680.7 934.6L681.7 934.3L682.7 934.2L683.7 933.8L684.7 933.5L685.7 933.1L686.7 932.7L687.7 932.3L688.7 932.0L689.7 931.6L690.7 931.4L691.7 931.0L692.7 930.4L693.7 930.1L694.7 929.9L695.7 929.5L696.7 929.4L697.7 929.3L698.7 929.1L699.7 928.9L700.7 928.8L701.7 928.5L702.7 928.4L703.7 928.5L704.7 928.3L705.7 928.3L706.7 928.3L707.7 928.1L708.7 928.0L709.7 927.8L710.7 927.5L711.7 927.4L712.7 927.1L713.7 926.9L714.7 926.5L715.7 926.6L716.7 926.5L717.7 926.3L718.7 925.7L719.7 925.5L720.7 925.1L721.7 924.8L722.7 924.6L723.7 923.9L724.7 923.5L725.7 923.1L726.7 922.7L727.7 922.2L728.7 921.5L729.7 920.6L730.7 919.8L731.7 918.8L732.7 918.0L733.7 917.0L734.7 915.8L735.7 914.5L736.7 913.0L737.7 911.9L738.7 910.9L739.7 909.6L740.7 908.7L741.7 907.9L742.7 907.1L743.7 906.3L744.7 905.5L745.7 904.7L746.7 904.1L747.7 903.6L748.7 903.3L749.7 903.0L750.7 902.8L751.7 902.7L752.7 902.5L753.7 902.4L754.7 902.6L755.7 902.3L756.7 902.5L757.7 902.6L758.7 902.5L759.7 902.6L760.7 902.3L761.7 901.9L762.7 901.6L763.7 901.3L764.7 900.8L765.7 900.3L766.7 899.8L767.7 899.5L768.7 899.1L769.7 898.9L770.7 898.4L771.7 898.2L772.7 898.1L773.7 897.9L774.7 897.9L775.7 898.3L776.7 898.6L777.7 899.2L778.7 900.1L779.7 901.1L780.7 902.5L781.7 904.1L782.7 905.7L783.7 907.2L784.7 908.8L785.7 910.5L786.7 912.1L787.7 913.8L788.7 915.4L789.7 917.1L790.7 919.0L791.7 920.4L792.7 921.9L793.7 923.6L794.7 925.0L795.7 926.4L796.7 927.6L797.7 928.4L798.7 929.0L799.7 929.4L800.7 929.5L801.7 929.6L802.7 929.6L803.7 929.8L804.7 929.7L805.7 929.8L806.7 929.8L807.7 929.6L808.7 929.2L809.7 929.0L810.7 928.7L811.7 928.6L812.7 928.2L813.7 927.8L814.7 927.4L815.7 926.5L816.7 925.8L817.7 925.5L818.7 925.5L819.7 926.1L820.7 926.9L821.7 927.3L822.7 927.8L823.7 928.3L824.7 929.0L825.7 929.6L826.7 930.3L827.7 931.3L828.7 932.2L829.7 932.9L830.7 933.7L831.7 934.7L832.7 935.7L833.7 936.9L834.7 937.8L835.7 939.3L836.7 940.7L837.7 941.8L838.7 942.7L839.7 943.0L840.7 943.1L841.7 943.3L842.7 943.7L843.7 944.4L844.7 946.0L845.7 947.8L846.7 949.8L847.7 951.9L848.7 954.7L849.7 958.1L850.7 962.5L851.7 966.3L852.7 970.2L853.7 974.0L854.7 977.8L855.7 982.0L856.7 986.9L857.7 991.8L858.7 997.2L859.7 1003.0L860.7 1009.2L861.7 1015.5L862.7 1021.3L863.7 1026.3L864.7 1030.3L865.7 1033.8L866.7 1036.5L867.7 1038.8L868.7 1040.4L869.7 1041.1L870.7 1040.5L871.7 1040.0L872.7 1039.4L873.7 1038.9L874.7 1038.7L875.7 1038.0L876.7 1036.8L877.7 1035.2L878.7 1033.2L879.7 1030.9L880.7 1028.3L881.7 1025.3L882.7 1022.4L883.7 1019.5L884.7 1016.7L885.7 1013.8L886.7 1011.3L887.7 1008.7L888.7 1006.0L889.7 1003.6L890.7 1001.4L891.7 999.5L892.7 997.3L893.7 994.5L894.7 991.2L895.7 988.0L896.7 985.0L897.7 982.4L898.7 980.2L899.7 978.0L900.7 975.3L901.7 972.8L902.7 970.7L903.7 968.9L904.7 967.2L905.7 965.7L906.7 964.4L907.7 963.3L908.7 962.3L909.7 961.5L910.7 960.5L911.7 959.8L912.7 959.6L913.7 959.8L914.7 960.7L915.7 961.4L916.7 961.6L917.7 961.9L918.7 961.8L919.7 961.8L920.7 962.2L921.7 962.8L922.7 963.1L923.7 963.9L924.7 964.8L925.7 965.8L926.7 966.7L927.7 967.3L928.7 967.7L929.7 968.1L930.7 968.6L931.7 968.8L932.7 969.1L933.7 969.1L934.7 969.2L935.7 969.2L936.7 969.5L937.7 969.5L938.7 969.7L939.7 970.0L940.7 970.5L941.7 971.0L942.7 971.9L943.7 972.6L944.7 973.5L945.7 974.3L946.7 975.1L947.7 976.0L948.7 977.1L949.7 978.2L950.7 979.1L951.7 979.8L952.7 980.4L953.7 981.0L954.7 981.3L955.7 981.7L956.7 981.6L957.7 981.7L958.7 981.6L959.7 981.1L960.7 980.3L961.7 979.4L962.7 978.2L963.7 976.4L964.7 974.5L965.7 972.7L966.7 970.7L967.7 968.8L968.6 967.0L969.6 964.9L970.6 963.1L971.6 961.3L972.6 960.0L973.6 958.3L974.6 956.9L975.6 955.5L976.6 954.5L977.6 953.4L978.6 952.3L979.6 951.1L980.6 950.1L981.6 949.0L982.6 947.9L983.6 947.1L984.6 946.1L985.6 945.0L986.6 944.1L987.6 943.1L988.6 942.1L989.6 941.5L990.6 940.8L991.6 940.2L992.6 939.2L993.6 938.3L994.6 937.3L995.6 936.2L996.6 934.8L997.6 933.6L998.6 932.1L999.6 930.6L1000.6 929.1L1001.6 927.6L1002.6 926.2L1003.6 924.5L1004.6 923.0L1005.6 921.5L1006.6 919.9L1007.6 918.4L1008.6 917.2L1009.6 916.1L1010.6 914.8L1011.6 913.6L1012.6 912.6L1013.6 911.8L1014.6 910.8L1015.6 910.2L1016.6 909.5L1017.6 908.5L1018.6 907.6L1019.6 907.1L1020.6 906.3L1021.6 905.6L1022.6 904.9L1023.6 904.2L1024.6 903.5L1025.6 902.8L1026.6 902.1L1027.6 901.4L1028.6 900.5L1029.6 899.0L1030.6 897.6L1031.6 895.9L1032.6 894.2L1033.6 892.1L1034.6 890.2L1035.6 887.8L1036.6 885.4L1037.6 883.1L1038.6 880.8L1039.6 878.1L1040.6 875.4L1041.6 872.9L1042.6 870.3L1043.6 867.6L1044.6 864.7L1045.6 862.0L1046.6 859.3L1047.6 856.4L1048.6 853.2L1049.6 850.3L1050.6 847.3L1051.6 844.3L1052.6 840.9L1053.6 837.8L1054.6 834.8L1055.6 831.6L1056.6 828.4L1057.6 824.9L1058.6 821.5L1059.6 818.0L1060.6 814.3L1061.6 810.6L1062.6 806.7L1063.6 803.0L1064.6 799.8L1065.6 796.8L1066.6 794.1L1067.6 791.4L1068.6 789.0L1069.6 787.4L1070.6 786.0L1071.6 785.1L1072.6 785.0L1073.6 785.0L1074.6 785.3L1075.6 785.7L1076.6 786.6L1077.6 788.2L1078.6 789.8L1079.6 791.8L1080.6 793.5L1081.6 794.9L1082.6 796.0L1083.6 796.7L1084.6 796.7L1085.6 796.3L1086.6 795.7L1087.6 795.4L1088.6 795.0L1089.6 794.2L1090.6 793.1L1091.6 791.7L1092.6 790.1L1093.6 788.4L1094.6 786.2L1095.6 784.2L1096.6 782.0L1097.6 779.3L1098.6 776.7L1099.6 773.8L1100.6 771.8L1101.6 770.1L1102.6 769.0L1103.6 767.8L1104.6 767.3L1105.6 767.0L1106.6 766.9L1107.6 766.8L1108.6 766.8L1109.6 767.3L1110.6 767.3L1111.6 767.0L1112.6 766.2L1113.6 764.8L1114.6 763.6L1115.6 762.1L1116.6 760.3L1117.6 758.7L1118.6 756.6L1119.6 754.3L1120.6 752.1L1121.6 749.6L1122.6 747.0L1123.6 744.7L1124.6 742.2L1125.6 739.4L1126.6 736.3L1127.6 733.1L1128.6 730.3L1129.6 727.2L1130.6 725.0L1131.6 722.5L1132.6 720.0L1133.6 717.9L1134.6 715.6L1135.6 712.9L1136.6 710.5L1137.6 708.1L1138.6 705.9L1139.6 703.6L1140.6 701.0L1141.6 698.5L1142.6 695.7L1143.6 692.9L1144.6 689.9L1145.6 686.9L1146.6 683.9L1147.6 680.6L1148.6 676.7L1149.6 672.2L1150.6 667.2L1151.6 662.8L1152.6 658.7L1153.6 654.5L1154.6 650.5L1155.6 646.4L1156.6 643.0L1157.6 639.2L1158.6 636.0L1159.6 633.1L1160.6 630.6L1161.6 628.3L1162.6 625.8L1163.6 623.4L1164.6 621.5L1165.6 619.8L1166.6 618.2L1167.6 616.5L1168.6 615.0L1169.6 613.7L1170.6 612.3L1171.6 610.9L1172.6 609.2L1173.6 607.9L1174.6 606.4L1175.6 605.4L1176.6 603.5L1177.6 601.7L1178.6 600.0L1179.6 598.6L1180.6 597.2L1181.6 596.5L1182.6 597.2L1183.6 598.3L1184.6 600.0L1185.6 602.0L1186.6 604.5L1187.6 607.5L1188.6 610.6L1189.6 613.7L1190.6 616.9L1191.6 619.6L1192.6 622.8L1193.6 625.5L1194.6 628.4L1195.6 630.9L1196.6 633.9L1197.6 636.6L1198.6 638.8L1199.6 640.4L1200.6 641.6L1201.6 641.9L1202.6 641.3L1203.6 640.5L1204.6 638.5L1205.6 636.5L1206.6 633.9L1207.6 630.8L1208.6 627.8L1209.6 625.1L1210.6 622.7L1211.6 621.0L1212.6 619.7L1213.6 618.7L1214.6 618.6L1215.6 619.1L1216.6 619.8L1217.6 620.5L1218.6 621.2L1219.6 622.4L1220.6 623.6L1221.6 624.6L1222.6 625.7L1223.6 626.6L1224.6 627.6L1225.6 628.6L1226.6 630.0L1227.6 631.3L1228.6 632.7L1229.6 633.5L1230.6 634.5L1231.6 635.1L1232.6 635.4L1233.6 635.8L1234.6 635.4L1235.6 634.7L1236.6 633.6L1237.6 632.7L1238.6 632.1L1239.6 631.3L1240.6 630.4L1241.6 629.6L1242.6 628.9L1243.6 627.3L1244.6 626.0L1245.6 624.6L1246.6 622.5L1247.6 620.9L1248.6 619.0L1249.6 617.3L1250.6 615.5L1251.6 614.4L1252.6 613.4L1253.6 612.5L1254.6 611.2L1255.6 609.8L1256.6 608.5L1257.6 606.9L1258.6 605.1L1259.6 603.5L1260.6 601.9L1261.6 600.4L1262.6 598.7L1263.6 597.7L1264.6 596.7L1265.6 595.5L1266.6 595.0L1267.6 594.5L1268.6 594.2L1269.6 594.3L1270.6 594.1L1271.6 593.1L1272.6 592.4L1273.6 591.7L1274.6 590.7L1275.6 589.9L1276.6 589.0L1277.6 588.2L1278.6 587.7L1279.6 586.2L1280.6 585.2L1281.6 584.8L1282.6 584.7L1283.6 584.9L1284.6 585.1L1285.6 585.6L1286.6 586.0L1287.6 586.2L1288.6 586.6L1289.6 586.8L1290.6 587.2L1291.6 588.3L1292.6 589.1L1293.6 589.4L1294.6 590.2L1295.6 591.0L1296.6 591.5L1297.6 592.8L1298.6 593.8L1299.6 594.9L1300.6 595.8L1301.6 596.5L1302.6 596.7L1303.6 596.6L1304.6 596.2L1305.6 595.6L1306.6 594.6L1307.6 594.1L1308.6 593.4L1309.6 592.5L1310.6 591.6L1311.6 590.3L1312.6 589.3L1313.6 588.5L1314.6 588.0L1315.6 588.1L1316.6 588.6L1317.6 588.9L1318.6 589.4L1319.6 590.9L1320.6 592.1L1321.6 592.6L1322.6 593.4L1323.6 593.9L1324.6 594.8L1325.6 595.3L1326.6 595.4L1327.6 595.5L1328.6 595.3L1329.6 595.5L1330.6 595.4L1331.6 595.6L1332.6 595.3L1333.6 594.8L1334.6 594.3L1335.6 593.4L1336.6 592.8L1337.6 592.2L1338.6 591.5L1339.6 590.2L1340.6 589.2L1341.6 589.1L1342.6 588.9L1343.6 589.2L1344.6 589.6L1345.6 590.8L1346.6 592.5L1347.6 594.0L1348.6 595.5L1349.6 597.1L1350.6 598.6L1351.6 599.7L1352.6 601.2L1353.6 602.6L1354.6 603.8L1355.6 605.2L1356.6 606.4L1357.6 606.8L1358.6 607.3L1359.6 607.8L1360.6 608.2L1361.6 608.0L1362.6 607.7L1363.6 607.2L1364.6 606.2L1365.6 604.7L1366.6 603.5L1367.6 602.4L1368.6 601.0L1369.6 599.7L1370.6 598.7L1371.6 597.9L1372.6 596.9L1373.6 596.6L1374.6 596.7L1375.6 597.5L1376.6 599.0L1377.6 601.1L1378.6 604.4L1379.6 608.7L1380.6 612.9L1381.6 617.0L1382.6 621.5L1383.6 626.4L1384.6 631.3L1385.6 636.1L1386.6 641.7L1387.6 647.5L1388.6 653.6L1389.6 660.2L1390.6 667.2L1391.6 674.7L1392.6 682.0L1393.6 688.6L1394.6 694.2L1395.6 698.8L1396.6 702.4L1397.6 705.5L1398.6 707.4L1399.6 708.5L1400.6 709.1L1401.6 710.0L1402.6 710.6L1403.6 710.9L1404.6 711.2L1405.6 711.8L1406.6 711.6L1407.6 711.1L1408.6 710.2L1409.6 708.5L1410.6 706.6L1411.6 704.7L1412.6 703.5L1413.6 702.8L1414.6 703.0L1415.6 704.0L1416.6 705.3L1417.6 707.1L1418.6 709.1L1419.6 710.8L1420.6 712.9L1421.6 715.3L1422.6 717.7L1423.6 719.9L1424.6 722.5L1425.6 725.2L1426.6 727.6L1427.6 730.0L1428.6 732.6L1429.6 735.6L1430.6 738.2L1431.6 740.5L1432.6 742.4L1433.6 744.1L1434.6 745.4L1435.6 746.1L1436.6 746.3L1437.6 746.5L1438.6 746.6L1439.6 747.0L1440.6 747.6L1441.6 747.6L1442.6 747.7L1443.6 748.3L1444.6 748.5L1445.6 748.3L1446.6 748.3L1447.6 748.1L1448.6 747.6L1449.6 746.5L1450.6 745.3L1451.6 743.9L1452.6 742.3L1453.6 740.6L1454.6 739.0L1455.6 737.1L1456.6 735.3L1457.6 733.8L1458.6 731.7L1459.6 729.6L1460.6 727.6L1461.6 725.7L1462.6 723.8L1463.6 721.8L1464.6 720.0L1465.6 718.3L1466.6 716.8L1467.6 715.5L1468.6 714.3L1469.6 713.8L1470.6 713.2L1471.6 713.3L1472.6 713.1L1473.6 713.4L1474.6 713.5L1475.6 714.1L1476.6 715.1L1477.6 716.0L1478.6 717.6L1479.5 718.7L1480.5 719.3L1481.5 720.4L1482.5 722.2L1483.5 724.4L1484.5 727.2L1485.5 730.3L1486.5 733.5L1487.5 737.1L1488.5 741.1L1489.5 745.2L1490.5 749.6L1491.5 753.7L1492.5 758.6L1493.5 763.5L1494.5 769.6L1495.5 775.7L1496.5 781.3L1497.5 786.6L1498.5 791.6L1499.5 796.8L1500.5 802.9L1501.5 809.0L1502.5 814.6L1503.5 820.3L1504.5 825.9L1505.5 830.7L1506.5 834.9L1507.5 838.5L1508.5 841.8L1509.5 844.5L1510.5 846.8L1511.5 849.4L1512.5 851.6L1513.5 853.9L1514.5 855.2L1515.5 856.5L1516.5 858.2L1517.5 860.0L1518.5 862.2L1519.5 865.1L1520.5 867.8L1521.5 870.0L1522.5 872.0L1523.5 873.5L1524.5 874.9L1525.5 877.1L1526.5 879.0L1527.5 880.6L1528.5 881.1L1529.5 881.9L1530.5 882.5L1531.5 881.7L1532.5 880.4L1533.5 877.9L1534.5 874.8L1535.5 872.1L1536.5 869.5L1537.5 867.2L1538.5 864.6L1539.5 861.7L1540.5 858.5L1541.5 855.3L1542.5 852.0L1543.5 848.8L1544.5 845.4L1545.5 841.9L1546.5 838.9L1547.5 836.6L1548.5 835.5L1549.5 834.5L1550.5 833.6L1551.5 833.4L1552.5 833.9L1553.5 835.0L1554.5 836.6L1555.5 837.1L1556.5 837.4L1557.5 837.5L1558.5 837.4L1559.5 837.0L1560.5 836.9L1561.5 836.4L1562.5 835.7L1563.5 834.8L1564.5 833.6L1565.5 832.2L1566.5 830.4L1567.5 828.2L1568.5 826.1L1569.5 824.2L1570.5 822.4L1571.5 821.0L1572.5 819.6L1573.5 818.2L1574.5 816.9L1575.5 816.5L1576.5 816.1L1577.5 815.6L1578.5 815.8L1579.5 816.3L1580.5 816.7L1581.5 816.8L1582.5 817.8L1583.5 818.2L1584.5 818.9L1585.5 820.1L1586.5 821.8L1587.5 823.8L1588.5 825.5L1589.5 827.3L1590.5 829.1L1591.5 830.5L1592.5 832.4L1593.5 834.1L1594.5 835.6L1595.5 836.6L1596.5 837.8L1597.5 838.9L1598.5 839.6L1599.5 840.0L1600.5 840.3L1601.5 841.3L1602.5 841.5L1603.5 842.5L1604.5 843.4L1605.5 843.7L1606.5 844.0L1607.5 844.1L1608.5 844.4L1609.5 844.2L1610.5 843.6L1611.5 843.3L1612.5 842.1L1613.5 841.1L1614.5 840.2L1615.5 839.2L1616.5 838.1L1617.5 836.9L1618.5 835.8L1619.5 835.1L1620.5 834.2L1621.5 833.3L1622.5 832.6L1623.5 831.9L1624.5 831.1L1625.5 830.9L1626.5 830.8L1627.5 830.7L1628.5 830.5L1629.5 830.6L1630.5 830.9L1631.5 831.3L1632.5 831.9L1633.5 832.5L1634.5 833.1L1635.5 833.7L1636.5 834.2L1637.5 834.7L1638.5 835.1L1639.5 835.2L1640.5 835.7L1641.5 835.9L1642.5 836.1L1643.5 836.4L1644.5 836.2L1645.5 835.7L1646.5 835.0L1647.5 834.5L1648.5 834.2L1649.5 833.5L1650.5 832.8L1651.5 832.0L1652.5 831.0L1653.5 830.3L1654.5 829.2L1655.5 827.9L1656.5 827.1L1657.5 826.4L1658.5 825.0L1659.5 823.9L1660.5 822.6L1661.5 821.3L1662.5 819.8L1663.5 818.3L1664.5 817.2L1665.5 816.0L1666.5 815.0L1667.5 813.6L1668.5 812.4L1669.5 810.9L1670.5 809.6L1671.5 807.8L1672.5 806.5L1673.5 805.1L1674.5 803.8L1675.5 803.0L1676.5 801.5L1677.5 800.1L1678.5 799.1L1679.5 797.9L1680.5 796.8L1681.5 795.8L1682.5 794.9L1683.5 793.8L1684.5 792.3L1685.5 791.0L1686.5 789.4L1687.5 788.0L1688.5 786.5L1689.5 785.0L1690.5 783.2L1691.5 781.6L1692.5 779.7L1693.5 777.4L1694.5 775.3L1695.5 773.1L1696.5 770.8L1697.5 768.8L1698.5 766.5L1699.5 764.3L1700.5 761.9L1701.5 759.8L1702.5 757.7L1703.5 755.9L1704.5 754.2L1705.5 752.4L1706.5 750.5L1707.5 748.7L1708.5 747.6L1709.5 746.6L1710.5 746.8L1711.5 747.3L1712.5 747.7L1713.5 748.1L1714.5 748.5L1715.5 748.6L1716.5 748.9L1717.5 748.8L1718.5 748.8L1719.5 748.8L1720.5 749.0L1721.5 748.5L1722.5 748.3L1723.5 747.9L1724.5 748.0L1725.5 748.1L1726.5 748.6L1727.5 748.9L1728.5 748.6L1729.5 748.8L1730.5 748.3L1731.5 747.4L1732.5 747.4L1733.5 748.1L1734.5 748.4L1735.5 749.7L1736.5 751.0L1737.5 752.7L1738.5 754.8L1739.5 757.0L1740.5 759.6L1741.5 762.6L1742.5 765.2L1743.5 767.9L1744.5 770.1L1745.5 772.3L1746.5 774.6L1747.5 776.5L1748.5 778.7L1749.5 780.6L1750.5 782.7L1751.5 785.1L1752.5 786.8L1753.5 788.6L1754.5 791.0L1755.5 793.0L1756.5 795.4L1757.5 797.5L1758.5 799.6L1759.5 802.5L1760.5 804.7L1761.5 806.6L1762.5 808.3L1763.5 809.7L1764.5 811.0L1765.5 812.4L1766.5 813.4L1767.5 814.7L1768.5 815.5L1769.5 816.4L1770.5 816.6L1771.5 817.2L1772.5 817.5L1773.5 817.3L1774.5 817.1L1775.5 816.9L1776.5 816.4L1777.5 815.9L1778.5 815.2L1779.5 813.9L1780.5 812.7L1781.5 811.8L1782.5 811.4L1783.5 811.2L1784.5 811.0L1785.5 811.0L1786.5 811.1L1787.5 811.1L1788.5 811.5L1789.5 811.8L1790.5 812.0L1791.5 812.0L1792.5 812.3L1793.5 812.4L1794.5 812.5L1795.5 812.2L1796.5 811.5L1797.5 810.9L1798.5 810.1L1799.5 809.1L1800.5 808.0L1801.5 807.0L1802.5 805.6L1803.5 804.4L1804.5 802.9L1805.5 801.4L1806.5 799.8L1807.5 798.3L1808.5 796.6L1809.5 794.8L1810.5 793.0L1811.5 791.3L1812.5 789.3L1813.5 787.4L1814.5 785.6L1815.5 783.9L1816.5 782.0L1817.5 780.3L1818.5 778.5L1819.5 776.9L1820.5 775.5L1821.5 774.1L1822.5 772.8L1823.5 771.3L1824.5 770.2L1825.5 768.8L1826.5 767.5L1827.5 766.1L1828.5 764.8L1829.5 763.5L1830.5 761.9L1831.5 760.2L1832.5 758.6L1833.5 757.0L1834.5 755.3L1835.5 753.3L1836.5 751.7L1837.5 750.1L1838.5 748.2L1839.5 746.4L1840.5 744.3L1841.5 742.3L1842.5 740.2L1843.5 738.7L1844.5 736.8L1845.5 735.0L1846.5 733.5L1847.5 732.1L1848.5 730.8L1849.5 729.7L1850.5 729.2L1851.5 728.5L1852.5 728.2L1853.5 727.6L1854.5 726.9L1855.5 726.2L1856.5 725.7L1857.5 724.9L1858.5 724.4L1859.5 723.5L1860.5 723.1L1861.5 722.6L1862.5 722.2L1863.5 721.4L1864.5 721.2L1865.5 721.0L1866.5 720.7L1867.5 720.4L1868.5 720.3L1869.5 720.3L1870.5 720.2L1871.5 720.4L1872.5 720.6L1873.5 721.4L1874.5 722.6L1875.5 724.2L1876.5 726.0L1877.5 727.6L1878.5 729.0L1879.5 730.9L1880.5 732.1L1881.5 733.3L1882.5 734.4L1883.5 735.4L1884.5 736.2L1885.5 736.7L1886.5 737.3L1887.5 737.3L1888.5 737.1L1889.5 736.5L1890.5 735.6L1891.5 734.5L1892.5 733.0L1893.5 731.1L1894.5 729.0L1895.5 727.0L1896.5 724.8L1897.5 722.9L1898.5 721.2L1899.5 719.4L1900.5 718.1L1901.5 717.0L1902.5 715.6L1903.5 714.6L1904.5 713.5L1905.5 712.4L1906.5 711.4L1907.5 710.9L1908.5 709.9L1909.5 709.2L1910.5 708.3L1911.5 707.6L1912.5 707.2L1913.5 706.8L1914.5 706.6L1915.5 706.1L1916.5 705.6L1917.5 705.0L1918.5 704.7L1919.5 704.7L1920.5 704.4L1921.5 704.3L1922.5 704.7L1923.5 704.7L1924.5 704.6L1925.5 704.9L1926.5 705.2L1927.5 705.2L1928.5 705.6L1929.5 705.6L1930.5 706.3L1931.5 706.8L1932.5 707.3L1933.5 707.5L1934.5 707.7L1935.5 707.9L1936.5 708.3L1937.5 708.5L1938.5 708.7L1939.5 709.2L1940.5 709.5L1941.5 709.5L1942.5 709.7L1943.5 709.9L1944.5 710.9L1945.5 711.7L1946.5 712.3L1947.5 713.0L1948.5 714.1L1949.5 715.7L1950.5 716.8L1951.5 718.1L1952.5 719.0L1953.5 720.2L1954.5 721.0L1955.5 721.7L1956.5 722.5L1957.5 723.1L1958.5 723.9L1959.5 723.8L1960.5 723.8L1961.5 723.7L1962.5 723.5L1963.5 723.0L1964.5 721.8L1965.5 720.4L1966.5 719.4L1967.5 718.1L1968.5 716.3L1969.5 714.8L1970.5 713.2L1971.5 711.4L1972.5 710.1L1973.5 708.8L1974.5 707.8L1975.5 707.0L1976.5 705.9L1977.5 705.0L1978.5 703.4L1979.5 702.4L1980.5 701.5L1981.5 700.4L1982.5 699.2L1983.5 697.9L1984.5 696.8L1985.5 695.8L1986.5 694.2L1987.5 692.8L1988.5 691.8L1989.5 690.2L1990.5 688.8L1991.4 687.3L1992.4 685.6L1993.4 684.0L1994.4 682.3L1995.4 680.8L1996.4 678.7L1997.4 677.2L1998.4 675.9L1999.4 674.5L2000.4 673.4L2001.4 672.5L2002.4 671.6L2003.4 671.6L2004.4 671.4L2005.4 671.4L2006.4 671.9L2007.4 672.9L2008.4 673.3L2009.4 674.3L2010.4 675.2L2011.4 676.6L2012.4 678.0L2013.4 679.5L2014.4 681.3L2015.4 683.0L2016.4 685.2L2017.4 687.3L2018.4 689.6L2019.4 691.7L2020.4 693.8L2021.4 695.8L2022.4 698.3L2023.4 700.4L2024.4 702.4L2025.4 704.0L2026.4 705.4L2027.4 706.4L2028.4 707.2L2029.4 707.9L2030.4 708.1L2031.4 708.0L2032.4 707.9L2033.4 707.4L2034.4 706.6L2035.4 705.5L2036.4 704.5L2037.4 703.1L2038.4 701.6L2039.4 700.1L2040.4 698.3L2041.4 696.9L2042.4 694.8L2043.4 692.8L2044.4 691.3L2045.4 690.0L2046.4 688.7L2047.4 687.4L2048.4 686.3L2049.4 685.5L2050.4 685.2L2051.4 685.0L2052.4 685.0L2053.4 685.3L2054.4 685.6L2055.4 686.4L2056.4 686.9L2057.4 687.7L2058.4 688.6L2059.4 689.7L2060.4 691.0L2061.4 691.9L2062.4 693.2L2063.4 694.1L2064.4 694.9L2065.4 695.6L2066.4 696.0L2067.4 697.0L2068.4 697.7L2069.4 697.8L2070.4 698.0L2071.4 697.9L2072.4 698.2L2073.4 697.9L2074.4 697.6L2075.4 697.0L2076.4 696.4L2077.4 695.8L2078.4 695.2L2079.4 694.2L2080.4 693.2L2081.4 692.3L2082.4 690.9L2083.4 689.9L2084.4 688.7L2085.4 687.3L2086.4 686.4L2087.4 685.2L2088.4 684.1L2089.4 683.0L2090.4 682.3L2091.4 681.3L2092.4 680.1L2093.4 679.1L2094.4 677.8L2095.4 676.9L2096.4 675.7L2097.4 674.4L2098.4 673.0L2099.4 672.0L2100.4 671.1L2101.4 670.1L2102.4 669.3L2103.4 668.4L2104.4 667.7L2105.4 667.3L2106.4 666.6L2107.4 666.2L2108.4 666.0L2109.4 665.9L2110.4 665.6L2111.4 666.6L2112.4 667.7L2113.4 669.0L2114.4 671.1L2115.4 673.9L2116.4 676.6L2117.4 679.2L2118.4 681.9L2119.4 684.6L2120.4 687.4L2121.4 690.1L2122.4 693.2L2123.4 695.8L2124.4 698.3L2125.4 700.7L2126.4 703.3L2127.4 705.3L2128.4 707.3L2129.4 709.3L2130.4 711.2L2131.4 711.6L2132.4 711.8L2133.4 711.5L2134.4 710.8L2135.4 709.1L2136.4 707.4L2137.4 705.6L2138.4 703.5L2139.4 701.1L2140.4 698.5L2141.4 696.0L2142.4 692.6L2143.4 689.7L2144.4 686.5L2145.4 683.6L2146.4 680.1L2147.4 677.1L2148.4 673.9L2149.4 670.9L2150.4 667.8L2151.4 665.1L2152.4 662.4L2153.4 659.9L2154.4 657.1L2155.4 655.0L2156.4 653.0L2157.4 651.3L2158.4 649.9L2159.4 648.9L2160.4 647.6L2161.4 646.3L2162.4 646.0L2163.4 645.5L2164.4 644.8L2165.4 643.8L2166.4 643.1L2167.4 642.3L2168.4 641.3L2169.4 640.3L2170.4 639.0L2171.4 637.7L2172.4 636.4L2173.4 634.8L2174.4 633.2L2175.4 631.1L2176.4 628.7L2177.4 625.9L2178.4 622.6L2179.4 618.8L2180.4 615.2L2181.4 610.9L2182.4 605.3L2183.4 600.0L2184.4 595.1L2185.4 590.2L2186.4 585.4L2187.4 580.4L2188.4 575.3L2189.4 570.0L2190.4 565.1L2191.4 560.7L2192.4 556.4L2193.4 553.4L2194.4 550.4L2195.4 547.0L2196.4 543.5L2197.4 539.8L2198.4 535.6L2199.4 531.5L2200.4 527.2L2201.4 523.1L2202.4 519.5L2203.4 515.4L2204.4 511.4L2205.4 507.1L2206.4 502.5L2207.4 497.5L2208.4 492.7L2209.4 487.7L2210.4 481.9L2211.4 476.6L2212.4 471.3L2213.4 465.0L2214.4 458.8L2215.4 452.7L2216.4 447.4L2217.4 442.7L2218.4 438.8L2219.4 434.9L2220.4 431.6L2221.4 428.9L2222.4 426.7L2223.4 424.5L2224.4 422.4L2225.4 420.1L2226.4 418.3L2227.4 417.5L2228.4 417.1L2229.4 417.1L2230.4 418.4L2231.4 419.0L2232.4 418.2L2233.4 417.4L2234.4 417.0L2235.4 416.9L2236.4 415.9L2237.4 415.3L2238.4 414.5L2239.4 413.6L2240.4 412.9L2241.4 411.1L2242.4 408.8L2243.4 406.8L2244.4 404.3L2245.4 402.2L2246.4 398.0" stroke="#226e2f" stroke-width="7" fill="none" stroke-linejoin="round" stroke-linecap="round"/>
<path d="M202.8 987.4V999.3M203.8 989.2V998.2M205.8 991.2V997.0M207.8 990.8V1001.6M208.8 994.4V1000.4M210.8 991.5V1002.7M215.8 987.6V997.0M216.8 984.8V994.8M217.8 986.8V991.0M218.8 981.8V989.5M219.8 980.4V989.5M220.8 976.6V988.1M226.8 968.3V981.8M227.8 967.2V977.3M228.8 968.5V979.1M230.8 965.7V980.1M231.8 968.7V979.9M232.8 970.6V975.1M233.8 968.1V978.1M235.8 966.8V979.7M240.8 966.5V977.8M241.8 969.7V975.2M242.8 966.1V973.7M243.8 963.9V971.1M245.8 961.1V977.4M247.8 963.5V968.7M248.8 960.7V968.0M249.8 955.1V970.5M251.8 956.1V964.6M252.8 954.3V960.5M253.8 952.3V961.4M254.8 954.3V962.3M257.8 951.2V958.7M260.8 943.8V950.3M261.8 939.6V952.2M263.8 934.1V950.6M265.8 935.2V940.4M267.8 931.7V937.5M268.8 921.3V934.5M269.8 917.0V927.1M270.8 917.4V923.0M271.8 905.2V924.5M276.8 879.7V891.0M277.8 878.8V889.6M283.8 867.0V884.7M284.8 864.2V879.3M286.8 885.3V899.2M287.8 891.6V903.6M289.8 911.2V935.4M290.8 904.5V925.1M293.8 888.0V904.5M294.8 886.4V899.0M295.8 885.7V895.7M296.8 883.1V894.6M297.8 882.4V890.8M298.8 880.1V891.6M299.8 877.1V889.9M300.8 878.5V884.1M302.8 867.9V881.4M304.8 860.4V877.2M305.8 857.0V866.1M306.8 855.0V865.0M308.8 847.7V860.0M311.8 835.0V849.3M312.8 827.7V845.0M313.8 829.0V842.7M314.8 830.1V839.6M316.8 820.0V830.3M318.8 813.0V826.3M320.8 798.5V817.1M322.8 799.5V813.2M325.8 808.1V821.6M326.8 809.1V819.9M327.8 807.8V827.6M331.8 839.5V854.2M332.8 836.4V850.6M333.8 819.0V840.0M334.8 820.7V829.1M335.8 811.6V828.6M336.8 796.5V825.1M339.8 805.3V826.2M343.8 810.8V819.7M344.8 807.6V815.9M345.8 806.5V819.5M346.8 801.4V816.7M347.8 803.4V815.2M349.8 799.6V811.9M350.8 795.7V811.2M351.8 794.1V805.9M353.8 789.9V802.2M354.8 787.0V800.9M356.8 776.4V797.7M358.8 782.5V793.7M359.8 782.4V794.3M360.8 776.6V789.0M361.8 779.9V788.1M362.8 780.7V791.8M363.8 773.5V788.8M364.8 768.6V780.9M371.8 783.3V796.1M373.8 790.5V806.9M374.8 792.6V810.1M376.8 805.6V830.8M379.8 837.4V852.8M383.8 849.3V866.5M384.8 847.3V855.8M385.8 848.4V854.7M386.8 841.9V853.6M389.8 839.4V848.8M390.8 841.8V850.1M391.8 839.6V860.8M392.8 850.5V861.7M393.8 854.2V864.4M395.8 860.1V874.3M397.8 873.7V883.3M399.8 884.7V925.5M401.8 888.9V896.1M402.8 878.3V895.9M403.8 874.5V887.3M404.8 874.8V881.9M405.8 869.2V881.1M406.8 861.3V878.6M408.8 850.5V860.5M409.8 845.5V859.0M413.8 859.0V866.8M414.8 857.6V872.3M418.8 870.8V886.0M419.8 877.1V886.5M420.8 877.7V891.4M421.8 887.1V896.7M422.8 890.9V898.5M424.8 898.4V909.1M426.8 909.5V917.8M428.8 913.4V938.4M433.8 911.8V916.9M434.8 909.4V916.6M437.8 901.2V909.7M438.8 898.4V905.6M442.8 897.7V906.0M444.8 898.5V904.4M445.8 897.6V906.3M446.8 897.8V905.8M447.8 891.4V903.7M448.8 893.5V900.8M451.8 886.0V901.6M452.8 892.7V902.9M454.8 887.8V900.8M455.8 886.0V896.4M456.7 889.1V899.9M457.7 887.6V896.3M458.7 888.1V892.7M460.7 887.2V890.6M461.7 886.9V892.8M463.7 884.4V892.9M464.7 870.4V892.3M466.7 876.9V889.4M468.7 877.7V890.2M469.7 880.7V892.2M470.7 884.8V891.5M472.7 886.9V901.1M474.7 886.5V899.5M476.7 883.9V892.8M480.7 882.0V889.0M483.7 875.0V884.7M485.7 874.7V885.9M486.7 872.7V880.9M487.7 869.6V882.0M490.7 864.5V877.2M493.7 878.9V885.0M495.7 883.1V890.6M497.7 888.2V893.2M498.7 885.9V900.4M499.7 889.6V900.2M503.7 903.0V913.8M505.7 910.2V936.4M506.7 911.4V920.0M508.7 911.5V918.7M509.7 904.5V923.9M513.7 904.8V922.9M515.7 918.1V924.1M519.7 921.5V931.0M522.7 924.2V934.7M526.7 916.9V930.3M528.7 913.8V921.6M529.7 917.0V928.4M530.7 914.7V926.8M532.7 910.7V922.5M533.7 909.6V915.5M534.7 907.2V916.4M536.7 907.1V915.3M537.7 905.8V915.1M542.7 908.5V923.6M543.7 911.3V918.9M544.7 907.7V920.0M545.7 911.2V923.3M546.7 911.7V926.1M548.7 925.4V931.8M552.7 930.9V941.3M554.7 936.6V959.2M557.7 940.3V950.9M558.7 941.0V946.9M559.7 938.8V945.9M560.7 941.1V943.8M561.7 940.1V949.6M562.7 939.6V953.1M564.7 930.9V943.5M566.7 931.1V941.2M567.7 931.4V937.8M568.7 930.0V941.9M569.7 933.4V938.6M571.7 927.2V936.5M572.7 927.1V934.1M573.7 927.0V937.0M574.7 919.8V932.0M575.7 927.5V937.4M576.7 922.9V935.7M579.7 915.7V921.1M580.7 915.8V922.7M581.7 911.9V923.7M582.7 910.6V916.9M583.7 908.4V920.0M585.7 907.3V914.8M586.7 906.9V915.3M587.7 899.3V912.7M589.7 904.7V910.1M590.7 900.5V908.0M591.7 900.7V906.9M592.7 895.9V908.8M593.7 897.2V910.1M595.7 901.9V910.7M601.7 900.1V913.0M603.7 901.2V914.5M605.7 899.0V912.7M607.7 904.1V919.6M608.7 912.3V919.5M610.7 903.3V922.5M613.7 915.2V922.1M616.7 914.4V932.5M621.7 915.3V928.2M624.7 922.5V930.3M626.7 920.5V930.9M627.7 920.6V929.0M629.7 923.1V930.4M630.7 921.3V926.6M632.7 920.0V931.0M633.7 920.1V925.2M634.7 918.0V925.4M643.7 908.9V919.2M645.7 908.9V921.2M647.7 909.9V917.4M652.7 920.8V930.1M653.7 925.5V934.1M654.7 924.0V934.5M656.7 928.3V940.2M658.7 928.1V936.9M664.7 935.0V942.2M667.7 931.6V942.4M669.7 926.5V943.9M670.7 930.8V942.4M671.7 932.8V943.4M672.7 927.5V941.1M673.7 932.3V939.5M676.7 929.0V935.3M677.7 926.7V938.8M678.7 926.3V939.5M680.7 924.3V932.7M683.7 926.2V936.4M684.7 927.1V937.6M688.7 923.6V929.9M690.7 926.1V933.0M693.7 923.6V930.7M697.7 923.2V933.1M698.7 925.2V934.7M699.7 926.3V935.4M700.7 922.0V937.7M701.7 924.4V933.5M702.7 922.3V933.7M703.7 923.3V936.3M704.7 926.8V934.1M705.7 923.0V932.4M706.7 921.2V931.3M707.7 919.3V928.9M708.7 919.7V927.9M709.7 920.6V927.3M710.7 923.4V933.6M711.7 922.9V929.9M715.7 922.7V928.4M720.7 919.9V923.7M721.7 918.0V923.8M722.7 916.4V924.3M723.7 916.5V925.0M724.7 909.4V922.7M725.7 916.2V928.3M729.7 906.4V913.4M732.7 901.8V908.6M733.7 900.4V911.1M734.7 895.7V907.6M735.7 893.2V906.7M736.7 896.9V907.8M737.7 893.8V901.7M740.7 893.3V905.5M742.7 898.4V905.9M744.7 902.4V907.8M746.7 900.6V910.0M747.7 901.2V910.0M748.7 897.2V906.6M750.7 894.6V908.0M752.7 900.9V907.8M754.7 898.4V907.5M756.7 895.8V905.2M757.7 899.2V904.7M758.7 896.3V902.7M759.7 896.3V901.9M760.7 891.5V904.3M762.7 891.9V902.5M764.7 892.9V900.2M766.7 890.4V900.5M767.7 891.7V901.4M768.7 891.7V903.9M769.7 893.6V900.9M772.7 898.1V907.0M773.7 895.7V904.8M774.7 894.4V908.0M776.7 898.4V913.5M779.7 917.6V923.0M780.7 914.9V935.8M781.7 919.0V930.8M783.7 925.3V931.8M785.7 917.9V930.1M786.7 922.9V933.2M789.7 926.3V932.6M791.7 918.9V938.8M796.7 929.3V936.4M798.7 925.3V933.1M799.7 922.6V939.7M800.7 921.0V931.4M801.7 920.9V932.7M804.7 924.1V933.2M806.7 921.1V929.9M807.7 923.0V932.7M808.7 920.0V929.7M809.7 920.5V931.3M810.7 921.6V932.8M811.7 922.7V930.7M812.7 919.1V929.7M821.7 933.7V945.9M822.7 937.0V943.8M824.7 935.0V946.1M827.7 938.5V948.2M834.7 939.6V951.3M844.7 951.3V973.1M845.7 967.8V979.1M857.7 1039.5V1052.9M858.7 1043.4V1060.5M861.7 1066.4V1090.1M863.7 1053.6V1064.9M864.7 1046.9V1059.7M865.7 1038.5V1052.5M866.7 1034.2V1046.1M867.7 1026.3V1038.2M868.7 1024.5V1038.8M869.7 1019.5V1034.4M870.7 1012.4V1027.2M872.7 1006.2V1015.5M878.7 1012.5V1019.3M880.7 1009.2V1018.5M881.7 1004.7V1018.6M883.7 995.8V1009.4M884.7 989.9V1003.5M885.7 981.3V998.6M887.7 978.1V991.3M888.7 974.9V983.1M890.7 970.9V977.7M894.7 933.6V961.5M895.7 943.7V953.0M896.7 948.9V966.4M898.7 957.0V972.4M899.7 965.6V974.3M903.7 958.4V968.6M905.7 954.7V965.6M911.7 952.3V963.2M913.7 955.7V963.9M914.7 961.5V971.2M916.7 960.0V972.6M918.7 966.3V970.3M925.7 971.6V979.2M927.7 964.5V982.4M928.7 965.1V980.5M929.7 964.6V970.0M930.7 962.3V968.5M931.7 961.1V966.6M933.7 960.4V967.0M941.7 975.8V988.5M943.7 980.7V996.1M946.7 990.7V995.9M947.7 984.9V994.0M948.7 983.9V994.1M949.7 982.6V989.6M950.7 980.2V991.3M951.7 976.3V985.8M953.7 971.1V979.1M954.7 968.6V979.5M955.7 968.5V973.5M956.7 967.3V975.7M957.7 964.2V971.6M959.7 963.0V980.5M960.7 961.1V967.8M963.7 947.9V975.0M964.7 951.2V962.4M967.7 948.3V956.3M968.6 946.4V956.7M970.6 942.6V948.3M971.6 940.7V951.5M972.6 943.6V955.3M973.6 938.7V951.2M974.6 932.1V948.4M977.6 943.1V949.3M978.6 944.9V950.2M980.6 938.8V950.1M985.6 928.2V938.7M987.6 930.7V937.9M988.6 930.2V942.9M989.6 927.7V934.9M990.6 928.9V936.1M991.6 927.5V938.0M992.6 926.5V936.7M996.6 917.0V926.3M997.6 914.9V925.9M998.6 916.8V924.4M999.6 909.4V920.8M1001.6 909.9V919.7M1002.6 907.9V923.5M1006.6 889.1V905.2M1007.6 898.2V907.6M1013.6 902.0V910.5M1014.6 900.2V914.8M1015.6 903.4V912.8M1018.6 897.2V906.0M1019.6 891.7V905.1M1020.6 895.4V906.9M1022.6 894.0V899.2M1024.6 889.4V896.9M1026.6 887.0V891.5M1027.6 885.7V890.7M1028.6 881.7V892.4M1029.6 877.7V892.8M1031.6 871.8V883.2M1032.6 871.2V880.3M1035.6 862.1V866.4M1038.6 852.0V857.2M1039.6 845.0V855.7M1041.6 842.7V851.2M1042.6 837.8V850.1M1043.6 838.3V850.0M1046.6 831.7V840.2M1047.6 828.0V837.0M1050.6 809.4V825.5M1051.6 806.8V821.6M1052.6 800.7V822.9M1053.6 799.8V810.6M1054.6 802.3V809.3M1056.6 791.1V802.7M1057.6 782.5V800.1M1060.6 768.2V787.0M1061.6 757.2V784.0M1062.6 763.0V779.3M1065.6 766.4V779.6M1067.6 771.0V786.4M1070.6 783.5V794.2M1071.6 790.9V807.1M1072.6 793.1V808.5M1073.6 799.4V876.7M1075.6 802.1V817.8M1076.6 805.8V815.4M1077.6 809.0V824.1M1080.6 801.7V820.5M1081.6 797.6V810.6M1086.6 765.3V771.2M1088.6 768.5V777.2M1089.6 763.8V773.6M1091.6 764.0V775.8M1093.6 764.3V775.2M1094.6 764.4V776.7M1095.6 764.8V770.5M1097.6 760.7V773.0M1099.6 758.1V768.6M1101.6 758.6V770.3M1102.6 756.6V775.3M1103.6 754.6V767.8M1105.6 757.8V764.9M1107.6 763.3V774.5M1108.6 763.0V775.5M1111.6 761.0V772.7M1113.6 744.2V756.7M1116.6 729.4V740.1M1117.6 726.2V735.9M1119.6 710.6V728.3M1124.6 705.7V717.9M1126.6 696.0V708.6M1127.6 696.3V714.5M1128.6 697.3V716.0M1129.6 712.4V726.1M1130.6 713.1V734.5M1133.6 694.2V705.0M1134.6 683.6V705.4M1136.6 681.0V694.5M1137.6 677.1V685.8M1139.6 668.3V685.8M1140.6 665.2V676.3M1141.6 655.5V678.1M1143.6 652.2V664.0M1145.6 642.8V657.2M1147.6 637.7V646.3M1148.6 628.0V652.2M1149.6 626.7V640.0M1150.6 616.0V632.6M1151.6 620.5V629.5M1153.6 612.1V627.3M1156.6 598.6V623.0M1157.6 602.2V621.7M1162.6 603.2V624.5M1163.6 603.6V616.0M1164.6 608.4V616.2M1165.6 606.9V619.9M1166.6 608.7V616.4M1167.6 601.0V612.6M1171.6 590.8V602.1M1173.6 584.2V598.2M1175.6 580.1V589.9M1177.6 558.1V578.3M1178.6 566.3V583.5M1183.6 611.2V642.0M1188.6 663.6V675.7M1189.6 662.6V670.6M1190.6 658.7V671.9M1194.6 641.0V649.9M1195.6 633.3V645.1M1197.6 618.3V643.6M1198.6 620.5V635.2M1200.6 608.5V620.4M1201.6 608.3V619.1M1202.6 605.5V621.3M1204.6 604.7V622.5M1206.6 602.3V614.9M1213.6 616.4V634.8M1215.6 638.6V659.5M1217.6 637.6V653.3M1219.6 635.4V647.0M1221.6 626.8V643.0M1223.6 629.4V635.6M1226.6 626.7V640.5M1228.6 626.2V642.8M1229.6 625.9V641.5M1231.6 628.1V639.0M1234.6 629.2V640.6M1235.6 623.6V637.9M1236.6 626.8V635.2M1237.6 612.5V639.9M1240.6 616.8V628.9M1241.6 612.4V627.3M1244.6 600.0V607.9M1246.6 587.7V609.2M1247.6 588.6V605.1M1249.6 591.5V602.7M1252.6 606.6V613.9M1253.6 609.1V619.1M1254.6 604.9V622.2M1256.6 594.7V603.1M1257.6 586.4V603.9M1259.6 584.8V597.4M1260.6 584.5V597.5M1261.6 579.6V595.9M1262.6 581.7V588.6M1263.6 573.2V594.2M1266.6 573.8V591.0M1267.6 584.4V596.3M1270.6 592.2V597.8M1271.6 585.6V599.7M1272.6 583.9V599.4M1273.6 585.3V610.3M1275.6 580.6V601.1M1276.6 576.4V597.4M1278.6 563.1V586.2M1279.6 556.8V581.7M1280.6 559.5V577.7M1282.6 575.7V587.4M1284.6 577.0V593.3M1291.6 596.8V617.6M1292.6 604.0V621.9M1293.6 606.6V620.6M1294.6 603.0V611.5M1295.6 599.5V609.5M1297.6 588.5V606.4M1298.6 589.7V603.5M1299.6 583.7V605.8M1300.6 582.6V591.3M1301.6 583.3V604.3M1302.6 579.9V595.0M1304.6 576.0V585.2M1308.6 573.4V586.5M1312.6 579.7V599.1M1315.6 592.8V608.2M1320.6 606.1V616.4M1322.6 591.1V608.6M1324.6 589.4V598.0M1325.6 583.8V598.3M1326.6 573.3V597.8M1328.6 578.8V591.9M1330.6 579.1V587.1M1331.6 579.5V595.6M1333.6 573.3V590.4M1335.6 579.2V593.5M1337.6 589.9V596.9M1339.6 584.8V600.3M1342.6 593.1V611.1M1349.6 611.0V624.2M1350.6 609.3V627.8M1351.6 603.6V618.7M1352.6 604.8V617.3M1354.6 607.7V616.7M1355.6 601.0V628.5M1356.6 597.9V619.5M1357.6 598.4V626.2M1358.6 597.0V609.8M1359.6 596.1V606.5M1360.6 596.3V603.6M1361.6 594.1V601.3M1362.6 590.2V605.3M1366.6 575.5V591.7M1370.6 581.3V597.0M1372.6 592.5V598.1M1378.6 636.5V671.5M1379.6 668.1V692.0M1380.6 680.6V688.2M1384.6 677.9V687.4M1385.6 673.1V686.1M1386.6 673.9V708.4M1389.6 704.4V727.2M1393.6 731.0V744.4M1394.6 723.2V742.5M1395.6 711.4V727.3M1396.6 711.0V722.1M1397.6 706.3V718.6M1398.6 704.6V713.2M1399.6 701.4V708.4M1400.6 691.8V712.7M1403.6 686.3V702.1M1405.6 685.0V695.9M1407.6 688.2V698.9M1410.6 684.6V703.7M1412.6 702.0V718.9M1414.6 714.1V733.9M1416.6 737.8V746.6M1421.6 735.6V748.1M1423.6 729.3V747.8M1425.6 732.2V746.2M1427.6 737.6V745.3M1429.6 736.8V753.6M1431.6 746.1V760.8M1433.6 748.3V762.7M1434.6 752.1V761.9M1436.6 743.1V759.1M1439.6 744.3V754.1M1440.6 742.6V762.0M1443.6 741.2V754.0M1445.6 739.4V752.7M1448.6 732.1V741.0M1449.6 721.4V737.1M1450.6 721.8V730.0M1451.6 715.5V733.3M1452.6 716.8V727.0M1453.6 715.4V725.5M1454.6 717.8V723.7M1455.6 714.1V725.2M1456.6 707.2V720.8M1457.6 709.0V720.9M1458.6 702.1V721.1M1459.6 700.8V712.2M1461.6 703.6V711.9M1463.6 702.5V718.0M1471.6 712.7V731.8M1474.6 723.4V734.7M1476.6 726.0V741.7M1478.6 731.2V742.1M1479.5 725.2V742.6M1480.5 718.4V733.0M1487.5 770.6V787.5M1488.5 783.4V796.8M1489.5 788.0V802.2M1490.5 787.8V811.0M1494.5 818.6V871.6M1498.5 834.6V851.0M1504.5 858.1V879.2M1508.5 852.3V860.8M1510.5 846.8V852.9M1512.5 856.8V868.0M1513.5 855.7V877.5M1516.5 875.5V883.2M1517.5 872.4V908.6M1519.5 883.2V893.9M1520.5 888.1V934.0M1522.5 891.2V901.1M1526.5 897.2V909.4M1527.5 885.2V902.7M1528.5 863.0V890.6M1530.5 851.4V867.8M1531.5 840.4V865.4M1532.5 829.4V850.7M1533.5 796.6V835.0M1534.5 807.5V823.9M1536.5 820.4V835.9M1539.5 831.0V838.2M1540.5 826.8V840.0M1546.5 833.4V844.2M1547.5 830.3V847.9M1548.5 838.9V871.6M1550.5 837.7V850.7M1551.5 832.4V848.1M1552.5 836.0V846.7M1553.5 834.7V846.4M1554.5 834.9V847.3M1555.5 827.3V851.2M1556.5 831.3V838.5M1559.5 824.1V831.3M1560.5 822.9V837.2M1561.5 819.8V832.7M1562.5 812.0V825.5M1563.5 810.5V818.4M1564.5 810.8V820.1M1565.5 806.4V814.9M1566.5 800.4V813.9M1567.5 787.4V806.1M1568.5 794.5V805.0M1569.5 801.8V811.8M1572.5 806.2V825.2M1574.5 808.0V822.1M1578.5 814.0V837.4M1585.5 823.6V835.4M1587.5 832.1V841.8M1588.5 830.2V842.0M1589.5 834.7V849.5M1594.5 844.9V850.6M1595.5 840.3V851.5M1597.5 840.9V850.9M1605.5 840.2V847.3M1606.5 840.2V845.9M1607.5 837.1V847.6M1609.5 835.0V850.8M1610.5 831.8V845.3M1611.5 829.9V838.0M1616.5 822.6V827.1M1617.5 819.7V838.5M1620.5 820.7V831.4M1621.5 815.9V829.5M1626.5 834.2V846.5M1630.5 837.9V847.3M1631.5 836.4V846.5M1634.5 835.5V848.8M1636.5 834.0V838.5M1637.5 829.8V840.8M1638.5 828.3V838.0M1639.5 827.8V840.9M1640.5 822.3V836.3M1641.5 825.8V835.1M1642.5 822.5V834.8M1643.5 829.1V833.0M1644.5 825.1V834.1M1645.5 821.9V829.9M1646.5 823.5V829.8M1648.5 826.0V832.3M1649.5 825.7V835.1M1650.5 821.3V836.0M1651.5 822.4V832.2M1652.5 815.3V834.7M1654.5 817.1V828.0M1655.5 808.6V819.8M1656.5 806.4V827.6M1659.5 785.1V815.4M1660.5 796.2V811.9M1661.5 803.2V808.9M1663.5 791.7V807.8M1664.5 800.1V807.6M1666.5 799.3V811.9M1668.5 796.8V811.9M1669.5 793.8V812.6M1671.5 790.6V802.9M1673.5 792.2V803.9M1675.5 790.5V800.4M1677.5 786.6V796.9M1678.5 785.1V790.1M1679.5 780.7V789.1M1680.5 781.7V791.2M1681.5 778.2V788.0M1682.5 778.2V791.1M1683.5 771.1V788.5M1685.5 768.2V782.8M1689.5 763.5V777.8M1691.5 758.9V767.7M1693.5 748.6V758.3M1694.5 748.7V755.9M1695.5 745.7V751.7M1697.5 741.6V751.7M1700.5 735.0V750.9M1702.5 736.3V745.9M1703.5 735.4V746.2M1706.5 732.9V744.3M1707.5 727.3V739.6M1708.5 733.9V756.8M1709.5 746.8V760.2M1713.5 754.5V765.2M1714.5 756.6V770.1M1715.5 744.6V760.5M1717.5 743.5V758.3M1719.5 737.2V746.4M1721.5 723.9V742.5M1724.5 732.7V747.1M1727.5 739.9V747.1M1731.5 749.7V760.5M1734.5 759.9V779.2M1736.5 774.2V782.3M1737.5 767.5V784.8M1740.5 782.4V802.4M1741.5 785.5V805.2M1742.5 787.4V795.9M1743.5 784.5V791.2M1745.5 784.6V790.2M1746.5 773.7V793.6M1751.5 796.5V803.3M1752.5 795.1V806.1M1755.5 808.4V820.8M1760.5 832.1V850.2M1761.5 829.2V837.1M1762.5 816.8V832.1M1763.5 815.7V826.9M1764.5 813.1V819.3M1765.5 807.8V816.9M1766.5 803.7V818.9M1767.5 803.6V813.1M1768.5 802.8V815.9M1771.5 797.6V813.1M1775.5 806.5V817.0M1780.5 805.5V819.2M1784.5 809.8V815.5M1785.5 808.6V816.9M1786.5 805.6V816.7M1788.5 807.4V818.7M1789.5 808.4V821.8M1791.5 806.2V815.1M1792.5 807.7V813.4M1793.5 803.6V817.1M1794.5 803.0V817.2M1796.5 796.8V816.4M1797.5 796.3V807.1M1799.5 791.9V809.1M1802.5 787.1V792.6M1803.5 780.6V790.8M1807.5 774.9V784.0M1808.5 774.8V789.7M1812.5 770.6V778.8M1814.5 766.2V773.8M1815.5 763.8V778.3M1816.5 756.6V778.1M1817.5 756.1V769.6M1819.5 756.4V769.0M1821.5 754.6V766.6M1822.5 759.0V764.7M1824.5 748.6V760.6M1826.5 748.5V761.4M1828.5 749.1V759.2M1829.5 746.3V762.3M1830.5 739.3V751.4M1832.5 726.8V750.9M1834.5 735.6V748.0M1837.5 728.6V742.2M1838.5 723.4V738.1M1839.5 720.6V731.8M1840.5 718.4V733.0M1841.5 712.7V724.7M1845.5 719.5V724.9M1846.5 716.1V726.5M1851.5 728.3V736.4M1852.5 724.9V735.5M1853.5 722.2V734.4M1854.5 720.0V732.3M1855.5 712.5V735.2M1857.5 712.8V725.8M1860.5 700.4V718.3M1869.5 722.7V729.9M1872.5 732.8V741.5M1877.5 747.5V765.9M1878.5 738.2V758.2M1880.5 733.2V749.8M1884.5 725.5V743.1M1886.5 725.7V739.4M1889.5 712.4V726.5M1890.5 711.1V718.0M1892.5 703.7V718.8M1893.5 699.4V718.6M1897.5 701.7V715.2M1900.5 706.0V717.9M1901.5 701.9V721.6M1902.5 698.0V718.8M1903.5 703.0V716.9M1904.5 705.1V724.6M1905.5 703.3V714.1M1906.5 700.1V717.1M1908.5 697.2V709.4M1909.5 689.1V709.9M1914.5 689.8V705.4M1923.5 710.8V717.0M1924.5 704.8V716.0M1926.5 708.8V719.9M1927.5 702.1V715.2M1928.5 706.9V713.2M1930.5 698.8V716.5M1931.5 704.3V711.8M1932.5 700.4V717.8M1933.5 698.6V714.5M1936.5 700.9V712.3M1937.5 703.1V712.9M1941.5 708.6V717.3M1942.5 706.2V720.3M1943.5 714.0V728.2M1949.5 729.2V744.8M1950.5 730.5V736.1M1952.5 717.6V738.6M1954.5 714.8V728.1M1956.5 710.4V727.4M1959.5 714.5V729.4M1961.5 707.8V716.4M1962.5 707.4V721.8M1964.5 694.9V716.7M1965.5 697.3V708.2M1967.5 688.8V705.1M1974.5 692.8V706.7M1976.5 696.0V708.2M1977.5 699.0V709.3M1978.5 687.7V709.7M1979.5 686.8V697.1M1980.5 690.0V698.0M1983.5 679.0V697.2M1984.5 676.9V686.0M1985.5 668.1V687.8M1986.5 671.2V696.5M1987.5 663.9V676.2M1990.5 662.3V673.1M1991.4 666.3V680.3M1993.4 656.5V671.3M1994.4 660.5V678.1M1996.4 661.5V677.0M1998.4 664.0V676.2M2004.4 670.4V689.2M2007.4 676.9V690.3M2012.4 690.5V702.1M2014.4 694.6V707.5M2020.4 706.3V723.5M2022.4 710.7V722.2M2023.4 715.3V732.5M2024.4 708.4V726.0M2026.4 705.0V715.4M2028.4 700.1V712.5M2029.4 700.0V706.0M2031.4 690.1V698.2M2033.4 686.4V698.6M2034.4 682.8V695.7M2035.4 679.6V693.4M2037.4 682.8V693.6M2040.4 676.5V686.2M2044.4 676.6V691.5M2045.4 677.2V690.7M2048.4 675.4V684.9M2051.4 679.0V694.5M2054.4 682.7V697.4M2058.4 696.5V706.4M2059.4 694.0V705.5M2060.4 696.8V714.8M2061.4 698.8V711.5M2062.4 697.5V708.9M2063.4 696.4V714.1M2064.4 697.2V706.3M2066.4 691.5V701.8M2067.4 687.9V709.8M2068.4 691.1V712.6M2069.4 683.8V697.0M2071.4 684.9V692.5M2072.4 685.3V699.1M2073.4 684.1V698.7M2074.4 685.0V692.4M2079.4 677.1V695.3M2081.4 676.9V700.4M2082.4 671.0V688.6M2084.4 671.6V683.1M2086.4 662.4V686.2M2092.4 659.7V674.9M2093.4 665.5V674.1M2097.4 657.7V668.4M2099.4 660.1V668.0M2105.4 661.5V667.2M2106.4 655.2V671.9M2109.4 655.1V675.1M2111.4 665.2V690.4M2113.4 683.8V700.6M2114.4 691.9V708.9M2119.4 709.5V723.6M2120.4 715.9V725.4M2122.4 714.3V730.3M2123.4 706.0V726.7M2124.4 708.4V751.9M2125.4 709.0V718.3M2132.4 695.0V701.1M2133.4 687.4V700.9M2139.4 666.1V682.5M2140.4 663.2V671.6M2141.4 661.5V671.9M2142.4 649.4V670.1M2143.4 647.1V659.4M2145.4 646.8V702.5M2146.4 639.8V655.0M2147.4 646.0V654.6M2150.4 642.8V651.1M2152.4 640.3V652.4M2159.4 645.2V655.0M2162.4 640.8V651.5M2163.4 642.7V651.2M2164.4 634.0V650.2M2165.4 631.4V642.7M2168.4 623.5V632.6M2170.4 616.3V633.0M2172.4 614.5V621.2M2173.4 599.5V621.6M2176.4 592.5V610.5M2177.4 583.6V609.1M2178.4 576.4V588.6M2179.4 563.9V585.3M2181.4 551.4V576.8M2182.4 530.9V561.2M2184.4 533.1V542.7M2185.4 530.1V550.1M2189.4 503.0V528.0M2190.4 517.6V533.4M2192.4 526.4V536.9M2194.4 538.8V555.0M2195.4 529.0V549.2M2196.4 522.0V542.4M2197.4 510.9V527.7M2200.4 477.5V493.9M2201.4 471.0V497.2M2204.4 454.2V467.0M2205.4 438.9V470.1M2206.4 438.3V459.2M2208.4 421.5V441.0M2210.4 401.4V421.8M2211.4 405.9V428.5M2212.4 418.7V430.0M2213.4 420.9V430.6M2214.4 414.5V425.9M2218.4 396.5V424.6M2219.4 399.2V425.9M2221.4 414.4V428.1M2222.4 415.2V435.8M2226.4 401.9V417.4M2228.4 407.8V425.5M2229.4 406.5V428.5M2235.4 403.2V417.4M2236.4 392.5V413.8M2238.4 392.1V413.8M2240.4 394.1V407.9M2241.4 387.7V406.1M2243.4 372.0V385.9M2244.4 363.7V383.3M2245.4 360.6V373.0M2246.4 321.0V383.1" stroke="#35968c" stroke-width="0.8" fill="none" opacity="0.55"/>
<path d="M200.8 990.1V998.6M201.8 990.4V995.9M204.8 989.4V998.4M206.8 991.4V998.8M209.8 988.7V1001.4M211.8 995.4V1000.5M212.8 990.4V999.0M213.8 990.4V998.1M214.8 989.9V996.1M221.8 980.1V986.3M222.8 973.4V984.1M223.8 978.4V984.7M224.8 978.4V984.0M225.8 975.2V983.4M229.8 969.7V976.5M234.8 968.9V978.9M236.8 969.3V981.2M237.8 972.9V978.4M238.8 969.4V981.7M239.8 971.7V979.7M244.8 962.6V973.3M246.8 956.5V974.4M250.8 959.6V968.2M255.8 951.2V958.0M256.8 950.5V956.9M258.8 950.0V955.3M259.8 946.6V957.1M262.8 938.3V952.0M264.8 933.9V944.3M266.8 932.9V937.4M272.8 906.0V914.7M273.8 902.2V917.0M274.8 892.3V913.0M275.8 870.0V901.1M278.8 882.0V892.3M279.8 885.1V892.5M280.8 874.1V895.5M281.8 880.5V890.2M282.8 874.9V887.6M285.8 874.6V891.4M288.8 896.6V920.1M291.8 896.6V913.1M292.8 888.8V902.7M301.8 869.7V882.7M303.8 868.5V877.2M307.8 848.7V860.2M309.8 843.1V852.2M310.8 843.2V850.6M315.8 823.4V833.8M317.8 810.0V833.4M319.8 808.0V828.2M321.8 798.4V811.1M323.8 805.5V811.2M324.8 805.6V813.5M328.8 820.6V832.3M329.8 822.6V850.4M330.8 839.6V885.8M337.8 803.1V810.1M338.8 800.7V818.1M340.8 804.3V820.5M341.8 810.0V825.9M342.8 809.8V823.6M348.8 804.3V812.0M352.8 791.3V805.9M355.8 789.1V799.9M357.8 782.3V792.4M365.8 769.2V784.5M366.8 772.0V780.1M367.8 772.2V788.0M368.8 767.8V783.2M369.8 775.3V783.6M370.8 777.8V791.4M372.8 789.7V798.7M375.8 800.8V818.8M377.8 824.4V838.0M378.8 827.5V849.3M380.8 847.2V860.1M381.8 850.0V860.9M382.8 855.6V867.0M387.8 840.5V858.5M388.8 839.6V846.9M394.8 855.8V870.3M396.8 862.5V878.6M398.8 877.4V892.1M400.8 888.7V905.8M407.8 851.0V866.6M410.8 848.4V860.4M411.8 855.2V866.7M412.8 859.4V866.5M415.8 863.4V877.2M416.8 868.0V878.7M417.8 868.7V881.2M423.8 892.6V904.8M425.8 901.5V913.5M427.8 909.6V924.4M429.8 920.7V927.9M430.8 918.4V924.6M431.8 911.1V938.4M432.8 914.5V918.6M435.8 903.8V918.0M436.8 902.1V909.2M439.8 893.7V907.7M440.8 891.5V900.8M441.8 892.0V908.4M443.8 897.6V907.1M449.8 889.1V901.4M450.8 884.8V900.2M453.8 891.1V904.5M459.7 885.7V893.6M462.7 886.2V890.9M465.7 882.9V889.4M467.7 882.5V889.5M471.7 886.7V894.6M473.7 892.1V905.2M475.7 885.3V895.2M477.7 880.0V896.9M478.7 876.7V890.2M479.7 882.6V892.8M481.7 877.9V885.0M482.7 876.8V881.9M484.7 877.1V884.5M488.7 871.9V883.9M489.7 870.9V876.8M491.7 865.9V886.6M492.7 876.3V884.8M494.7 874.3V888.8M496.7 883.9V895.7M500.7 896.6V908.7M501.7 903.0V911.6M502.7 904.5V910.4M504.7 903.8V917.3M507.7 912.8V919.8M510.7 911.1V919.8M511.7 914.6V922.3M512.7 913.5V921.6M514.7 915.4V925.1M516.7 915.0V924.9M517.7 916.3V925.3M518.7 920.3V927.0M520.7 922.4V931.0M521.7 919.8V930.8M523.7 922.5V935.5M524.7 917.7V927.5M525.7 916.9V925.1M527.7 915.3V926.2M531.7 914.1V919.8M535.7 905.0V912.0M538.7 906.4V918.1M539.7 905.3V917.7M540.7 904.1V913.4M541.7 905.5V915.2M547.7 918.7V929.4M549.7 921.9V931.9M550.7 924.2V934.5M551.7 928.6V941.6M553.7 933.9V943.5M555.7 941.4V946.8M556.7 940.4V946.1M563.7 937.4V945.9M565.7 933.9V941.7M570.7 924.3V944.7M577.7 916.5V928.0M578.7 917.4V923.0M584.7 904.0V917.8M588.7 903.6V912.7M594.7 900.5V908.3M596.7 902.1V909.6M597.7 902.2V906.7M598.7 897.8V908.1M599.7 895.8V904.1M600.7 893.2V907.9M602.7 894.5V905.3M604.7 904.6V910.8M606.7 902.3V911.3M609.7 903.9V917.7M611.7 912.9V922.1M612.7 913.5V922.5M614.7 915.3V925.7M615.7 913.7V921.2M617.7 918.4V934.4M618.7 917.7V927.4M619.7 918.4V932.7M620.7 920.6V927.2M622.7 916.7V933.0M623.7 921.6V931.8M625.7 921.5V937.5M628.7 921.4V931.8M631.7 918.5V926.0M635.7 914.2V922.1M636.7 915.0V920.3M637.7 914.6V922.4M638.7 911.9V924.4M639.7 912.9V917.9M640.7 913.5V923.4M641.7 910.5V916.6M642.7 908.8V919.7M644.7 910.9V927.0M646.7 911.4V919.9M648.7 912.1V918.9M649.7 906.6V921.9M650.7 914.6V929.1M651.7 919.9V927.7M655.7 923.0V934.6M657.7 924.7V935.9M659.7 929.0V940.0M660.7 924.1V944.6M661.7 929.9V939.9M662.7 925.3V942.3M663.7 932.4V939.3M665.7 931.1V941.3M666.7 925.5V937.4M668.7 927.3V936.3M674.7 933.1V944.8M675.7 928.3V937.4M679.7 928.5V939.9M681.7 922.6V933.5M682.7 927.9V933.8M685.7 920.7V935.6M686.7 920.2V929.7M687.7 923.1V932.1M689.7 925.0V933.5M691.7 924.8V938.0M692.7 924.0V930.5M694.7 924.4V936.9M695.7 922.1V939.3M696.7 919.8V934.1M712.7 921.1V926.9M713.7 919.0V927.0M714.7 921.8V929.2M716.7 920.7V929.3M717.7 917.2V930.8M718.7 919.7V925.3M719.7 915.2V924.5M726.7 911.8V924.2M727.7 908.6V918.7M728.7 908.5V920.5M730.7 896.8V914.9M731.7 901.2V913.5M738.7 896.5V904.0M739.7 895.7V906.1M741.7 900.9V908.5M743.7 901.7V906.9M745.7 899.2V907.1M749.7 896.8V910.8M751.7 897.6V907.7M753.7 898.5V907.8M755.7 892.6V905.7M761.7 892.1V898.2M763.7 894.7V913.0M765.7 889.3V897.1M770.7 892.4V898.6M771.7 889.2V906.2M775.7 901.8V908.0M777.7 906.7V918.4M778.7 910.2V922.1M782.7 923.3V932.7M784.7 924.6V933.4M787.7 923.8V935.4M788.7 926.7V933.1M790.7 924.2V937.4M792.7 926.5V936.1M793.7 926.8V934.3M794.7 928.7V933.3M795.7 924.6V937.3M797.7 924.7V934.0M802.7 927.0V933.4M803.7 928.0V934.4M805.7 922.4V932.7M813.7 917.7V925.8M814.7 918.3V927.8M815.7 906.1V926.2M816.7 909.7V921.5M817.7 915.3V928.1M818.7 920.8V938.9M819.7 927.1V945.8M820.7 935.5V959.7M823.7 934.8V942.7M825.7 935.9V942.7M826.7 938.1V944.6M828.7 929.6V948.0M829.7 937.3V947.1M830.7 938.2V947.3M831.7 938.7V948.9M832.7 940.1V947.6M833.7 938.7V951.5M835.7 937.8V947.3M836.7 941.4V947.2M837.7 943.1V952.1M838.7 943.1V950.1M839.7 938.7V956.5M840.7 938.9V949.9M841.7 941.9V946.9M842.7 943.1V950.9M843.7 943.0V960.2M846.7 972.9V984.7M847.7 977.3V989.9M848.7 979.6V999.6M849.7 993.0V1012.9M850.7 1008.2V1039.0M851.7 1018.4V1031.9M852.7 1018.4V1025.2M853.7 1014.1V1025.0M854.7 1014.0V1024.9M855.7 1014.1V1033.8M856.7 1028.0V1045.2M859.7 1051.7V1064.6M860.7 1059.7V1069.8M862.7 1059.9V1072.2M871.7 1007.7V1018.6M873.7 1005.9V1013.9M874.7 1008.5V1016.2M875.7 1008.8V1022.4M876.7 1011.8V1024.3M877.7 1013.2V1021.8M879.7 1012.0V1018.9M882.7 1003.2V1011.1M886.7 979.3V989.4M889.7 970.8V981.4M891.7 967.7V977.9M892.7 962.8V974.7M893.7 955.8V968.4M897.7 956.1V970.0M900.7 960.6V975.1M901.7 959.6V965.7M902.7 959.2V970.8M904.7 956.9V964.8M906.7 952.4V964.5M907.7 951.3V963.3M908.7 953.2V961.0M909.7 953.5V960.1M910.7 951.1V962.3M912.7 955.2V963.6M915.7 962.8V966.6M917.7 960.5V970.6M919.7 963.8V971.9M920.7 969.0V973.4M921.7 964.0V976.1M922.7 966.9V978.0M923.7 965.4V981.0M924.7 972.3V981.3M926.7 973.7V981.8M932.7 962.5V968.9M934.7 956.9V969.5M935.7 961.0V974.7M936.7 960.1V970.4M937.7 964.1V970.2M938.7 965.1V976.8M939.7 968.2V980.2M940.7 972.8V982.9M942.7 981.4V1019.4M944.7 987.9V1020.5M945.7 992.5V1000.7M952.7 972.4V985.8M958.7 965.4V976.9M961.7 958.8V966.4M962.7 958.4V965.8M965.7 952.6V957.8M966.7 951.4V959.8M969.6 942.5V957.2M975.6 940.8V950.3M976.6 941.1V948.6M979.6 935.8V951.6M981.6 939.1V949.2M982.6 936.6V947.3M983.6 938.1V944.4M984.6 933.8V945.1M986.6 928.7V939.4M993.6 923.1V929.3M994.6 916.5V927.3M995.6 917.3V926.7M1000.6 910.6V919.9M1003.6 904.2V915.1M1004.6 902.2V912.1M1005.6 899.2V909.3M1008.6 901.5V911.0M1009.6 904.2V913.7M1010.6 899.5V912.9M1011.6 904.5V915.5M1012.6 906.9V911.6M1016.6 903.7V918.6M1017.6 897.9V908.7M1021.6 889.8V903.1M1023.6 889.9V901.3M1025.6 887.9V895.8M1030.6 874.8V882.3M1033.6 865.0V880.4M1034.6 862.7V868.4M1036.6 857.5V865.2M1037.6 854.4V859.9M1040.6 843.0V851.9M1044.6 828.2V849.8M1045.6 823.9V840.3M1048.6 819.0V835.2M1049.6 809.6V828.8M1055.6 795.7V808.9M1058.6 780.4V794.3M1059.6 775.3V789.4M1063.6 764.5V769.2M1064.6 761.2V775.8M1066.6 773.0V785.4M1068.6 776.9V783.0M1069.6 775.0V795.3M1074.6 801.9V812.8M1078.6 814.6V819.7M1079.6 814.5V821.6M1082.6 782.9V806.9M1083.6 773.5V792.6M1084.6 765.3V784.4M1085.6 764.9V775.2M1087.6 764.6V774.7M1090.6 765.9V775.1M1092.6 764.6V773.7M1096.6 761.8V772.2M1098.6 761.1V769.7M1100.6 752.1V773.0M1104.6 753.9V767.3M1106.6 761.2V770.1M1109.6 769.7V787.1M1110.6 763.5V784.5M1112.6 750.7V764.8M1114.6 732.3V748.3M1115.6 732.6V744.3M1118.6 721.9V738.3M1120.6 710.0V725.4M1121.6 710.8V722.8M1122.6 708.5V719.9M1123.6 708.2V716.4M1125.6 703.0V717.2M1131.6 711.6V729.1M1132.6 700.6V717.1M1135.6 678.1V696.2M1138.6 673.6V687.9M1142.6 655.7V670.6M1144.6 645.2V662.3M1146.6 640.8V649.9M1152.6 611.4V632.9M1154.6 607.1V623.1M1155.6 601.7V621.7M1158.6 603.2V617.9M1159.6 605.5V620.0M1160.6 608.0V621.9M1161.6 617.0V628.3M1168.6 598.2V609.5M1169.6 595.5V616.2M1170.6 593.7V609.5M1172.6 583.2V603.2M1174.6 581.3V597.3M1176.6 568.3V588.4M1179.6 568.9V593.1M1180.6 581.4V599.5M1181.6 590.3V611.2M1182.6 601.9V625.3M1184.6 625.9V651.1M1185.6 646.8V659.4M1186.6 649.7V670.4M1187.6 658.1V669.2M1191.6 651.3V667.5M1192.6 645.6V655.8M1193.6 642.4V655.1M1196.6 628.5V639.3M1199.6 608.3V637.0M1203.6 605.9V619.4M1205.6 603.5V617.8M1207.6 602.2V616.2M1208.6 593.1V611.4M1209.6 595.7V614.6M1210.6 610.2V616.8M1211.6 611.0V626.5M1212.6 612.5V627.7M1214.6 614.6V645.9M1216.6 633.8V652.2M1218.6 637.2V649.2M1220.6 635.3V641.6M1222.6 628.1V638.9M1224.6 627.0V635.5M1225.6 621.6V635.1M1227.6 624.5V649.8M1230.6 624.5V644.6M1232.6 625.4V636.4M1233.6 628.8V636.4M1238.6 621.9V630.7M1239.6 606.6V637.3M1242.6 611.1V623.1M1243.6 587.2V621.6M1245.6 595.9V612.1M1248.6 586.1V606.4M1250.6 589.3V603.9M1251.6 584.6V616.7M1255.6 599.9V613.4M1258.6 584.3V596.9M1264.6 573.1V593.3M1265.6 570.6V586.7M1268.6 582.8V596.0M1269.6 589.4V599.5M1274.6 587.6V605.4M1277.6 571.2V592.9M1281.6 569.7V586.2M1283.6 574.4V590.5M1285.6 584.4V592.6M1286.6 575.9V600.4M1287.6 584.6V603.6M1288.6 587.6V605.8M1289.6 593.5V605.0M1290.6 597.0V611.1M1296.6 588.4V602.9M1303.6 579.0V592.7M1305.6 574.4V584.8M1306.6 568.7V581.1M1307.6 570.7V583.4M1309.6 579.5V589.8M1310.6 573.9V587.6M1311.6 583.5V589.1M1313.6 583.9V601.2M1314.6 585.9V600.4M1316.6 601.1V608.4M1317.6 601.6V608.9M1318.6 600.1V617.9M1319.6 606.4V620.1M1321.6 599.5V617.3M1323.6 589.8V604.6M1327.6 574.7V582.4M1329.6 572.9V592.8M1332.6 582.6V591.9M1334.6 579.8V592.0M1336.6 578.7V595.2M1338.6 585.6V599.5M1340.6 584.3V608.7M1341.6 589.9V603.9M1343.6 593.2V600.8M1344.6 592.9V610.2M1345.6 600.0V613.6M1346.6 606.6V619.5M1347.6 596.4V620.4M1348.6 608.4V616.2M1353.6 608.8V618.1M1363.6 579.3V595.7M1364.6 579.2V592.0M1365.6 575.3V591.5M1367.6 580.7V590.9M1368.6 583.2V593.1M1369.6 583.9V594.8M1371.6 590.2V597.1M1373.6 588.9V614.8M1374.6 600.8V617.6M1375.6 607.2V631.2M1376.6 625.9V650.9M1377.6 643.9V657.3M1381.6 677.8V688.5M1382.6 674.4V688.3M1383.6 675.7V691.5M1387.6 695.7V709.5M1388.6 698.1V714.9M1390.6 720.2V736.6M1391.6 728.7V755.8M1392.6 736.2V746.9M1401.6 689.6V702.8M1402.6 689.5V707.0M1404.6 682.5V699.4M1406.6 684.0V701.0M1408.6 684.3V696.0M1409.6 684.4V701.5M1411.6 693.2V711.3M1413.6 711.4V724.7M1415.6 726.8V742.1M1417.6 742.0V754.5M1418.6 743.8V753.4M1419.6 733.2V754.1M1420.6 736.8V746.0M1422.6 735.7V751.7M1424.6 733.8V742.1M1426.6 737.6V752.2M1428.6 740.7V747.6M1430.6 740.7V755.0M1432.6 749.4V761.4M1435.6 747.7V757.9M1437.6 740.0V752.3M1438.6 744.4V753.6M1441.6 740.0V760.7M1442.6 736.8V752.3M1444.6 739.0V750.4M1446.6 736.7V744.3M1447.6 731.6V744.8M1460.6 701.0V713.8M1462.6 701.3V713.2M1464.6 703.7V713.7M1465.6 698.1V710.9M1466.6 697.9V715.4M1467.6 709.5V718.3M1468.6 709.5V719.8M1469.6 709.4V719.7M1470.6 712.6V719.5M1472.6 713.2V727.1M1473.6 715.5V729.7M1475.6 724.0V735.0M1477.6 731.0V738.7M1481.5 718.9V739.3M1482.5 724.2V745.5M1483.5 738.4V757.2M1484.5 748.4V771.8M1485.5 761.6V769.6M1486.5 763.5V780.4M1491.5 796.5V811.6M1492.5 805.5V823.2M1493.5 816.7V829.8M1495.5 845.6V857.4M1496.5 842.4V872.6M1497.5 833.6V849.9M1499.5 830.8V840.9M1500.5 828.1V845.8M1501.5 839.0V856.2M1502.5 849.7V859.7M1503.5 852.2V898.2M1505.5 858.9V879.6M1506.5 859.4V866.2M1507.5 853.0V868.4M1509.5 845.0V858.6M1511.5 847.9V862.0M1514.5 866.4V879.0M1515.5 869.0V882.6M1518.5 875.8V890.2M1521.5 893.7V903.5M1523.5 889.6V901.4M1524.5 887.5V906.6M1525.5 902.1V909.4M1529.5 862.4V873.9M1535.5 807.4V826.1M1537.5 824.9V834.8M1538.5 826.6V838.5M1541.5 827.2V839.7M1542.5 826.6V833.9M1543.5 828.0V834.2M1544.5 829.8V838.8M1545.5 836.1V843.5M1549.5 839.2V853.4M1557.5 829.7V836.7M1558.5 821.3V837.5M1570.5 804.1V810.6M1571.5 803.6V819.5M1573.5 807.2V820.3M1575.5 817.7V830.7M1576.5 821.3V829.4M1577.5 815.4V833.4M1579.5 830.9V842.2M1580.5 831.8V840.5M1581.5 819.7V837.2M1582.5 821.6V836.5M1583.5 819.0V837.6M1584.5 814.5V837.2M1586.5 827.4V841.4M1590.5 834.7V863.5M1591.5 834.2V850.9M1592.5 838.9V857.4M1593.5 842.2V857.8M1596.5 840.1V859.9M1598.5 841.2V855.1M1599.5 835.3V855.2M1600.5 837.3V847.2M1601.5 834.2V846.5M1602.5 837.5V847.6M1603.5 833.9V848.4M1604.5 840.3V853.3M1608.5 837.6V844.0M1612.5 825.9V845.8M1613.5 826.3V829.6M1614.5 821.9V832.5M1615.5 821.6V832.2M1618.5 820.2V827.8M1619.5 820.8V834.1M1622.5 820.1V829.4M1623.5 825.0V830.2M1624.5 824.8V832.9M1625.5 824.6V839.0M1627.5 836.8V842.5M1628.5 830.5V841.5M1629.5 829.2V844.8M1632.5 836.9V847.3M1633.5 834.5V843.1M1635.5 833.9V847.3M1647.5 822.5V833.5M1653.5 819.1V833.7M1657.5 809.2V824.2M1658.5 805.5V820.8M1662.5 798.4V808.7M1665.5 799.9V811.4M1667.5 799.0V806.7M1670.5 790.8V804.9M1672.5 784.2V803.2M1674.5 789.2V801.2M1676.5 786.2V804.7M1684.5 770.7V781.4M1686.5 767.9V784.2M1687.5 769.8V780.2M1688.5 767.8V779.5M1690.5 757.5V769.3M1692.5 754.4V764.8M1696.5 744.9V754.0M1698.5 732.4V751.0M1699.5 738.6V752.0M1701.5 734.7V748.8M1704.5 734.6V746.9M1705.5 733.7V747.0M1710.5 743.5V772.4M1711.5 761.1V773.9M1712.5 761.5V773.6M1716.5 750.0V753.7M1718.5 736.6V754.3M1720.5 732.2V745.3M1722.5 731.1V739.1M1723.5 729.8V739.9M1725.5 737.7V751.9M1726.5 740.0V746.1M1728.5 740.8V751.1M1729.5 744.1V755.5M1730.5 750.7V758.6M1732.5 751.8V770.1M1733.5 759.4V778.0M1735.5 755.5V779.1M1738.5 777.7V789.9M1739.5 778.0V791.0M1744.5 786.6V791.5M1747.5 780.2V797.2M1748.5 778.3V798.8M1749.5 786.9V792.6M1750.5 787.8V806.5M1753.5 797.6V815.5M1754.5 803.4V818.9M1756.5 814.6V828.5M1757.5 820.8V830.8M1758.5 816.4V834.4M1759.5 826.6V845.1M1769.5 795.6V808.9M1770.5 802.6V813.5M1772.5 803.7V813.9M1773.5 800.2V811.6M1774.5 801.1V814.7M1776.5 808.7V818.7M1777.5 805.9V817.8M1778.5 809.8V827.8M1779.5 809.4V821.7M1781.5 806.3V817.5M1782.5 806.5V818.9M1783.5 810.1V817.2M1787.5 805.4V812.8M1790.5 805.6V815.3M1795.5 802.2V811.2M1798.5 787.6V805.1M1800.5 788.4V804.7M1801.5 789.1V792.9M1804.5 778.9V791.5M1805.5 778.5V794.6M1806.5 771.8V786.8M1809.5 768.3V785.5M1810.5 769.6V777.8M1811.5 764.9V782.9M1813.5 766.6V775.6M1818.5 762.5V771.4M1820.5 760.5V768.6M1823.5 753.3V767.2M1825.5 749.4V766.3M1827.5 750.4V757.6M1831.5 740.9V748.2M1833.5 736.7V742.0M1835.5 720.3V747.4M1836.5 727.4V736.7M1842.5 714.5V724.8M1843.5 718.2V730.3M1844.5 714.8V735.4M1847.5 719.1V727.8M1848.5 721.8V732.1M1849.5 722.9V732.1M1850.5 723.8V736.6M1856.5 713.4V726.5M1858.5 713.9V724.6M1859.5 704.1V723.1M1861.5 707.6V719.7M1862.5 707.2V715.0M1863.5 707.3V715.7M1864.5 709.8V718.5M1865.5 711.4V721.9M1866.5 708.0V720.9M1867.5 708.6V725.0M1868.5 707.7V728.5M1870.5 726.6V732.6M1871.5 725.6V736.9M1873.5 735.4V746.1M1874.5 736.8V751.1M1875.5 744.3V764.3M1876.5 744.4V767.0M1879.5 739.5V755.3M1881.5 731.0V746.0M1882.5 726.7V738.9M1883.5 731.1V742.4M1885.5 723.7V736.7M1887.5 715.2V731.0M1888.5 707.5V727.3M1891.5 706.2V720.9M1894.5 698.5V710.4M1895.5 705.6V711.5M1896.5 706.2V716.6M1898.5 702.1V715.5M1899.5 705.6V716.7M1907.5 705.0V711.3M1910.5 691.4V703.4M1911.5 686.9V707.4M1912.5 691.2V701.5M1913.5 693.5V707.4M1915.5 692.0V708.9M1916.5 694.8V705.0M1917.5 696.4V709.3M1918.5 694.9V708.1M1919.5 702.0V712.6M1920.5 702.3V716.3M1921.5 702.9V722.8M1922.5 707.0V718.1M1925.5 704.2V714.7M1929.5 689.7V713.3M1934.5 698.9V713.1M1935.5 700.8V709.9M1938.5 702.4V714.5M1939.5 704.5V727.1M1940.5 708.5V727.3M1944.5 713.8V727.4M1945.5 723.3V732.9M1946.5 721.7V730.7M1947.5 717.1V730.8M1948.5 717.9V736.2M1951.5 725.8V734.9M1953.5 722.8V736.3M1955.5 717.7V725.6M1957.5 711.1V734.5M1958.5 717.2V729.2M1960.5 710.3V718.3M1963.5 699.7V716.6M1966.5 696.2V706.2M1968.5 692.0V699.1M1969.5 694.5V704.2M1970.5 691.4V713.2M1971.5 695.7V703.8M1972.5 694.1V706.4M1973.5 697.9V704.1M1975.5 698.0V706.5M1981.5 688.4V696.6M1982.5 685.4V692.6M1988.5 665.9V683.2M1989.5 669.8V687.4M1992.4 660.6V671.8M1995.4 664.7V674.7M1997.4 659.1V678.3M1999.4 662.0V672.9M2000.4 662.4V686.3M2001.4 667.7V679.9M2002.4 664.9V675.4M2003.4 661.5V689.4M2005.4 667.5V684.5M2006.4 673.9V688.4M2008.4 683.3V689.9M2009.4 683.2V693.7M2010.4 682.8V700.9M2011.4 682.4V702.4M2013.4 686.9V700.2M2015.4 702.4V708.8M2016.4 701.1V714.3M2017.4 698.9V717.6M2018.4 706.8V715.9M2019.4 708.4V714.5M2021.4 709.7V719.7M2025.4 707.7V720.2M2027.4 705.4V714.2M2030.4 691.0V705.1M2032.4 683.2V703.3M2036.4 673.7V688.8M2038.4 675.8V686.0M2039.4 676.7V687.6M2041.4 675.7V686.3M2042.4 678.3V686.0M2043.4 670.8V684.7M2046.4 680.0V689.7M2047.4 679.9V695.1M2049.4 676.4V689.7M2050.4 684.6V697.2M2052.4 687.2V692.8M2053.4 684.3V701.8M2055.4 693.8V698.7M2056.4 695.3V700.6M2057.4 692.3V707.2M2065.4 691.7V708.2M2070.4 686.9V694.3M2075.4 676.4V694.0M2076.4 677.2V690.2M2077.4 683.9V691.6M2078.4 683.7V695.4M2080.4 679.9V689.4M2083.4 673.4V683.0M2085.4 666.4V686.9M2087.4 666.3V681.3M2088.4 671.2V680.6M2089.4 666.3V674.9M2090.4 664.4V677.8M2091.4 664.3V679.6M2094.4 652.9V678.2M2095.4 661.1V670.5M2096.4 661.0V668.2M2098.4 656.8V669.2M2100.4 656.6V675.0M2101.4 660.9V671.1M2102.4 659.7V668.2M2103.4 659.8V664.9M2104.4 660.1V672.2M2107.4 661.1V670.6M2108.4 665.1V679.1M2110.4 662.9V673.8M2112.4 683.6V695.1M2115.4 699.7V803.1M2116.4 710.5V726.6M2117.4 711.1V721.4M2118.4 712.1V724.0M2121.4 716.1V723.3M2126.4 703.5V722.2M2127.4 704.3V719.6M2128.4 703.9V719.6M2129.4 703.3V712.0M2130.4 701.7V714.8M2131.4 695.0V710.3M2134.4 688.1V695.4M2135.4 682.3V699.3M2136.4 679.9V694.2M2137.4 666.0V687.3M2138.4 667.9V685.5M2144.4 649.0V658.1M2148.4 638.0V655.0M2149.4 638.0V655.2M2151.4 638.7V646.7M2153.4 636.4V648.4M2154.4 630.7V646.7M2155.4 631.1V646.8M2156.4 636.8V649.3M2157.4 639.8V651.4M2158.4 637.3V649.3M2160.4 634.4V651.6M2161.4 641.1V652.3M2166.4 632.0V637.2M2167.4 623.1V638.8M2169.4 619.7V628.7M2171.4 614.9V625.1M2174.4 596.2V610.9M2175.4 598.6V607.2M2180.4 563.3V579.0M2183.4 531.3V545.5M2186.4 527.1V540.2M2187.4 524.1V544.4M2188.4 520.3V537.7M2191.4 519.5V531.9M2193.4 527.7V552.0M2198.4 494.5V520.2M2199.4 476.8V504.1M2202.4 462.2V485.0M2203.4 449.5V474.4M2207.4 428.6V458.0M2209.4 404.0V429.9M2215.4 409.0V429.5M2216.4 407.1V425.3M2217.4 406.9V432.9M2220.4 404.9V425.8M2223.4 410.2V425.8M2224.4 408.2V425.2M2225.4 400.8V422.3M2227.4 404.0V422.9M2230.4 416.3V448.8M2231.4 430.2V437.8M2232.4 404.0V443.6M2233.4 403.7V420.9M2234.4 405.9V421.0M2237.4 395.2V418.3M2239.4 393.8V407.8M2242.4 371.0V393.1" stroke="#cf6565" stroke-width="0.8" fill="none" opacity="0.55"/>
<path d="M25 329.9H2704" stroke="#527670" stroke-width="2" stroke-dasharray="2 4" fill="none"/>
<rect x="2202.95" y="399.95" width="36" height="59.7" fill="rgba(156,39,176,0.25)" stroke="#9f2eae" stroke-width="3.7"/>
<path d="M331.5 778.3L2312 291" stroke="#4b1a96" stroke-width="6" stroke-linecap="round" fill="none"/>
<path d="M860.4 1103.6L2414.3 711.1" stroke="#4b1a96" stroke-width="6" stroke-linecap="round" fill="none"/>
<path d="M1711.4 727.5L2202 622" stroke="#000" stroke-width="5.5" stroke-linecap="round" fill="none"/>
<path d="M24 14H2704" stroke="#a2a2a2" stroke-width="2" stroke-dasharray="10 12" stroke-dashoffset="21.6" fill="none"/>
<path d="M2034 2V1622" stroke="#8e8e8e" stroke-width="2" stroke-dasharray="10 12" stroke-dashoffset="21.8" fill="none"/>
<path d="M24 1622.6H2704" stroke="#dcdde2" stroke-width="1.8" fill="none"/>
<path d="M2704 1623H2846" stroke="#dedede" stroke-width="2.2" fill="none"/>
</svg>

<!-- legend -->
<div class="legend title" style="left:41.7px;top:14px;height:40px;line-height:40px;"><span>Hợp đồng tương lai VN30F1M · 1D</span></div>
<div class="abs" style="left:569px;top:16px;width:36px;height:36px;border-radius:50%;background:#dcf1ec;"></div>
<div class="abs" style="left:578.5px;top:25.5px;width:17px;height:17px;border-radius:50%;background:#189a80;"></div>
<div class="legend" style="left:636px;top:19px;"><span>O</span><span style="color:#2a9d8f;margin-left:3px;">1303.8</span><span style="margin-left:11.5px;">H</span><span style="color:#2a9d8f;margin-left:3px;">1345.8</span><span style="margin-left:11.5px;">L</span><span style="color:#2a9d8f;margin-left:3px;">1302.2</span><span style="margin-left:11.5px;">C</span><span style="color:#2a9d8f;margin-left:3px;">1345.0</span><span style="color:#2a9d8f;margin-left:12px;">+42.0 (+3.22%)</span></div>

<div class="legend" style="top:67px;"><span>Volume - Khối lượng</span><span class="g" style="margin-left:9px;">20</span><span style="color:#45aaa2;margin-left:17px;">297.034K</span><span style="color:#3a3d47;margin-left:12px;">227.847K</span></div>
<div class="legend" style="left:41.3px;top:115px;"><span>MA</span><span class="g" style="margin-left:9.7px;">20 close 0</span><span style="color:#2c6e2f;margin-left:17px;">1301.3</span></div>
<div class="legend" style="left:41.3px;top:163px;"><span>MA</span><span class="g" style="margin-left:9.7px;">10 close 0</span><span style="color:#000;margin-left:17px;">1311.0</span></div>
<div class="legend h" style="left:40.5px;top:211px;"><span>Ichimoku</span><span style="margin-left:10.5px;">9 26 52 26 26</span></div>
<div class="legend h" style="left:40.5px;top:259px;"><span>BB</span><span style="margin-left:9.5px;">20 2</span></div>
<div class="legend" style="left:41.3px;top:307px;"><span>MA</span><span class="g" style="margin-left:9.7px;">200 close 0</span><span style="color:#86184f;margin-left:17px;">1294.8</span></div>
<div class="legend" style="left:41.3px;top:355px;"><span>MA</span><span class="g" style="margin-left:9.7px;">50 close 0</span><span style="color:#f3ee78;margin-left:17px;">1329.1</span></div>
<div class="legend" style="left:41.3px;top:403px;"><span>MA</span><span class="g" style="margin-left:9.7px;">100 close 0</span><span style="color:#40434d;margin-left:17px;">1313.0</span></div>

<!-- eye icons -->
<svg class="abs" style="left:332px;top:212px;" width="34" height="28" viewBox="0 0 34 28"><g fill="none" stroke="#131722" stroke-width="2.1" stroke-linecap="round"><path d="M1.700 13.700C2.600 9.500 8.500 2.600 16.900 2.600S31.300 9.500 32.300 13.700C31.300 18.200 25.300 25 16.900 25S2.600 18.200 1.700 13.700Z"/><circle cx="16.900" cy="13.800" r="5.400"/><path d="M27.600 2.700L6.200 25.400" stroke="#fff" stroke-width="6.400" stroke-linecap="butt"/><path d="M28.300 1.900L5.400 26.200"/></g></svg>
<svg class="abs" style="left:154px;top:260px;" width="34" height="28" viewBox="0 0 34 28"><g fill="none" stroke="#131722" stroke-width="2.1" stroke-linecap="round"><path d="M1.700 13.700C2.600 9.500 8.500 2.600 16.900 2.600S31.300 9.500 32.300 13.700C31.300 18.200 25.300 25 16.900 25S2.600 18.200 1.700 13.700Z"/><circle cx="16.900" cy="13.800" r="5.400"/><path d="M27.600 2.700L6.200 25.400" stroke="#fff" stroke-width="6.400" stroke-linecap="butt"/><path d="M28.300 1.900L5.400 26.200"/></g></svg>

<!-- collapse button -->
<div class="abs" style="left:42.5px;top:447px;width:57px;height:40px;box-sizing:border-box;border:1.5px solid #d3d5db;border-radius:5px;background:#fff;"></div>
<svg class="abs" style="left:60px;top:458px;" width="22" height="18" viewBox="0 0 22 18"><path d="M3 13L11 5.500L19 13" fill="none" stroke="#131722" stroke-width="2.6" stroke-linecap="round" stroke-linejoin="round"/></svg>

<!-- big text -->
<div class="big">F1 - Phái Sinh</div>

<!-- price axis -->
<div class="ax" style="top:16.3px;">2600.0</div>
<div class="ax" style="top:120.4px;">2400.0</div>
<div class="ax" style="top:224.500px;">2200.0</div>
<div class="ax" style="top:328.6px;">2000.0</div>
<div class="ax" style="top:536.7px;">1600.0</div>
<div class="ax" style="top:640.8px;">1400.0</div>
<div class="ax" style="top:744.9px;">1200.0</div>
<div class="ax" style="top:849px;">1000.0</div>
<div class="ax" style="top:953.1px;">800.0</div>
<div class="ax" style="top:1057.2px;">600.0</div>
<div class="ax" style="top:1161.3px;">400.0</div>
<div class="ax" style="top:1265.3px;">200.0</div>
<div class="ax" style="top:1369.4px;">0.0</div>
<div class="ax" style="top:1473.5px;">−200.0</div>
<div class="ax" style="top:1577.6px;">−400.0</div>

<div class="lab" style="top:2px;height:33px;line-height:25px;background:#131722;border-radius:0 0 4px 0;">2630.8</div>
<div class="lab" style="top:313px;background:#22a18c;color:#d9fff6;">2024.3</div>
<div class="lab" style="top:355px;background:#000;">1942.3</div>
<div class="lab" style="top:388.500px;background:#256029;color:#d8ffe2;">1893.4</div>
<div class="lab" style="top:422.500px;background:#fdea4e;color:#131722;">1844.3</div>
<div class="lab" style="top:494px;background:#444753;">1675.9</div>
<div class="lab" style="top:580.500px;background:#880e4f;">1508.6</div>
<div class="lab" style="top:1432px;width:140px;background:#434651;">273.682K</div>
<div class="lab" style="top:1536px;width:126px;background:#2cb390;">107.52K</div>

<!-- time axis -->
<div class="yr" style="left:303.5px;">2018</div>
<div class="yr" style="left:552.6px;">2019</div>
<div class="yr" style="left:803.4px;">2020</div>
<div class="yr" style="left:1055.4px;">2021</div>
<div class="yr" style="left:1304.7px;">2022</div>
<div class="yr" style="left:1554.4px;">2023</div>
<div class="yr" style="left:1803.2px;">2024</div>
<div class="yr" style="left:2302.6px;">2026</div>
<div class="yr" style="left:2563.4px;">2027</div>
<div class="abs dt" style="left:1889px;top:1622px;width:290px;height:42px;background:#131722;color:#fff;font-size:24px;line-height:58px;letter-spacing:0.7px;white-space:nowrap;box-sizing:border-box;padding-left:18px;overflow:hidden;">05 Tháng Mười hai '24</div>

<!-- settings icon -->
<svg class="abs" style="left:2760px;top:1634px;" width="38" height="30" viewBox="0 0 38 30"><path d="M11.200 5H26.800L33.700 17L26.800 29H11.200L4.300 17Z" fill="none" stroke="#131722" stroke-width="2" stroke-linejoin="miter"/><circle cx="19" cy="17" r="4.100" fill="none" stroke="#131722" stroke-width="1.800"/></svg>

<!-- TradingView logo -->
<div class="abs" style="left:48px;top:1531px;width:66px;height:66px;box-sizing:border-box;border:2px solid #e3e4e8;border-radius:50%;background:#fff;"></div>
<svg class="abs" style="left:58px;top:1552px;" width="48" height="26" viewBox="0 0 48 26"><path d="M2 2.4H20.100V24H12V9.900H2Z" fill="#131722"/><circle cx="26" cy="5.800" r="3.900" fill="#131722"/><path d="M35.100 2.400H44.800L36 24H26.400Z" fill="#131722"/></svg>

<!-- left panel handle -->
<div class="abs" style="left:5px;top:1595px;width:15px;height:52px;box-sizing:border-box;border:1.5px solid #e3e5ea;border-radius:7px;background:#fff;"></div>
<svg class="abs" style="left:8px;top:1612px;" width="10" height="18" viewBox="0 0 10 18"><path d="M7 2L3 9L7 16" fill="none" stroke="#9da0a8" stroke-width="1.6" stroke-linecap="round" stroke-linejoin="round"/></svg>
</body>
</html>
